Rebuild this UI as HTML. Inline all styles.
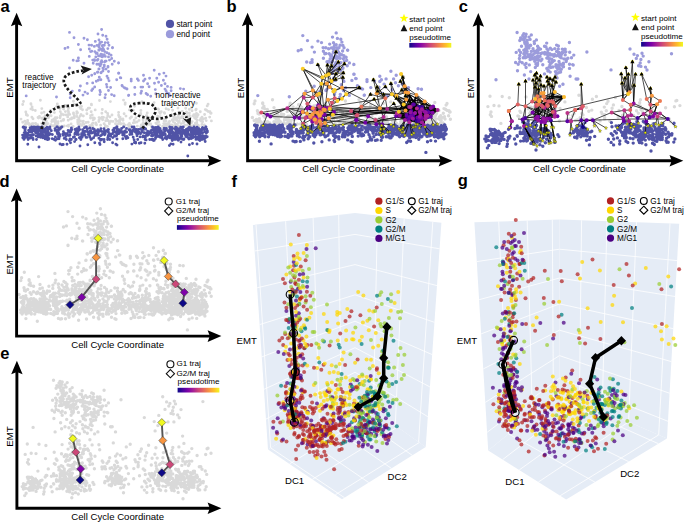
<!DOCTYPE html><html><head><meta charset="utf-8"><style>html,body{margin:0;padding:0;background:#fff;width:685px;height:522px;overflow:hidden}svg{display:block}text{font-family:"Liberation Sans",sans-serif}</style></head><body><svg width="685" height="522" viewBox="0 0 685 522"><defs><linearGradient id="plasma" x1="0" x2="1" y1="0" y2="0"><stop offset="0" stop-color="#0d0887"/><stop offset="0.13" stop-color="#4c02a1"/><stop offset="0.25" stop-color="#7e03a8"/><stop offset="0.38" stop-color="#a92395"/><stop offset="0.5" stop-color="#cc4778"/><stop offset="0.63" stop-color="#e56b5d"/><stop offset="0.75" stop-color="#f89441"/><stop offset="0.88" stop-color="#fdc328"/><stop offset="1" stop-color="#f0f921"/></linearGradient></defs><text x=".4" y="11.8" font-size="16.5" font-weight="bold">a</text><path d="M77.7 119.9h0M187.8 125.3h0M147.1 125.1h0M45.3 118h0M182.3 111.4h0M201.4 119.9h0M193.6 125.4h0M129.4 123.5h0M47.9 123.6h0M57 117.7h0M198.2 125.1h0M126 116.1h0M54.7 118.6h0M189.7 119.8h0M143.2 122.8h0M129.4 109.9h0M92.2 114.9h0M98.9 121.6h0M66 114.9h0M27.3 123.5h0M188.2 124.3h0M109.8 116.9h0M125.1 104.2h0M81.9 125.4h0M164.3 112.7h0M24.8 121.2h0M91.5 125.5h0M25.8 112h0M43.6 123.6h0M205.7 118.1h0M146.3 115.7h0M102.2 117.3h0M120.6 124h0M187.6 117.6h0M86.1 122.5h0M133.3 122.9h0M151.3 126.6h0M88.2 122.2h0M119.7 119.6h0M166.9 124.3h0M194.6 117.8h0M49 115.4h0M199.2 126.6h0M21 119.1h0M164.6 113.2h0M175.6 127h0M46.3 121.2h0M100.4 118.2h0M176.5 119.3h0M22.7 122.3h0M140.7 113.5h0M172.3 120h0M118.5 123.5h0M159.4 125h0M63.5 120.2h0M58.1 121.7h0M89.7 125.6h0M54.4 121.6h0M86.4 126.6h0M202 117.2h0M130.1 126.1h0M85.3 126.5h0M72.1 118.4h0M202.8 118.8h0M105.3 126.6h0M208.2 111.5h0M119 121.1h0M120.1 117.3h0M192.1 110.7h0M162.6 126.5h0M131.5 117h0M101.9 113.3h0M188.6 117.2h0M99 120.3h0M197.2 116.8h0M33.2 123.6h0M102.6 119.7h0M119.7 120.5h0M202.6 121.8h0M68.2 120.2h0M174.8 123.1h0M149.9 118.3h0M157.7 116.1h0M140.9 110.5h0M206.5 110.2h0M83.9 124.1h0M96.5 124.8h0M59 126.7h0M29.7 125.6h0M60.9 126.6h0M195.8 109.8h0M181.3 117.6h0M41.6 113h0M135.9 117.9h0M112 115h0M134.2 120.3h0M146.6 119.6h0M78.9 118.3h0M204.6 114.5h0M109.4 123.8h0M140.6 114.5h0M142 101.6h0M55.3 122.3h0M31.9 117.3h0M99 117.6h0M166.7 117.3h0M176.5 124.4h0M160.2 113.4h0M41.7 118.2h0M195.4 114.5h0M174 119.6h0M188.5 123.4h0M120.5 119.2h0M195.8 110h0M29 123.5h0M25.8 126.7h0M23.9 126.2h0M68.5 126.2h0M67.7 116.9h0M56 126.4h0M128.9 126.7h0M27.5 115.4h0M133.4 110.2h0M51.9 125.8h0M150.2 120.1h0M24 126.4h0M79.6 121.5h0M200.2 120.3h0M123.4 126.5h0M175.8 117.6h0M146.3 121.5h0M137.3 126.1h0M56.7 124.7h0M130.3 125.4h0M27.6 120.5h0M173.9 118.5h0M204.3 124.9h0M184 122.1h0M29.7 124.9h0M85 127h0M81.1 114.7h0M41.6 126.4h0M140.3 114.9h0M173.1 121.5h0M80.2 124.4h0M185.7 108.3h0M173 126.2h0M44.8 125.6h0M167.2 125.6h0M189.5 123.2h0M57.9 123.6h0M130.1 118.2h0M142.6 124.6h0M137 122h0M38.5 126.2h0M146.9 116.2h0M141.3 124.9h0M178.2 125.7h0M174.3 125.7h0M82.8 123h0M158.6 122h0M186.5 112h0M191.4 122.9h0M51 124.8h0M25.1 124.4h0M145 123.6h0M61.2 121.1h0M128.2 124.7h0M201.4 121.3h0M92.8 123.1h0M68.5 125.1h0M107.6 113.4h0M146.2 122.2h0M39.4 116.5h0M93.1 117.9h0M45.7 124.9h0M147.2 113h0M179.5 118.5h0M92.4 125.7h0M91.4 104.2h0M123.6 123.6h0M61.3 113.6h0M67.5 115.3h0M83.3 121.3h0M107.8 115.5h0M35.7 123.7h0M164.5 124.6h0M131.2 111.3h0M77.5 112.7h0M34.9 126.1h0M166.5 124.8h0M45.2 115.7h0M45.6 120.7h0M45.1 123.2h0M35.6 123.4h0M194 126h0M71.7 118h0M78.8 120h0M179.9 126.5h0M139 120.4h0M55.9 121.7h0M103.5 117.4h0M189.7 123.4h0M92.1 124.2h0M156.5 123.7h0M38.6 118h0M159.6 112.2h0M169.1 121.8h0M178.5 126.5h0M149.4 124.2h0M91.2 111.7h0M32.3 123.7h0M119.6 121.6h0M165.4 119.2h0M56.6 106.7h0M71.1 124h0M122.9 118.9h0M163.7 123.6h0M192.1 121.6h0M44.1 126.9h0M55.4 120.2h0M173.5 102.2h0M143.7 125.9h0M158.4 122.1h0M211.4 120.9h0M200.3 111.7h0M181.9 116.8h0M169.2 124.2h0M95.8 124.3h0M143.1 119.9h0M55.4 122.1h0M165.8 126.6h0M165.5 118.8h0M158.5 109.4h0M105.4 125.6h0M92.6 126.6h0M100.6 125.2h0M26.4 114.9h0M182.1 126.7h0M124.1 113.8h0M94.4 118.3h0M125.2 125.3h0M158.6 125.2h0M93.2 119.9h0M179.5 117.6h0M196.5 113.4h0M94.4 118.8h0M46.5 124h0M166 121.1h0M210.6 113.3h0M48.4 117.7h0M156.8 122.6h0M178.5 122.6h0M196.7 122.7h0M43.7 117.7h0M37.6 124.8h0M209.7 117.1h0M42.4 118.8h0M53.9 119.3h0M130.4 125.2h0M105.7 120.7h0M164.1 120.9h0M56.6 124.7h0M195.6 118.7h0M61.7 126.3h0M167.7 123.8h0M33 118.8h0M110.9 121.3h0M26.3 123h0M80.3 116.1h0M79.9 106.9h0M158.2 109h0M107.4 126.4h0M30.9 125h0M211.1 113.2h0M190.6 125.9h0M195.9 118.2h0M67.3 125.9h0M95.7 122.9h0M63.6 119.5h0M44 112.2h0M26.3 114.1h0M116.6 121h0M43.6 120.2h0M53.9 125.7h0M185.2 125.1h0M113 121.4h0M55.3 124h0M148.6 122.5h0M71 119h0M121.2 123.7h0M74.3 117.8h0M119.1 116.8h0M140.7 126.8h0M123 120.3h0M96 123.8h0M171.8 125h0M187.7 120.7h0M54.4 112.6h0M46.2 117.7h0M41.7 123.6h0M208.1 104.2h0M200.8 118.4h0M64.3 126h0M206.2 120.6h0M59.9 108.5h0M117.2 124.9h0M115.5 123.7h0M195.7 116.1h0M27.8 122.6h0M80.5 121h0M135.2 122.4h0M32.7 109.7h0M65.4 111.6h0M109.3 121.9h0M189.1 120.8h0M166.1 108.8h0M179.2 121.3h0M166.1 125.3h0M155.9 123.1h0M183.1 120.9h0M150.8 123.9h0M161.3 111.8h0M77.9 123.7h0M52.2 120.3h0M165.3 124h0M51.8 121.6h0M196.5 123.9h0M134.6 106.2h0M83.3 116h0M80.6 108.6h0M99.5 100.5h0M118.6 112.4h0M75.5 104.5h0M35.3 110.5h0M55.3 117.6h0M48.4 117.2h0M64 126.1h0M76.8 113.6h0M31 104.3h0M82.5 109.7h0M41.8 108.6h0M81.5 106.5h0M72.6 118h0M68.1 110.5h0M73.4 101.2h0M63.1 119.9h0M61.5 114.2h0M38 117.5h0M74.3 115.7h0M115.6 119.4h0M118.6 115.3h0M104.1 123.7h0M90.5 118h0M60.1 117.7h0M106.7 117.9h0M73.8 104.8h0M73.5 113.8h0M68.6 113.2h0M77 116.5h0M65.4 105.5h0M73.2 126.4h0M51.1 115.7h0M66.8 106.5h0M125.2 103h0M73.5 113h0M69.7 114.4h0M86.7 110h0M90.6 115.6h0M50.5 110.5h0M70.4 118.9h0M95.2 109.9h0M80.9 114.7h0M77.7 121.9h0M60.1 107.9h0M76.8 111.7h0M63.6 109.1h0M107.8 120.5h0M32.1 107h0M60.3 111.6h0M63.4 114.8h0M89.6 108.1h0M88.3 108.3h0M105.7 111.7h0M40.4 100.3h0M91.5 104.9h0M68.5 112.1h0M60.4 116h0M86.9 113.7h0M160.2 116.7h0M178.5 115.2h0M196.2 109.2h0M192.8 115.9h0M183.9 121.3h0M172.6 110.2h0M193.8 114.6h0M176.9 120h0M168.6 109.6h0M173.8 117.1h0M205.3 109.6h0M188.1 122.8h0M198.1 114.7h0M176.6 120.4h0M182.8 116.7h0M195.7 125.3h0M178 108.1h0M183.8 122.3h0M189.6 115.7h0M201.9 124.5h0M178.2 117.1h0M160.6 112h0M181.1 117.7h0M185.2 120.4h0M186.5 116.2h0M203.4 118.9h0M189.4 112.9h0M196.4 103.2h0M169.6 121.4h0M197.2 120.2h0M195.8 116.4h0M188.5 122.2h0M187.2 113.3h0M210 111.8h0M172 114.9h0M183.4 123.1h0M191.4 107.7h0M195.4 123.2h0M178.9 112.2h0M189.3 109.4h0M181.1 123.6h0M22.7 104.5h0M154.1 102.6h0M57.3 104h0M110.4 101.6h0M207.2 105.9h0M123.5 100.1h0M30.9 108.9h0M102.3 109.5h0M146.8 103.9h0M30.9 103.6h0M68.5 108.3h0M23.5 101.5h0" fill="none" stroke="#d9d9d9" stroke-width="2.9" stroke-linecap="round"/><path d="M69.5 32.4h0M101.6 29.5h0M74 37.7h0M84 38.2h0M87.4 39.8h0M98 34h0M102.7 35.3h0M106 36.3h0M107.1 39.3h0M108 42.7h0M95.3 41.4h0M99 40h0M100 42.7h0M101.6 42.1h0M78.4 44.5h0M89 45.1h0M91.6 45.3h0M94.3 46.4h0M99 46.9h0M102.2 45.8h0M104.3 45.3h0M112.4 47.7h0M65 48.5h0M67.9 47.4h0M89.3 49h0M80.6 49.8h0M90.6 51.6h0M94.8 51.6h0M96.9 52.9h0M100.6 49h0M102.2 50.6h0M104.8 51.6h0M106.9 52.7h0M109 53.7h0M111.1 55.3h0M89.3 56.4h0M95.8 56.9h0M100 55.8h0M102.2 56.9h0M105.3 56.4h0M108.5 56.9h0M111.7 58.5h0M78.4 58h0M78.4 60.6h0M73.2 60.3h0M76.9 60.9h0M92.7 60.1h0M98 59.5h0M101.6 60.6h0M105.3 61.1h0M109.5 60.1h0M114.3 61.3h0M118.5 63h0M93.2 63.2h0M96.9 64.3h0M101.1 64.3h0M104.3 65.3h0M108 66.4h0M112.2 64.3h0M84 63.2h0M69.5 68h0M99 69h0M103.2 69.5h0M108.5 71.4h0M118.5 73.2h0M97.4 72.2h0M94.8 73.8h0M101.1 72.7h0M98.8 69.1h0M102.9 68.1h0M106 69.1h0M108 67h0M108.5 71.6h0M100.9 72.7h0M97.8 72.2h0M94.7 73.7h0M91.7 75.2h0M88.6 76.8h0M118.8 73.2h0M120.3 77.8h0M116.7 79.8h0M99.3 77.3h0M100.9 79.8h0M98.3 80.3h0M96.3 81.3h0M92.7 82.9h0M107 76.2h0M108 78.3h0M109 80.8h0M87.1 83.4h0M106.5 84.4h0M107 87h0M110.6 87.5h0M80.4 86h0M94.7 87h0M92.7 89h0M91.7 90.5h0M99.9 90.5h0M100.4 92.1h0M108.5 90.5h0M122.3 86h0M124.9 88h0M127 89h0M79.4 90.5h0M85 92.1h0M87.6 93.6h0M83 95.1h0M72.3 91.1h0M70.2 94.1h0M70.2 97.7h0M99.9 94.6h0M105.5 94.6h0M105 97.7h0M111.6 94.6h0M114.2 95.7h0M128.5 95.5h0M154.2 70.2h0M159.3 74.3h0M163.9 73.1h0M166 76.1h0M143.5 75.3h0M149.6 78.2h0M156.8 78.2h0M145 79.2h0M143.5 81h0M137.4 78.9h0M138.4 80.4h0M131.2 79.2h0M131.2 81h0M120.8 77.9h0M163.4 80.2h0M158.6 82.3h0M154.5 83.3h0M147.6 83.7h0M165 83.7h0M149.1 86.8h0M161.4 85.5h0M167.5 86.4h0M171.1 87.4h0M122 85.5h0M124.1 87.6h0M126.6 88.8h0M134.8 87.4h0M141 87.1h0M142.7 87.1h0M155.3 89.6h0M165 89.1h0M166 90.7h0M171.1 90.7h0M180.3 88.6h0M183.6 89.1h0M141.5 91.2h0M140.9 93.2h0M146.1 93.5h0M147.6 94.7h0M150.7 96.3h0M134.8 94.5h0M128.7 95.3h0M155.8 93.7h0M167 92.7h0M169 93.7h0M170.1 95.8h0M112.6 47.8h0M118.6 62.9h0M26.2 95.9h0M56.5 97h0M103 48.5h0M104.3 54.7h0M101.8 62.1h0M99 50.3h0M101 54.1h0M98.5 55.9h0M103.3 55.5h0M109 45.2h0M100.8 55.6h0M100.2 65.9h0M105.2 42.6h0M104.6 61.9h0M103.5 56h0M98.8 49.9h0M102.9 71h0M106.1 61.1h0M97 45.4h0M100.9 55.6h0M94.4 59.6h0M97.2 53.5h0M94.7 60.5h0M101.9 54.5h0M97.3 60.3h0M104.2 66.5h0M103.7 49.6h0M102.2 56.6h0M91.7 51.3h0M100.6 56h0M102.8 45.5h0M103.5 50.4h0M96.1 53.4h0M100.9 62.2h0M98.6 64.2h0M99.4 44.4h0M107.8 48.6h0" fill="none" stroke="#9b9bdb" stroke-width="2.9" stroke-linecap="round"/><path d="M171.1 133.3h0M75.7 139.5h0M155.7 130.3h0M84.3 134h0M134 127h0M193.8 128.2h0M32.6 138h0M171.8 129.4h0M122.7 135h0M92.6 132.8h0M87.3 129h0M35.3 131.7h0M70.3 131h0M137.8 131.1h0M40.6 135.9h0M146.3 135.5h0M200.5 130.8h0M203.9 129.6h0M187 134.1h0M171.7 132.6h0M55.4 136.9h0M202 139.5h0M60 136.2h0M183.3 132.9h0M184.9 132.3h0M137.6 129.7h0M118.9 129.6h0M59.6 129.2h0M118.6 131.5h0M76.3 131.4h0M45.8 135.8h0M46.2 131.5h0M170.7 132.2h0M193.1 128.4h0M48.7 139.2h0M25 134.9h0M71.3 139.5h0M47.4 136h0M57.4 138.7h0M130.4 132.1h0M100.6 135.7h0M101.9 139.5h0M60.5 128.4h0M145.4 137.5h0M76.1 139.5h0M96.3 134.6h0M108.2 135.9h0M189.8 137.9h0M68.1 130.5h0M155.5 134.6h0M79.7 129.6h0M188 130.4h0M95.4 130.6h0M116 132.4h0M184.8 133.6h0M147 134.8h0M40 127.5h0M47.8 139.5h0M205.8 137.5h0M27.9 135.8h0M78.2 131.6h0M199.9 132.7h0M25.3 135.1h0M52.4 134.6h0M62 127h0M38.5 135.9h0M109.8 139.5h0M132.1 127h0M81.4 136.9h0M42.6 134.4h0M172.5 132.6h0M171.3 138.3h0M126.5 128.4h0M48 133.6h0M122.8 138.7h0M139 132.2h0M101.7 131.4h0M182.3 133.4h0M94.7 131.3h0M117 139h0M43.6 129.5h0M126.8 136.4h0M164.3 128.1h0M157.8 135.6h0M70 132.6h0M206 127h0M155.7 133h0M100.9 128.8h0M99.3 131.3h0M166.7 139h0M55 128.6h0M140.8 128.9h0M155.5 138.6h0M118 133.5h0M184 139h0M109.2 134.3h0M108.5 129.6h0M75.2 132.7h0M192.6 137.8h0M81 136.7h0M151.1 133h0M98.2 133.2h0M195.6 132.6h0M197.9 130.7h0M28.1 139.5h0M206.5 133h0M134.4 128.6h0M36.2 131.1h0M114.5 135.8h0M31.7 135.5h0M124 132.5h0M56.8 130.4h0M90.6 133.1h0M78.9 127h0M133.9 127.9h0M174.6 136.1h0M195.8 131.1h0M83.3 134.5h0M127.9 137.8h0M23.6 135.5h0M91.4 133.1h0M200.2 139.5h0M44.5 135.6h0M183.4 131.6h0M143.2 135.9h0M76.9 134.6h0M166.5 129.7h0M76 133.3h0M188 132.4h0M37.8 127h0M44.5 132.3h0M161.3 131.9h0M105.6 131.3h0M49.8 127h0M117.5 131.6h0M77.4 132.8h0M124.1 133.4h0M160.1 128.6h0M181 135.5h0M33.4 128.3h0M132.1 132.1h0M204.5 138.1h0M107.6 130.3h0M164.9 131h0M40.5 137.2h0M184.1 131.5h0M130.2 131.8h0M186.8 133.9h0M168.1 137.1h0M183.3 127h0M33.1 129.8h0M154.9 129.1h0M58.9 128.8h0M71.7 129.7h0M82.6 129.7h0M131.9 134.2h0M138.7 129.5h0M194.8 133.5h0M24.9 134.6h0M58.3 130.2h0M89.5 133.5h0M173.8 139.4h0M124.2 134.3h0M117.2 130.5h0M163.1 132.7h0M143.7 129.4h0M76.1 134.1h0M38.6 136.4h0M108 129.8h0M185.3 132.2h0M133.2 137.3h0M32.4 131.1h0M103.9 133.7h0M93.7 129h0M130.2 129.8h0M131.1 131h0M198.5 139.5h0M85 131.4h0M98 131h0M136 130.9h0M186.5 132.4h0M153.1 135.5h0M109.6 133.7h0M173.2 139.5h0M112.3 133.8h0M200.8 138.5h0M74.8 134.1h0M46.1 135.3h0M176.1 127.5h0M77.5 132.5h0M179.3 132.7h0M135.2 132.1h0M116.7 127h0M38.6 136.3h0M168 131.5h0M34.7 131.3h0M201.1 132h0M184.7 132.1h0M78.5 134.5h0M46.2 128.2h0M186.3 129.5h0M111.3 134.1h0M45.6 133.6h0M114.7 131.6h0M68.2 130.8h0M97.9 129.8h0M140.9 132.8h0M191.8 137.5h0M170.7 129h0M52.3 138.8h0M110.8 136.2h0M113.5 131.3h0M205.6 136h0M38.6 127.4h0M117 127h0M191.7 128.1h0M96.3 131.4h0M70.9 131.8h0M125.3 131h0M81.7 133.4h0M194 127h0M38.2 134.9h0M60.7 127.6h0M38 130.5h0M154.2 131.4h0M76.7 128.6h0M189 127.8h0M187.8 129.2h0M195.7 133h0M69.9 135.2h0M22.6 135.1h0M94.2 129.2h0M200.6 130h0M163.8 129.5h0M33.5 134.7h0M152.5 127h0M192.2 137.7h0M201.5 131.2h0M155 130h0M182.2 134.3h0M178.2 136.9h0M88.8 134.3h0M40.8 137h0M157.1 133.5h0M47.8 137.7h0M93.6 137.7h0M206.7 132.6h0M126.1 138.5h0M119 133.6h0M197.9 133.3h0M75 129.5h0M207.4 131.9h0M191.2 136h0M89.8 128h0M83 135.5h0M45.9 134.3h0M191.9 134.1h0M56.9 127h0M24.2 132.6h0M187.2 135.5h0M133.2 130.1h0M146.8 133.3h0M158.1 127h0M30.4 135.6h0M39.5 130.5h0M115 136.3h0M31.8 127h0M115.8 135.6h0M158.7 132.1h0M144.1 136.1h0M136.6 129.5h0M31.1 130.6h0M66.3 139.5h0M188.5 129.8h0M45.3 130.3h0M121.1 131.9h0M31.8 129.1h0M196.3 137.5h0M54.2 139.5h0M98.4 130.3h0M123.7 127h0M155.5 137.5h0M195.9 137.2h0M158.7 136.1h0M86.8 137.4h0M36.4 129.7h0M153.4 132.4h0M202.4 127.7h0M25.6 127.6h0M165.8 136.7h0M55.1 130.4h0M107.6 139.5h0M119.2 133.3h0M136.2 130.6h0M205.6 136h0M149.7 139.5h0M95.1 134.8h0M154.8 128.4h0M108.8 134.4h0M98.9 138.2h0M90.1 131.1h0M113.8 130.1h0M74.5 136.9h0M67.3 133.5h0M50 128.8h0M103.9 131.6h0M76.8 130.1h0M177.3 134.1h0M179.4 133.4h0M86.1 137.4h0M137 135.7h0M189.4 127.1h0M88.9 134.5h0M125.1 136.4h0M104.6 134.7h0M142.8 136.9h0M200.1 130.9h0M48.1 129.4h0M201.1 136.5h0M145.7 129h0M169.7 127h0M140 136.9h0M183.5 130.2h0M82.9 131.8h0M153.5 127.7h0M71.4 128h0M116.6 128.6h0M148.6 131.6h0M59.7 134.4h0M33.8 127h0M168.8 135.9h0M172.2 128.5h0M145.6 128.9h0M82 135.6h0M144.3 132.7h0M38 127.2h0M145.1 139.5h0M129.1 129.7h0M136.7 133.9h0M105.2 133.8h0M64.2 138.4h0M156.8 131.3h0M108.4 136.8h0M160.4 130.2h0M89.9 137.3h0M38.7 130.1h0M122.9 131.6h0M137.7 139.5h0M193 134.2h0M186.7 133.4h0M33.1 139.5h0M165.3 134.4h0M70.9 129.9h0M151.5 135.8h0M92.7 128.5h0M82.1 137.3h0M112.8 137.6h0M120.6 130.8h0M151 130.6h0M140.5 133.7h0M148 133.1h0M93.6 129.3h0M147.8 135.2h0M86.4 127h0M134.9 131.4h0M107.5 131.5h0M126.6 132h0M25.7 134.2h0M114.8 128.3h0M63.2 135.2h0M93.9 132.3h0M36.1 130.5h0M144 127.8h0M187.8 128.5h0M88.1 134.4h0M41.9 129.3h0M137.2 133.2h0M46 137h0M187.4 136.9h0M45.2 138.9h0M89.4 131.9h0M114 128.9h0M44.3 136.9h0M81.5 134.2h0M73.4 137.3h0M154.5 133h0M205 137.5h0M89.6 136.2h0M168.8 135.7h0M48.5 134.9h0M129.8 134.5h0M102.6 133.9h0M75.8 133.9h0M174.5 136.8h0M160.6 131.1h0M47.3 139.5h0M76.6 132.6h0M174.1 136.7h0M206.1 132.7h0M135.6 132.1h0M183.8 139.5h0M204.6 131.8h0M159.5 128.1h0M141.8 130.3h0M63.4 131.8h0M91 139.5h0M137.9 133.8h0M193.9 136.6h0M78.3 129.2h0M95.6 134.3h0M26.6 135.6h0M151.4 139.5h0M104.6 130.4h0M170.1 135.3h0M65.7 134.1h0M144.5 129.1h0M147 132.9h0M108.4 132h0M57.4 127h0M97 135.3h0M160.3 135.1h0M57.5 131.3h0M39.2 127.9h0M108.1 138.6h0M65.9 134h0M170.6 136.9h0M173.7 138.4h0M197.4 131h0M177.9 136.1h0M142.3 132.1h0M57.1 132.8h0M174.8 132.7h0M157.2 133h0M160.7 137.2h0M151.5 133.5h0M176.1 132.4h0M77.6 131.9h0M146.9 134.3h0M118.2 129.6h0M85 131.1h0M83 132.8h0M51.3 130.8h0M113.4 132.5h0M90.7 130.7h0M100.5 139.5h0M180.1 138.1h0M148.6 134.7h0M148.3 132.8h0M204.5 139.5h0M62.8 134.2h0M116.5 132.7h0M39.6 134.2h0M95.2 134.2h0M198.3 138.4h0M38.4 132.9h0M162.7 139.5h0M182.6 129.6h0M116.7 135.6h0M170.1 129.2h0M104.1 139.5h0M87.9 131.7h0M116.1 132.8h0M58.5 136.5h0M79.4 137.8h0M79 128.8h0M205.4 131.7h0M84.5 127.7h0M64.8 133.5h0M196.4 132.6h0M48.1 131.7h0M201.2 130.4h0M180.4 131.5h0M142.2 130.2h0M101.6 135h0M59 138.8h0M42.1 127h0M41.7 132.6h0M87.1 131.4h0M97.8 134.9h0M193.4 129.4h0M121.7 132.4h0M205.8 129h0M155.9 135.6h0M49.6 133.4h0M124.9 132.4h0M52 134.4h0M29.8 132.1h0M197.1 127.1h0M85 135.3h0M57.6 134.1h0M41.3 132.4h0M143.1 136.7h0M107.8 137.6h0M24.7 128.8h0M154.8 130h0M70 138.9h0M166.9 138.4h0M112.9 130.2h0M121.6 128.5h0M107.1 130.6h0M147.6 131.1h0M205.7 127h0M170.1 133.1h0M35.3 128.1h0M114 128.4h0M65.8 136.5h0M41.4 130.4h0M58.6 132.7h0M68.4 135.4h0M200 136.1h0M160.3 131.7h0M180.3 133.2h0M151.8 129.9h0M80.9 139.5h0M94.9 135.5h0M104 128.8h0M76.8 133h0M100.5 135.7h0M165.2 134.8h0M36.5 139.5h0M186.6 134.9h0M177.5 131.7h0M179.3 128.9h0M190.6 134.8h0M183.5 133.1h0M199.9 131.3h0M179 130.2h0M175.4 135.7h0M207.4 131h0M185.2 134.2h0M191.6 130.2h0M181.8 136.4h0M181.8 131.7h0M188.1 133h0M200.7 138.6h0M176.3 136h0M202.2 136.2h0M207.2 131.2h0M193.2 137.5h0M186.7 131.8h0M182.6 139.4h0M180.9 138.2h0M185.5 135.2h0M202.7 137.4h0M175.1 133.8h0M200.5 136.2h0M196.7 128.6h0M175.6 139.4h0M177.3 137h0M198.9 128.8h0M196.9 130h0M185.2 134.2h0M203 136.5h0M181.8 128.9h0M188.9 139h0M178.7 131.3h0M196 139.4h0M177.8 136.4h0M180.8 133.1h0M199.9 131.5h0M191.3 128.2h0M196.5 128.1h0M198.9 134.9h0M194.7 136.7h0M181.4 138.3h0M197.7 131.6h0M178.8 138.7h0M183.8 130.7h0M189.6 138.7h0M178.7 138.5h0M178.4 128.9h0M196.2 137.8h0M199.1 135.8h0M187 135.8h0M187.7 137.5h0M181.7 133.7h0M192 133.3h0M193.9 131.6h0M205.3 137.8h0M176.3 138.3h0M204.5 129h0M207.2 136.7h0M186.3 130.4h0M198.6 129.3h0M201.8 129.5h0M196.2 134.2h0M184.4 130.5h0M195.2 130h0M203.5 128.2h0M178.5 131.1h0M190.6 136.7h0M175.7 127.3h0M202.5 133h0M200.3 134.5h0M176.5 127.6h0M199.2 130.7h0M197.5 138.3h0M179.1 139.4h0M192.1 137.6h0M197.4 129.1h0M185.9 136.6h0M191.4 132.6h0M206.7 129.1h0M195.7 133h0M191.3 138.5h0M177.1 138h0M178.9 131.9h0M202.7 127.8h0M199.1 138.3h0M202.1 139.3h0M193.8 133.4h0M193.7 129.8h0M192.2 133.8h0M198.9 135.7h0M185.7 133h0M191.1 131.4h0M190.3 130.1h0M196.5 130.7h0M182 127.6h0M175.8 130.2h0M177.9 138.9h0M180.8 127.1h0M202.9 136.1h0M198.3 136.9h0M199.4 132.1h0M189.4 134.4h0M178.3 129.8h0M190.1 135.4h0M203 135.8h0M191.5 136.2h0M36 133.1h0M49.2 134.8h0M46.3 135.5h0M38.2 136.9h0M41.3 130.2h0M30.1 127.9h0M48.4 132.6h0M40.2 129h0M47.1 127.2h0M30.4 138h0M49.5 134.5h0M25.4 132h0M37.1 128.6h0M25.5 136.1h0M27.7 133.4h0M43.5 129.1h0M24.3 138.8h0M33 138.4h0M27.8 138.1h0M45.9 136.9h0M24.8 133.4h0M31.8 130.6h0M46 134.8h0M41.4 128.8h0M41.8 134.4h0M49.8 127.8h0M23.1 127.2h0M40.8 135.6h0M43 131.1h0M43.1 135.4h0M42.1 136.4h0M24.5 137h0M24.8 134.4h0M43.8 137.2h0M39.3 134.9h0M29.7 138.1h0M22.8 137.8h0M37.2 127.5h0M25 130.2h0M43.1 131.7h0M31.9 130h0M44.7 129.1h0M25.1 137.5h0M36.1 127.3h0M25.2 129.2h0M44 136.1h0M37.9 129.7h0M29 130.1h0M49 138.6h0M41.3 136.2h0M31.7 132.4h0M46 128.6h0M32.9 130.2h0M48.4 138.8h0M30.7 136.5h0M49.6 127.8h0M24.2 135.5h0M42.7 131.5h0M30.5 135.6h0M34.2 130.5h0M40 128.6h0M23.8 127.2h0M28.6 130.5h0M25.4 137.3h0M42.8 137.7h0M28.6 135.2h0M36.2 136h0M31.5 129.3h0M29 131.3h0M48.2 137.8h0M174.7 128.7h0M161.1 131.9h0M169.4 133.8h0M173.3 133.6h0M174.9 137.7h0M157.4 136.4h0M166.4 128.5h0M159.7 137h0M161.6 133.6h0M161.5 135.1h0M157 128.9h0M150.5 132.7h0M169.2 135.4h0M167.4 136.6h0M171 136.7h0M153.8 129.6h0M155.9 137h0M164.9 133.8h0M173.4 135h0M161.8 137.2h0M155 131.9h0M164.9 138h0M173.9 137.6h0M171.7 136.7h0M172.5 131.6h0M160.3 133.3h0M156.6 129.1h0M171.8 136.1h0M169.7 137.7h0M171.3 128.9h0M159.8 135.9h0M157.2 135.3h0M156 127.4h0M171.8 138h0M173 132.7h0M159.2 130.2h0M171.9 127.4h0M159.5 136.4h0M161.2 131.1h0M164.2 133.2h0M155.5 129.3h0M156.7 134.3h0M156.7 131.8h0M156.5 136.7h0M162.9 135h0M152.5 135.7h0M169.5 130h0M154.4 127.8h0M161.1 137.6h0M166 138.2h0M141 142.8h0M192.5 143.5h0M152.7 139.1h0M134.1 139.7h0M99.5 143.3h0M87.8 144.7h0M112.6 142.8h0M63.2 144.5h0M101.1 139.4h0M115.9 144.3h0M27.8 144.3h0M94.8 142.8h0M74.6 141.6h0M139.3 143.2h0M172.2 140.5h0M135.7 143h0M144.8 143.2h0M135.6 142.2h0M69.4 140.6h0M91.6 139h0M178.2 140.2h0M197 144h0M55.5 140.3h0M24 139.4h0M199.9 140.5h0M181 142.1h0M134.4 142.5h0M173.1 144.3h0M131.9 144.1h0M189.4 144.8h0M67 144.3h0M104.2 141.7h0M146.1 139.9h0M61.9 144.7h0M154.2 140.4h0M70.5 142.7h0M153.4 140.6h0M170.8 143.9h0M100.5 140.2h0M205.2 141.5h0M39 147h0M187.8 156h0M169.4 145.5h0M117 145h0M80 146h0M60 144h0M100 144.5h0" fill="none" stroke="#5053a6" stroke-width="2.9" stroke-linecap="round"/><path d="M16.6 23.7V160.7H210.4" fill="none" stroke="#000" stroke-width="2.9"/><path d="M16.6 12.7L22.3 26.3L16.6 24.1L10.9 26.3Z" fill="#000"/><path d="M221.4 160.7L207.6 154.9L209.8 160.7L207.6 166.5Z" fill="#000"/><text transform="translate(12.6 87.6) rotate(-90)" font-size="9.7" text-anchor="middle">EMT</text><text x="117.6" y="171.8" font-size="9.6" text-anchor="middle">Cell Cycle Coordinate</text><circle cx="170" cy="23.9" r="4.1" fill="#5053a6"/><circle cx="170" cy="34.2" r="4.1" fill="#9b9bdb"/><text x="176.4" y="26.8" font-size="8.2">start point</text><text x="176.4" y="37.1" font-size="8.2">end point</text><text x="39.2" y="79.6" font-size="8.2" text-anchor="middle">reactive</text><text x="39.2" y="87.9" font-size="8.2" text-anchor="middle">trajectory</text><text x="178.1" y="97.8" font-size="8.2" text-anchor="middle">non-reactive</text><text x="178.2" y="105.9" font-size="8.2" text-anchor="middle">trajectory</text><path d="M41.6 129C44 118 50 108 62 106.5S79 106 80.4 103C78 98 66 90 64 82.5S72 72 83 70.5" fill="none" stroke="#1a1a1a" stroke-width="2.7" stroke-dasharray="2.6 2"/><path d="M91.9 68.9L80.6 65.6L83.4 70.2L81.6 74.6Z" fill="#1a1a1a"/><path d="M142.3 128.4C148 121 156 116 155.5 110S148 102.5 139 103.2S128 107 133 112S146 118 155 118.8S172 114 179 113.2S186 116 186.5 118" fill="none" stroke="#1a1a1a" stroke-width="2.7" stroke-dasharray="2.6 2"/><path d="M190.3 125.7L182.4 117.9L186.6 119.6L191.2 117.2Z" fill="#1a1a1a"/><text x="-.5" y="186.6" font-size="16.5" font-weight="bold">d</text><path d="M76.3 295.3h0M187.4 300.5h0M146.4 300.2h0M43.6 293.5h0M181.8 287.2h0M201.1 295.4h0M193.2 300.6h0M128.5 298.7h0M46.3 298.9h0M55.4 293.2h0M197.8 300.3h0M125.1 291.7h0M53.1 294.1h0M189.3 295.2h0M142.4 298.1h0M128.4 285.8h0M91 290.5h0M97.7 297h0M64.5 290.5h0M25.5 298.8h0M187.8 299.6h0M108.7 292.4h0M124.2 280.3h0M80.5 300.6h0M163.6 288.4h0M23 296.5h0M90.2 300.7h0M24 287.7h0M41.9 298.8h0M205.4 293.6h0M145.5 291.3h0M101 292.9h0M119.5 299.2h0M187.2 293.1h0M84.8 297.8h0M132.4 298.2h0M150.5 301.7h0M86.9 297.5h0M118.6 295h0M166.3 299.5h0M194.2 293.3h0M47.3 291h0M198.9 301.7h0M19.1 294.5h0M164 288.9h0M175.1 302.1h0M44.6 296.5h0M99.2 293.7h0M176 294.8h0M20.8 297.6h0M139.8 289.2h0M171.7 295.4h0M117.5 298.8h0M158.7 300.2h0M61.9 295.6h0M56.5 297h0M88.4 300.8h0M52.8 296.9h0M85.1 301.7h0M201.8 292.8h0M129.2 301.2h0M84 301.7h0M70.7 293.9h0M202.5 294.3h0M104.2 301.8h0M208 287.3h0M118 296.5h0M119 292.8h0M191.8 286.6h0M162 301.6h0M130.6 292.6h0M100.7 289h0M188.2 292.7h0M97.8 295.7h0M196.8 292.4h0M31.4 298.8h0M101.4 295.2h0M118.7 295.9h0M202.3 297.1h0M66.7 295.6h0M174.2 298.4h0M149.1 293.7h0M157 291.7h0M140.1 286.3h0M206.3 286.1h0M82.5 299.4h0M95.2 300h0M57.4 301.8h0M27.9 300.7h0M59.3 301.7h0M195.4 285.7h0M180.8 293.2h0M39.9 288.7h0M135 293.4h0M110.9 290.6h0M133.3 295.7h0M145.8 295h0M77.5 293.8h0M204.3 290.1h0M108.3 299.1h0M139.8 290.1h0M141.1 277.8h0M53.7 297.6h0M30.1 292.8h0M97.8 293.1h0M166.1 292.8h0M176 299.7h0M159.5 289.1h0M40 293.7h0M195 290.2h0M173.5 295h0M188.1 298.6h0M119.5 294.6h0M195.5 285.8h0M27.1 298.7h0M23.9 301.8h0M22 301.4h0M67 301.3h0M66.2 292.4h0M54.4 301.5h0M127.9 301.8h0M25.6 291h0M132.5 286h0M50.2 300.9h0M149.4 295.5h0M22.2 301.5h0M78.2 296.9h0M199.9 295.7h0M122.4 301.6h0M175.3 293.1h0M145.6 296.9h0M136.4 301.2h0M55.1 300h0M129.4 300.5h0M25.8 295.8h0M173.4 293.9h0M204.1 300.1h0M183.5 297.4h0M27.9 300.1h0M83.7 302.1h0M79.7 290.4h0M39.9 301.5h0M139.5 290.5h0M172.6 296.8h0M78.9 299.6h0M185.2 284.2h0M172.5 301.3h0M43.1 300.8h0M166.6 300.7h0M189.1 298.5h0M56.3 298.9h0M129.2 293.7h0M141.8 299.8h0M136.1 297.3h0M36.7 301.3h0M146.2 291.7h0M140.5 300.1h0M177.7 300.9h0M173.7 300.9h0M81.5 298.3h0M158 297.4h0M186.1 287.8h0M191.1 298.1h0M49.4 300h0M23.3 299.7h0M144.2 298.8h0M59.7 296.5h0M127.3 299.9h0M201.1 296.6h0M91.6 298.4h0M67 300.3h0M106.5 289.1h0M145.4 297.5h0M37.7 292h0M91.8 293.4h0M44 300.1h0M146.4 288.7h0M179 294h0M91.1 300.8h0M90.1 280.3h0M122.6 298.9h0M59.7 289.3h0M66 290.9h0M82 296.6h0M106.7 291.1h0M33.9 298.9h0M163.9 299.8h0M130.3 287.1h0M76.1 288.4h0M33.1 301.2h0M165.9 300h0M43.5 291.2h0M43.9 296.1h0M43.4 298.4h0M33.8 298.7h0M193.7 301.2h0M70.2 293.5h0M77.4 295.5h0M179.4 301.6h0M138.2 295.8h0M54.3 297.1h0M102.3 292.9h0M189.3 298.7h0M90.8 299.4h0M155.8 299h0M36.8 293.5h0M159 288h0M168.5 297.1h0M178.1 301.6h0M148.7 299.5h0M89.9 287.5h0M30.5 299h0M118.6 296.9h0M164.8 294.7h0M55.1 282.7h0M69.7 299.2h0M121.9 294.4h0M163.1 298.8h0M191.8 296.9h0M42.4 302h0M53.8 295.6h0M173 278.3h0M142.9 301h0M157.8 297.4h0M211.2 296.2h0M200 287.5h0M181.4 292.3h0M168.6 299.4h0M94.6 299.5h0M142.3 295.3h0M53.8 297.5h0M165.2 301.8h0M164.9 294.3h0M157.8 285.2h0M104.3 300.7h0M91.3 301.7h0M99.4 300.4h0M24.5 290.5h0M181.6 301.8h0M123.2 289.5h0M93.2 293.8h0M124.2 300.5h0M157.9 300.4h0M92 295.3h0M179 293.1h0M196.2 289.1h0M93.1 294.2h0M44.8 299.2h0M165.4 296.4h0M210.4 289h0M46.7 293.2h0M156.1 297.9h0M178 297.9h0M196.4 298h0M42 293.2h0M35.9 300h0M209.5 292.7h0M40.7 294.3h0M52.3 294.8h0M129.5 300.3h0M104.5 296.1h0M163.5 296.3h0M55 299.9h0M195.2 294.2h0M60.2 301.5h0M167.1 299.1h0M31.2 294.2h0M109.8 296.7h0M24.4 298.3h0M78.9 291.7h0M78.6 282.8h0M157.5 284.9h0M106.2 301.6h0M29.1 300.2h0M210.9 288.9h0M190.2 301h0M195.6 293.7h0M65.8 301.1h0M94.4 298.2h0M62.1 295h0M42.3 287.9h0M24.5 289.7h0M115.6 296.4h0M41.9 295.6h0M52.2 300.9h0M184.8 300.3h0M111.9 296.8h0M53.7 299.2h0M147.9 297.8h0M69.6 294.4h0M120.2 299h0M72.9 293.3h0M118.1 292.4h0M139.8 301.9h0M122 295.7h0M94.7 299.1h0M171.3 300.2h0M187.3 296.1h0M52.8 288.4h0M44.5 293.2h0M40 298.9h0M207.9 280.3h0M200.5 293.9h0M62.8 301.1h0M206 296h0M58.3 284.4h0M116.2 300.1h0M114.4 299h0M195.3 291.7h0M25.9 297.9h0M79.2 296.3h0M134.3 297.7h0M30.9 285.5h0M63.9 287.4h0M108.2 297.2h0M188.7 296.2h0M165.5 284.6h0M178.7 296.6h0M165.5 300.4h0M155.2 298.4h0M182.7 296.2h0M150.1 299.2h0M160.6 287.5h0M76.5 298.9h0M50.6 295.7h0M164.6 299.3h0M50.2 296.9h0M196.2 299.2h0M133.7 282.2h0M81.9 291.6h0M79.2 284.5h0M98.2 276.7h0M117.5 288.1h0M74.1 280.6h0M33.6 286.3h0M53.7 293.1h0M46.8 292.7h0M62.4 301.3h0M75.3 289.3h0M29.1 280.4h0M81.2 285.6h0M40 284.5h0M80.2 282.5h0M71.1 293.5h0M66.6 286.3h0M72 277.4h0M61.6 295.3h0M60 289.9h0M36.2 293h0M72.9 291.3h0M114.5 294.9h0M117.5 290.9h0M102.9 298.9h0M89.2 293.5h0M58.6 293.3h0M105.6 293.4h0M72.3 280.9h0M72 289.5h0M67.1 288.9h0M75.6 292h0M63.9 281.5h0M71.7 301.6h0M49.5 291.3h0M65.3 282.5h0M124.2 279.2h0M72 288.7h0M68.3 290h0M85.4 285.8h0M89.3 291.2h0M48.9 286.3h0M69 294.3h0M94 285.8h0M79.6 290.4h0M76.3 297.2h0M58.5 283.9h0M75.4 287.5h0M62 285h0M106.7 295.9h0M30.2 282.9h0M58.7 287.4h0M61.8 290.4h0M88.3 284.1h0M87 284.2h0M104.5 287.4h0M38.6 276.6h0M90.2 280.9h0M67.1 287.9h0M58.8 291.6h0M85.6 289.4h0M159.5 292.3h0M178 290.8h0M195.8 285h0M192.4 291.5h0M183.5 296.6h0M172 286h0M193.5 290.2h0M176.4 295.4h0M168 285.4h0M173.2 292.6h0M205 285.5h0M187.7 298.1h0M197.8 290.3h0M176.1 295.8h0M182.3 292.3h0M195.4 300.5h0M177.5 284h0M183.4 297.6h0M189.2 291.3h0M201.7 299.7h0M177.7 292.7h0M160 287.7h0M180.6 293.2h0M184.8 295.8h0M186.1 291.8h0M203.2 294.4h0M189 288.6h0M196 279.3h0M169 296.7h0M196.8 295.6h0M195.5 292h0M188.1 297.5h0M186.7 289h0M209.8 287.5h0M171.5 290.5h0M183 298.4h0M191.1 283.6h0M195.1 298.4h0M178.4 287.9h0M188.9 285.3h0M180.6 298.8h0M20.8 280.6h0M153.4 278.7h0M55.7 280.1h0M109.3 277.8h0M207 281.9h0M122.5 276.3h0M29.1 284.8h0M101.1 285.4h0M146 280h0M29.1 279.7h0M67 284.2h0M21.6 277.7h0M68 211.6h0M100.4 208.8h0M72.6 216.6h0M82.7 217.1h0M86.1 218.7h0M96.8 213.1h0M101.5 214.4h0M104.9 215.3h0M106 218.2h0M106.9 221.4h0M94.1 220.2h0M97.8 218.8h0M98.8 221.4h0M100.4 220.9h0M77 223.2h0M87.7 223.7h0M90.3 223.9h0M93 225h0M97.8 225.5h0M101 224.4h0M103.1 223.9h0M111.3 226.2h0M63.5 227h0M66.4 225.9h0M88 227.5h0M79.2 228.2h0M89.3 230h0M93.6 230h0M95.7 231.2h0M99.4 227.5h0M101 229h0M103.6 230h0M105.8 231h0M107.9 232h0M110 233.5h0M88 234.5h0M94.6 235h0M98.8 234h0M101 235h0M104.1 234.5h0M107.4 235h0M110.6 236.6h0M77 236.1h0M77 238.6h0M71.8 238.3h0M75.5 238.9h0M91.4 238.1h0M96.8 237.5h0M100.4 238.6h0M104.1 239h0M108.4 238.1h0M113.2 239.2h0M117.5 240.9h0M91.9 241.1h0M95.7 242.1h0M99.9 242.1h0M103.1 243.1h0M106.9 244.1h0M111.1 242.1h0M82.7 241.1h0M68 245.6h0M97.8 246.6h0M102 247.1h0M107.4 248.9h0M117.5 250.6h0M96.2 249.7h0M93.6 251.2h0M99.9 250.1h0M97.6 246.7h0M101.7 245.7h0M104.9 246.7h0M106.9 244.7h0M107.4 249.1h0M99.7 250.1h0M96.6 249.7h0M93.5 251.1h0M90.4 252.5h0M87.3 254.1h0M117.8 250.6h0M119.3 255h0M115.7 256.9h0M98.1 254.5h0M99.7 256.9h0M97.1 257.4h0M95.1 258.4h0M91.4 259.9h0M105.9 253.5h0M106.9 255.5h0M107.9 257.9h0M85.8 260.4h0M105.4 261.3h0M105.9 263.8h0M109.5 264.3h0M79 262.9h0M93.5 263.8h0M91.4 265.7h0M90.4 267.2h0M98.7 267.2h0M99.2 268.7h0M107.4 267.2h0M121.3 262.9h0M123.9 264.8h0M126 265.7h0M78 267.2h0M83.7 268.7h0M86.3 270.1h0M81.6 271.6h0M70.9 267.8h0M68.7 270.6h0M68.7 274.1h0M98.7 271.1h0M104.3 271.1h0M103.8 274.1h0M110.5 271.1h0M113.1 272.2h0M127.6 272h0M153.5 247.8h0M158.6 251.7h0M163.3 250.5h0M165.4 253.4h0M142.7 252.6h0M148.8 255.4h0M156.1 255.4h0M144.2 256.4h0M142.7 258.1h0M136.5 256.1h0M137.5 257.5h0M130.3 256.4h0M130.3 258.1h0M119.8 255.1h0M162.8 257.3h0M157.9 259.3h0M153.8 260.3h0M146.8 260.7h0M164.4 260.7h0M148.3 263.6h0M160.8 262.4h0M166.9 263.3h0M170.5 264.2h0M121 262.4h0M123.1 264.4h0M125.6 265.6h0M133.9 264.2h0M140.2 263.9h0M141.9 263.9h0M154.6 266.3h0M164.4 265.8h0M165.4 267.4h0M170.5 267.4h0M179.8 265.4h0M183.2 265.8h0M140.7 267.8h0M140.1 269.8h0M145.3 270h0M146.8 271.2h0M150 272.7h0M133.9 271h0M127.8 271.8h0M155.1 270.2h0M166.4 269.3h0M168.4 270.2h0M169.5 272.3h0M111.5 226.3h0M117.6 240.8h0M24.3 272.3h0M54.9 273.4h0M101.8 227h0M103.2 233h0M100.6 240h0M97.8 228.7h0M99.8 232.3h0M97.3 234.1h0M102.1 233.7h0M107.9 223.8h0M99.6 233.8h0M99 243.6h0M104.1 221.4h0M103.4 239.8h0M102.3 234.1h0M97.6 228.3h0M101.7 248.5h0M105 239h0M95.7 224h0M99.7 233.8h0M93.2 237.6h0M96 231.8h0M93.5 238.4h0M100.8 232.7h0M96.1 238.3h0M103.1 244.2h0M102.5 228h0M101 234.8h0M90.4 229.7h0M99.4 234.2h0M101.6 224.1h0M102.3 228.8h0M94.9 231.7h0M99.7 240.1h0M97.4 242h0M98.2 223.1h0M106.6 227.1h0M170.5 308.1h0M74.2 314.1h0M155 305.2h0M83 308.8h0M133.1 302.1h0M193.4 303.3h0M30.7 312.7h0M171.3 304.4h0M121.7 309.8h0M91.4 307.6h0M86 304.1h0M33.6 306.6h0M68.8 306h0M136.9 306.1h0M38.8 310.6h0M145.6 310.2h0M200.2 305.8h0M203.7 304.6h0M186.6 308.9h0M171.2 307.5h0M53.8 311.6h0M201.7 314.1h0M58.4 310.9h0M182.8 307.7h0M184.5 307.2h0M136.7 304.7h0M117.9 304.6h0M58 304.2h0M117.6 306.4h0M74.9 306.3h0M44.1 310.6h0M44.5 306.4h0M170.2 307.1h0M192.8 303.4h0M47.1 313.8h0M23.1 309.7h0M69.8 314.1h0M45.7 310.7h0M55.8 313.3h0M129.5 306.9h0M99.4 310.5h0M100.7 314.1h0M59 303.4h0M144.7 312.1h0M74.6 314h0M95.1 309.4h0M107.1 310.6h0M189.4 312.5h0M66.6 305.4h0M154.8 309.4h0M78.4 304.6h0M187.6 305.3h0M94.2 305.6h0M114.9 307.3h0M184.3 308.4h0M146.2 309.5h0M38.2 302.6h0M46.1 314.1h0M205.5 312.2h0M26 310.6h0M76.8 306.5h0M199.6 307.5h0M23.4 309.9h0M50.7 309.4h0M60.4 302.1h0M36.7 310.6h0M108.7 314.1h0M131.2 302.1h0M80 311.6h0M40.9 309.2h0M172 307.4h0M170.8 313h0M125.5 303.4h0M46.3 308.5h0M121.8 313.3h0M138.1 307.1h0M100.5 306.3h0M181.9 308.3h0M93.4 306.2h0M116 313.6h0M41.9 304.5h0M125.8 311.1h0M163.7 303.2h0M157.1 310.4h0M68.6 307.5h0M205.7 302.1h0M155 307.8h0M99.7 303.9h0M98.1 306.2h0M166.1 313.6h0M53.4 303.7h0M140 303.9h0M154.8 313.2h0M117 308.3h0M183.6 313.6h0M108.1 309.1h0M107.4 304.6h0M73.7 307.6h0M192.2 312.4h0M79.6 311.4h0M150.4 307.9h0M97 308h0M195.2 307.4h0M197.6 305.7h0M26.2 314.1h0M206.2 307.9h0M133.5 303.6h0M34.4 306.1h0M113.4 310.6h0M29.8 310.2h0M123.1 307.3h0M55.2 305.4h0M89.3 307.9h0M77.5 302.1h0M133 303h0M174.1 310.8h0M195.4 306.1h0M82 309.3h0M126.9 312.4h0M21.7 310.3h0M90.1 307.9h0M199.9 314.1h0M42.8 310.3h0M183 306.5h0M142.4 310.6h0M75.5 309.4h0M165.9 304.7h0M74.6 308.1h0M187.6 307.2h0M36.1 302.1h0M42.8 307.2h0M160.6 306.8h0M104.4 306.2h0M48.1 302.1h0M116.4 306.5h0M76 307.7h0M123.1 308.2h0M159.4 303.6h0M180.5 310.2h0M31.6 303.3h0M131.2 307h0M204.2 312.7h0M106.4 305.3h0M164.3 305.9h0M38.8 311.9h0M183.7 306.4h0M129.3 306.7h0M186.4 308.7h0M167.5 311.8h0M182.9 302.1h0M31.3 304.8h0M154.2 304.1h0M57.4 303.8h0M70.2 304.7h0M81.2 304.7h0M131 309h0M137.8 304.5h0M194.5 308.3h0M23 309.3h0M56.7 305.1h0M88.2 308.3h0M173.3 314h0M123.3 309.1h0M116.2 305.5h0M162.5 307.6h0M142.9 304.4h0M74.7 308.9h0M36.9 311.1h0M106.9 304.8h0M184.9 307.1h0M132.3 312h0M30.5 306h0M102.7 308.5h0M92.4 304h0M129.3 304.8h0M130.2 305.9h0M198.2 314.1h0M83.7 306.4h0M96.8 305.9h0M135.1 305.8h0M186.1 307.2h0M152.4 310.2h0M108.5 308.5h0M172.7 314.1h0M111.2 308.6h0M200.5 313.1h0M73.3 308.9h0M44.4 310.1h0M175.6 302.6h0M76.1 307.4h0M178.8 307.6h0M134.4 307h0M115.6 302.1h0M36.8 311.1h0M167.4 306.4h0M32.9 306.3h0M200.8 306.9h0M184.3 307h0M77.2 309.3h0M44.5 303.2h0M185.9 304.5h0M110.2 308.9h0M43.9 308.4h0M113.7 306.5h0M66.7 305.8h0M96.7 304.8h0M140.1 307.6h0M191.5 312.1h0M170.1 304h0M50.7 313.4h0M109.7 310.9h0M112.4 306.2h0M205.3 310.7h0M36.8 302.5h0M115.9 302.1h0M191.3 303.2h0M95.1 306.4h0M69.5 306.7h0M124.4 306h0M80.4 308.2h0M193.7 302.1h0M36.4 309.7h0M59.2 302.7h0M36.3 305.4h0M153.5 306.3h0M75.3 303.6h0M188.6 302.9h0M187.4 304.2h0M195.4 307.8h0M68.4 310h0M20.7 309.9h0M93 304.2h0M200.3 305h0M163.2 304.5h0M31.7 309.5h0M151.7 302.1h0M191.8 312.4h0M201.2 306.1h0M154.3 305h0M181.7 309.1h0M177.7 311.6h0M87.5 309.1h0M39.1 311.7h0M156.4 308.3h0M46.2 312.3h0M92.3 312.4h0M206.5 307.5h0M125.1 313.1h0M118 308.5h0M197.5 308.2h0M73.6 304.5h0M207.2 306.8h0M190.8 310.7h0M88.5 303.1h0M81.7 310.2h0M44.2 309.1h0M191.5 308.9h0M55.3 302.1h0M22.3 307.5h0M186.7 310.2h0M132.2 305.1h0M146 308.2h0M157.5 302.1h0M28.6 310.3h0M37.7 305.4h0M113.9 311h0M30 302.1h0M114.7 310.4h0M158.1 307h0M143.3 310.8h0M135.7 304.5h0M29.3 305.6h0M64.8 314.1h0M188.1 304.8h0M43.6 305.3h0M120.1 306.8h0M29.9 304.1h0M195.9 312.2h0M52.6 314.1h0M97.1 305.3h0M122.7 302.1h0M154.7 312.1h0M195.6 311.9h0M158.1 310.8h0M85.4 312.1h0M34.7 304.7h0M152.7 307.2h0M202.1 302.8h0M23.8 302.7h0M165.2 311.4h0M53.5 305.4h0M106.5 314.1h0M118.2 308.1h0M135.3 305.5h0M205.3 310.8h0M148.9 314.1h0M93.8 309.6h0M154.1 303.4h0M107.7 309.2h0M97.7 312.9h0M88.9 306.1h0M112.7 305h0M73.1 311.5h0M65.8 308.4h0M48.3 303.8h0M102.8 306.5h0M75.3 305.1h0M176.8 308.9h0M178.9 308.2h0M84.8 312h0M136.2 310.4h0M189 302.2h0M87.6 309.3h0M124.1 311.1h0M103.4 309.5h0M142 311.6h0M199.8 305.9h0M46.5 304.4h0M200.8 311.2h0M144.9 304h0M169.2 302.1h0M139.2 311.6h0M183.1 305.2h0M81.5 306.7h0M152.8 302.8h0M69.9 303h0M115.6 303.6h0M147.8 306.5h0M58.1 309.2h0M32 302.1h0M168.2 310.6h0M171.6 303.6h0M144.9 304h0M80.6 310.3h0M143.5 307.6h0M36.3 302.3h0M144.3 314.1h0M128.2 304.7h0M135.8 308.8h0M104 308.6h0M62.6 313h0M156.1 306.2h0M107.2 311.5h0M159.7 305.2h0M88.6 311.9h0M37 305.1h0M121.9 306.5h0M136.9 314.1h0M192.7 309h0M186.3 308.3h0M31.3 314.1h0M164.7 309.2h0M69.4 304.9h0M150.7 310.5h0M91.4 303.6h0M80.7 312h0M111.7 312.2h0M119.6 305.8h0M150.2 305.6h0M139.7 308.5h0M147.2 307.9h0M92.3 304.3h0M147 309.9h0M85.1 302.1h0M134 306.3h0M106.4 306.4h0M125.7 306.9h0M23.9 309h0M113.7 303.4h0M61.7 310h0M92.6 307.2h0M34.4 305.5h0M143.2 302.9h0M187.4 303.5h0M86.8 309.2h0M40.2 304.3h0M136.4 308.1h0M44.3 311.7h0M187 311.6h0M43.5 313.5h0M88.2 306.8h0M112.9 303.9h0M42.6 311.6h0M80.1 309h0M72 311.9h0M153.8 307.9h0M204.7 312.2h0M88.3 310.9h0M168.2 310.5h0M46.8 309.7h0M128.9 309.3h0M101.4 308.7h0M74.4 308.7h0M174 311.5h0M159.9 306h0M45.6 314.1h0M75.2 307.5h0M173.6 311.4h0M205.9 307.5h0M134.8 307h0M183.3 314.1h0M204.3 306.7h0M158.8 303.2h0M141 305.3h0M61.9 306.7h0M89.7 314.1h0M137 308.6h0M193.5 311.3h0M76.9 304.2h0M94.4 309.1h0M24.8 310.3h0M150.7 314.1h0M103.4 305.3h0M169.5 310h0M64.2 309h0M143.7 304.1h0M146.2 307.8h0M107.3 306.9h0M55.8 302.1h0M95.8 310h0M159.7 309.8h0M55.9 306.3h0M37.4 303h0M107 313.2h0M64.4 308.8h0M170 311.5h0M173.2 313h0M197.1 306h0M177.4 310.8h0M141.5 307h0M55.5 307.6h0M174.2 307.5h0M156.5 307.8h0M160 311.9h0M150.8 308.3h0M175.5 307.3h0M76.2 306.8h0M146.1 309.1h0M117.2 304.6h0M83.7 306h0M81.6 307.7h0M49.6 305.8h0M112.4 307.4h0M89.4 305.6h0M99.3 314.1h0M179.6 312.7h0M147.8 309.5h0M147.6 307.7h0M204.3 314.1h0M61.3 309h0M115.4 307.5h0M37.9 309h0M93.9 309h0M198 313h0M36.6 307.8h0M162 314.1h0M182.1 304.6h0M115.6 310.4h0M169.5 304.2h0M102.9 314.1h0M86.6 306.6h0M115 307.6h0M57 311.2h0M78 312.4h0M77.6 303.8h0M205.1 306.6h0M83.2 302.8h0M63.3 308.4h0M196 307.5h0M46.5 306.6h0M200.9 305.4h0M179.9 306.4h0M141.4 305.1h0M100.5 309.8h0M57.4 313.4h0M40.4 302.1h0M40 307.4h0M85.8 306.3h0M96.6 309.6h0M193 304.4h0M120.7 307.3h0M205.5 304.1h0M155.2 310.4h0M47.9 308.2h0M123.9 307.3h0M50.4 309.2h0M27.9 307h0M196.8 302.2h0M83.7 310h0M56 308.9h0M39.6 307.3h0M142.3 311.4h0M106.7 312.3h0M22.8 303.9h0M154.1 305h0M68.5 313.5h0M166.3 313h0M111.8 305.2h0M120.6 303.6h0M105.9 305.5h0M146.8 306h0M205.4 302.1h0M169.5 308h0M33.5 303.2h0M113 303.4h0M64.3 311.2h0M39.7 305.4h0M57 307.6h0M66.9 310.1h0M199.8 310.8h0M159.6 306.6h0M179.8 308h0M151 304.8h0M79.5 314.1h0M93.6 310.2h0M102.9 303.8h0M75.4 307.9h0M99.3 310.4h0M164.6 309.6h0M34.7 314.1h0M186.2 309.7h0M177 306.6h0M178.8 303.9h0M190.2 309.6h0M183.1 307.9h0M199.6 306.2h0M178.5 305.2h0M174.9 310.4h0M207.2 305.9h0M184.7 309h0M191.2 305.2h0M181.4 311.1h0M181.3 306.6h0M187.7 307.8h0M200.4 313.2h0M175.8 310.7h0M201.9 310.9h0M206.9 306.2h0M192.8 312.2h0M186.3 306.7h0M182.1 313.9h0M180.5 312.8h0M185.1 310h0M202.4 312.1h0M174.6 308.6h0M200.2 310.9h0M196.4 303.6h0M175.1 313.9h0M176.8 311.7h0M198.6 303.8h0M196.5 305h0M184.8 309h0M202.7 311.2h0M181.4 303.9h0M188.5 313.6h0M178.2 306.2h0M195.6 314h0M177.3 311.1h0M180.4 307.9h0M199.6 306.4h0M190.9 303.3h0M196.2 303.2h0M198.5 309.6h0M194.4 311.4h0M181 313h0M197.4 306.5h0M178.3 313.3h0M183.3 305.7h0M189.2 313.4h0M178.2 313.1h0M178 304h0M195.9 312.4h0M198.8 310.5h0M186.6 310.5h0M187.3 312.2h0M181.3 308.5h0M191.6 308.2h0M193.5 306.5h0M205.1 312.5h0M175.8 312.9h0M204.3 304h0M207 311.3h0M185.8 305.4h0M198.3 304.3h0M201.5 304.5h0M195.8 309h0M183.9 305.5h0M194.9 305h0M203.2 303.3h0M178 306h0M190.2 311.4h0M175.2 302.4h0M202.2 307.9h0M200 309.3h0M176 302.7h0M198.9 305.6h0M197.2 313h0M178.6 314h0M191.7 312.3h0M197.1 304.1h0M185.5 311.3h0M191 307.5h0M206.5 304.2h0M195.3 307.9h0M190.9 313.1h0M176.6 312.6h0M178.4 306.8h0M202.4 302.9h0M198.8 312.9h0M201.9 313.9h0M193.4 308.2h0M193.4 304.8h0M191.9 308.6h0M198.6 310.4h0M185.3 307.9h0M190.8 306.3h0M189.9 305.1h0M196.2 305.7h0M181.6 302.7h0M175.3 305.2h0M177.4 313.5h0M180.4 302.2h0M202.6 310.8h0M198 311.5h0M199.1 307h0M189 309.2h0M177.8 304.8h0M189.7 310.1h0M202.8 310.6h0M191.2 310.9h0M34.2 307.9h0M47.5 309.6h0M44.6 310.2h0M36.5 311.5h0M39.5 305.1h0M28.2 303h0M46.8 307.5h0M38.5 304.1h0M45.4 302.3h0M28.6 312.7h0M47.9 309.3h0M23.5 306.9h0M35.3 303.7h0M23.7 310.9h0M25.9 308.2h0M41.8 304.1h0M22.4 313.4h0M31.2 313h0M25.9 312.8h0M44.2 311.6h0M22.9 308.2h0M29.9 305.6h0M44.4 309.6h0M39.7 303.8h0M40.1 309.2h0M48.1 302.9h0M21.3 302.3h0M39 310.3h0M41.3 306h0M41.4 310.1h0M40.4 311.1h0M22.6 311.7h0M22.9 309.2h0M42 311.8h0M37.6 309.7h0M27.9 312.8h0M20.9 312.4h0M35.4 302.6h0M23.1 305.2h0M41.4 306.6h0M30.1 305h0M43 304.1h0M23.3 312.1h0M34.3 302.4h0M23.4 304.2h0M42.3 310.8h0M36.1 304.7h0M27.1 305.1h0M47.3 313.2h0M39.5 310.9h0M29.9 307.3h0M44.3 303.7h0M31.1 305.2h0M46.8 313.4h0M28.8 311.2h0M47.9 302.9h0M22.3 310.2h0M41 306.4h0M28.7 310.4h0M32.4 305.5h0M38.3 303.6h0M21.9 302.3h0M26.8 305.5h0M23.5 312h0M41.1 312.3h0M26.7 310h0M34.4 310.7h0M29.7 304.3h0M27.2 306.2h0M46.6 312.4h0M174.1 303.7h0M160.4 306.8h0M168.8 308.6h0M172.8 308.4h0M174.4 312.4h0M156.7 311.1h0M165.7 303.5h0M159.1 311.7h0M161 308.4h0M160.9 309.9h0M156.3 303.9h0M149.7 307.5h0M168.6 310.1h0M166.8 311.3h0M170.5 311.4h0M153.1 304.6h0M155.2 311.7h0M164.3 308.6h0M172.9 309.8h0M161.2 311.9h0M154.3 306.8h0M164.3 312.7h0M173.4 312.2h0M171.1 311.4h0M171.9 306.5h0M159.6 308.2h0M155.9 304.1h0M171.2 310.8h0M169.1 312.3h0M170.7 304h0M159.1 310.7h0M156.5 310.1h0M155.3 302.5h0M171.2 312.6h0M172.4 307.6h0M158.5 305.2h0M171.3 302.5h0M158.9 311.1h0M160.5 306h0M163.5 308h0M154.8 304.3h0M156 309.1h0M156 306.7h0M155.8 311.4h0M162.3 309.8h0M151.8 310.4h0M168.9 305h0M153.7 302.8h0M160.4 312.2h0M165.4 312.9h0M140.2 317.2h0M192.2 317.9h0M151.9 313.7h0M133.2 314.2h0M98.3 317.7h0M86.5 319h0M111.5 317.2h0M61.6 318.8h0M99.9 313.9h0M114.9 318.7h0M25.9 318.6h0M93.6 317.2h0M73.2 316.1h0M138.5 317.6h0M171.6 315h0M134.8 317.4h0M144 317.6h0M134.7 316.7h0M67.9 315.1h0M90.3 313.6h0M177.7 314.7h0M196.7 318.4h0M53.9 314.8h0M22.1 314h0M199.6 315h0M180.6 316.6h0M133.5 317h0M172.6 318.6h0M131 318.5h0M189 319.2h0M65.5 318.7h0M103 316.2h0M145.3 314.4h0M60.3 319.1h0M153.5 314.9h0M69.1 317.2h0M152.6 315.1h0M170.2 318.3h0M99.3 314.7h0M204.9 316h0M37.3 321.2h0M187.4 329.9h0M168.8 319.8h0M116 319.3h0M78.6 320.3h0M58.4 318.4h0M98.8 318.9h0M68 245.2h0M87.1 253.8h0M90.6 252h0M93.1 250.6h0M95.9 257.5h0M86 260.3h0M98.9 266.8h0M97.7 268.1h0M83.9 270.4h0M110.1 271h0M106 275.5h0M101.6 277.8h0M94.2 285.8h0M97.2 291.7h0M91.4 260h0M94.2 263.6h0M77.7 267.3h0M69.7 270.4h0M81.8 271.7h0M106 264.3h0M92.4 276.5h0M89.2 287h0M77.7 285.2h0M82.2 289.8h0M75.1 293.5h0M68 288.9h0M89.5 300h0M93.1 295.3h0M77.7 274.1h0M72.4 280.6h0M83.9 283.4h0M98.9 275.1h0M96.3 279.6h0M27.7 289.4h0M52.9 285.2h0M68.9 274.1h0M114.8 287.9h0M121.1 292h0M33.5 291.7h0M36.6 293.5h0M60 294.4h0M64.5 295h0M67.1 288.9h0M89.2 291.7h0M85.6 301.3h0M119.6 297.1h0M81 299.9h0M77.3 291.5h0M84.7 292.7h0M68.2 300.9h0M85.4 292.3h0M83.9 297.2h0M79.8 296.5h0M70.5 295h0M67.8 288.9h0M72.7 285.4h0M86.9 291.8h0M83.4 296.6h0M84.5 298.3h0M75.3 294.7h0M88.3 286.5h0M75.1 284.2h0M84.4 289.2h0M86.4 296.2h0M87.3 286.2h0M84.9 284h0M79.1 296.9h0M80.7 294.7h0M84.9 292.4h0M77.2 298.5h0M79.6 296.2h0M93 285h0M84 292.5h0M89.3 286.6h0M89.6 284.9h0M71.9 294.2h0M94.5 284h0M85.6 301h0M75.7 294.5h0M79.4 289.3h0M82.9 292.5h0M72.1 290.5h0M79.5 285.7h0M84.4 303.7h0M77.7 285.6h0M98.2 288.8h0M84.8 288.8h0M78.4 294h0M80.9 297.6h0M83 282.2h0M86.2 290h0M163.4 250.3h0M166.8 262.9h0M167.6 269.1h0M170.1 269.5h0M154.5 271h0M158.8 272.5h0M168.3 276.2h0M165.9 281.3h0M178.2 271.7h0M186.3 278.4h0M139.7 270h0M148 275h0M142.8 285.1h0M124.8 283.6h0M167.6 287.3h0M161.2 288.7h0M198.8 287h0M149.9 285.8h0M146.4 293.9h0M138.5 296.9h0M131.4 293.2h0M120.2 292.5h0M120.2 296.9h0M114.9 288h0M128.6 299.9h0M139.3 301.3h0M144.9 301.3h0M159.4 290.2h0M183.5 299.3h0M187.7 291.3h0M172.4 289.2h0M174 291.5h0M175.8 281.3h0M180.8 298h0M173.2 287.9h0M185.4 302.2h0M171.6 294.1h0M183.7 295h0M180.3 283.6h0M188.7 287.8h0M174.7 295.4h0M181.5 293.7h0M174.9 291.1h0M182.2 292h0M167.2 296.9h0M172.4 290.9h0M181.3 288.8h0M171.4 299.3h0M168.6 292h0M194.4 283.5h0M183.5 283.9h0M187.5 294.6h0M187.1 292.9h0M175.3 291.3h0M170.6 296.4h0M169.3 294h0M187.2 289.1h0M174.8 291.3h0M158.5 293h0M172.7 283.8h0M170.5 296.6h0M178.6 298h0M162.1 292.8h0M175 293.7h0M171.2 283.7h0M176.9 290h0M193.9 289.6h0M187 295.9h0M175.4 296.1h0M185.8 288.5h0M189.8 294h0M192.3 285h0M178.6 285.3h0M181.8 285.5h0M175 281.4h0M181.1 295.5h0M179.2 294.6h0M189.1 292.8h0M183.5 286.1h0M192.1 293.8h0M181.8 289.3h0M173 293.5h0M190.4 289.1h0M100.2 228h0M82.5 240.9h0M91.9 241.3h0M95.9 242.2h0M102.4 238.2h0M108.3 240h0M103.4 245.2h0M100.2 250.1h0M107.3 249.2h0M106.9 253.8h0M99.8 255.7h0M122.4 264.3h0M136.5 256.2h0M165 253.7h0M162.7 257.7h0M153.5 260h0M148 263.2h0M140 263.6h0M123 264.3h0M140.7 267.7h0M133.6 271h0M146.4 271h0M137.2 275.9h0M158.8 275h0M164 266.5h0M167.6 272.5h0M156.3 280.3h0M29.4 302.7h0M59.2 303.6h0M68 302.3h0M72.9 306.4h0M76.9 309.2h0M83.6 303.6h0M84.8 306.4h0M87.8 310.1h0M106.9 301.8h0M119.2 302.7h0M181.2 305.4h0M152.4 309.1h0M143.5 306.5h0M177.4 303.7h0M173.8 311.9h0M193.3 310.1h0M167.1 312.5h0M188.6 311.1h0M143.9 312.2h0M144.5 302.6h0M177.7 301.3h0M156.1 303.5h0M146.8 306.1h0M150.3 309.4h0M164.7 306.4h0M162.5 307.3h0M175.7 310.3h0M194.6 301.9h0M164.2 309.3h0M153.6 301.7h0M176.5 304.1h0M143 309.9h0M165.3 309.4h0M161.4 306h0M165.4 304.7h0M145.8 311.1h0M175.1 304.4h0M179.2 301.5h0M186.5 304.1h0M198.6 301.3h0M92.1 303h0M66 305.6h0M98.2 302.3h0M69.4 304.1h0M73 310.4h0M83.5 304.7h0M73.1 304.6h0M75.7 308.3h0" fill="none" stroke="#d9d9d9" stroke-width="3.4" stroke-linecap="round"/><path d="M16.6 199.4V336.1H210.4" fill="none" stroke="#000" stroke-width="2.9"/><path d="M16.6 188.4L22.3 202L16.6 199.8L10.9 202Z" fill="#000"/><path d="M221.4 336.1L207.6 330.3L209.8 336.1L207.6 341.9Z" fill="#000"/><text transform="translate(12.6 264.4) rotate(-90)" font-size="9.7" text-anchor="middle">EMT</text><text x="117.6" y="347.7" font-size="9.6" text-anchor="middle">Cell Cycle Coordinate</text><text x=".2" y="358.7" font-size="16.5" font-weight="bold">e</text><path d="M155.6 462.9h0M141.4 449h0M202 469.3h0M83.3 451.2h0M188.4 465.6h0M92.1 444.9h0M145.4 456h0M173.4 457.4h0M94.4 468.8h0M103.9 467h0M139.7 458.6h0M39 444.2h0M120.5 455.2h0M36 453.6h0M61.1 471.6h0M138.2 462.5h0M205.7 454.5h0M211 453.3h0M68 465h0M45.9 445.5h0M117.9 466.4h0M103 462.2h0M91 455.4h0M166.3 463.3h0M154.9 454.3h0M126.3 446.9h0M137.9 454.8h0M130.2 444.2h0M148.6 445.3h0M197.1 455.5h0M200.8 466.7h0M207.1 448.7h0M184 457.3h0M37.9 471.1h0M105 466.7h0M168.8 468.9h0M74.6 462.3h0M135 459.8h0M28.3 459.6h0M57 460.2h0M95 456.2h0M31.2 453.2h0M99.7 449.7h0M62.1 444.6h0M184.4 453.5h0M79.3 465.1h0M91.3 458.8h0M172.8 447.5h0M125.9 466.4h0M27.3 444h0M59.7 469.8h0M135.8 461.7h0M56.2 458.9h0M65.6 454.7h0M138.1 466.7h0M113.3 442.9h0M69.7 443.2h0M125.8 457.8h0M140.2 451.4h0M25.2 454.4h0M70.6 458.3h0M77.1 444h0M187.6 471.3h0M27.5 462.4h0M84.8 445.6h0M55.2 464.2h0M152.1 458.2h0M174.6 462.7h0M28.7 464.1h0M184.6 471.5h0M54.3 463.6h0M81.5 457.5h0M82.3 462.9h0M78 454.5h0M70.3 454.7h0M74.2 450.8h0M65.7 461.2h0M77.3 463.4h0M64.2 470.5h0M69.9 465.5h0M78.5 459.2h0M64.2 456.5h0M69.3 460.1h0M72.9 457.6h0M62.7 466.5h0M79.7 463.4h0M74.1 452.7h0M61.5 453.6h0M71.5 466h0M66.5 459.6h0M67.3 456.4h0M72.3 464.9h0M67 455.4h0M78.3 456.1h0M67 455h0M138.2 465.3h0M187.5 453.2h0M151.3 465h0M162.5 462.3h0M159.4 464.6h0M185.1 462.1h0M171.2 453.5h0M172.7 453.9h0M143.2 468.9h0M170.9 461h0M146.7 452.7h0M177.7 461.5h0M178.8 457.9h0M172.1 450.5h0M208 448.3h0M181.6 451.7h0M182.8 461.1h0M174.9 459.5h0M169 458.5h0M189.2 461.2h0M122.9 459h0M101.9 466.9h0M115.9 468.1h0M111.8 467.6h0M108.7 461.3h0M114 469.7h0M117.3 462.6h0M116.2 461.2h0M107 463.3h0M114.5 465.3h0M133.8 468.6h0M110.1 468.2h0M53.5 380.2h0M60 381.4h0M62.2 381.9h0M61.6 384.2h0M65 384.9h0M66.1 387.1h0M57.2 386.6h0M56.1 388.2h0M60 387.6h0M63.3 388.2h0M72.2 387.6h0M61 391.1h0M57.8 394.1h0M62.2 393.4h0M65 395.8h0M68.9 396.4h0M73.3 394.1h0M80 394.1h0M76.1 396.9h0M55.5 398.1h0M61 397.4h0M63.3 399.1h0M67.2 399.1h0M73.3 400.4h0M76.6 401.2h0M60 401.4h0M56.1 403.2h0M61 403.8h0M64.4 403.2h0M68.9 402.4h0M73.3 403.8h0M59.4 405.6h0M66.1 407.2h0M70.5 408.9h0M74.4 407.9h0M56.1 409.4h0M61 412.4h0M62.2 415.2h0M71.7 411.9h0M73.3 410.6h0M71.1 415.2h0M78.4 412.4h0M66.7 419.4h0M60.6 422.8h0M65 426.8h0M80 421.6h0M82 401.8h0M86.1 402.9h0M91.7 392.9h0M90 396.4h0M93.4 396.9h0M91.7 399.1h0M97.2 396.9h0M100 396.9h0M97.8 400.4h0M100 402.6h0M91.7 403.6h0M94.4 403.8h0M96.1 405.6h0M98.9 406.6h0M101.1 408.1h0M104.1 390.2h0M108.4 402.9h0M106.1 405.6h0M84.5 409.4h0M87.7 409.6h0M89.5 408.4h0M86.7 410.6h0M91.1 412.4h0M95.6 412.8h0M98.3 411.9h0M94.4 415.9h0M92.8 417.1h0M82.2 416.1h0M84.5 414.8h0M86.1 415.2h0M83.3 418.8h0M85.5 419.9h0M90.5 419.4h0M93.4 420.4h0M95.6 419.9h0M91.1 422.1h0M92.2 425.6h0M104.2 412.1h0M107.8 412.8h0M104.2 416.1h0M110.6 426.8h0M112.2 426.8h0M97.8 431.9h0M73.3 404.9h0M72.2 407.2h0M69.5 406.1h0M166.6 401.9h0M169.9 403.4h0M174.3 401.1h0M175.5 403.9h0M168.8 406.1h0M173.3 407.2h0M172.6 410.8h0M181 409.6h0M171 413.4h0M173.3 414.1h0M177.7 414.9h0M144.3 417.6h0M121 399.8h0M202.9 401.6h0M33.1 427.4h0M97.9 431.9h0M111.6 426.9h0M162.7 396.8h0M179.2 417.8h0M74.2 395.3h0M58.4 410.5h0M52.1 410.2h0M64.4 394.4h0M62.2 411.2h0M61.8 396.4h0M52.6 400.2h0M66.3 404.7h0M72.9 399.4h0M53.9 418.5h0M70.3 398.9h0M61 386h0M76.5 408.5h0M66.4 393h0M63 394h0M66.8 405.8h0M60.9 404.1h0M67.8 403.9h0M61.3 405.6h0M54.5 412h0M74.9 396.3h0M62.2 405.2h0M60.8 390.1h0M65.8 393.6h0M55.7 406.3h0M56.8 400.3h0M61.4 384.7h0M61.3 400h0M64.4 395.1h0M70 389.4h0M61.5 400.7h0M66.7 393.1h0M67.2 382.6h0M58.3 386.7h0M65.3 412.7h0M59 383.1h0M69.7 398.8h0M66.5 402.2h0M64.1 402.5h0M56.9 385.7h0M64.7 393.9h0M60 398h0M67.8 404h0M63.4 390.9h0M59.7 386.3h0M69 405.8h0M67.9 406.7h0M60.9 400.1h0M70.2 391.3h0M62.5 400.4h0M62.4 397.7h0M64.7 404.3h0M60 385.5h0M61.7 397.8h0M91.2 413.7h0M85.7 395.8h0M93.3 412.8h0M92.3 399.3h0M89.7 402.2h0M94.4 413.1h0M83.9 406.4h0M91.8 415.2h0M94.6 433.9h0M93.7 415h0M98.3 414.5h0M85.1 401.6h0M83.3 403.6h0M93.5 400.2h0M94.7 404.5h0M104.4 400h0M95.7 403.5h0M87 407.1h0M96.8 400.7h0M87.2 397.4h0M83.5 397.9h0M107.2 412.4h0M94 409.2h0M96.2 417h0M95.4 417.1h0M102.6 406h0M93.7 414.1h0M99.2 397.2h0M86.1 427h0M84 418.3h0M100.4 407h0M100.7 399.4h0M95.1 411.8h0M93.4 393.8h0M93.1 402.5h0M88.1 414.7h0M101 409.4h0M95.9 404.8h0M95 416.4h0M94.3 400.4h0M98.2 411h0M95 404.8h0M96.4 402h0M85.3 412.5h0M95.1 400.8h0M104.8 424h0M89.1 404.1h0M91.3 424.7h0M97.3 400h0M97.7 413.6h0M73.7 400.6h0M73 413.1h0M80.3 401.8h0M82.8 400.2h0M73.4 411.9h0M85.2 406.5h0M75.7 404h0M80.2 400.1h0M81.4 394.4h0M82.4 396.7h0M70.8 400.9h0M87.3 402.4h0M82.2 405.9h0M77.5 407.1h0M74.6 405.1h0M71.3 405.1h0M72.9 397.7h0M82.2 390.8h0M77.9 400.6h0M74 398h0M32 487h0M38 484.2h0M32.6 478.3h0M37.7 488.3h0M23.3 487.1h0M22.2 486.6h0M37 488.6h0M23.4 489h0M30.2 483.6h0M31.5 477.2h0M29 477.1h0M29.3 490.2h0M40.9 487.2h0M37.7 481.7h0M46.5 483.9h0M32.3 483.9h0M32 482.1h0M36.7 480.4h0M43.6 494.1h0M24.6 484.8h0M32.7 480.8h0M30.9 477.5h0M35.6 480.3h0M33.1 487.2h0M36.3 487.4h0M29.5 482.7h0M32.4 484h0M27.9 482.3h0M27.9 478.4h0M31.2 490h0M31.2 485.5h0M24.7 495.6h0M42 480.1h0M31.3 483.1h0M23.4 488h0M39 482.6h0M27.4 477.1h0M35.3 479.2h0M32 484.2h0M33.7 485.4h0M33.2 483.3h0M28.5 488.6h0M32.4 488.5h0M44.9 485.3h0M32.5 482.5h0M34.8 486.4h0M25.5 488.2h0M23.5 484h0M45.7 485.9h0M29.8 482.2h0M45.2 477h0M35.5 478.9h0M32.6 487.4h0M35.1 485.9h0M36.1 491.4h0M39.5 484h0M34.9 487.9h0M33 490.1h0M33.2 488.5h0M40.6 480.8h0M37.3 482.9h0M25.8 484.4h0M28.1 479h0M34.2 486h0M28.2 488.7h0M29.7 481.4h0M26.1 493.2h0M30.5 482.4h0M34.8 482.8h0M38.4 482.6h0M32.2 480.4h0M45.2 485.8h0M31.6 483.8h0M52.2 491.7h0M38.4 486.7h0M35.2 486.3h0M29 482.7h0M31.1 483.3h0M33.2 479.7h0M44.2 488.3h0M23.4 483.6h0M44.1 491.7h0M30.5 487.3h0M36.7 487.8h0M33 484.8h0M30 486.9h0M78.3 494h0M63.3 475.8h0M74.4 480.5h0M93.9 484.4h0M69 481.2h0M67.5 474.1h0M63.5 483h0M56.5 481.3h0M80.8 483.2h0M70.4 487h0M72.6 486.3h0M86.8 483h0M92.9 482.5h0M61.7 474.7h0M79.5 480h0M75.6 482h0M73.5 478.5h0M74.3 481.3h0M69.6 476.2h0M84.5 489.2h0M75.5 492.6h0M73 478.6h0M81.3 483h0M78.1 479.5h0M74.1 487.7h0M72.9 483.1h0M86 481.2h0M74.6 479.5h0M69 481.4h0M62 475.2h0M66.7 484.5h0M60.2 476.8h0M70.9 483.7h0M72.2 481.5h0M51 486.8h0M70 480.7h0M75.8 486.4h0M71.4 475.7h0M61.1 484.1h0M81.5 479.5h0M63.5 481.8h0M58.6 481.1h0M59.9 485.9h0M69.7 469.6h0M78.9 482.5h0M80.6 472.5h0M71.8 487.4h0M58.9 469.9h0M63.8 475.2h0M61.6 471.5h0M68.2 489.8h0M53.6 473.7h0M70.9 481.4h0M75.8 477.8h0M68.5 470.9h0M74.1 478.9h0M61.2 484.4h0M56.5 479.7h0M64 485.9h0M80.5 478.8h0M79.3 480.8h0M65.7 478.6h0M80.9 482.6h0M66.9 491.2h0M83.7 482.7h0M74.3 481.8h0M65.7 477.3h0M77.2 476.6h0M62.7 488.8h0M61.2 474.6h0M56.5 475.7h0M72.2 480.2h0M69.4 478.4h0M69.1 491.5h0M83.1 482.7h0M66 484.7h0M63.2 474.6h0M81.3 477.2h0M82.9 483.1h0M73 489.7h0M53.9 475.7h0M64.3 472.1h0M75.5 486.1h0M70 489.1h0M84.1 478.9h0M76.1 488.7h0M64.1 479.7h0M82 486.9h0M69.2 480.5h0M79.3 478.7h0M63.9 478.3h0M56.9 488.9h0M59.6 488.6h0M64.3 469h0M60.4 475.6h0M80.9 490.5h0M82.2 478.7h0M72.4 473.3h0M60.3 480.8h0M68.8 480.2h0M63.5 480.2h0M83.2 478.1h0M72.7 479h0M74.3 478.2h0M66.2 482.6h0M51.4 476.3h0M62.8 479.2h0M59.6 480h0M73.2 487.9h0M70.7 482.8h0M62.5 480.1h0M66.3 483.7h0M84.2 483h0M61 486.7h0M61.4 483.5h0M67.7 490.6h0M63.4 488.1h0M65.9 480.5h0M74.7 478.5h0M85.8 485.6h0M53.5 483.6h0M69.7 480.2h0M70.2 472.6h0M69.1 470.7h0M68.1 482.7h0M66.7 485h0M79.1 485.2h0M65.6 473.7h0M68.7 486.5h0M69.8 477.8h0M70.8 482.9h0M68.3 483h0M79 476.3h0M69.8 477.5h0M71.4 469.3h0M69.4 475.7h0M60.6 470.8h0M62.2 483.2h0M60.2 481.1h0M71.6 485.8h0M63.3 482.7h0M60.1 477.3h0M72 482.7h0M74.7 478.6h0M53.7 484.1h0M85.4 482.5h0M70.1 475.3h0M68.9 480.8h0M79.6 481.1h0M70.5 479.1h0M64.3 485.7h0M90 490.2h0M60 478.7h0M68.9 478.8h0M60 480h0M68.9 478.4h0M73.4 468.9h0M118.9 477.9h0M120.7 487.9h0M113 482.4h0M115.1 484.4h0M111.6 484.3h0M121.7 480.7h0M108.4 479.7h0M115.4 481.3h0M128.6 484.1h0M117.6 483h0M120 483.2h0M116.4 481.5h0M110.4 476.9h0M117.1 479.4h0M119.6 476h0M111.3 485.8h0M119.2 470.2h0M124.5 479.7h0M123.5 492.7h0M108.1 479h0M111.6 475.1h0M107.9 480.7h0M123.5 487.2h0M120.8 479.9h0M121.3 483.8h0M112.2 481.2h0M110.5 478.9h0M117.8 481.1h0M112.3 478.1h0M118.1 478.3h0M121 482.7h0M118.6 482.8h0M111.2 484.6h0M105 481.5h0M115.7 473.6h0M118.2 483.4h0M115.7 479.2h0M114.8 479.3h0M113.2 473.3h0M121.4 477.9h0M116.9 477.1h0M118 480.6h0M111.6 473.5h0M113.7 481h0M118.2 481.4h0M111.4 475.2h0M109.9 477.6h0M115.3 476.5h0M124.2 485.3h0M125.7 479h0M116.5 472.4h0M115.5 478.6h0M109.2 485h0M185.3 481.9h0M176.2 475.6h0M201.8 482.5h0M192.4 482h0M194.4 473.1h0M171.8 490.2h0M173.9 486.7h0M193.9 485.4h0M182.2 474.2h0M181.6 478.5h0M187.1 477.7h0M172.5 478.5h0M191.1 474.6h0M184.2 483.1h0M188.4 482h0M177.8 482.8h0M188.7 478h0M177.5 487.9h0M192.8 481.8h0M192.4 477.2h0M188.8 480.4h0M189.8 486.1h0M159.1 479.1h0M191.7 479.4h0M181.5 477.1h0M184.9 484.4h0M181.4 478.3h0M171.2 477.4h0M179.1 476.7h0M190.1 483.8h0M197 477.8h0M178.3 471.5h0M175.7 484.2h0M197.4 476.9h0M175.9 482.7h0M203.1 482.8h0M184.5 487.4h0M175.9 486.5h0M193.1 477.6h0M199.6 479.8h0M170.8 473.7h0M198.3 490h0M181.4 483.2h0M197.7 488.4h0M180.5 479h0M169.5 469.5h0M188.6 489.2h0M192.5 481.3h0M203.3 481.5h0M199.9 481.1h0M190.4 484.3h0M181.8 483.7h0M179.2 472h0M181.3 486.7h0M176.4 477.8h0M181.5 478.2h0M160.6 490.3h0M185.7 485.8h0M183.7 478.9h0M191 481.6h0M179.6 483.7h0M189.2 480.3h0M172.7 473.9h0M178.5 476.4h0M166.8 473.8h0M197.2 481.9h0M189.5 485.3h0M173.2 486.4h0M183.5 476.7h0M192.7 482h0M188.6 483.8h0M187.5 477.9h0M176.1 479.9h0M178.2 492.4h0M184.9 481.9h0M192.5 485.6h0M176.4 478.4h0M173.7 481h0M194.5 471.3h0M175.5 480.6h0M193.9 487.3h0M186.2 492.3h0M192.1 487.3h0M200 484.5h0M190.3 481h0M191.1 477.5h0M175.6 479.9h0M177.6 484.1h0M189.9 476.4h0M198.1 485.9h0M196.8 475.3h0M205.3 471h0M186.9 475.2h0M185.9 471.6h0M193.3 473.2h0M184.2 487h0M183.4 479.6h0M174.4 482h0M193.1 487.1h0M174.2 487.7h0M188.7 478h0M171 488.1h0M194.1 482.9h0M174.6 480.8h0M191.8 483.2h0M169.4 472.9h0M180 476.4h0M194.8 480.2h0M176.6 484.1h0M184.6 478.7h0M179.6 480h0M162.8 486.1h0M186.8 488.5h0M188 485h0M173.8 487.7h0M189.3 478.5h0M176.7 479.1h0M174.8 482.5h0M184.1 479.1h0M177.7 478h0M205.1 489.8h0M169.7 479.6h0M190.8 475.4h0M193.1 483.4h0M165.8 490.8h0M168.1 481.2h0M189.2 487.5h0M179.6 478.3h0M187.5 478h0M194.5 477h0M180.6 480h0M174.2 490.8h0M151.8 473.5h0M173.5 484.8h0M153 473.9h0M159 477.2h0M167.3 481h0M165.7 486.5h0M163 479.7h0M148 479.2h0M163.6 476.7h0M152.9 488.7h0M180.7 485.6h0M159.1 479.2h0M162.3 472.1h0M151.9 475.4h0M157.1 482.9h0M150.8 475.8h0M168.4 484.7h0M158.8 481.7h0M165.1 481.4h0M155.5 483.3h0M156.9 482.5h0M170.8 475h0M153.3 478h0M146.8 492.6h0M163.9 473.1h0M152 477.1h0M157.4 485.6h0M167.8 478.9h0M154.5 475.3h0M167.6 472.5h0M155.5 482.7h0M172.3 485.4h0M171 487.4h0M157.1 480h0M159.1 485.5h0M154.4 474.1h0M162.3 480.7h0M169.7 476h0M149.6 480.7h0M167.9 483.9h0M150.5 485.6h0M154.1 474.3h0M147 486.7h0M177.1 477.1h0M161.2 474.1h0M162.7 478.8h0M155.6 471.7h0M169 479.8h0M144.5 481.3h0M161 478.6h0M177.9 482.7h0M157.8 478h0M160.9 479.8h0M166 471.8h0M154.5 480h0M161 475.1h0M168.2 477.3h0M162.3 479.2h0M163.7 480.8h0M158.1 470.7h0M163.2 471.2h0M161.2 478.1h0M172.1 482.4h0M166.4 481.7h0M158.9 484.7h0M141.9 486.9h0M166.3 482.5h0M166.6 479.6h0M153.7 474.1h0M145.3 474.5h0M152.8 491.7h0M175.6 469.1h0M176.3 476.8h0M173.9 483.1h0M191.6 473.3h0M144.4 490.1h0M176.8 480.8h0M192.6 478h0M144.7 470.3h0M176.9 475.8h0M170 483.5h0M167.7 475.8h0M176.3 469.9h0M181.9 483.2h0M187 476.3h0M199.7 489.9h0M184 486h0M206.2 486.8h0M184.5 491h0M158.9 489h0M151 477h0M146 483h0M158.8 475.2h0M149.2 473.8h0M185.7 473.9h0M186.1 471.5h0M181.1 474.7h0M166.3 474.4h0M171.5 485.6h0M158.3 475h0M71.8 497.8h0M183 498.8h0M73.1 444h0M74 468h0M76.8 469.6h0M75.5 447.2h0M72 453.7h0M72.5 466.6h0M73.2 447.8h0M72.3 452.3h0M68.5 460.2h0M73 464.5h0M74.1 464.8h0M71 446.8h0M71.4 465.9h0M77.1 441h0M74.9 449.1h0M68.1 449.1h0M73.8 452.6h0M89.9 439.7h0M82.7 453.9h0M79.1 440.8h0M82.4 452.6h0M86.1 468.1h0M83.9 449.1h0M83.3 453.5h0M85.3 449.4h0M81.4 467.4h0M88.5 450.5h0M89.6 459.3h0M88.1 459.7h0M90.3 453.7h0M89.9 464.6h0M87.5 449h0M83.5 449.4h0M89.8 461.4h0M85.1 466.3h0M79.9 455.5h0M92.5 464h0M54.2 452.2h0M45.5 458.6h0M48.3 468.9h0M46.8 475.4h0M61.6 453.9h0M58.8 467.2h0M60.2 473.8h0M117.2 453.9h0M115.5 468.1h0M117.3 474.8h0M115.5 456.1h0M109.7 457.8h0M105.5 468.9h0M160.9 441.8h0M162.2 439.9h0M155.9 447.8h0M178.9 446.9h0M183.9 443.4h0M182.6 452.6h0M188.9 452.1h0M163.4 452.6h0M166.2 451.1h0M191.8 448.6h0M186.7 461.6h0M191.8 461.1h0M157.2 458.1h0M162.9 457.8h0M175.9 461.9h0M182.6 458.9h0M170.1 465.9h0M145 460.1h0M160.6 463.6h0M163.9 462.9h0M156.2 465.9h0M156.7 468.8h0M161.8 468.8h0M181.8 465.4h0M185.1 464.1h0M189.2 464.1h0M178.4 469.4h0M199.3 466.8h0M126.7 468.1h0M120.8 468.1h0M98.9 444.8h0M102.2 460.9h0M102.2 468.9h0M105.5 468.9h0M109.7 457.8h0M45.5 458.6h0M48.3 468.9h0M79.2 444.3h0M78.4 454.5h0M77.2 453.1h0M82.6 466.2h0M79.4 444.5h0M80.1 448.2h0M78.8 466.1h0M79.2 467.3h0M79 466.2h0M80.3 470h0M79.2 466.4h0M61.2 465.7h0M80.4 469.5h0M78.2 469.3h0M70.5 422.8h0M72.7 425.8h0M75.2 427.8h0M71.8 430.8h0M76.6 432.8h0M70.8 434.8h0M74.2 436.8h0M68.9 427.8h0M76.1 423.8h0M72.3 420.8h0M82.4 424.8h0M85.3 426.2h0M88.2 427.8h0M91.1 429.8h0M84.4 431.8h0M87.3 433.2h0M90.2 424.8h0M82.9 428.8h0M79.5 433.8h0M55.1 431.9h0M61.6 428.8h0M115.5 431.9h0M165 409.4h0M158.8 415.4h0M154.2 421.6h0M161.2 421.9h0M168 421.9h0M173.9 421.9h0M157.9 425.6h0M155.1 430.9h0M166.7 433.1h0M182.6 436.1h0M86.8 474.8h0M81.8 473.4h0M74.2 478.9h0M75.9 486.9h0M78.2 488.7h0M79.4 481.9h0M89.5 485.8h0M69.8 491.9h0M84.4 491.1h0M62.6 474.3h0M67.6 487.4h0M89.5 488.8h0M69.4 491.7h0M76.9 480.9h0M88.7 475.2h0M81.1 482.2h0M76.3 479.9h0M82.5 480.4h0M90.5 489.4h0M89.4 486.1h0M67.4 486.7h0M66.2 486.1h0M70.5 474.9h0M66.3 473h0M84.3 480.4h0M86.3 490.4h0M150.5 475.4h0M160 471.9h0M164.3 471.9h0M163.4 475.4h0M166.7 474.4h0M170.9 471.1h0M177.5 480.6h0M180 473.6h0M183.4 473.6h0M187.6 471.9h0M190.6 472.8h0M193.4 471.1h0M206.7 474.4h0M128.4 473.6h0M121.7 477.1h0M46.1 475.4h0M72.7 493.8h0M106.6 476.8h0M104.7 482.8h0M111.4 473.8h0M133.7 478.8h0M139.5 475.8h0" fill="none" stroke="#d9d9d9" stroke-width="3.4" stroke-linecap="round"/><path d="M16.9 371.7V508.3H210.4" fill="none" stroke="#000" stroke-width="2.9"/><path d="M16.9 360.7L22.6 374.3L16.9 372.1L11.2 374.3Z" fill="#000"/><path d="M221.4 508.3L207.6 502.5L209.8 508.3L207.6 514.1Z" fill="#000"/><text transform="translate(12.9 436.5) rotate(-90)" font-size="9.7" text-anchor="middle">EMT</text><text x="117.7" y="520" font-size="9.6" text-anchor="middle">Cell Cycle Coordinate</text><text x="226.5" y="11.8" font-size="16.5" font-weight="bold">b</text><path d="M311.3 118.3h0M425.9 123.4h0M383.6 123.2h0M277.6 116.5h0M420.1 110.3h0M440 118.3h0M431.9 123.5h0M365.1 121.7h0M280.4 121.8h0M289.8 116.3h0M436.6 123.2h0M361.6 114.7h0M287.4 117.1h0M427.9 118.2h0M379.5 121.1h0M365.1 108.9h0M326.5 113.6h0M333.4 119.9h0M299.2 113.6h0M259 121.8h0M426.3 122.5h0M344.8 115.4h0M360.7 103.4h0M315.7 123.5h0M401.4 111.5h0M256.4 119.5h0M325.7 123.6h0M257.4 110.8h0M275.9 121.8h0M444.5 116.6h0M382.7 114.4h0M336.9 115.9h0M355.9 122.1h0M425.6 116.1h0M320.1 120.7h0M369.2 121.1h0M387.9 124.6h0M322.3 120.5h0M355 118h0M404.2 122.4h0M432.9 116.3h0M281.5 114h0M437.7 124.6h0M252.4 117.5h0M401.7 112h0M413.2 125h0M278.7 119.5h0M335 116.7h0M414.2 117.8h0M254.2 120.6h0M376.9 112.3h0M409.7 118.4h0M353.8 121.7h0M396.3 123.1h0M296.6 118.6h0M291 120h0M323.9 123.7h0M287.2 119.9h0M320.5 124.6h0M440.7 115.8h0M365.8 124.1h0M319.3 124.6h0M305.6 116.9h0M441.5 117.3h0M340.1 124.7h0M447.1 110.4h0M354.3 119.5h0M355.4 115.8h0M430.4 109.7h0M399.7 124.5h0M367.3 115.6h0M336.6 112h0M426.7 115.8h0M333.6 118.7h0M435.6 115.4h0M265.1 121.8h0M337.2 118.1h0M355.1 118.9h0M441.2 120.1h0M301.5 118.6h0M412.3 121.3h0M386.4 116.8h0M394.5 114.7h0M377.1 109.4h0M445.4 109.2h0M317.8 122.3h0M330.9 122.9h0M291.9 124.8h0M261.5 123.7h0M293.9 124.6h0M434.2 108.8h0M419.1 116.2h0M273.8 111.8h0M371.9 116.4h0M347 113.7h0M370.1 118.7h0M383 118h0M312.6 116.8h0M443.3 113.2h0M344.4 122h0M376.8 113.2h0M378.2 101h0M288.1 120.5h0M263.7 115.9h0M333.5 116.2h0M403.9 115.8h0M414.1 122.6h0M397.1 112.2h0M274 116.7h0M433.7 113.2h0M411.5 118h0M426.6 121.6h0M355.9 117.6h0M434.2 108.9h0M260.7 121.7h0M257.4 124.8h0M255.4 124.3h0M301.8 124.2h0M301 115.5h0M288.8 124.5h0M364.6 124.7h0M259.1 114h0M369.2 109.1h0M284.5 123.8h0M386.7 118.5h0M255.6 124.5h0M313.4 119.8h0M438.7 118.7h0M358.9 124.5h0M413.4 116.1h0M382.8 119.9h0M373.3 124.1h0M289.5 122.9h0M366.1 123.5h0M259.3 118.8h0M411.4 117h0M443.1 123h0M421.9 120.3h0M261.5 123h0M319 125h0M314.9 113.4h0M273.9 124.4h0M376.5 113.6h0M410.6 119.8h0M314 122.5h0M423.6 107.4h0M410.5 124.2h0M277.1 123.7h0M404.5 123.7h0M427.6 121.4h0M290.8 121.8h0M365.9 116.7h0M378.9 122.7h0M373 120.3h0M270.6 124.2h0M383.4 114.8h0M377.5 123h0M415.9 123.8h0M411.8 123.8h0M316.7 121.3h0M395.5 120.3h0M424.5 110.9h0M429.7 121.1h0M283.6 122.9h0M256.7 122.6h0M381.3 121.8h0M294.2 119.5h0M363.9 122.8h0M440 119.6h0M327.1 121.4h0M301.8 123.3h0M342.5 112.1h0M382.6 120.4h0M271.5 115.1h0M327.4 116.4h0M278.1 123h0M383.6 111.8h0M417.2 117h0M326.6 123.8h0M325.6 103.5h0M359.1 121.8h0M294.3 112.3h0M300.8 114h0M317.2 119.6h0M342.7 114.2h0M267.6 121.9h0M401.7 122.7h0M367 110.1h0M311.2 111.5h0M266.8 124.1h0M403.8 123h0M277.5 114.3h0M278 119.1h0M277.5 121.4h0M267.6 121.6h0M432.3 124.1h0M305.1 116.6h0M312.5 118.4h0M417.7 124.5h0M375.1 118.8h0M288.7 120h0M338.2 115.9h0M427.9 121.6h0M326.3 122.4h0M393.3 121.9h0M270.7 116.5h0M396.6 111.1h0M406.4 120.1h0M416.2 124.5h0M386 122.4h0M325.4 110.6h0M264.2 121.9h0M354.9 119.9h0M402.6 117.7h0M289.5 105.8h0M304.5 122.2h0M358.4 117.4h0M400.8 121.8h0M430.4 119.9h0M276.5 124.9h0M288.2 118.6h0M411 101.5h0M380.1 124h0M395.3 120.4h0M450.4 119.2h0M438.9 110.6h0M419.7 115.4h0M406.5 122.4h0M330.2 122.4h0M379.4 118.3h0M288.2 120.4h0M403 124.7h0M402.7 117.3h0M395.4 108.4h0M340.2 123.7h0M326.9 124.6h0M335.2 123.3h0M258 113.6h0M420 124.8h0M359.7 112.5h0M328.7 116.8h0M360.8 123.4h0M395.5 123.3h0M327.5 118.3h0M417.2 116.1h0M435 112.2h0M328.7 117.2h0M278.9 122.2h0M403.2 119.4h0M449.6 112.1h0M280.9 116.2h0M393.7 120.8h0M416.2 120.8h0M435.2 121h0M276 116.3h0M269.7 123h0M448.6 115.7h0M274.7 117.3h0M286.7 117.8h0M366.2 123.3h0M340.5 119h0M401.2 119.3h0M289.4 122.8h0M434 117.2h0M294.7 124.4h0M404.9 122h0M264.9 117.2h0M345.9 119.6h0M257.9 121.3h0M314 114.7h0M313.7 106h0M395.1 108h0M342.2 124.5h0M262.7 123.2h0M450.1 112h0M428.8 124h0M434.3 116.7h0M300.6 124h0M330.1 121.2h0M296.7 118h0M276.3 111h0M258 112.8h0M351.9 119.4h0M275.9 118.6h0M286.6 123.8h0M423.2 123.2h0M348.1 119.7h0M288 122.2h0M385.1 120.8h0M304.4 117.4h0M356.6 121.9h0M307.9 116.3h0M354.4 115.4h0M376.9 124.8h0M358.4 118.7h0M330.4 122h0M409.3 123.1h0M425.8 119.1h0M287.2 111.4h0M278.6 116.2h0M274 121.8h0M447 103.5h0M439.4 116.9h0M297.4 124.1h0M445 119h0M292.9 107.5h0M352.5 123h0M350.7 121.9h0M434.1 114.7h0M259.5 120.8h0M314.3 119.3h0M371.2 120.7h0M264.6 108.6h0M298.6 110.5h0M344.2 120.2h0M427.2 119.2h0M403.3 107.8h0M416.9 119.6h0M403.3 123.4h0M392.7 121.3h0M421 119.2h0M387.4 122.1h0M398.3 110.6h0M311.6 121.9h0M284.8 118.7h0M402.4 122.2h0M284.5 119.9h0M435 122.1h0M370.5 105.4h0M317.1 114.7h0M314.4 107.6h0M334 99.9h0M353.9 111.2h0M309.1 103.8h0M267.3 109.4h0M288.1 116.1h0M280.9 115.7h0M297.1 124.2h0M310.4 112.4h0M262.7 103.5h0M316.4 108.7h0M274 107.6h0M315.4 105.6h0M306.1 116.6h0M301.4 109.4h0M306.9 100.6h0M296.2 118.3h0M294.5 112.9h0M270.1 116h0M307.9 114.4h0M350.8 117.9h0M353.9 113.9h0M338.8 121.9h0M324.7 116.5h0M293.1 116.3h0M341.6 116.4h0M307.3 104h0M307 112.6h0M301.9 112h0M310.7 115h0M298.6 104.7h0M306.6 124.5h0M283.7 114.4h0M300 105.7h0M360.7 102.4h0M307 111.8h0M303.1 113.1h0M320.7 108.9h0M324.8 114.3h0M283.1 109.4h0M303.8 117.3h0M329.6 108.9h0M314.7 113.4h0M311.4 120.2h0M293.1 107h0M310.5 110.6h0M296.7 108.1h0M342.7 118.9h0M263.9 106.1h0M293.2 110.5h0M296.5 113.5h0M323.7 107.2h0M322.4 107.3h0M340.5 110.5h0M272.5 99.8h0M325.7 104.1h0M301.8 110.9h0M293.3 114.7h0M320.9 112.4h0M397.1 115.3h0M416.2 113.9h0M434.6 108.1h0M431.1 114.5h0M421.8 119.6h0M410 109.1h0M432.2 113.3h0M414.5 118.4h0M405.9 108.6h0M411.3 115.7h0M444 108.6h0M426.2 121.1h0M436.6 113.4h0M414.2 118.8h0M420.7 115.3h0M434.1 123.4h0M415.7 107.1h0M421.7 120.6h0M427.7 114.3h0M440.6 122.6h0M415.8 115.7h0M397.6 110.8h0M418.9 116.2h0M423.2 118.8h0M424.6 114.8h0M442.1 117.4h0M427.6 111.7h0M434.8 102.5h0M406.9 119.7h0M435.6 118.6h0M434.2 115h0M426.7 120.5h0M425.2 112h0M449 110.6h0M409.5 113.6h0M421.3 121.4h0M429.7 106.8h0M433.8 121.4h0M416.6 111h0M427.4 108.4h0M418.9 121.8h0M254.2 103.7h0M390.8 101.9h0M290.2 103.3h0M345.4 101h0M446.1 105.1h0M359 99.6h0M262.7 107.9h0M337 108.5h0M383.2 103.2h0M262.7 102.9h0M301.8 107.4h0M255 100.9h0" fill="none" stroke="#d9d9d9" stroke-width="3.4" stroke-linecap="round"/><path d="M302.8 35.6h0M336.2 32.9h0M307.5 40.6h0M317.9 41.1h0M321.5 42.6h0M332.5 37.1h0M337.4 38.4h0M340.8 39.3h0M341.9 42.1h0M342.9 45.4h0M329.7 44.1h0M333.5 42.8h0M334.6 45.4h0M336.2 44.8h0M312.1 47.1h0M323.1 47.6h0M325.8 47.8h0M328.6 48.8h0M333.5 49.3h0M336.8 48.3h0M339 47.8h0M347.5 50.1h0M298.2 50.8h0M301.2 49.8h0M323.4 51.3h0M314.4 52.1h0M324.8 53.8h0M329.2 53.8h0M331.3 55h0M335.2 51.3h0M336.8 52.8h0M339.6 53.8h0M341.7 54.8h0M343.9 55.7h0M346.1 57.3h0M323.4 58.3h0M330.2 58.8h0M334.6 57.7h0M336.8 58.8h0M340.1 58.3h0M343.4 58.8h0M346.7 60.3h0M312.1 59.8h0M312.1 62.3h0M306.7 62h0M310.5 62.6h0M327 61.8h0M332.5 61.2h0M336.2 62.3h0M340.1 62.7h0M344.4 61.8h0M349.4 62.9h0M353.8 64.5h0M327.5 64.7h0M331.3 65.8h0M335.7 65.8h0M339 66.7h0M342.9 67.7h0M347.2 65.8h0M317.9 64.7h0M302.8 69.3h0M333.5 70.2h0M337.9 70.7h0M343.4 72.5h0M353.8 74.2h0M331.9 73.2h0M329.2 74.7h0M335.7 73.7h0M333.3 70.3h0M337.6 69.4h0M340.8 70.3h0M342.9 68.3h0M343.4 72.7h0M335.5 73.7h0M332.3 73.2h0M329 74.6h0M325.9 76.1h0M322.7 77.6h0M354.1 74.2h0M355.7 78.5h0M351.9 80.4h0M333.8 78h0M335.5 80.4h0M332.8 80.9h0M330.7 81.8h0M327 83.3h0M341.8 77h0M342.9 79h0M343.9 81.4h0M321.1 83.8h0M341.3 84.8h0M341.8 87.2h0M345.6 87.7h0M314.2 86.3h0M329 87.2h0M327 89.1h0M325.9 90.5h0M334.5 90.5h0M335 92h0M343.4 90.5h0M357.8 86.3h0M360.5 88.2h0M362.6 89.1h0M313.1 90.5h0M319 92h0M321.7 93.5h0M316.9 94.9h0M305.8 91.1h0M303.6 93.9h0M303.6 97.3h0M334.5 94.4h0M340.3 94.4h0M339.8 97.3h0M346.6 94.4h0M349.3 95.4h0M364.2 95.2h0M390.9 71.3h0M396.2 75.2h0M401 74.1h0M403.2 76.9h0M379.8 76.2h0M386.1 78.9h0M393.6 78.9h0M381.4 79.8h0M379.8 81.5h0M373.5 79.6h0M374.5 81h0M367 79.8h0M367 81.5h0M356.2 78.6h0M400.5 80.8h0M395.5 82.8h0M391.2 83.7h0M384.1 84.1h0M402.2 84.1h0M385.6 87h0M398.4 85.8h0M404.8 86.6h0M408.5 87.6h0M357.4 85.8h0M359.6 87.8h0M362.2 88.9h0M370.8 87.6h0M377.2 87.3h0M379 87.3h0M392.1 89.7h0M402.2 89.2h0M403.2 90.7h0M408.5 90.7h0M418.1 88.7h0M421.5 89.2h0M377.7 91.2h0M377.1 93.1h0M382.5 93.4h0M384.1 94.5h0M387.3 96h0M370.8 94.3h0M364.4 95.1h0M392.6 93.5h0M404.2 92.6h0M406.3 93.5h0M407.5 95.5h0M347.7 50.2h0M353.9 64.4h0M257.8 95.6h0M289.3 96.7h0M337.7 50.9h0M339.1 56.7h0M336.4 63.7h0M333.5 52.6h0M335.6 56.1h0M333 57.8h0M338 57.5h0M344 47.7h0M335.4 57.6h0M334.8 67.2h0M340 45.3h0M339.4 63.5h0M338.2 57.9h0M333.3 52.1h0M337.5 72.1h0M340.9 62.7h0M331.4 47.9h0M335.5 57.5h0M328.8 61.3h0M331.6 55.5h0M329.1 62.1h0M336.6 56.5h0M331.7 62h0M338.9 67.9h0M338.4 51.9h0M336.8 58.5h0M325.9 53.5h0M335.2 57.9h0M337.5 48h0M338.2 52.6h0M330.5 55.5h0M335.4 63.8h0M333.1 65.6h0M333.9 47h0M342.6 51h0" fill="none" stroke="#9b9bdb" stroke-width="3.4" stroke-linecap="round"/><path d="M408.5 131h0M309.2 136.8h0M392.5 128.1h0M318.2 131.6h0M369.9 125h0M432.1 126.2h0M264.4 135.5h0M409.3 127.3h0M358.2 132.6h0M326.9 130.5h0M321.4 126.9h0M267.3 129.4h0M303.7 128.8h0M373.9 128.9h0M272.7 133.4h0M382.8 133h0M439.1 128.6h0M442.7 127.4h0M425.1 131.7h0M409.2 130.3h0M288.2 134.4h0M440.6 136.8h0M293 133.7h0M421.2 130.6h0M422.9 130.1h0M373.6 127.6h0M354.3 127.4h0M292.5 127.1h0M353.9 129.3h0M309.9 129.2h0M278.2 133.4h0M278.6 129.3h0M408.1 130h0M431.4 126.3h0M281.3 136.6h0M256.5 132.5h0M304.7 136.8h0M279.8 133.5h0M290.3 136h0M366.2 129.8h0M335.2 133.3h0M336.5 136.8h0M293.5 126.3h0M381.8 134.9h0M309.7 136.8h0M330.8 132.2h0M343.1 133.4h0M428 135.3h0M301.4 128.3h0M392.2 132.2h0M313.5 127.5h0M426 128.2h0M329.8 128.4h0M351.2 130.2h0M422.7 131.2h0M383.4 132.3h0M272.1 125.5h0M280.3 136.8h0M444.6 134.9h0M259.6 133.4h0M311.8 129.4h0M438.5 130.4h0M256.9 132.7h0M285 132.2h0M295 125h0M270.6 133.4h0M344.8 136.8h0M367.9 125h0M315.2 134.3h0M274.9 132h0M410 130.3h0M408.7 135.7h0M362.1 126.3h0M280.5 131.3h0M358.2 136.1h0M375.1 130h0M336.4 129.1h0M420.2 131.1h0M329 129h0M352.3 136.4h0M275.9 127.3h0M362.4 133.9h0M401.4 126.1h0M394.7 133.2h0M303.4 130.3h0M444.8 125h0M392.5 130.7h0M335.5 126.7h0M333.8 129h0M403.9 136.4h0M287.8 126.6h0M377 126.8h0M392.3 136h0M353.3 131.1h0M422 136.4h0M344.1 131.9h0M343.4 127.4h0M308.7 130.4h0M430.8 135.2h0M314.8 134.2h0M387.7 130.7h0M332.7 130.9h0M433.9 130.3h0M436.3 128.5h0M259.7 136.8h0M445.3 130.7h0M370.3 126.5h0M268.2 128.9h0M349.6 133.4h0M263.5 133.1h0M359.6 130.2h0M289.6 128.2h0M324.8 130.8h0M312.6 125h0M369.8 125.9h0M412.2 133.6h0M434.1 128.9h0M317.2 132.1h0M363.6 135.2h0M255.1 133.1h0M325.6 130.8h0M438.8 136.8h0M276.8 133.2h0M421.3 129.4h0M379.5 133.4h0M310.5 132.2h0M403.7 127.5h0M309.6 131h0M426.1 130.1h0M269.9 125h0M276.9 130h0M398.3 129.6h0M340.4 129.1h0M282.3 125h0M352.7 129.4h0M311.1 130.5h0M359.6 131.1h0M397.1 126.5h0M418.8 133h0M265.3 126.2h0M367.9 129.9h0M443.2 135.5h0M342.4 128.1h0M402 128.8h0M272.7 134.6h0M422 129.3h0M365.9 129.6h0M424.9 131.5h0M405.4 134.6h0M421.2 125h0M265 127.6h0M391.6 127h0M291.9 126.7h0M305.1 127.5h0M316.4 127.6h0M367.7 131.8h0M374.8 127.4h0M433.2 131.1h0M256.4 132.2h0M291.2 128h0M323.6 131.2h0M411.3 136.7h0M359.8 131.9h0M352.5 128.3h0M400.2 130.4h0M380 127.3h0M309.7 131.7h0M270.7 133.9h0M342.9 127.7h0M423.3 129.9h0M369 134.8h0M264.2 128.9h0M338.6 131.4h0M328 126.9h0M366 127.7h0M366.9 128.8h0M437 136.8h0M319 129.2h0M332.5 128.8h0M372 128.7h0M424.5 130.1h0M389.8 133h0M344.6 131.4h0M410.7 136.8h0M347.3 131.5h0M439.3 135.9h0M308.3 131.7h0M278.5 132.9h0M413.7 125.5h0M311.2 130.2h0M417 130.4h0M371.2 129.8h0M351.9 125h0M270.7 133.8h0M405.2 129.3h0M266.6 129.1h0M439.7 129.8h0M422.7 129.9h0M312.3 132.1h0M278.6 126.1h0M424.4 127.3h0M346.3 131.7h0M278 131.2h0M349.9 129.3h0M301.4 128.6h0M332.4 127.7h0M377.1 130.5h0M430.1 134.9h0M408.1 126.9h0M284.9 136.2h0M345.8 133.7h0M348.6 129.1h0M444.3 133.5h0M270.7 125.4h0M352.2 125h0M429.9 126.1h0M330.7 129.2h0M304.3 129.5h0M360.9 128.8h0M315.5 131h0M432.3 125h0M270.3 132.5h0M293.7 125.6h0M270.1 128.3h0M390.9 129.2h0M310.4 126.5h0M427.2 125.8h0M425.9 127.1h0M434.1 130.6h0M303.2 132.8h0M254.1 132.7h0M328.5 127.1h0M439.2 127.8h0M400.9 127.4h0M265.4 132.3h0M389.1 125h0M430.4 135.1h0M440.1 128.9h0M391.7 127.9h0M420 131.9h0M415.9 134.4h0M322.9 131.9h0M273 134.5h0M393.9 131.2h0M280.3 135.1h0M327.9 135.2h0M445.5 130.3h0M361.7 135.9h0M354.3 131.3h0M436.3 131h0M308.6 127.4h0M446.3 129.6h0M429.4 133.5h0M324 126h0M316.9 133h0M278.3 131.9h0M430.1 131.7h0M289.7 125h0M255.7 130.3h0M425.2 133h0M369 127.9h0M383.2 131h0M395 125h0M262.2 133.1h0M271.6 128.3h0M350.1 133.8h0M263.6 125h0M351 133.2h0M395.6 129.8h0M380.4 133.6h0M372.6 127.4h0M262.9 128.5h0M299.5 136.8h0M426.6 127.7h0M277.7 128.1h0M356.6 129.7h0M263.6 127h0M434.7 135h0M287 136.8h0M332.8 128.2h0M359.2 125h0M392.2 134.9h0M434.3 134.7h0M395.6 133.6h0M320.8 134.8h0M268.5 127.6h0M390.1 130.1h0M441.1 125.7h0M257.2 125.6h0M403 134.2h0M287.8 128.3h0M342.5 136.8h0M354.5 131h0M372.2 128.4h0M444.3 133.6h0M386.2 136.8h0M329.5 132.4h0M391.5 126.3h0M343.8 132h0M333.4 135.6h0M324.3 128.9h0M348.9 127.9h0M308.1 134.3h0M300.5 131.2h0M282.5 126.7h0M338.7 129.3h0M310.4 128h0M415 131.7h0M417.1 131.1h0M320.1 134.8h0M373.1 133.2h0M427.6 125.1h0M323.1 132.1h0M360.7 133.9h0M339.3 132.3h0M379.1 134.4h0M438.6 128.7h0M280.6 127.3h0M439.7 134h0M382 126.9h0M407.1 125h0M376.2 134.4h0M421.4 128.1h0M316.7 129.6h0M390.2 125.7h0M304.8 125.9h0M351.8 126.5h0M385.1 129.4h0M292.7 132h0M265.7 125h0M406.1 133.4h0M409.6 126.4h0M382 126.9h0M315.8 133.1h0M380.6 130.4h0M270.1 125.2h0M381.4 136.8h0M364.8 127.6h0M372.7 131.6h0M340 131.4h0M297.3 135.8h0M393.6 129h0M343.3 134.3h0M397.4 128h0M324 134.7h0M270.9 127.9h0M358.3 129.4h0M373.8 136.8h0M431.3 131.8h0M424.8 131.1h0M265 136.8h0M402.5 132h0M304.2 127.8h0M388.1 133.3h0M327 126.4h0M315.9 134.7h0M347.9 135h0M356 128.6h0M387.6 128.4h0M376.7 131.3h0M384.5 130.7h0M327.9 127.2h0M384.3 132.7h0M320.4 125h0M370.8 129.1h0M342.4 129.2h0M362.2 129.7h0M257.3 131.8h0M349.9 126.3h0M296.3 132.8h0M328.2 130h0M268.2 128.4h0M380.3 125.8h0M425.9 126.4h0M322.2 132h0M274.2 127.2h0M373.3 130.9h0M278.4 134.5h0M425.5 134.4h0M277.5 136.3h0M323.6 129.6h0M349.1 126.8h0M276.6 134.3h0M315.3 131.8h0M306.9 134.7h0M391.2 130.7h0M443.7 135h0M323.8 133.7h0M406.1 133.3h0M281 132.5h0M365.5 132.1h0M337.2 131.5h0M309.4 131.5h0M412.1 134.2h0M397.6 128.8h0M279.7 136.8h0M310.2 130.3h0M411.6 134.2h0M444.9 130.4h0M371.6 129.8h0M421.7 136.8h0M443.3 129.6h0M396.4 126.1h0M378 128.1h0M296.5 129.5h0M325.2 136.8h0M373.9 131.4h0M432.2 134h0M312 127.1h0M330 132h0M258.2 133.1h0M388 136.8h0M339.3 128.2h0M407.4 132.9h0M298.9 131.8h0M380.9 127h0M383.5 130.6h0M343.3 129.7h0M290.2 125h0M331.5 132.8h0M397.3 132.6h0M290.4 129.1h0M271.3 125.9h0M343 136h0M299.1 131.6h0M408 134.3h0M411.2 135.7h0M435.8 128.8h0M415.5 133.6h0M378.5 129.8h0M289.9 130.5h0M412.3 130.4h0M394 130.7h0M397.7 134.7h0M388.1 131.1h0M413.7 130.1h0M311.3 129.7h0M383.3 131.9h0M353.5 127.5h0M319 128.9h0M316.8 130.5h0M283.9 128.7h0M348.5 130.3h0M324.9 128.5h0M335.1 136.8h0M417.8 135.5h0M385.1 132.3h0M384.8 130.5h0M443.3 136.8h0M295.9 131.8h0M351.7 130.4h0M271.8 131.8h0M329.5 131.8h0M436.8 135.7h0M270.5 130.6h0M399.7 136.8h0M420.5 127.5h0M351.9 133.2h0M407.4 127.1h0M338.8 136.8h0M321.9 129.5h0M351.3 130.5h0M291.4 134h0M313.1 135.2h0M312.7 126.7h0M444.1 129.4h0M318.4 125.7h0M298 131.2h0M434.8 130.3h0M280.6 129.4h0M439.8 128.2h0M418.1 129.3h0M378.5 128h0M336.3 132.6h0M291.9 136.1h0M274.4 125h0M273.9 130.3h0M321.1 129.2h0M332.3 132.5h0M431.7 127.3h0M357.1 130.2h0M444.6 127h0M392.7 133.2h0M282.1 131h0M360.5 130.1h0M284.6 132h0M261.5 129.8h0M435.5 125.1h0M319 132.8h0M290.4 131.7h0M273.5 130.1h0M379.4 134.2h0M342.7 135.1h0M256.2 126.8h0M391.6 127.9h0M303.3 136.2h0M404.1 135.8h0M348 128h0M357 126.4h0M341.9 128.4h0M384 128.9h0M444.4 125h0M407.5 130.8h0M267.3 126.1h0M349.2 126.3h0M299 134h0M273.7 128.2h0M291.5 130.4h0M301.7 132.9h0M438.6 133.6h0M397.3 129.5h0M418.1 130.8h0M388.4 127.7h0M314.7 136.8h0M329.2 133h0M338.7 126.7h0M310.4 130.7h0M335 133.2h0M402.3 132.4h0M268.5 136.8h0M424.6 132.5h0M415.1 129.4h0M417.1 126.8h0M428.8 132.4h0M421.4 130.7h0M438.4 129.1h0M416.7 128.1h0M413 133.2h0M446.3 128.8h0M423.1 131.8h0M429.8 128.1h0M419.7 133.9h0M419.6 129.4h0M426.2 130.7h0M439.3 136h0M413.9 133.5h0M440.9 133.7h0M446 129h0M431.5 134.9h0M424.7 129.6h0M420.5 136.7h0M418.7 135.6h0M423.5 132.8h0M441.3 134.8h0M412.7 131.4h0M439.1 133.7h0M435.1 126.5h0M413.2 136.7h0M414.9 134.5h0M437.4 126.7h0M435.3 127.9h0M423.2 131.8h0M441.7 134h0M419.7 126.8h0M427 136.4h0M416.4 129.1h0M434.4 136.8h0M415.5 133.9h0M418.6 130.8h0M438.5 129.3h0M429.5 126.2h0M434.9 126.1h0M437.4 132.5h0M433.1 134.2h0M419.2 135.7h0M436.2 129.3h0M416.5 136.1h0M421.7 128.5h0M427.7 136.1h0M416.4 135.9h0M416.1 126.8h0M434.6 135.2h0M437.6 133.3h0M425.1 133.3h0M425.7 134.9h0M419.6 131.4h0M430.2 131h0M432.2 129.4h0M444.1 135.2h0M413.9 135.7h0M443.3 126.9h0M446 134.1h0M424.3 128.3h0M437.1 127.2h0M440.4 127.3h0M434.6 131.8h0M422.3 128.3h0M433.6 127.9h0M442.2 126.2h0M416.2 128.9h0M428.8 134.2h0M413.3 125.3h0M441.1 130.7h0M438.9 132.1h0M414.1 125.6h0M437.8 128.5h0M435.9 135.7h0M416.8 136.8h0M430.3 135.1h0M435.9 127h0M423.9 134h0M429.6 130.3h0M445.5 127h0M434 130.7h0M429.5 135.9h0M414.8 135.4h0M416.7 129.6h0M441.3 125.8h0M437.7 135.7h0M440.8 136.7h0M432.1 131.1h0M432 127.7h0M430.5 131.4h0M437.4 133.2h0M423.7 130.7h0M429.3 129.2h0M428.4 127.9h0M434.9 128.5h0M419.9 125.6h0M413.4 128h0M415.6 136.3h0M418.6 125.1h0M441.5 133.6h0M436.8 134.3h0M437.9 129.8h0M427.6 132h0M416 127.6h0M428.3 132.9h0M441.7 133.4h0M429.8 133.7h0M268 130.8h0M281.7 132.4h0M278.7 133h0M270.3 134.3h0M273.5 128h0M261.8 125.9h0M280.9 130.3h0M272.4 126.9h0M279.6 125.2h0M262.2 135.4h0M282.1 132.1h0M257 129.7h0M269.1 126.6h0M257.1 133.6h0M259.4 131.1h0M275.8 127h0M255.9 136.2h0M264.9 135.8h0M259.4 135.5h0M278.3 134.4h0M256.3 131h0M263.6 128.4h0M278.4 132.4h0M273.6 126.7h0M274.1 132h0M282.3 125.8h0M254.6 125.2h0M273 133.1h0M275.3 128.9h0M275.4 132.9h0M274.4 133.9h0M256 134.5h0M256.4 132h0M276.1 134.6h0M271.5 132.5h0M261.5 135.5h0M254.2 135.2h0M269.2 125.5h0M256.5 128.1h0M275.4 129.4h0M263.7 127.9h0M277.1 127h0M256.7 134.9h0M268.1 125.3h0M256.8 127.1h0M276.3 133.6h0M270 127.5h0M260.7 127.9h0M281.5 136h0M273.5 133.7h0M263.6 130.1h0M278.4 126.6h0M264.8 128.1h0M280.9 136.1h0M262.5 134h0M282.1 125.8h0M255.7 133h0M275 129.3h0M262.3 133.2h0M266.1 128.4h0M272.2 126.5h0M255.3 125.2h0M260.4 128.4h0M256.9 134.8h0M275.1 135.1h0M260.3 132.8h0M268.2 133.5h0M263.4 127.2h0M260.7 129h0M280.7 135.2h0M412.2 126.6h0M398.1 129.7h0M406.7 131.4h0M410.8 131.3h0M412.5 135.1h0M394.2 133.9h0M403.6 126.4h0M396.7 134.5h0M398.7 131.2h0M398.6 132.7h0M393.8 126.8h0M387.1 130.4h0M406.5 133h0M404.7 134.1h0M408.4 134.2h0M390.5 127.5h0M392.7 134.5h0M402.1 131.5h0M410.9 132.6h0M398.8 134.7h0M391.8 129.6h0M402 135.4h0M411.5 135h0M409.1 134.2h0M409.9 129.3h0M397.2 131h0M393.4 127h0M409.2 133.6h0M407.1 135.1h0M408.7 126.8h0M396.7 133.5h0M394 132.9h0M392.8 125.4h0M409.2 135.4h0M410.5 130.4h0M396.1 128.1h0M409.3 125.4h0M396.5 133.9h0M398.2 128.8h0M401.3 130.8h0M392.3 127.2h0M393.5 131.9h0M393.5 129.5h0M393.3 134.2h0M400 132.6h0M389.2 133.2h0M406.8 127.9h0M391.1 125.7h0M398.1 135h0M403.2 135.6h0M377.2 139.9h0M430.8 140.6h0M389.3 136.5h0M370 137h0M334.1 140.4h0M321.9 141.7h0M347.7 139.9h0M296.2 141.5h0M335.7 136.7h0M351.1 141.4h0M259.4 141.3h0M329.2 139.9h0M308.2 138.8h0M375.5 140.4h0M409.6 137.7h0M371.7 140.1h0M381.2 140.3h0M371.6 139.4h0M302.7 137.8h0M325.8 136.4h0M415.9 137.5h0M435.5 141.1h0M288.3 137.6h0M255.5 136.8h0M438.4 137.8h0M418.8 139.3h0M370.3 139.7h0M410.6 141.3h0M367.8 141.2h0M427.5 141.8h0M300.3 141.4h0M338.9 138.9h0M382.5 137.2h0M294.9 141.8h0M391 137.7h0M303.9 139.9h0M390 137.9h0M408.2 141h0M335.1 137.5h0M443.9 138.7h0M271.1 143.9h0M425.9 152.4h0M406.7 142.5h0M352.2 142h0M313.8 143h0M293 141.1h0M334.6 141.6h0" fill="none" stroke="#5053a6" stroke-width="3.4" stroke-linecap="round"/><path d="M247.6 23.7V160.7H441.4" fill="none" stroke="#000" stroke-width="2.9"/><path d="M247.6 12.7L253.3 26.3L247.6 24.1L241.9 26.3Z" fill="#000"/><path d="M452.4 160.7L438.6 154.9L440.8 160.7L438.6 166.5Z" fill="#000"/><text transform="translate(243.6 88) rotate(-90)" font-size="9.7" text-anchor="middle">EMT</text><text x="348.6" y="171.8" font-size="9.6" text-anchor="middle">Cell Cycle Coordinate</text><text x="458.7" y="12.4" font-size="16.5" font-weight="bold">c</text><path d="M622.6 115.2h0M608 101.3h0M670.6 121.6h0M547.9 103.5h0M656.5 117.9h0M557 97.2h0M612.1 108.2h0M641 109.7h0M559.4 121h0M569.2 119.3h0M606.3 110.8h0M502.2 96.5h0M586.4 107.5h0M499 105.9h0M525 123.9h0M604.6 114.7h0M674.4 106.7h0M679.9 105.6h0M532.1 117.3h0M509.3 97.8h0M583.7 118.7h0M568.3 114.5h0M555.9 107.6h0M633.7 115.6h0M621.9 106.5h0M592.4 99.2h0M604.3 107.1h0M596.4 96.5h0M615.4 97.5h0M665.6 107.7h0M669.3 118.9h0M675.9 100.9h0M651.9 109.5h0M500.9 123.4h0M570.3 119h0M636.3 121.2h0M538.9 114.6h0M601.3 112.1h0M491 111.9h0M520.7 112.4h0M560 108.5h0M494 105.5h0M564.9 101.9h0M526 96.9h0M652.4 105.7h0M543.8 117.3h0M556.1 111h0M640.4 99.8h0M591.9 118.6h0M490 96.2h0M523.5 122h0M602.2 113.9h0M519.9 111.1h0M529.7 107h0M604.6 118.9h0M578.9 95.2h0M533.8 95.5h0M591.8 110.1h0M606.7 103.6h0M487.9 106.6h0M534.8 110.6h0M541.5 96.3h0M655.7 123.5h0M490.3 114.7h0M549.4 97.9h0M518.9 116.4h0M619 110.5h0M642.2 114.9h0M491.5 116.4h0M652.7 123.7h0M517.9 115.9h0M546.1 109.7h0M546.9 115.1h0M542.4 106.8h0M534.4 107h0M538.5 103.1h0M529.7 113.5h0M541.7 115.6h0M528.2 122.7h0M534.1 117.7h0M543 111.5h0M528.2 108.7h0M533.5 112.3h0M537.1 109.8h0M526.6 118.8h0M544.2 115.7h0M538.4 105h0M525.4 105.9h0M535.7 118.2h0M530.6 111.8h0M531.4 108.6h0M536.5 117.1h0M531 107.7h0M542.8 108.3h0M531.1 107.2h0M604.7 117.5h0M655.6 105.5h0M618.2 117.3h0M629.8 114.6h0M626.6 116.8h0M653.1 114.3h0M638.8 105.8h0M640.3 106.1h0M609.8 121.1h0M638.4 113.3h0M613.4 104.9h0M645.5 113.7h0M646.6 110.2h0M639.7 102.8h0M676.8 100.5h0M649.5 104h0M650.7 113.4h0M642.6 111.8h0M636.5 110.8h0M657.4 113.4h0M588.8 111.3h0M567.2 119.1h0M581.6 120.4h0M577.4 119.9h0M574.1 113.5h0M579.6 122h0M583 114.9h0M581.9 113.5h0M572.4 115.6h0M580.1 117.6h0M600.1 120.9h0M575.6 120.5h0" fill="none" stroke="#d9d9d9" stroke-width="3.4" stroke-linecap="round"/><path d="M517.1 32.5h0M523.8 33.6h0M526.1 34.2h0M525.5 36.5h0M529 37.1h0M530.1 39.4h0M520.9 38.8h0M519.8 40.5h0M523.8 39.9h0M527.2 40.5h0M536.4 39.9h0M524.9 43.4h0M521.5 46.3h0M526.1 45.7h0M529 48h0M533 48.6h0M537.6 46.3h0M544.5 46.3h0M540.5 49.1h0M519.2 50.3h0M524.9 49.7h0M527.2 51.4h0M531.3 51.4h0M537.6 52.6h0M541 53.5h0M523.8 53.7h0M519.8 55.5h0M524.9 56h0M528.4 55.5h0M533 54.7h0M537.6 56h0M523.2 57.8h0M530.1 59.5h0M534.7 61.2h0M538.7 60.1h0M519.8 61.6h0M524.9 64.7h0M526.1 67.5h0M535.9 64.1h0M537.6 62.9h0M535.3 67.5h0M542.8 64.7h0M530.7 71.6h0M524.4 75h0M529 79h0M544.5 73.9h0M546.6 54h0M550.8 55.1h0M556.6 45.1h0M554.8 48.6h0M558.3 49.1h0M556.6 51.4h0M562.3 49.1h0M565.2 49.1h0M562.9 52.6h0M565.2 54.9h0M556.6 55.8h0M559.4 56h0M561.1 57.8h0M564 58.9h0M566.3 60.4h0M569.4 42.5h0M573.8 55.1h0M571.5 57.8h0M549.1 61.6h0M552.5 61.8h0M554.3 60.6h0M551.4 62.9h0M556 64.7h0M560.6 65h0M563.4 64.1h0M559.4 68.1h0M557.7 69.3h0M546.8 68.4h0M549.1 67h0M550.8 67.5h0M547.9 71h0M550.2 72.1h0M555.4 71.6h0M558.3 72.7h0M560.6 72.1h0M556 74.4h0M557.1 77.9h0M569.5 64.3h0M573.2 65h0M569.5 68.4h0M576.1 79h0M577.8 79h0M562.9 84.2h0M537.6 57.2h0M536.4 59.5h0M533.6 58.3h0M634 54.2h0M637.4 55.6h0M642 53.3h0M643.2 56.1h0M636.3 58.4h0M640.9 59.5h0M640.2 63h0M648.9 61.8h0M638.6 65.7h0M640.9 66.4h0M645.5 67.1h0M611 69.9h0M586.9 52h0M671.5 53.8h0M496 79.7h0M563 84.2h0M577.2 79.1h0M630 49h0M647 70h0M538.5 47.6h0M522.2 62.8h0M515.6 62.5h0M528.4 46.7h0M526.1 63.5h0M525.7 48.6h0M516.2 52.4h0M530.3 57h0M537.2 51.6h0M517.5 70.7h0M534.4 51.2h0M524.9 38.2h0M540.9 60.7h0M530.4 45.3h0M527 46.3h0M530.9 58h0M524.7 56.4h0M531.9 56.2h0M525.2 57.8h0M518.2 64.2h0M539.2 48.6h0M526.1 57.4h0M524.7 42.3h0M529.9 45.8h0M519.4 58.5h0M520.6 52.5h0M525.3 37h0M525.1 52.3h0M528.4 47.4h0M534.2 41.6h0M525.4 52.9h0M530.7 45.4h0M531.3 34.9h0M522 39h0M529.3 64.9h0M522.8 35.4h0M533.9 51h0M530.5 54.5h0M528.1 54.8h0M520.6 38h0M528.6 46.1h0M523.8 50.3h0M531.9 56.2h0M527.3 43.2h0M523.5 38.5h0M533.1 58h0M532 58.9h0M524.7 52.3h0M534.4 43.5h0M526.4 52.7h0M526.3 50h0M528.7 56.5h0M523.9 37.8h0M525.6 50h0M556 66h0M550.3 48.1h0M558.3 65h0M557.2 51.5h0M554.5 54.4h0M559.4 65.4h0M548.5 58.6h0M556.7 67.5h0M559.6 86.2h0M558.7 67.2h0M563.5 66.8h0M549.8 53.8h0M548 55.9h0M558.4 52.5h0M559.7 56.7h0M569.7 52.3h0M560.7 55.7h0M551.8 59.3h0M561.8 53h0M551.9 49.6h0M548.1 50.1h0M572.7 64.6h0M559 61.5h0M561.3 69.2h0M560.4 69.4h0M567.9 58.3h0M558.7 66.4h0M564.3 49.5h0M550.8 79.3h0M548.6 70.6h0M565.6 59.3h0M565.8 51.7h0M560.1 64h0M558.4 46h0M558 54.8h0M552.9 67h0M566.2 61.6h0M561 57.1h0M560 68.6h0M559.3 52.7h0M563.3 63.3h0M560 57h0M561.5 54.2h0M550 64.7h0M560.1 53.1h0M570.1 76.2h0M553.9 56.3h0M556.2 76.9h0M562.4 52.2h0M562.7 65.8h0M538 52.8h0M537.3 65.4h0M544.8 54h0M547.4 52.5h0M537.6 64.1h0M549.9 58.8h0M540 56.3h0M544.7 52.4h0M545.9 46.7h0M547 49h0M535 53.1h0M552.1 54.7h0M546.8 58.1h0M541.9 59.3h0M538.9 57.3h0M535.5 57.3h0M537.2 50h0M546.7 43.1h0M542.3 52.9h0M538.3 50.3h0" fill="none" stroke="#9b9bdb" stroke-width="3.4" stroke-linecap="round"/><path d="M494.9 139.3h0M501.1 136.4h0M495.5 130.5h0M500.8 140.5h0M485.9 139.3h0M484.8 138.9h0M500 140.8h0M486 141.3h0M493 135.9h0M494.4 129.5h0M491.8 129.4h0M492.1 142.5h0M504.1 139.4h0M500.7 133.9h0M509.9 136.2h0M495.2 136.1h0M494.9 134.4h0M499.7 132.6h0M506.9 146.4h0M487.3 137.1h0M495.6 133.1h0M493.8 129.8h0M498.6 132.5h0M496 139.5h0M499.3 139.6h0M492.3 135h0M495.3 136.2h0M490.6 134.5h0M490.7 130.7h0M494.1 142.2h0M494.1 137.8h0M487.4 147.9h0M505.2 132.4h0M494.1 135.3h0M486 140.2h0M502.2 134.8h0M490.1 129.3h0M498.3 131.4h0M494.9 136.5h0M496.6 137.6h0M496.1 135.5h0M491.3 140.8h0M495.3 140.8h0M508.2 137.5h0M495.4 134.8h0M497.8 138.6h0M488.2 140.4h0M486.1 136.3h0M509 138.2h0M492.6 134.4h0M508.5 129.2h0M498.5 131.2h0M495.5 139.7h0M498.1 138.1h0M499.1 143.6h0M502.7 136.3h0M497.8 140.2h0M495.9 142.4h0M496.1 140.8h0M503.8 133.1h0M500.3 135.1h0M488.5 136.6h0M490.9 131.3h0M497.1 138.3h0M491 140.9h0M492.6 133.7h0M488.8 145.5h0M493.3 134.6h0M497.8 135h0M501.5 134.9h0M495.1 132.6h0M508.5 138h0M494.5 136.1h0M515.8 144h0M501.5 138.9h0M498.2 138.6h0M491.8 134.9h0M494 135.6h0M496.2 131.9h0M507.5 140.6h0M486 135.9h0M507.4 144h0M493.4 139.5h0M499.7 140h0M495.9 137h0M492.8 139.1h0M542.8 146.2h0M527.2 128.1h0M538.7 132.7h0M558.9 136.6h0M533.1 133.4h0M531.6 126.4h0M527.4 135.2h0M520.2 133.6h0M545.3 135.5h0M534.6 139.2h0M536.8 138.6h0M551.5 135.2h0M557.8 134.7h0M525.6 127h0M544 132.3h0M539.9 134.2h0M537.8 130.8h0M538.6 133.5h0M533.8 128.5h0M549.1 141.4h0M539.9 144.8h0M537.3 130.9h0M545.9 135.2h0M542.5 131.7h0M538.4 139.9h0M537.1 135.4h0M550.7 133.4h0M538.9 131.8h0M533.2 133.7h0M525.9 127.5h0M530.8 136.7h0M524.1 129.1h0M535 135.9h0M536.5 133.7h0M514.5 139h0M534.2 132.9h0M540.2 138.6h0M535.6 127.9h0M525 136.4h0M546.1 131.8h0M527.4 134.1h0M522.4 133.4h0M523.8 138.1h0M533.9 121.9h0M543.4 134.8h0M545.1 124.8h0M536 139.6h0M522.7 122.1h0M527.8 127.5h0M525.5 123.8h0M532.3 142h0M517.2 125.9h0M535.1 133.6h0M540.1 130.1h0M532.6 123.1h0M538.4 131.1h0M525.1 136.6h0M520.2 132h0M528 138.2h0M545 131h0M543.8 133h0M529.7 130.9h0M545.4 134.9h0M530.9 143.4h0M548.4 135h0M538.6 134.1h0M529.7 129.6h0M541.6 128.8h0M526.6 141.1h0M525.1 126.9h0M520.2 128h0M536.5 132.5h0M533.5 130.7h0M533.3 143.8h0M547.7 135h0M530 136.9h0M527.1 126.8h0M545.8 129.5h0M547.5 135.4h0M537.2 142h0M517.5 127.9h0M528.3 124.3h0M539.8 138.3h0M534.2 141.4h0M548.8 131.2h0M540.4 141h0M528 131.9h0M546.6 139.2h0M533.3 132.8h0M543.8 130.9h0M527.8 130.5h0M520.6 141.1h0M523.5 140.9h0M528.2 121.2h0M524.3 127.9h0M545.4 142.8h0M546.7 131h0M536.6 125.5h0M524.2 133h0M532.9 132.4h0M527.5 132.5h0M547.8 130.4h0M537 131.3h0M538.6 130.5h0M530.2 134.8h0M514.9 128.5h0M526.7 131.4h0M523.4 132.2h0M537.5 140.2h0M534.9 135.1h0M526.4 132.4h0M530.3 135.9h0M548.9 135.2h0M524.9 139h0M525.3 135.8h0M531.8 142.9h0M527.4 140.4h0M529.9 132.8h0M539 130.7h0M550.5 137.9h0M517.1 135.8h0M533.8 132.5h0M534.4 124.9h0M533.2 122.9h0M532.2 134.9h0M530.8 137.2h0M543.5 137.4h0M529.6 125.9h0M532.8 138.7h0M534 130.1h0M535 135.1h0M532.4 135.3h0M543.5 128.6h0M533.9 129.7h0M535.7 121.6h0M533.5 128h0M524.5 123.1h0M526.1 135.4h0M524 133.3h0M535.8 138h0M527.2 135h0M523.9 129.5h0M536.3 134.9h0M539 130.9h0M517.3 136.3h0M550.1 134.7h0M534.3 127.6h0M533 133h0M544.1 133.3h0M534.7 131.3h0M528.3 137.9h0M554.8 142.4h0M523.8 131h0M533.1 131.1h0M523.8 132.3h0M533 130.6h0M537.7 121.1h0M584.7 130.1h0M586.5 140.2h0M578.6 134.6h0M580.8 136.7h0M577.2 136.5h0M587.6 133h0M573.9 132h0M581.1 133.6h0M594.7 136.4h0M583.3 135.3h0M585.8 135.5h0M582.1 133.8h0M576 129.2h0M582.8 131.7h0M585.4 128.3h0M576.9 138h0M585 122.5h0M590.5 131.9h0M589.4 144.9h0M573.5 131.3h0M577.1 127.3h0M573.3 132.9h0M589.4 139.4h0M586.7 132.2h0M587.2 136.1h0M577.7 133.5h0M576 131.1h0M583.6 133.4h0M577.9 130.3h0M583.9 130.6h0M586.9 134.9h0M584.4 135h0M576.8 136.9h0M570.3 133.7h0M581.4 125.8h0M584 135.7h0M581.4 131.5h0M580.4 131.6h0M578.9 125.6h0M587.3 130.1h0M582.7 129.4h0M583.7 132.8h0M577.2 125.7h0M579.3 133.3h0M584 133.6h0M577 127.4h0M575.4 129.9h0M581 128.7h0M590.2 137.5h0M591.8 131.3h0M582.2 124.7h0M581.1 130.8h0M574.6 137.2h0M653.3 134.1h0M644 127.9h0M670.4 134.7h0M660.7 134.3h0M662.7 125.4h0M639.4 142.5h0M641.5 139h0M662.3 137.7h0M650.2 126.5h0M649.5 130.8h0M655.2 130h0M640.1 130.7h0M659.3 126.8h0M652.2 135.4h0M656.6 134.3h0M645.6 135h0M656.9 130.2h0M645.3 140.1h0M661.1 134h0M660.7 129.5h0M656.9 132.7h0M658 138.3h0M626.3 131.3h0M659.9 131.6h0M649.4 129.4h0M652.9 136.7h0M649.3 130.5h0M638.8 129.7h0M646.9 128.9h0M658.3 136.1h0M665.5 130.1h0M646.1 123.8h0M643.4 136.4h0M665.8 129.1h0M643.6 135h0M671.7 135.1h0M652.5 139.6h0M643.6 138.7h0M661.4 129.8h0M668.1 132.1h0M638.4 125.9h0M666.8 142.2h0M649.3 135.4h0M666.1 140.7h0M648.4 131.2h0M637 121.7h0M656.8 141.4h0M660.8 133.5h0M671.9 133.7h0M668.4 133.3h0M658.6 136.5h0M649.7 135.9h0M647.1 124.3h0M649.2 139h0M644.1 130.1h0M649.4 130.4h0M627.8 142.5h0M653.7 138.1h0M651.7 131.1h0M659.2 133.9h0M647.4 136h0M657.4 132.6h0M640.4 126.1h0M646.3 128.7h0M634.3 126.1h0M665.6 134.2h0M657.6 137.5h0M640.8 138.6h0M651.4 129h0M661 134.3h0M656.7 136h0M655.6 130.2h0M643.9 132.2h0M645.9 144.7h0M652.9 134.1h0M660.7 137.9h0M644.1 130.6h0M641.3 133.2h0M662.9 123.6h0M643.2 132.9h0M662.2 139.6h0M654.3 144.5h0M660.4 139.6h0M668.6 136.8h0M658.5 133.3h0M659.4 129.7h0M643.3 132.1h0M645.4 136.4h0M658.1 128.7h0M666.6 138.1h0M665.2 127.6h0M674 123.2h0M655 127.4h0M653.9 123.8h0M661.6 125.5h0M652.2 139.2h0M651.4 131.9h0M642.1 134.2h0M661.4 139.4h0M641.8 139.9h0M656.9 130.2h0M638.5 140.3h0M662.4 135.1h0M642.2 133h0M660 135.4h0M636.9 125.2h0M647.8 128.7h0M663.2 132.4h0M644.3 136.4h0M652.6 131h0M647.5 132.3h0M630.1 138.3h0M654.9 140.8h0M656.1 137.2h0M641.5 140h0M657.5 130.8h0M644.4 131.3h0M642.5 134.8h0M652.1 131.3h0M645.5 130.2h0M673.8 142.1h0M637.2 131.9h0M659 127.7h0M661.4 135.7h0M633.2 143.1h0M635.5 133.4h0M657.3 139.8h0M647.4 130.6h0M655.6 130.3h0M662.8 129.2h0M648.5 132.2h0M641.9 143.1h0M618.8 125.7h0M641.1 137.1h0M619.9 126.1h0M626.1 129.5h0M634.7 133.2h0M633 138.7h0M630.3 131.9h0M614.8 131.4h0M630.9 129h0M619.8 141h0M648.6 137.9h0M626.3 131.5h0M629.5 124.3h0M618.8 127.7h0M624.2 135.2h0M617.7 128h0M635.9 136.9h0M625.9 134h0M632.5 133.6h0M622.5 135.6h0M624 134.7h0M638.3 127.3h0M620.2 130.2h0M613.6 144.9h0M631.2 125.4h0M618.9 129.4h0M624.5 137.9h0M635.3 131.1h0M621.5 127.5h0M635 124.7h0M622.6 134.9h0M639.9 137.6h0M638.6 139.7h0M624.2 132.3h0M626.3 137.7h0M621.3 126.3h0M629.6 132.9h0M637.2 128.3h0M616.4 133h0M635.3 136.1h0M617.4 137.9h0M621.1 126.6h0M613.7 139h0M644.8 129.4h0M628.5 126.4h0M630 131.1h0M622.6 124h0M636.5 132h0M611.2 133.6h0M628.2 130.9h0M645.7 134.9h0M624.9 130.3h0M628.1 132h0M633.4 124.1h0M621.5 132.2h0M628.2 127.3h0M635.7 129.5h0M629.6 131.5h0M631 133.1h0M625.2 122.9h0M630.5 123.4h0M628.4 130.3h0M639.6 134.6h0M633.8 134h0M626.1 136.9h0M608.4 139.2h0M633.7 134.7h0M634 131.9h0M620.7 126.3h0M612 126.8h0M619.7 144h0M643.3 121.4h0M644 129h0M641.5 135.3h0M659.9 125.5h0M611.1 142.4h0M644.6 133h0M660.9 130.3h0M611.4 122.6h0M644.6 128h0M637.5 135.7h0M635.1 128h0M644 122.1h0M649.9 135.5h0M655.1 128.6h0M668.2 142.2h0M652 138.3h0M674.9 139h0M652.5 143.3h0M626 141.3h0M617.9 129.2h0M612.8 135.2h0M626 127.5h0M616 126h0M653.8 126.1h0M654.2 123.8h0M649 127h0M633.6 126.6h0M639.1 137.8h0M625.4 127.3h0M536 150h0M651 151h0" fill="none" stroke="#5053a6" stroke-width="3.4" stroke-linecap="round"/><path d="M478.3 24.1V160.7H672.3" fill="none" stroke="#000" stroke-width="2.9"/><path d="M478.3 13.1L484 26.7L478.3 24.5L472.6 26.7Z" fill="#000"/><path d="M683.3 160.7L669.5 154.9L671.7 160.7L669.5 166.5Z" fill="#000"/><text transform="translate(474.3 88) rotate(-90)" font-size="9.7" text-anchor="middle">EMT</text><text x="579.4" y="171.8" font-size="9.6" text-anchor="middle">Cell Cycle Coordinate</text><path d="M302.8 68.8L321.4 83.7M294.6 117.4L299.2 118M319.2 93.7L317 95M426.2 114.4L427.6 115.8M320 115.7L319.3 115.5M324.7 110.1L322.7 109.3M299.2 118L301.9 112M418.6 106.7L420.1 108.6M324.7 110.1L324.8 109.7M261.3 112.5L267.3 114.7M324.8 109.7L325.1 108M326.9 83.4L329.8 87M412.1 114.5L413 114.1M419.4 118.5L417.4 117.6M307.6 108.5L310.1 107.3M294.6 117.4L302.6 111.9M418.6 106.7L421.9 107M412.9 114.3L413.1 116.7M342 98.7L334.7 98.3M302.8 68.8L379.9 108.2M317.4 112.9L320.2 111.8M392 94.3L385.3 98.2M310.1 116.5L310.8 117.5M410.4 113.9L406.5 115M410.4 113.9L412.9 114.3M320.8 115.3L319.3 115.5M404.7 86.3L396.4 95.8M428.4 117L427.6 115.8M328 99.7L330.2 107.1M302.8 112L301.9 112M324.7 114.7L320.8 115.3M412.8 118.4L411 116.5M319.2 120.1L321.8 119.1M314.2 119.9L314.8 119.2M405 119.9L408.5 119.5M316.2 122.8L316.2 120.6M334.7 90.1L329.8 87M318.7 119.6L316.2 120.6M307.4 103.8L303.7 97.4M410.4 112.3L410.4 113.9M301.9 112L307 113.6M426 117.6L427.6 115.8M375.5 119.9L382.1 124.2M430.9 108.1L429 112.2M329.8 108.9L330.2 107.1M319.2 120.1L319.8 121.2M413.9 104.4L416.9 108.4M329.8 108.9L334 111.9M392 94.3L376.7 93.3M310.1 116.5L310.3 117.7M405 119.9L407.2 117M425.5 115.9L427.6 115.8M409.6 117.1L408.5 119.5M316.2 122.8L319.7 126.5M357.5 115L351.2 111.1M422 118L420.5 115.1M432.5 112.7L430.8 116.8M427.6 115.8L430.8 116.8M334.7 90.1L342 87.7M410.4 112.3L412.1 114.5M319.2 106.5L320.2 107.2M421.9 109.2L420.1 112.4M326.1 75.5L328.7 74.2M385.3 98.2L387.2 108.9M317.4 112.9L319.7 112.3M332.9 114.7L328.7 118.3M328.7 74.2L331.6 81M329.8 108.9L328.5 108.1M317.4 112.9L318.2 115.5M305.4 118L307 113.6M392 94.3L396.4 95.8M346.2 94.3L337.4 101M409.6 117.1L407.2 117M351.1 111L357.5 115M405.5 110.4L409.2 106.9M356 120.1L356.6 119.9M383.6 116.9L376.3 124.2M426.2 114.4L425.5 115.9M312.3 121.4L314.8 119.2M376.7 93.3L385.3 98.2M310.1 107.3L312.8 108.8M342 98.7L337.4 101M426 117.6L425.5 118.9M401.1 73.9L408.1 92.8M385.3 98.2L379.9 108.2M408.1 92.8L416.4 95M328 99.7L314.8 119.2M312.8 90.6L317 95M413.1 116.7L413.5 119.1M319.3 115.5L318.2 115.5M405 119.9L408.5 119.4M322.3 114.8L321.6 113M304.6 93.7L312.8 97.4M357.5 115L361.4 106.7M357.5 115L356.6 119.9M319.2 106.5L322.7 109.3M314.7 108.8L385.3 98.2M323.7 109.6L325.1 108M306.8 117.2L307 113.6M314.9 119.4L316.2 120.6M346.2 94.3L342 98.7M409.6 117.1L408.5 119.4M346.2 94.3L342 87.7M409.4 122.2L408.5 119.5M427.2 110.9L425.7 112.2M423.8 125.1L425.5 118.9M432.5 112.7L429 112.2M424.2 111.6L421.9 109.2M351.1 111L356.6 115.5M320.8 115.3L322.3 114.8M421.9 122.3L422 118M403.7 104.5L405.5 110.4M401.1 73.9L405.5 92.4M361.4 106.7L356.6 115.5M424.7 101.6L421.9 109.2M312.8 90.6L304.6 93.7M305.4 118L306.8 117.2M419 121L423.8 125.1M387.2 108.9L383.6 116.9M387.2 108.9L397 113.3M419.6 111.8L416.9 108.4M320.2 111.8L321.6 113M318.7 119.6L321.8 119.1M320.2 115.5L319.3 115.5M383.6 116.9L375.5 119.9M437.6 110.1L433.1 106.6M397 113.3L396.1 116.1M328.5 108.1L325.1 108M427.2 110.9L424.2 111.6M337.4 101L332 102.8M426 117.6L425.5 115.9M323.7 109.6L322.7 109.3M323.7 109.6L324.8 109.7M314.9 119.4L312.3 121.4M322.5 77.3L321.4 83.7M287.3 108.3L270.4 116.5M321 124.2L319.7 126.5M405.5 92.4L406.2 99.4M376.3 124.2L382.1 124.2M312.8 108.3L314.7 108.8M318.7 119.6L319.8 121.2M397 113.3L399.8 115.8M314.6 112.3L314.7 108.8M437.6 110.1L430.9 108.1M424.7 101.6L421.9 107M328 99.7L332 102.8M331.6 81L329.8 87M334.7 98.3L332 102.8M413.4 114.3L415.1 113.1M413 114.1L415.1 113.1M421.9 107L421.9 109.2M322.7 109.3L320.2 107.2M406.2 99.4L403.7 104.5M312.4 114.5L314.6 112.3M409.4 122.2L408.5 119.4M437.6 110.1L432.5 112.7M337.4 101L334.7 98.3M320 115.7L318.2 115.5M418.6 106.7L416.9 108.4M421.9 107L420.1 108.6M287.3 108.3L267.3 114.7M405.5 92.4L396.4 95.8M314.2 119.9L316.2 120.6M413.5 119.1L411 116.5M422 118L419.4 118.5M421.9 122.3L423.8 125.1M331.6 81L326.9 83.4M319.7 112.3L320.2 111.8M320.8 115.3L427.2 110.9M411.2 111L413 114.1M287.3 108.3L301.9 112M412.1 114.5L410.4 113.9M324.7 114.7L321.6 113M333.4 91.4L329.8 87M312.4 114.5L313.6 117M319.2 93.7L312.8 90.6M433.1 106.6L430.9 108.1M416.9 108.4L420.1 108.6M299.2 118L303.1 123.8M419.8 116.7L417.4 117.6M319.7 112.3L321.6 113M379.9 108.2L383.6 116.9M314.2 119.9L312.3 121.4M411.2 111L409.2 106.9M332 102.8L330.2 107.1M409.2 106.9L413.1 104.5M425.5 118.9L428.4 117M310.1 116.5L307 113.6M396.4 95.8L406.2 99.4M333.4 91.4L342 87.7M315.9 117.7L314.8 119.2M317 95L312.8 97.4M310.3 117.7L306.8 117.2M425.7 112.2L424.2 111.6M320.9 123.9L319.7 126.5M302.8 68.8L312.8 90.6M307.4 103.8L310.1 107.3M433.1 106.6L432.5 112.7M375.5 119.9L376.3 124.2M302.6 111.9L307 113.6M319.2 120.1L318.7 119.6M302.8 112L302.6 111.9M425.5 115.9L425.5 118.9M398.9 111.8L397 113.3M332.9 114.7L334 111.9M426.2 114.4L425.7 112.2M425.7 112.2L429 112.2M404.7 86.3L408.1 92.8M375.5 119.9L368.2 116.2M403.7 104.5L409.2 106.9M411.2 111L410.4 113.9M317.4 112.9L314.6 112.3M413.1 116.7L411 116.5M379.9 108.2L387.2 108.9M356 120.1L356.6 115.5M409.6 117.1L411 116.5M406.5 115L407.2 117M294.6 117.4L301.9 112M410.4 112.3L411.2 111M419.8 116.7L420.5 115.1M428.4 117L430.8 116.8M420.5 115.1L420.1 112.4M329.8 108.9L325.1 108M312.8 108.8L382.1 124.2M310.1 116.5L306.8 117.2M330.2 107.1L334 111.9M357.5 115L356.6 115.5M422 118L419.8 116.7M410.7 106.9L413.1 104.5M426 117.6L428.4 117M413.9 104.4L413.1 104.5M324.7 114.7L322.3 114.8M320.2 107.2L318.3 105.3M427.2 110.9L429 112.2M319.8 121.2L320.9 123.9M401.1 73.9L404.7 86.3M408.1 92.8L406.2 99.4M310.1 116.5L312.4 114.5M405.5 110.4L410.4 112.3M321.4 83.7L329.8 87M405.5 110.4L406.5 115M409.6 117.1L406.5 115M419 121L416.8 121M419.6 111.8L420.1 112.4M304.6 93.7L303.7 97.4M312.8 97.4L303.7 97.4M356 120.1L365.3 122.8M320.2 115.5L318.2 115.5M334.7 90.1L333.4 91.4M357.5 115L368.2 116.2M325.1 108L421.9 109.2M319.8 121.2L321.8 119.1M320.8 115.3L320.2 115.5M410.7 106.9L409.2 106.9M356.6 119.9L365.3 122.8M319.2 106.5L318.3 105.3M412.8 118.4L413.5 119.1M405 119.9L409.4 122.2M303.1 123.8L305.4 118M316.2 122.8L314.2 119.9M432.5 112.7L430.9 108.1M328.7 118.3L324.7 114.7M328 99.7L334.7 98.3M326.1 75.5L331.6 81M356.6 115.5L351.2 111.1M321 124.2L320.9 123.9M412.8 118.4L413.1 116.7M413.9 104.4L410.7 106.9M322.7 109.3L324.8 109.7M420.1 108.6L421.9 109.2M267.3 114.7L270.4 116.5M321.4 83.7L326.9 83.4M316.2 122.8L314.9 119.4M412.1 114.5L411 116.5M383.6 116.9L382.1 124.2M396.1 116.1L399.8 115.8M303.1 123.8L306.8 117.2M351.1 111L351.2 111.1M301.9 112L302.6 111.9M376.7 93.3L379.9 108.2M329.8 108.9L332.9 114.7M420.5 115.1L419.6 111.8M314.9 119.4L315.9 117.7M361.4 106.7L351.2 111.1M322.5 77.3L328.7 74.2M305.4 118L310.3 117.7M405.5 92.4L392 94.3M312.8 90.6L312.8 97.4M408.5 119.4L408.5 119.5M319.2 120.1L376.3 124.2M325 122.9L320.9 123.9M328.5 108.1L330.2 107.1M427.2 110.9L430.9 108.1M416.4 95L413.1 104.5M299.2 118L305.4 118M356.6 115.5L356.6 119.9M321 124.2L319.8 121.2M416.8 121L417.4 117.6M287.3 108.3L299.2 118M302.8 112L307 113.6M412.1 114.5L413.4 114.3M408.5 119.4L407.2 117M322.3 114.8L320.2 115.5M325 122.9L328.7 118.3M312.8 108.3L312.8 108.8M307.6 108.5L307 113.6M314.8 119.2L316.2 120.6M325 122.9L321.8 119.1M412.9 114.3L415.1 113.1M314.7 108.8L318.3 105.3M419.8 116.7L419.4 118.5M314.9 119.4L314.2 119.9M322.5 77.3L326.1 75.5M405.5 92.4L408.1 92.8M312.8 108.3L310.1 107.3M412.1 114.5L412.9 114.3M398.9 111.8L396.1 116.1M419.6 111.8L420.1 108.6M315.9 117.7L313.6 117M310.8 117.5L313.6 117M319.2 93.7L312.8 97.4M421.9 122.3L419 121M314.7 108.8L312.8 108.8M424.7 101.6L418.6 106.7M324.7 110.1L325.1 108M261.3 112.5L270.4 116.5M314.9 119.4L314.8 119.2M413 114.1L413.4 114.3M312.8 108.3L307.4 103.8M416.8 121L419.4 118.5M287.3 108.3L294.6 117.4M357.5 115L356 120.1M333.4 91.4L334.7 98.3M398.9 111.8L399.8 115.8M325 122.9L321 124.2M310.3 117.7L310.8 117.5M302.8 68.8L322.5 77.3M310.3 117.7L313.6 117M320 115.7L320.8 115.3M314.8 119.2L313.6 117M416.4 95L413.9 104.4M307.4 103.8L307.6 108.5M404.7 86.3L405.5 92.4M320 115.7L320.2 115.5M426.2 114.4L429 112.2M368.2 116.2L365.3 122.8M324.7 110.1L323.7 109.6M261.3 112.5L287.3 108.3M413 114.1L412.9 114.3M413.4 114.3L412.9 114.3M419 121L419.4 118.5M336 51.8L328.7 74.2M336 51.8L326.1 75.5M317.8 64.6L322.5 77.3M317.8 64.6L326.1 75.5M327.4 65L328.7 74.2M327.4 65L326.1 75.5M331.6 65.9L328.7 74.2M331.6 65.9L326.1 75.5M338.3 61.9L328.7 74.2M338.3 61.9L326.1 75.5M344.4 63.7L328.7 74.2M344.4 63.7L331.6 81M339.3 68.8L328.7 74.2M339.3 68.8L331.6 81M336 73.7L328.7 74.2M336 73.7L331.6 81M343.3 72.8L331.6 81M343.3 72.8L328.7 74.2M342.9 77.3L342 87.7M342.9 77.3L331.6 81M335.6 79.2L331.6 81M335.6 79.2L326.9 83.4M358.9 87.7L346.2 94.3M358.9 87.7L342 87.7M373.4 79.7L376.7 93.3M373.4 79.7L385.3 98.2M402.8 77.2L404.7 86.3M402.8 77.2L405.5 92.4M400.4 81.2L404.7 86.3M400.4 81.2L405.5 92.4M390.9 83.4L392 94.3M390.9 83.4L396.4 95.8M385.3 86.6L392 94.3M385.3 86.6L376.7 93.3M377 87L376.7 93.3M377 87L385.3 98.2M359.5 87.7L346.2 94.3M359.5 87.7L342 87.7M377.7 91L376.7 93.3M377.7 91L385.3 98.2M370.4 94.3L361.4 106.7M370.4 94.3L385.3 98.2M383.6 94.3L385.3 98.2M383.6 94.3L392 94.3M374.1 99.1L379.9 108.2M374.1 99.1L361.4 106.7M396.4 98.2L403.7 104.5M396.4 98.2L406.2 99.4M401.8 89.9L405.5 92.4M401.8 89.9L408.1 92.8M405.5 95.8L406.2 99.4M405.5 95.8L403.7 104.5M393.8 103.5L387.2 108.9M393.8 103.5L398.9 111.8M263 125.6L267.3 114.7M293.7 126.5L294.6 117.4M302.8 125.2L303.1 123.8M307.9 129.3L303.1 123.8M312 132L319.7 126.5M318.9 126.5L321 124.2M320.1 129.3L319.7 126.5M323.2 132.9L319.7 126.5M342.9 124.7L356 120.1M355.6 125.6L356 120.1M419.5 128.3L423.8 125.1M389.8 131.9L382.1 124.2M380.7 129.3L382.1 124.2M415.5 126.6L416.8 121M411.8 134.7L409.4 122.2M431.9 133L423.8 125.1M405 135.3L409.4 122.2M427.2 133.9L423.8 125.1M381.1 135L382.1 124.2M381.6 125.5L382.1 124.2M415.9 124.2L416.8 121M393.6 126.4L396.1 116.1M384 128.9L382.1 124.2M387.7 132.3L382.1 124.2M402.5 129.3L405 119.9M400.2 130.2L405 119.9M413.8 133.1L409.4 122.2M433.3 124.8L430.8 116.8M401.9 132.1L409.4 122.2M391 124.6L382.1 124.2M414.7 127L416.8 121M380.1 132.7L382.1 124.2M403.1 132.2L409.4 122.2M399 128.9L405 119.9M403.2 127.5L405 119.9M383 133.9L382.1 124.2M413.3 127.3L409.4 122.2M417.5 124.4L416.8 121M425 127L423.8 125.1M437.4 124.3L430.8 116.8M327.6 125.9L325 122.9M300.8 128.5L303.1 123.8M334 125.2L328.7 118.3M304.3 127L303.1 123.8M307.9 133.2L303.1 123.8M318.8 127.5L319.7 126.5M308 127.4L303.1 123.8M310.8 131.1L312.3 121.4M307 113.6L430.9 108.1M313.6 117L410.7 106.9M312.3 121.4L424.7 101.6M319.7 126.5L417.4 117.6M318.3 105.3L425.5 115.9M319.2 120.1L405.5 110.4M329.8 108.9L425.5 115.9M320.9 123.9L410.7 106.9M287.3 108.3L413.4 114.3M437.6 110.1L421.9 122.3M437.6 110.1L405.5 92.4M437.6 110.1L420.5 115.1M437.6 110.1L421.9 109.2M437.6 110.1L405.5 92.4M437.6 110.1L365.3 122.8M437.6 110.1L404.7 86.3M437.6 110.1L411.2 111M437.6 110.1L365.3 122.8M437.6 110.1L361.4 106.7M407.2 117L416.9 108.4M415.1 113.1L413.1 104.5M420.1 112.4L428.4 117M421.9 109.2L406.2 99.4M409.2 106.9L409.2 106.9M408.5 119.4L411.2 111M406.2 99.4L396.1 116.1M396.4 95.8L421.9 107M432.5 112.7L437.6 110.1M421.9 122.3L417.4 117.6M413.5 119.1L413.1 116.7M419.6 111.8L430.8 116.8M404.7 86.3L413.9 104.4M413.4 114.3L408.1 92.8M410.4 113.9L421.9 107M413.9 104.4L420.1 112.4M423.8 125.1L410.7 106.9M418.6 106.7L411.2 111M413.1 116.7L428.4 117M437.6 110.1L437.6 110.1M410.4 113.9L409.4 122.2M425.7 112.2L408.5 119.5M430.8 116.8L417.4 117.6M416.4 95L426.2 114.4M406.2 99.4L430.8 116.8M421.9 122.3L396.1 116.1M426.2 114.4L421.9 122.3M437.6 110.1L430.8 116.8M406.2 99.4L413.1 104.5M426.2 114.4L405.5 92.4M410.4 112.3L427.2 110.9M409.4 122.2L407.2 117M410.7 106.9L413.4 114.3M427.2 110.9L409.6 117.1M437.6 110.1L413 114.1M403.7 104.5L410.4 113.9M413.9 104.4L412.9 114.3M409.4 122.2L410.4 113.9M413.1 104.5L420.5 115.1M413.1 116.7L416.4 95M421.9 122.3L407.2 117M408.1 92.8L420.1 112.4M396.4 95.8L408.5 119.5M405 119.9L413.5 119.1M427.2 110.9L411 116.5M406.2 99.4L411.2 111M413.9 104.4L413.1 104.5M416.8 121L424.2 111.6M413.4 114.3L405.5 110.4M421.9 107L416.8 121M417.4 117.6L419.8 116.7M421.9 122.3L409.6 117.1M413.4 114.3L396.1 116.1M413.4 114.3L405.5 92.4M411 116.5L411.2 111M411 116.5L405.5 92.4M408.5 119.4L399.8 115.8M432.5 112.7L430.9 108.1M399.8 115.8L426.2 114.4M405.5 110.4L410.7 106.9M407.2 117L409.4 122.2M427.2 110.9L422 118M398.9 111.8L408.1 92.8M420.1 108.6L410.7 106.9M413.1 116.7L423.8 125.1M432.5 112.7L432.5 112.7M411.2 111L404.7 86.3M420.5 115.1L419.4 118.5M437.6 110.1L413.9 104.4M407.2 117L413.9 104.4M416.9 108.4L405 119.9M425.5 118.9L421.9 122.3M421.9 109.2L418.6 106.7M413.9 104.4L405 119.9M399.8 115.8L423.8 125.1M424.7 101.6L424.2 111.6M426 117.6L421.9 109.2M416.4 95L432.5 112.7M426 117.6L432.5 112.7M426 117.6L406.2 99.4M418.6 106.7L419.6 111.8M418.6 106.7L422 118M413.1 116.7L403.7 104.5M409.4 122.2L420.1 112.4M413 114.1L408.1 92.8M416.4 95L430.8 116.8M411.2 111L419 121M416.9 108.4L412.1 114.5M411 116.5L424.7 101.6M412.8 118.4L409.4 122.2M413.1 104.5L408.5 119.4M413.1 104.5L430.8 116.8M426.2 114.4L415.1 113.1M419 121L430.8 116.8M423.8 125.1L396.1 116.1M430.8 116.8L424.7 101.6M427.2 110.9L430.9 108.1M409.2 106.9L413.4 114.3M413.1 116.7L412.8 118.4M426.2 114.4L422 118M420.1 108.6L421.9 122.3M422 118L396.4 95.8M416.4 95L408.5 119.4M392 94.3L413.5 119.1M410.4 113.9L412.9 114.3M419 121L419 121M416.9 108.4L413.4 114.3M416.9 108.4L397 113.3M408.1 92.8L420.1 112.4M413.9 104.4L408.1 92.8M398.9 111.8L412.8 118.4M410.4 113.9L406.5 115M418.6 106.7L396.1 116.1M419.8 116.7L419.8 116.7M416.9 108.4L433.1 106.6M408.5 119.4L411.2 111M425.7 112.2L408.5 119.5M419.8 116.7L419.6 111.8M424.2 111.6L423.8 125.1M433.1 106.6L406.2 99.4M415.1 113.1L437.6 110.1M427.6 115.8L427.2 110.9M425.7 112.2L413.1 116.7M405 119.9L421.9 122.3M413.9 104.4L410.7 106.9M427.6 115.8L413.1 104.5M425.5 118.9L430.9 108.1M424.2 111.6L418.6 106.7M410.4 112.3L419.4 118.5M405 119.9L396.1 116.1M419.4 118.5L428.4 117M412.1 114.5L421.9 109.2M412.8 118.4L425.7 112.2M406.2 99.4L424.7 101.6M408.5 119.5L421.9 122.3M409.2 106.9L410.4 112.3M405.5 92.4L408.1 92.8M421.9 122.3L396.1 116.1M426 117.6L407.2 117M424.2 111.6L410.7 106.9M413.4 114.3L419 121M424.7 101.6L411 116.5M417.4 117.6L410.7 106.9M415.1 113.1L406.5 115M413.4 114.3L399.8 115.8M422 118L410.4 113.9M408.5 119.4L416.9 108.4M419.8 116.7L392 94.3M424.7 101.6L406.2 99.4M424.7 101.6L430.9 108.1M392 94.3L413.1 116.7M437.6 110.1L410.4 112.3M412.1 114.5L433.1 106.6M396.1 116.1L407.2 117M408.5 119.4L424.7 101.6M407.2 117L403.7 104.5M403.7 104.5L421.9 122.3M419.8 116.7L416.9 108.4M406.2 99.4L397 113.3M420.5 115.1L410.4 112.3M406.2 99.4L413.4 114.3M396.4 95.8L413.1 116.7M416.4 95L405 119.9M419.8 116.7L432.5 112.7M432.5 112.7L409.4 122.2M411.2 111L420.1 108.6M415.1 113.1L413.9 104.4M410.4 112.3L413.1 104.5M411.2 111L405.5 110.4M409.4 122.2L413.4 114.3M406.2 99.4L421.9 109.2M410.4 113.9L396.1 116.1M408.5 119.4L427.6 115.8M430.9 108.1L419.8 116.7M392 94.3L412.9 114.3M424.2 111.6L416.9 108.4M413.4 114.3L426 117.6M408.5 119.4L398.9 111.8M392 94.3L419.6 111.8M413.1 104.5L423.8 125.1M419 121L429 112.2M425.5 115.9L403.7 104.5M426 117.6L408.1 92.8M417.4 117.6L413.5 119.1M407.2 117L411 116.5M429 112.2L412.8 118.4M410.4 112.3L419 121M408.5 119.5L412.1 114.5M408.5 119.4L406.5 115M433.1 106.6L413.5 119.1M412.9 114.3L425.5 115.9M425.5 115.9L419.8 116.7M422 118L430.9 108.1M406.2 99.4L424.2 111.6M409.4 122.2L413.5 119.1M410.4 113.9L410.7 106.9M413.4 114.3L415.1 113.1M408.5 119.5L399.8 115.8M424.7 101.6L432.5 112.7M423.8 125.1L425.5 115.9M396.4 95.8L405.5 110.4M407.2 117L420.1 112.4M406.2 99.4L397 113.3M410.4 112.3L413.1 116.7M410.4 113.9L424.2 111.6M410.4 113.9L417.4 117.6M408.1 92.8L413.4 114.3M430.8 116.8L415.1 113.1M410.4 112.3L437.6 110.1M425.7 112.2L403.7 104.5M410.4 112.3L421.9 107M407.2 117L419.4 118.5M418.6 106.7L412.1 114.5M409.6 117.1L408.5 119.4M408.5 119.4L432.5 112.7M407.2 117L421.9 107M416.8 121L433.1 106.6M419 121L398.9 111.8M403.7 104.5L413 114.1M413.9 104.4L408.5 119.5M422 118L425.5 115.9M425.7 112.2L415.1 113.1M420.5 115.1L427.2 110.9M409.6 117.1L408.5 119.5M403.7 104.5L396.1 116.1M407.2 117L410.4 112.3M416.4 95L418.6 106.7M421.9 107L413.9 104.4M416.8 121L425.7 112.2M412.9 114.3L419.8 116.7M398.9 111.8L406.5 115M427.2 110.9L428.4 117M421.9 109.2L405.5 92.4M403.7 104.5L419.6 111.8M405 119.9L419.6 111.8M425.7 112.2L413.5 119.1M419.8 116.7L403.7 104.5M424.7 101.6L408.5 119.5M413.4 114.3L421.9 109.2M314.6 112.3L314.8 119.2M324.8 109.7L332.9 114.7M332 102.8L329.8 108.9M303.1 123.8L319.3 115.5M318.3 105.3L310.8 117.5M328.7 74.2L324.7 114.7M325 122.9L318.7 119.6M303.7 97.4L294.6 117.4M319.3 115.5L328.5 108.1M315.9 117.7L310.1 116.5M270.4 116.5L294.6 117.4M322.5 77.3L314.9 119.4M323.7 109.6L302.8 68.8M342 98.7L320.2 111.8M319.8 121.2L320.2 111.8M299.2 118L321.4 83.7M325 122.9L321.4 83.7M317.4 112.9L323.7 109.6M320 115.7L307.6 108.5M324.7 110.1L312.8 97.4M287.3 108.3L304.6 93.7M334 111.9L312.3 121.4M321 124.2L318.7 119.6M312.8 108.3L320.2 107.2M320 115.7L321.4 83.7M319.7 126.5L315.9 117.7M314.6 112.3L313.6 117M319.7 112.3L310.8 117.5M314.7 108.8L328.7 118.3M319.7 112.3L319.7 126.5M332.9 114.7L307 113.6M315.9 117.7L326.1 75.5M319.8 121.2L310.8 117.5M312.8 97.4L302.6 111.9" stroke="#000" stroke-width=".7" fill="none"/><circle cx="427.2" cy="110.9" r="2" fill="#2a0593"/><circle cx="408.5" cy="119.4" r="2" fill="#2d0594"/><circle cx="413.1" cy="116.7" r="2" fill="#2d0594"/><circle cx="416.8" cy="121" r="2" fill="#2f0595"/><circle cx="410.4" cy="113.9" r="2" fill="#300596"/><circle cx="413.4" cy="114.3" r="2" fill="#310596"/><circle cx="418.6" cy="106.7" r="2" fill="#360498"/><circle cx="413.5" cy="119.1" r="2" fill="#3a049a"/><circle cx="407.2" cy="117" r="2" fill="#3b049a"/><circle cx="421.9" cy="107" r="2" fill="#3e039b"/><circle cx="413.9" cy="104.4" r="2" fill="#3e039b"/><circle cx="420.1" cy="108.6" r="2" fill="#42039d"/><circle cx="411.2" cy="111" r="2" fill="#5002a2"/><circle cx="412.9" cy="114.3" r="2" fill="#5202a2"/><circle cx="412.1" cy="114.5" r="2" fill="#5402a2"/><circle cx="419" cy="121" r="2" fill="#5702a3"/><circle cx="428.4" cy="117" r="2" fill="#5802a3"/><circle cx="413.1" cy="104.5" r="2" fill="#5e02a3"/><circle cx="413" cy="114.1" r="2" fill="#5f02a4"/><circle cx="408.5" cy="119.5" r="2" fill="#6302a4"/><circle cx="429" cy="112.2" r="2" fill="#6302a4"/><circle cx="406.5" cy="115" r="2" fill="#6402a4"/><circle cx="417.4" cy="117.6" r="2" fill="#6703a5"/><circle cx="430.8" cy="116.8" r="2" fill="#6803a5"/><circle cx="419.4" cy="118.5" r="2" fill="#6803a5"/><circle cx="376.3" cy="124.2" r="2" fill="#6903a5"/><circle cx="382.1" cy="124.2" r="2" fill="#6903a5"/><circle cx="409.6" cy="117.1" r="2" fill="#6b03a5"/><circle cx="310.1" cy="107.3" r="2" fill="#6e03a6"/><circle cx="396.1" cy="116.1" r="2" fill="#6e03a6"/><circle cx="320.2" cy="115.5" r="2" fill="#7003a6"/><circle cx="433.1" cy="106.6" r="2" fill="#7103a6"/><circle cx="267.3" cy="114.7" r="2" fill="#7203a6"/><circle cx="270.4" cy="116.5" r="2" fill="#7203a6"/><circle cx="294.6" cy="117.4" r="2" fill="#7203a6"/><circle cx="299.2" cy="118" r="2" fill="#7203a6"/><circle cx="301.9" cy="112" r="2" fill="#7203a6"/><circle cx="324.7" cy="114.7" r="2" fill="#7203a6"/><circle cx="321" cy="124.2" r="2" fill="#7203a6"/><circle cx="356" cy="120.1" r="2" fill="#7203a6"/><circle cx="356.6" cy="119.9" r="2" fill="#7203a6"/><circle cx="351.2" cy="111.1" r="2" fill="#7203a6"/><circle cx="365.3" cy="122.8" r="2" fill="#7203a6"/><circle cx="321.8" cy="119.1" r="2" fill="#7203a6"/><circle cx="318.2" cy="115.5" r="2" fill="#7203a6"/><circle cx="426.2" cy="114.4" r="2" fill="#7203a6"/><circle cx="411" cy="116.5" r="2" fill="#7303a6"/><circle cx="334" cy="111.9" r="2" fill="#7303a6"/><circle cx="325.1" cy="108" r="2" fill="#7403a7"/><circle cx="315.9" cy="117.7" r="2" fill="#7903a7"/><circle cx="422" cy="118" r="2" fill="#7b03a8"/><circle cx="426" cy="117.6" r="2" fill="#7c03a8"/><circle cx="312.8" cy="108.8" r="2" fill="#7d03a8"/><circle cx="368.2" cy="116.2" r="2" fill="#7e03a8"/><circle cx="322.3" cy="114.8" r="2" fill="#7f03a8"/><circle cx="318.3" cy="105.3" r="2" fill="#7f04a7"/><circle cx="312.3" cy="121.4" r="2" fill="#8105a7"/><circle cx="432.5" cy="112.7" r="2" fill="#8206a6"/><circle cx="307.6" cy="108.5" r="2" fill="#880aa4"/><circle cx="320.8" cy="115.3" r="2" fill="#8a0ca3"/><circle cx="318.7" cy="119.6" r="2" fill="#8c0da2"/><circle cx="424.2" cy="111.6" r="2" fill="#8e0fa1"/><circle cx="420.5" cy="115.1" r="2" fill="#9011a0"/><circle cx="430.9" cy="108.1" r="2" fill="#9011a0"/><circle cx="320.2" cy="107.2" r="2" fill="#9111a0"/><circle cx="419.6" cy="111.8" r="2" fill="#92129f"/><circle cx="425.7" cy="112.2" r="2" fill="#93139f"/><circle cx="410.4" cy="112.3" r="2" fill="#94139e"/><circle cx="423.8" cy="125.1" r="2" fill="#96159e"/><circle cx="399.8" cy="115.8" r="2" fill="#96159d"/><circle cx="310.3" cy="117.7" r="2" fill="#97159d"/><circle cx="415.1" cy="113.1" r="2" fill="#97169d"/><circle cx="419.8" cy="116.7" r="2" fill="#98179c"/><circle cx="328.5" cy="108.1" r="2" fill="#9a189c"/><circle cx="405" cy="119.9" r="2" fill="#9c199b"/><circle cx="412.8" cy="118.4" r="2" fill="#9c199b"/><circle cx="420.1" cy="112.4" r="2" fill="#9e1b9a"/><circle cx="421.9" cy="109.2" r="2" fill="#9e1b9a"/><circle cx="302.6" cy="111.9" r="2" fill="#9e1b9a"/><circle cx="421.9" cy="122.3" r="2" fill="#9f1b9a"/><circle cx="425.5" cy="118.9" r="2" fill="#9f1b99"/><circle cx="306.8" cy="117.2" r="2" fill="#a01c99"/><circle cx="425.5" cy="115.9" r="2" fill="#a52097"/><circle cx="409.4" cy="122.2" r="2" fill="#a82296"/><circle cx="409.2" cy="106.9" r="2" fill="#a82395"/><circle cx="437.6" cy="110.1" r="2" fill="#a92395"/><circle cx="427.6" cy="115.8" r="2" fill="#aa2494"/><circle cx="322.7" cy="109.3" r="2" fill="#ac2692"/><circle cx="387.2" cy="108.9" r="2" fill="#af2990"/><circle cx="383.6" cy="116.9" r="2" fill="#af2990"/><circle cx="397" cy="113.3" r="2" fill="#af2990"/><circle cx="416.9" cy="108.4" r="2" fill="#b12b8e"/><circle cx="410.7" cy="106.9" r="2" fill="#b22c8e"/><circle cx="313.6" cy="117" r="2" fill="#b42e8c"/><circle cx="287.3" cy="108.3" r="2" fill="#b52f8b"/><circle cx="303.7" cy="97.4" r="2" fill="#b52f8b"/><circle cx="314.7" cy="108.8" r="2" fill="#b52f8b"/><circle cx="316.2" cy="120.6" r="2" fill="#bc3785"/><circle cx="324.8" cy="109.7" r="2" fill="#c33e7f"/><circle cx="319.7" cy="112.3" r="2" fill="#c8437c"/><circle cx="314.2" cy="119.9" r="2" fill="#c9447b"/><circle cx="305.4" cy="118" r="2" fill="#cc4778"/><circle cx="375.5" cy="119.9" r="2" fill="#cc4778"/><circle cx="356.6" cy="115.5" r="2" fill="#cc4778"/><circle cx="303.1" cy="123.8" r="2" fill="#cf4c74"/><circle cx="319.2" cy="120.1" r="2" fill="#cf4c74"/><circle cx="330.2" cy="107.1" r="2" fill="#d35270"/><circle cx="312.8" cy="97.4" r="2" fill="#d6556e"/><circle cx="307.4" cy="103.8" r="2" fill="#d6556e"/><circle cx="319.2" cy="106.5" r="2" fill="#d6556e"/><circle cx="334.7" cy="98.3" r="2" fill="#d6556e"/><circle cx="332" cy="102.8" r="2" fill="#d6556e"/><circle cx="261.3" cy="112.5" r="2" fill="#d6556e"/><circle cx="351.1" cy="111" r="2" fill="#d6556e"/><circle cx="357.5" cy="115" r="2" fill="#d6556e"/><circle cx="316.2" cy="122.8" r="2" fill="#da5b69"/><circle cx="310.8" cy="117.5" r="2" fill="#dd5f66"/><circle cx="319.7" cy="126.5" r="2" fill="#de6164"/><circle cx="320.2" cy="111.8" r="2" fill="#de6164"/><circle cx="385.3" cy="98.2" r="2" fill="#e87258"/><circle cx="361.4" cy="106.7" r="2" fill="#e87258"/><circle cx="314.8" cy="119.2" r="2" fill="#e87258"/><circle cx="320.9" cy="123.9" r="2" fill="#ee7e50"/><circle cx="314.6" cy="112.3" r="2" fill="#ee7f50"/><circle cx="319.8" cy="121.2" r="2" fill="#f8973f"/><circle cx="323.7" cy="109.6" r="2" fill="#f8983f"/><circle cx="321.6" cy="113" r="2" fill="#f8993f"/><circle cx="312.4" cy="114.5" r="2" fill="#f99d3c"/><circle cx="326.9" cy="83.4" r="2" fill="#f99f3b"/><circle cx="329.8" cy="87" r="2" fill="#f99f3b"/><circle cx="312.8" cy="90.6" r="2" fill="#f99f3b"/><circle cx="304.6" cy="93.7" r="2" fill="#f99f3b"/><circle cx="317" cy="95" r="2" fill="#f99f3b"/><circle cx="342" cy="87.7" r="2" fill="#f99f3b"/><circle cx="328" cy="99.7" r="2" fill="#f99f3b"/><circle cx="324.7" cy="110.1" r="2" fill="#f99f3b"/><circle cx="312.8" cy="108.3" r="2" fill="#f99f3b"/><circle cx="317.4" cy="112.9" r="2" fill="#f99f3b"/><circle cx="310.1" cy="116.5" r="2" fill="#f99f3b"/><circle cx="302.8" cy="112" r="2" fill="#f99f3b"/><circle cx="325" cy="122.9" r="2" fill="#f99f3b"/><circle cx="328.7" cy="118.3" r="2" fill="#f99f3b"/><circle cx="404.7" cy="86.3" r="2" fill="#f99f3b"/><circle cx="405.5" cy="92.4" r="2" fill="#f99f3b"/><circle cx="408.1" cy="92.8" r="2" fill="#f99f3b"/><circle cx="406.2" cy="99.4" r="2" fill="#f99f3b"/><circle cx="416.4" cy="95" r="2" fill="#f99f3b"/><circle cx="424.7" cy="101.6" r="2" fill="#f99f3b"/><circle cx="376.7" cy="93.3" r="2" fill="#f99f3b"/><circle cx="379.9" cy="108.2" r="2" fill="#f99f3b"/><circle cx="405.5" cy="110.4" r="2" fill="#f99f3b"/><circle cx="320" cy="115.7" r="2" fill="#f9a23a"/><circle cx="319.3" cy="115.5" r="2" fill="#faa836"/><circle cx="314.9" cy="119.4" r="2" fill="#faa936"/><circle cx="307" cy="113.6" r="2" fill="#fbad34"/><circle cx="396.4" cy="95.8" r="2" fill="#fcb82e"/><circle cx="302.8" cy="68.8" r="2" fill="#fbcc27"/><circle cx="322.5" cy="77.3" r="2" fill="#fbcc27"/><circle cx="326.1" cy="75.5" r="2" fill="#fbcc27"/><circle cx="328.7" cy="74.2" r="2" fill="#fbcc27"/><circle cx="331.6" cy="81" r="2" fill="#fbcc27"/><circle cx="321.4" cy="83.7" r="2" fill="#fbcc27"/><circle cx="334.7" cy="90.1" r="2" fill="#fbcc27"/><circle cx="333.4" cy="91.4" r="2" fill="#fbcc27"/><circle cx="319.2" cy="93.7" r="2" fill="#fbcc27"/><circle cx="346.2" cy="94.3" r="2" fill="#fbcc27"/><circle cx="342" cy="98.7" r="2" fill="#fbcc27"/><circle cx="337.4" cy="101" r="2" fill="#fbcc27"/><circle cx="329.8" cy="108.9" r="2" fill="#fbcc27"/><circle cx="332.9" cy="114.7" r="2" fill="#fbcc27"/><circle cx="401.1" cy="73.9" r="2" fill="#fbcc27"/><circle cx="392" cy="94.3" r="2" fill="#fbcc27"/><circle cx="403.7" cy="104.5" r="2" fill="#fbcc27"/><circle cx="398.9" cy="111.8" r="2" fill="#fbcc27"/><path d="M336 51.8m-1.6 0a1.6 1.6 0 1 0 3.2 0a1.6 1.6 0 1 0-3.2 0M317.8 64.6m-1.6 0a1.6 1.6 0 1 0 3.2 0a1.6 1.6 0 1 0-3.2 0M327.4 65m-1.6 0a1.6 1.6 0 1 0 3.2 0a1.6 1.6 0 1 0-3.2 0M331.6 65.9m-1.6 0a1.6 1.6 0 1 0 3.2 0a1.6 1.6 0 1 0-3.2 0M338.3 61.9m-1.6 0a1.6 1.6 0 1 0 3.2 0a1.6 1.6 0 1 0-3.2 0M344.4 63.7m-1.6 0a1.6 1.6 0 1 0 3.2 0a1.6 1.6 0 1 0-3.2 0M339.3 68.8m-1.6 0a1.6 1.6 0 1 0 3.2 0a1.6 1.6 0 1 0-3.2 0M336 73.7m-1.6 0a1.6 1.6 0 1 0 3.2 0a1.6 1.6 0 1 0-3.2 0M343.3 72.8m-1.6 0a1.6 1.6 0 1 0 3.2 0a1.6 1.6 0 1 0-3.2 0M342.9 77.3m-1.6 0a1.6 1.6 0 1 0 3.2 0a1.6 1.6 0 1 0-3.2 0M335.6 79.2m-1.6 0a1.6 1.6 0 1 0 3.2 0a1.6 1.6 0 1 0-3.2 0M358.9 87.7m-1.6 0a1.6 1.6 0 1 0 3.2 0a1.6 1.6 0 1 0-3.2 0M373.4 79.7m-1.6 0a1.6 1.6 0 1 0 3.2 0a1.6 1.6 0 1 0-3.2 0M402.8 77.2m-1.6 0a1.6 1.6 0 1 0 3.2 0a1.6 1.6 0 1 0-3.2 0M400.4 81.2m-1.6 0a1.6 1.6 0 1 0 3.2 0a1.6 1.6 0 1 0-3.2 0M390.9 83.4m-1.6 0a1.6 1.6 0 1 0 3.2 0a1.6 1.6 0 1 0-3.2 0M385.3 86.6m-1.6 0a1.6 1.6 0 1 0 3.2 0a1.6 1.6 0 1 0-3.2 0M377 87m-1.6 0a1.6 1.6 0 1 0 3.2 0a1.6 1.6 0 1 0-3.2 0M359.5 87.7m-1.6 0a1.6 1.6 0 1 0 3.2 0a1.6 1.6 0 1 0-3.2 0M377.7 91m-1.6 0a1.6 1.6 0 1 0 3.2 0a1.6 1.6 0 1 0-3.2 0M370.4 94.3m-1.6 0a1.6 1.6 0 1 0 3.2 0a1.6 1.6 0 1 0-3.2 0M383.6 94.3m-1.6 0a1.6 1.6 0 1 0 3.2 0a1.6 1.6 0 1 0-3.2 0M374.1 99.1m-1.6 0a1.6 1.6 0 1 0 3.2 0a1.6 1.6 0 1 0-3.2 0M396.4 98.2m-1.6 0a1.6 1.6 0 1 0 3.2 0a1.6 1.6 0 1 0-3.2 0M401.8 89.9m-1.6 0a1.6 1.6 0 1 0 3.2 0a1.6 1.6 0 1 0-3.2 0M405.5 95.8m-1.6 0a1.6 1.6 0 1 0 3.2 0a1.6 1.6 0 1 0-3.2 0M393.8 103.5m-1.6 0a1.6 1.6 0 1 0 3.2 0a1.6 1.6 0 1 0-3.2 0" fill="#f0e020"/><path d="M336 49.6L338.1 53.3L333.9 53.3ZM317.8 62.4L319.9 66.1L315.7 66.1ZM327.4 62.8L329.5 66.5L325.3 66.5ZM331.6 63.7L333.7 67.4L329.5 67.4ZM338.3 59.7L340.4 63.4L336.2 63.4ZM344.4 61.5L346.5 65.2L342.3 65.2ZM339.3 66.6L341.4 70.3L337.2 70.3ZM336 71.5L338.1 75.2L333.9 75.2ZM343.3 70.6L345.4 74.3L341.2 74.3ZM342.9 75.1L345 78.8L340.8 78.8ZM335.6 77L337.7 80.7L333.5 80.7ZM358.9 85.5L361 89.2L356.8 89.2ZM373.4 77.5L375.5 81.2L371.3 81.2ZM402.8 75L404.9 78.7L400.7 78.7ZM400.4 79L402.5 82.7L398.3 82.7ZM390.9 81.2L393 84.9L388.8 84.9ZM385.3 84.4L387.4 88.1L383.2 88.1ZM377 84.8L379.1 88.5L374.9 88.5ZM359.5 85.5L361.6 89.2L357.4 89.2ZM377.7 88.8L379.8 92.5L375.6 92.5ZM370.4 92.1L372.5 95.8L368.3 95.8ZM383.6 92.1L385.7 95.8L381.5 95.8ZM374.1 96.9L376.2 100.6L372 100.6ZM396.4 96L398.5 99.7L394.3 99.7ZM401.8 87.7L403.9 91.4L399.7 91.4ZM405.5 93.6L407.6 97.3L403.4 97.3ZM393.8 101.3L395.9 105L391.7 105Z" fill="#000"/><path d="M263 123.9L263.5 124.9L264.6 125.1L263.8 125.9L264 127L263 126.4L262 127L262.2 125.9L261.4 125.1L262.5 124.9ZM293.7 124.8L294.2 125.8L295.3 126L294.5 126.8L294.7 127.9L293.7 127.3L292.7 127.9L292.9 126.8L292.1 126L293.2 125.8ZM302.8 123.5L303.3 124.5L304.4 124.7L303.6 125.5L303.8 126.6L302.8 126L301.8 126.6L302 125.5L301.2 124.7L302.3 124.5ZM307.9 127.6L308.4 128.6L309.5 128.8L308.7 129.6L308.9 130.7L307.9 130.2L306.9 130.7L307.1 129.6L306.3 128.8L307.4 128.6ZM312 130.3L312.5 131.3L313.6 131.5L312.8 132.3L313 133.4L312 132.8L311 133.4L311.2 132.3L310.4 131.5L311.5 131.3ZM318.9 124.8L319.4 125.8L320.5 126L319.7 126.8L319.9 127.9L318.9 127.3L317.9 127.9L318.1 126.8L317.3 126L318.4 125.8ZM320.1 127.6L320.6 128.6L321.7 128.8L320.9 129.6L321.1 130.7L320.1 130.2L319.1 130.7L319.3 129.6L318.5 128.8L319.6 128.6ZM323.2 131.2L323.7 132.2L324.8 132.4L324 133.2L324.2 134.3L323.2 133.8L322.2 134.3L322.4 133.2L321.6 132.4L322.7 132.2ZM342.9 123L343.4 124L344.5 124.2L343.7 125L343.9 126.1L342.9 125.5L341.9 126.1L342.1 125L341.3 124.2L342.4 124ZM355.6 123.9L356.1 124.9L357.2 125.1L356.4 125.9L356.6 127L355.6 126.4L354.6 127L354.8 125.9L354 125.1L355.1 124.9ZM419.5 126.6L420 127.6L421.1 127.7L420.3 128.5L420.5 129.6L419.5 129.1L418.5 129.6L418.7 128.5L417.9 127.7L419 127.6ZM389.8 130.2L390.3 131.2L391.4 131.4L390.6 132.1L390.8 133.3L389.8 132.7L388.8 133.3L389 132.1L388.2 131.4L389.3 131.2ZM380.7 127.6L381.2 128.6L382.3 128.8L381.5 129.6L381.7 130.7L380.7 130.2L379.7 130.7L379.9 129.6L379.1 128.8L380.2 128.6ZM415.5 124.9L416 125.9L417.2 126.1L416.4 126.8L416.5 128L415.5 127.4L414.5 128L414.7 126.8L413.9 126.1L415 125.9ZM411.8 133L412.3 134L413.4 134.1L412.6 134.9L412.8 136L411.8 135.5L410.8 136L411 134.9L410.2 134.1L411.3 134ZM431.9 131.3L432.4 132.3L433.6 132.4L432.8 133.2L432.9 134.3L431.9 133.8L430.9 134.3L431.1 133.2L430.3 132.4L431.4 132.3ZM405 133.6L405.5 134.6L406.6 134.8L405.8 135.6L406 136.7L405 136.2L404 136.7L404.1 135.6L403.3 134.8L404.5 134.6ZM427.2 132.2L427.7 133.2L428.8 133.3L428 134.1L428.2 135.2L427.2 134.7L426.2 135.2L426.4 134.1L425.6 133.3L426.7 133.2ZM381.1 133.3L381.6 134.3L382.7 134.5L381.9 135.3L382.1 136.4L381.1 135.9L380.1 136.4L380.3 135.3L379.5 134.5L380.6 134.3ZM381.6 123.8L382.1 124.8L383.3 125L382.4 125.8L382.6 126.9L381.6 126.4L380.6 126.9L380.8 125.8L380 125L381.1 124.8ZM415.9 122.5L416.4 123.5L417.5 123.7L416.7 124.5L416.9 125.6L415.9 125L414.9 125.6L415.1 124.5L414.3 123.7L415.4 123.5ZM393.6 124.7L394.1 125.7L395.2 125.9L394.4 126.6L394.6 127.8L393.6 127.2L392.6 127.8L392.8 126.6L392 125.9L393.1 125.7ZM384 127.2L384.5 128.3L385.7 128.4L384.8 129.2L385 130.3L384 129.8L383 130.3L383.2 129.2L382.4 128.4L383.5 128.3ZM387.7 130.6L388.2 131.6L389.3 131.7L388.5 132.5L388.7 133.6L387.7 133.1L386.7 133.6L386.9 132.5L386 131.7L387.2 131.6ZM402.5 127.6L403 128.6L404.1 128.7L403.3 129.5L403.5 130.6L402.5 130.1L401.5 130.6L401.7 129.5L400.9 128.7L402 128.6ZM400.2 128.5L400.7 129.5L401.8 129.6L401 130.4L401.2 131.5L400.2 131L399.2 131.5L399.4 130.4L398.6 129.6L399.7 129.5ZM413.8 131.4L414.3 132.4L415.4 132.6L414.6 133.4L414.8 134.5L413.8 134L412.8 134.5L413 133.4L412.2 132.6L413.3 132.4ZM433.3 123.1L433.8 124.2L434.9 124.3L434.1 125.1L434.3 126.2L433.3 125.7L432.3 126.2L432.4 125.1L431.6 124.3L432.8 124.2ZM401.9 130.4L402.4 131.5L403.6 131.6L402.7 132.4L402.9 133.5L401.9 133L400.9 133.5L401.1 132.4L400.3 131.6L401.4 131.5ZM391 122.9L391.5 123.9L392.7 124.1L391.9 124.8L392 126L391 125.4L390.1 126L390.2 124.8L389.4 124.1L390.5 123.9ZM414.7 125.3L415.2 126.3L416.3 126.5L415.5 127.2L415.7 128.4L414.7 127.8L413.7 128.4L413.9 127.2L413.1 126.5L414.2 126.3ZM380.1 131L380.6 132L381.7 132.1L380.9 132.9L381.1 134L380.1 133.5L379.1 134L379.3 132.9L378.5 132.1L379.6 132ZM403.1 130.5L403.6 131.5L404.7 131.7L403.9 132.5L404.1 133.6L403.1 133L402.1 133.6L402.3 132.5L401.5 131.7L402.6 131.5ZM399 127.2L399.5 128.2L400.7 128.3L399.8 129.1L400 130.2L399 129.7L398 130.2L398.2 129.1L397.4 128.3L398.5 128.2ZM403.2 125.8L403.7 126.8L404.9 127L404.1 127.8L404.2 128.9L403.2 128.4L402.2 128.9L402.4 127.8L401.6 127L402.7 126.8ZM383 132.2L383.5 133.2L384.7 133.4L383.9 134.2L384 135.3L383 134.8L382 135.3L382.2 134.2L381.4 133.4L382.5 133.2ZM413.3 125.6L413.8 126.6L414.9 126.8L414.1 127.6L414.3 128.7L413.3 128.1L412.3 128.7L412.4 127.6L411.6 126.8L412.8 126.6ZM417.5 122.7L417.9 123.7L419.1 123.8L418.3 124.6L418.4 125.7L417.5 125.2L416.5 125.7L416.6 124.6L415.8 123.8L417 123.7ZM425 125.3L425.5 126.3L426.6 126.4L425.8 127.2L426 128.3L425 127.8L424 128.3L424.2 127.2L423.4 126.4L424.5 126.3ZM437.4 122.6L437.9 123.6L439.1 123.7L438.3 124.5L438.4 125.6L437.4 125.1L436.4 125.6L436.6 124.5L435.8 123.7L436.9 123.6ZM327.6 124.2L328.1 125.3L329.2 125.4L328.4 126.2L328.6 127.3L327.6 126.8L326.6 127.3L326.8 126.2L326 125.4L327.1 125.3ZM300.8 126.8L301.3 127.8L302.4 128L301.6 128.8L301.8 129.9L300.8 129.4L299.8 129.9L300 128.8L299.2 128L300.3 127.8ZM334 123.5L334.5 124.5L335.6 124.7L334.8 125.5L335 126.6L334 126.1L333 126.6L333.2 125.5L332.4 124.7L333.5 124.5ZM304.3 125.3L304.8 126.3L305.9 126.5L305.1 127.3L305.3 128.4L304.3 127.9L303.3 128.4L303.5 127.3L302.7 126.5L303.8 126.3ZM307.9 131.5L308.4 132.5L309.6 132.7L308.7 133.4L308.9 134.6L307.9 134L306.9 134.6L307.1 133.4L306.3 132.7L307.4 132.5ZM318.8 125.8L319.3 126.8L320.4 127L319.6 127.8L319.8 128.9L318.8 128.4L317.8 128.9L318 127.8L317.2 127L318.3 126.8ZM308 125.7L308.5 126.8L309.6 126.9L308.8 127.7L309 128.8L308 128.3L307 128.8L307.2 127.7L306.4 126.9L307.5 126.8ZM310.8 129.4L311.3 130.4L312.4 130.6L311.6 131.4L311.8 132.5L310.8 132L309.8 132.5L310 131.4L309.2 130.6L310.3 130.4Z" fill="#f5f500" stroke="#333" stroke-width=".35"/><path d="M534.7 75L537.4 96.2M537.4 96.2L538.3 120.2M538.3 120.2L541.2 121.9M537 78L539.8 99.5M539.5 80L536.2 106M536 83L536.8 118.9M541 85L537.4 100M535 87L536.6 104.6M536.6 104.6L532.6 112.5M532.6 112.5L537.3 116.7M538.5 89L538.4 117.1M533 80L535.2 99M535.2 99L535.7 118.2M540.5 76L541.5 93.2M541.5 93.2L539.2 101.3M536.5 73L532.2 101.4M532.2 101.4L538.1 104.8M547 77L554.8 92M554.8 92L547.3 106.1M550 78.5L543.6 93.1M543.6 93.1L547 104.8M547 104.8L550.8 120.3M553 80L548.5 101.4M548.5 101.4L548 105.8M556 82L549.9 101.6M549.9 101.6L546 119.6M549 84L553.3 102.7M553.3 102.7L554.4 111.5M554.4 111.5L552.8 112M552 85.5L555.2 105.9M555.2 105.9L554.7 116.8M555 77L552.2 101.2M547.5 81L548.1 101.6M548.1 101.6L554.6 113.6M554.6 113.6L549.7 118.6M544 86L544.4 107.8M544.4 107.8L557.4 116.3M518.8 84.1L517.8 104.5M517.8 104.5L508.8 110.9M508.8 110.9L511.7 121.2M511.7 121.2L510.2 127.6M525.5 81L525.5 106.2M525.5 106.2L522.6 119.5M522.6 119.5L524 126M581.2 84.1L582.9 106.2M582.9 106.2L581.2 120.3M581.2 120.3L583 127M581.2 84.1L581.2 108.3M581.2 108.3L575.2 110M575.2 110L570.9 121.2M632.4 61.7L629.5 92.2M632.4 61.7L633.6 103.4M625.9 67.6L628.1 94M625.9 67.6L629.5 92.2M621.2 73.8L622.9 100M621.2 73.8L628.1 94M628.4 74.1L628.1 94M628.4 74.1L629.5 92.2M635.5 74.1L633.6 103.4M635.5 74.1L629.5 92.2M641.6 74.1L646.7 99.1M641.6 74.1L651.9 95.7M625 77.9L628.1 94M625 77.9L622.9 100M622.1 83.1L622.9 100M622.1 83.1L628.1 94M634.1 85.3L633.6 103.4M634.1 85.3L629.5 92.2M650.5 88.3L651.9 95.7M650.5 88.3L650.5 104.8M564 97L546.9 99.2M564 97L552.4 110.7M564 97L548.2 108.3M564 97L544.2 99M564 97L549.2 96.7M564 97L544.4 95.8M564 97L544.2 108.8M564 97L552.7 94.3M564 97L545.6 106.4M564 97L553.8 103.2M564 97L551.6 96.7M564 97L552.5 108.4M564 97L546.5 96.7M564 97L540.5 104.6M544.4 107.8L542.8 106.8M554.6 113.6L557.4 116.3M628.1 94L622.9 100M575.2 110L575.2 110M545 121.8L542.7 121.6M547.3 106.1L544.4 107.8M536.8 118.9L538.4 117.1M532.6 112.5L537.3 116.7M654.8 113.8L653.1 116.4M637.6 118.1L631.2 115.2M537.4 100L535.2 99M549.9 101.6L553.3 102.7M649.7 117.6L653.1 116.4M611.7 112.4L623.3 118.1M582.9 106.2L581.2 108.3M539.8 99.5L537.4 100M543.6 96.6L543.9 96.8M536.8 118.9L535.7 118.2M537.3 116.7L538.4 117.1M541.5 93.2L543.6 93.1M646.7 99.1L650.5 104.8M581.2 108.3L575.2 110M570.9 121.2L567.4 121.2M522.6 119.5L525.1 118M624.3 110.3L611.7 112.4M522.6 119.5L524 126M649.7 117.6L646.2 121.6M643.6 114.1L649.7 117.6M553.3 102.7L564 97M544.8 122.2L545 121.8M581.2 120.3L592.8 120.3M581.2 108.3L575.2 110M537.3 116.7L535.7 118.2M554.8 92L564 97M627.8 115.9L623.3 118.1M508.8 110.9L511.7 121.2M538.3 120.2L538.4 117.1M623.8 121L629 121M524 126L525.1 118M643.6 114.1L637.6 118.1M567.4 113.1L567.4 121.2M547.3 106.1L548 105.8M541.2 121.9L542.7 121.6M548.5 101.4L548.1 101.6M550.8 120.3L549.7 118.6M630.7 104.8L630.2 110M627.8 115.9L629 121M581.2 120.3L583 127M543.3 118.3L543.5 118.4M650.5 104.8L657.1 104.3M541.5 93.2L543.6 96.6M536.6 104.6L538.1 104.8M554.7 116.8L557.4 116.3M628.1 94L629.5 92.2M650.5 104.8L650.5 111.2M575.2 110L567.4 113.1M567.4 121.2L570.9 121.2M629.5 92.2L622.9 100M510.2 127.6L511.7 121.2M555.2 105.9L552.2 101.2M532.2 101.4L525.5 106.2M592.8 120.3L586.7 120.3M538.3 120.2L536.8 118.9M554.4 111.5L554.6 113.6M543.3 118.3L543.7 118.7M552.8 112L628.1 94M539.8 99.5L539.2 101.3M543.5 118.4L543.7 118.7M630.7 104.8L633.6 103.4M654.8 113.8L657.4 116.4M650.5 111.2L653.1 116.4M646.7 99.1L651.9 95.7M583 127L586.7 120.3M657.1 104.3L660 100.9M546 119.6L547.2 118.5M537.4 100L532.2 101.4M547 104.8L548 105.8M554.4 111.5L552.8 112M537.4 96.2L535.2 99M651.9 95.7L650.5 104.8M554.7 116.8L554.6 113.6M624.3 110.3L627.8 115.9M508.8 110.9L511.7 121.2M549.9 101.6L548.1 101.6M553.3 102.7L555.2 105.9M654.8 113.8L660 113.4M622.9 100L630.7 104.8M657.4 116.4L667.8 119M538.3 120.2L541.2 121.9M517.8 104.5L525.5 106.2M542.8 106.8L541.6 105.4M630.2 110L631.2 115.2M511.7 121.2L511.7 121.2M553.3 102.7L552.2 101.2M550.8 120.3L547.2 118.5M537.4 96.2L537.4 100M535.2 99L532.2 101.4M554.8 92L552.2 101.2M624.3 110.3L630.2 110M651.9 95.7L660 100.9M543.7 119.5L543.5 118.4M547.3 106.1L547 104.8M654.8 113.8L650.5 111.2M582.9 106.2L575.2 110M532.6 112.5L535.7 118.2M543.9 96.8L544.6 100.4M552.8 112L554.6 113.6M627.8 115.9L631.2 115.2M508.8 110.9L508.8 110.9M543.7 119.5L543.7 118.7M537.4 100L539.2 101.3M575.2 110L575.2 110M570.9 121.2L570.9 121.2M544.8 122.2L542.7 121.6M538.1 104.8L541.6 105.4M511.7 121.2L511.7 121.2M581.2 120.3L586.7 120.3M660 113.4L657.4 116.4M543.6 93.1L543.6 96.6M517.8 104.5L508.8 110.9M508.8 110.9L508.8 110.9M549.9 101.6L552.2 101.2M633.6 103.4L630.2 110M536.2 106L536.6 104.6M546 119.6L543.7 119.5M643.6 114.1L646.2 121.6M536.2 106L538.1 104.8M623.3 118.1L623.8 121M548.5 101.4L549.9 101.6M511.7 121.2L510.2 127.6M660 113.4L667.8 119M549.7 118.6L547.2 118.5M570.9 121.2L570.9 121.2M548.1 101.6L544.6 100.4M551.6 127.1L550.8 120.3M546.3 125.6L544.8 122.2M538.5 131.1L541.2 121.9M540.3 139.1L541.2 121.9M542.7 140.9L544.8 122.2M543.9 134.1L544.8 122.2M554.4 138.1L550.8 120.3M534 144.2L524 126M549.1 143.4L544.8 122.2M526.5 126.6L524 126M531.7 139.7L524 126M554.3 141.1L550.8 120.3M533.5 144L524 126M541.3 133.2L541.2 121.9M553.5 127.4L550.8 120.3M545.6 134.4L544.8 122.2M540.7 132.1L541.2 121.9M547.1 132.7L544.8 122.2M555.4 141.7L550.8 120.3M554.2 138.3L550.8 120.3M531.4 139L524 126M530.2 138.4L524 126M534.6 127.1L538.3 120.2M530.4 125.3L535.7 118.2M548.9 132.7L544.8 122.2M551 142.7L544.8 122.2M617.4 127.6L623.8 121M627.2 124.1L629 121M631.6 124.1L629 121M630.7 127.6L629 121M634.1 126.7L629 121M638.4 123.3L637.6 118.1M645.3 132.8L646.2 121.6M647.9 125.9L646.2 121.6M651.4 125.9L646.2 121.6M655.7 124.1L657.4 116.4M658.8 125L657.4 116.4M661.7 123.3L667.8 119M675.5 126.7L667.8 119M594.5 125.9L592.8 120.3M587.6 129.3L583 127M509.5 127.6L510.2 127.6M537 146L524 126M572 129L570.9 121.2M570 135L570.9 121.2M577 126L581.2 120.3M600 131L592.8 120.3M606 128L592.8 120.3M552.8 112L544.6 100.4M535.7 118.2L541.6 105.4M544.6 100.4L554.6 113.6M548.1 101.6L543.9 96.8M549.7 118.6L542.7 121.6M553.3 102.7L541.5 93.2M554.7 116.8L536.8 118.9M532.2 101.4L554.7 116.8M537.4 100L536.2 106M554.8 92L541.6 105.4M537.3 116.7L525.1 118M543.7 118.7L536.2 106M535.2 99L553.3 102.7M547 104.8L547.3 106.1M552.8 112L548.1 101.6M546 119.6L535.7 118.2M552.8 112L549.7 118.6M541.2 121.9L547.2 118.5M525.1 118L525.5 106.2M554.4 111.5L547.2 118.5M536.6 104.6L547 104.8M532.6 112.5L535.7 118.2M525.5 106.2L554.7 116.8M546 119.6L536.6 104.6M541.5 93.2L555.2 105.9M543.6 93.1L543.9 96.8M546 119.6L543.7 119.5M550.8 120.3L542.8 106.8M548.5 101.4L539.2 101.3M544.4 107.8L535.7 118.2M538.4 117.1L544.4 107.8M548.1 101.6L555.2 105.9M552.8 112L541.2 121.9M537.3 116.7L525.1 118M543.5 118.4L554.7 116.8M532.6 112.5L543.5 118.4M554.6 113.6L538.1 104.8M532.6 112.5L548.5 101.4M554.7 116.8L549.9 101.6M544.4 107.8L554.4 111.5M547.2 118.5L525.5 106.2M545 121.8L542.7 121.6M537.4 96.2L535.2 99M536.2 106L552.2 101.2M548.1 101.6L542.8 106.8M547 104.8L541.6 105.4M544.8 122.2L544.4 107.8M541.2 121.9L542.7 121.6M536.6 104.6L547 104.8M552.8 112L546 119.6M541.6 105.4L554.8 92M542.8 106.8L553.3 102.7M549.9 101.6L547 104.8M535.7 118.2L548 105.8M537.4 100L537.4 96.2M538.4 117.1L536.2 106M550.8 120.3L543.7 119.5M537.4 100L548.5 101.4M548 105.8L537.4 100M545 121.8L538.4 117.1M541.5 93.2L547.3 106.1M544.6 100.4L536.6 104.6M548 105.8L548.5 101.4M544.4 107.8L525.1 118M554.6 113.6L543.5 118.4M543.6 96.6L554.8 92M548.5 101.4L537.3 116.7M536.6 104.6L547 104.8M547.2 118.5L554.4 111.5M548.5 101.4L542.8 106.8M548.5 101.4L554.8 92M542.8 106.8L548.5 101.4M544.4 107.8L539.8 99.5M547 104.8L543.5 118.4M554.6 113.6L548.5 101.4M536.2 106L552.2 101.2M536.8 118.9L554.7 116.8M541.5 93.2L543.6 96.6M548 105.8L547.3 106.1M548.5 101.4L549.9 101.6M543.6 93.1L536.2 106M543.5 118.4L544.8 122.2M547.2 118.5L547.2 118.5M541.6 105.4L539.8 99.5M544.8 122.2L543.5 118.4M543.6 96.6L548 105.8M525.1 118L532.6 112.5M538.3 120.2L536.8 118.9M543.5 118.4L554.4 111.5M550.8 120.3L538.1 104.8M653.1 116.4L643.6 114.1M629 121L623.8 121M657.1 104.3L653.1 116.4M660 113.4L660 113.4M654.8 113.8L649.7 117.6M653.1 116.4L654.8 113.8M630.7 104.8L650.5 111.2M653.1 116.4L657.1 104.3M657.1 104.3L650.5 104.8M637.6 118.1L643.6 114.1M650.5 104.8L649.7 117.6M650.5 111.2L660 113.4M633.6 103.4L650.5 111.2M657.1 104.3L637.6 118.1M657.1 104.3L653.1 116.4M623.3 118.1L624.3 110.3M627.8 115.9L623.3 118.1M630.7 104.8L630.7 104.8M660 113.4L667.8 119M586.7 120.3L540 122M586.7 120.3L630 119M630 119L667.8 119M518 119L548 121M592.8 120.3L611.7 112.4M611.7 112.4L623.3 118.1" stroke="#000" stroke-width=".7" fill="none"/><circle cx="583" cy="127" r="2" fill="#13078a"/><circle cx="536.8" cy="118.9" r="2" fill="#2d0594"/><circle cx="550.8" cy="120.3" r="2" fill="#3d039b"/><circle cx="637.6" cy="118.1" r="2" fill="#40039c"/><circle cx="543.7" cy="118.7" r="2" fill="#41039d"/><circle cx="667.8" cy="119" r="2" fill="#4a02a0"/><circle cx="525.1" cy="118" r="2" fill="#4a02a0"/><circle cx="581.2" cy="120.3" r="2" fill="#4c02a1"/><circle cx="545" cy="121.8" r="2" fill="#4d02a1"/><circle cx="543.3" cy="118.3" r="2" fill="#5002a2"/><circle cx="649.7" cy="117.6" r="2" fill="#5a02a3"/><circle cx="567.4" cy="121.2" r="2" fill="#5a02a3"/><circle cx="592.8" cy="120.3" r="2" fill="#5c02a3"/><circle cx="522.6" cy="119.5" r="2" fill="#5f02a4"/><circle cx="646.2" cy="121.6" r="2" fill="#6202a4"/><circle cx="538.4" cy="117.1" r="2" fill="#6202a4"/><circle cx="623.8" cy="121" r="2" fill="#6703a5"/><circle cx="586.7" cy="120.3" r="2" fill="#6903a5"/><circle cx="511.7" cy="121.2" r="2" fill="#6e03a6"/><circle cx="510.2" cy="127.6" r="2" fill="#7003a6"/><circle cx="557.4" cy="116.3" r="2" fill="#7103a6"/><circle cx="532.6" cy="112.5" r="2" fill="#7503a7"/><circle cx="541.2" cy="121.9" r="2" fill="#7e03a8"/><circle cx="542.7" cy="121.6" r="2" fill="#7f04a7"/><circle cx="549.7" cy="118.6" r="2" fill="#8004a7"/><circle cx="653.1" cy="116.4" r="2" fill="#8105a7"/><circle cx="623.3" cy="118.1" r="2" fill="#8508a5"/><circle cx="547.2" cy="118.5" r="2" fill="#870aa4"/><circle cx="535.7" cy="118.2" r="2" fill="#890ba3"/><circle cx="543.7" cy="119.5" r="2" fill="#8b0ca2"/><circle cx="537.3" cy="116.7" r="2" fill="#8c0ea2"/><circle cx="570.9" cy="121.2" r="2" fill="#8c0ea2"/><circle cx="654.8" cy="113.8" r="2" fill="#8d0ea2"/><circle cx="544.8" cy="122.2" r="2" fill="#8d0ea1"/><circle cx="546" cy="119.6" r="2" fill="#9111a0"/><circle cx="633.6" cy="103.4" r="2" fill="#91119f"/><circle cx="538.3" cy="120.2" r="2" fill="#98169d"/><circle cx="543.5" cy="118.4" r="2" fill="#9d1a9a"/><circle cx="524" cy="126" r="2" fill="#9f1c99"/><circle cx="554.4" cy="111.5" r="2" fill="#a52097"/><circle cx="629" cy="121" r="2" fill="#a72296"/><circle cx="544.4" cy="107.8" r="2" fill="#a82296"/><circle cx="511.7" cy="121.2" r="2" fill="#a82395"/><circle cx="554.6" cy="113.6" r="2" fill="#a92395"/><circle cx="508.8" cy="110.9" r="2" fill="#a92395"/><circle cx="631.2" cy="115.2" r="2" fill="#aa2494"/><circle cx="554.7" cy="116.8" r="2" fill="#ac2693"/><circle cx="643.6" cy="114.1" r="2" fill="#af2990"/><circle cx="627.8" cy="115.9" r="2" fill="#b32d8d"/><circle cx="570.9" cy="121.2" r="2" fill="#b6318a"/><circle cx="660" cy="113.4" r="2" fill="#b6318a"/><circle cx="567.4" cy="113.1" r="2" fill="#ba3487"/><circle cx="624.3" cy="110.3" r="2" fill="#ba3587"/><circle cx="547.3" cy="106.1" r="2" fill="#bb3686"/><circle cx="611.7" cy="112.4" r="2" fill="#c03b82"/><circle cx="657.4" cy="116.4" r="2" fill="#c7417c"/><circle cx="650.5" cy="111.2" r="2" fill="#cc4778"/><circle cx="548.1" cy="101.6" r="2" fill="#cd4977"/><circle cx="581.2" cy="108.3" r="2" fill="#ce4976"/><circle cx="536.2" cy="106" r="2" fill="#d04d73"/><circle cx="537.4" cy="100" r="2" fill="#d35171"/><circle cx="541.6" cy="105.4" r="2" fill="#d35270"/><circle cx="536.6" cy="104.6" r="2" fill="#d6556d"/><circle cx="548.5" cy="101.4" r="2" fill="#d6556d"/><circle cx="650.5" cy="104.8" r="2" fill="#d6566d"/><circle cx="552.2" cy="101.2" r="2" fill="#d7566c"/><circle cx="547" cy="104.8" r="2" fill="#d7566c"/><circle cx="575.2" cy="110" r="2" fill="#d7576c"/><circle cx="542.8" cy="106.8" r="2" fill="#d9596a"/><circle cx="532.2" cy="101.4" r="2" fill="#da5b69"/><circle cx="552.8" cy="112" r="2" fill="#da5b69"/><circle cx="582.9" cy="106.2" r="2" fill="#dc5d67"/><circle cx="630.2" cy="110" r="2" fill="#de6065"/><circle cx="555.2" cy="105.9" r="2" fill="#df6264"/><circle cx="549.9" cy="101.6" r="2" fill="#df6264"/><circle cx="517.8" cy="104.5" r="2" fill="#e06363"/><circle cx="525.5" cy="106.2" r="2" fill="#e06462"/><circle cx="548" cy="105.8" r="2" fill="#e26760"/><circle cx="575.2" cy="110" r="2" fill="#e36860"/><circle cx="553.3" cy="102.7" r="2" fill="#e4695f"/><circle cx="622.9" cy="100" r="2" fill="#e56a5d"/><circle cx="543.9" cy="96.8" r="2" fill="#e66d5c"/><circle cx="630.7" cy="104.8" r="2" fill="#e66e5b"/><circle cx="544.6" cy="100.4" r="2" fill="#e76f5b"/><circle cx="646.7" cy="99.1" r="2" fill="#e87258"/><circle cx="538.1" cy="104.8" r="2" fill="#ea7656"/><circle cx="537.4" cy="96.2" r="2" fill="#eb7854"/><circle cx="660" cy="100.9" r="2" fill="#ec7a52"/><circle cx="508.8" cy="110.9" r="2" fill="#f0844c"/><circle cx="543.6" cy="96.6" r="2" fill="#f2864a"/><circle cx="539.8" cy="99.5" r="2" fill="#f48b47"/><circle cx="629.5" cy="92.2" r="2" fill="#f79143"/><circle cx="657.1" cy="104.3" r="2" fill="#f89640"/><circle cx="651.9" cy="95.7" r="2" fill="#f8993f"/><circle cx="541.5" cy="93.2" r="2" fill="#f9993e"/><circle cx="543.6" cy="93.1" r="2" fill="#faa438"/><circle cx="539.2" cy="101.3" r="2" fill="#faa737"/><circle cx="554.8" cy="92" r="2" fill="#fcb92d"/><circle cx="564" cy="97" r="2" fill="#fcbb2c"/><circle cx="535.2" cy="99" r="2" fill="#fcbd2b"/><circle cx="628.1" cy="94" r="2" fill="#fcc827"/><path d="M534.7 75m-1.6 0a1.6 1.6 0 1 0 3.2 0a1.6 1.6 0 1 0-3.2 0M537 78m-1.6 0a1.6 1.6 0 1 0 3.2 0a1.6 1.6 0 1 0-3.2 0M539.5 80m-1.6 0a1.6 1.6 0 1 0 3.2 0a1.6 1.6 0 1 0-3.2 0M536 83m-1.6 0a1.6 1.6 0 1 0 3.2 0a1.6 1.6 0 1 0-3.2 0M541 85m-1.6 0a1.6 1.6 0 1 0 3.2 0a1.6 1.6 0 1 0-3.2 0M535 87m-1.6 0a1.6 1.6 0 1 0 3.2 0a1.6 1.6 0 1 0-3.2 0M538.5 89m-1.6 0a1.6 1.6 0 1 0 3.2 0a1.6 1.6 0 1 0-3.2 0M533 80m-1.6 0a1.6 1.6 0 1 0 3.2 0a1.6 1.6 0 1 0-3.2 0M540.5 76m-1.6 0a1.6 1.6 0 1 0 3.2 0a1.6 1.6 0 1 0-3.2 0M536.5 73m-1.6 0a1.6 1.6 0 1 0 3.2 0a1.6 1.6 0 1 0-3.2 0M547 77m-1.6 0a1.6 1.6 0 1 0 3.2 0a1.6 1.6 0 1 0-3.2 0M550 78.5m-1.6 0a1.6 1.6 0 1 0 3.2 0a1.6 1.6 0 1 0-3.2 0M553 80m-1.6 0a1.6 1.6 0 1 0 3.2 0a1.6 1.6 0 1 0-3.2 0M556 82m-1.6 0a1.6 1.6 0 1 0 3.2 0a1.6 1.6 0 1 0-3.2 0M549 84m-1.6 0a1.6 1.6 0 1 0 3.2 0a1.6 1.6 0 1 0-3.2 0M552 85.5m-1.6 0a1.6 1.6 0 1 0 3.2 0a1.6 1.6 0 1 0-3.2 0M555 77m-1.6 0a1.6 1.6 0 1 0 3.2 0a1.6 1.6 0 1 0-3.2 0M547.5 81m-1.6 0a1.6 1.6 0 1 0 3.2 0a1.6 1.6 0 1 0-3.2 0M544 86m-1.6 0a1.6 1.6 0 1 0 3.2 0a1.6 1.6 0 1 0-3.2 0M518.8 84.1m-1.6 0a1.6 1.6 0 1 0 3.2 0a1.6 1.6 0 1 0-3.2 0M525.5 81m-1.6 0a1.6 1.6 0 1 0 3.2 0a1.6 1.6 0 1 0-3.2 0M581.2 84.1m-1.6 0a1.6 1.6 0 1 0 3.2 0a1.6 1.6 0 1 0-3.2 0M632.4 61.7m-1.6 0a1.6 1.6 0 1 0 3.2 0a1.6 1.6 0 1 0-3.2 0M625.9 67.6m-1.6 0a1.6 1.6 0 1 0 3.2 0a1.6 1.6 0 1 0-3.2 0M621.2 73.8m-1.6 0a1.6 1.6 0 1 0 3.2 0a1.6 1.6 0 1 0-3.2 0M628.4 74.1m-1.6 0a1.6 1.6 0 1 0 3.2 0a1.6 1.6 0 1 0-3.2 0M635.5 74.1m-1.6 0a1.6 1.6 0 1 0 3.2 0a1.6 1.6 0 1 0-3.2 0M641.6 74.1m-1.6 0a1.6 1.6 0 1 0 3.2 0a1.6 1.6 0 1 0-3.2 0M625 77.9m-1.6 0a1.6 1.6 0 1 0 3.2 0a1.6 1.6 0 1 0-3.2 0M622.1 83.1m-1.6 0a1.6 1.6 0 1 0 3.2 0a1.6 1.6 0 1 0-3.2 0M634.1 85.3m-1.6 0a1.6 1.6 0 1 0 3.2 0a1.6 1.6 0 1 0-3.2 0M650.5 88.3m-1.6 0a1.6 1.6 0 1 0 3.2 0a1.6 1.6 0 1 0-3.2 0" fill="#f0e020"/><path d="M534.7 72.8L536.8 76.5L532.6 76.5ZM537 75.8L539.1 79.5L534.9 79.5ZM539.5 77.8L541.6 81.5L537.4 81.5ZM536 80.8L538.1 84.5L533.9 84.5ZM541 82.8L543.1 86.5L538.9 86.5ZM535 84.8L537.1 88.5L532.9 88.5ZM538.5 86.8L540.6 90.5L536.4 90.5ZM533 77.8L535.1 81.5L530.9 81.5ZM540.5 73.8L542.6 77.5L538.4 77.5ZM536.5 70.8L538.6 74.5L534.4 74.5ZM547 74.8L549.1 78.5L544.9 78.5ZM550 76.3L552.1 80L547.9 80ZM553 77.8L555.1 81.5L550.9 81.5ZM556 79.8L558.1 83.5L553.9 83.5ZM549 81.8L551.1 85.5L546.9 85.5ZM552 83.3L554.1 87L549.9 87ZM555 74.8L557.1 78.5L552.9 78.5ZM547.5 78.8L549.6 82.5L545.4 82.5ZM544 83.8L546.1 87.5L541.9 87.5ZM518.8 81.9L520.9 85.6L516.7 85.6ZM525.5 78.8L527.6 82.5L523.4 82.5ZM581.2 81.9L583.3 85.6L579.1 85.6ZM632.4 59.5L634.5 63.2L630.3 63.2ZM625.9 65.4L628 69.1L623.8 69.1ZM621.2 71.6L623.3 75.3L619.1 75.3ZM628.4 71.9L630.5 75.6L626.3 75.6ZM635.5 71.9L637.6 75.6L633.4 75.6ZM641.6 71.9L643.7 75.6L639.5 75.6ZM625 75.7L627.1 79.4L622.9 79.4ZM622.1 80.9L624.2 84.6L620 84.6ZM634.1 83.1L636.2 86.8L632 86.8ZM650.5 86.1L652.6 89.8L648.4 89.8Z" fill="#000"/><path d="M551.6 125.4L552.1 126.4L553.2 126.6L552.4 127.4L552.6 128.5L551.6 127.9L550.6 128.5L550.8 127.4L549.9 126.6L551.1 126.4ZM546.3 123.9L546.8 124.9L547.9 125.1L547.1 125.9L547.3 127L546.3 126.5L545.3 127L545.5 125.9L544.7 125.1L545.8 124.9ZM538.5 129.4L539 130.4L540.1 130.6L539.3 131.4L539.5 132.5L538.5 132L537.5 132.5L537.7 131.4L536.9 130.6L538 130.4ZM540.3 137.4L540.8 138.4L541.9 138.6L541.1 139.4L541.3 140.5L540.3 140L539.3 140.5L539.5 139.4L538.6 138.6L539.8 138.4ZM542.7 139.2L543.2 140.3L544.3 140.4L543.5 141.2L543.7 142.3L542.7 141.8L541.7 142.3L541.8 141.2L541 140.4L542.2 140.3ZM543.9 132.4L544.4 133.4L545.5 133.6L544.7 134.4L544.9 135.5L543.9 135L542.9 135.5L543.1 134.4L542.3 133.6L543.4 133.4ZM554.4 136.4L554.9 137.4L556 137.5L555.2 138.3L555.4 139.4L554.4 138.9L553.4 139.4L553.5 138.3L552.7 137.5L553.9 137.4ZM534 142.5L534.5 143.5L535.6 143.7L534.8 144.4L535 145.6L534 145L533 145.6L533.2 144.4L532.3 143.7L533.5 143.5ZM549.1 141.7L549.6 142.7L550.7 142.8L549.9 143.6L550.1 144.7L549.1 144.2L548.1 144.7L548.2 143.6L547.4 142.8L548.6 142.7ZM526.5 124.9L527 125.9L528.1 126.1L527.3 126.9L527.5 128L526.5 127.4L525.5 128L525.7 126.9L524.9 126.1L526 125.9ZM531.7 138L532.2 139L533.3 139.2L532.5 140L532.7 141.1L531.7 140.5L530.7 141.1L530.9 140L530.1 139.2L531.2 139ZM554.3 139.4L554.8 140.4L555.9 140.6L555.1 141.3L555.3 142.5L554.3 141.9L553.3 142.5L553.5 141.3L552.7 140.6L553.8 140.4ZM533.5 142.3L534 143.3L535.1 143.4L534.3 144.2L534.5 145.3L533.5 144.8L532.5 145.3L532.7 144.2L531.9 143.4L533 143.3ZM541.3 131.5L541.8 132.5L542.9 132.7L542.1 133.5L542.3 134.6L541.3 134L540.3 134.6L540.5 133.5L539.7 132.7L540.8 132.5ZM553.5 125.7L554 126.7L555.1 126.9L554.3 127.7L554.5 128.8L553.5 128.3L552.5 128.8L552.7 127.7L551.9 126.9L553 126.7ZM545.6 132.7L546.1 133.7L547.3 133.9L546.4 134.7L546.6 135.8L545.6 135.3L544.6 135.8L544.8 134.7L544 133.9L545.1 133.7ZM540.7 130.4L541.2 131.5L542.3 131.6L541.5 132.4L541.7 133.5L540.7 133L539.7 133.5L539.8 132.4L539 131.6L540.2 131.5ZM547.1 131L547.6 132L548.7 132.1L547.9 132.9L548.1 134L547.1 133.5L546.1 134L546.2 132.9L545.4 132.1L546.6 132ZM555.4 140L555.9 141L557 141.1L556.2 141.9L556.4 143L555.4 142.5L554.4 143L554.5 141.9L553.7 141.1L554.9 141ZM554.2 136.6L554.7 137.7L555.9 137.8L555 138.6L555.2 139.7L554.2 139.2L553.2 139.7L553.4 138.6L552.6 137.8L553.7 137.7ZM531.4 137.3L531.9 138.3L533.1 138.4L532.2 139.2L532.4 140.3L531.4 139.8L530.4 140.3L530.6 139.2L529.8 138.4L530.9 138.3ZM530.2 136.7L530.7 137.7L531.8 137.8L531 138.6L531.2 139.7L530.2 139.2L529.2 139.7L529.4 138.6L528.6 137.8L529.7 137.7ZM534.6 125.4L535.1 126.4L536.3 126.6L535.4 127.4L535.6 128.5L534.6 128L533.6 128.5L533.8 127.4L533 126.6L534.1 126.4ZM530.4 123.6L530.9 124.6L532 124.8L531.2 125.5L531.4 126.7L530.4 126.1L529.4 126.7L529.5 125.5L528.7 124.8L529.9 124.6ZM548.9 131L549.4 132L550.5 132.2L549.7 133L549.9 134.1L548.9 133.5L547.9 134.1L548.1 133L547.3 132.2L548.4 132ZM551 141L551.5 142L552.6 142.2L551.8 143L552 144.1L551 143.5L550 144.1L550.2 143L549.4 142.2L550.5 142ZM617.4 125.9L617.9 126.9L619 127.1L618.2 127.9L618.4 129L617.4 128.4L616.4 129L616.6 127.9L615.8 127.1L616.9 126.9ZM627.2 122.4L627.7 123.4L628.8 123.6L628 124.4L628.2 125.5L627.2 124.9L626.2 125.5L626.4 124.4L625.6 123.6L626.7 123.4ZM631.6 122.4L632.1 123.4L633.2 123.6L632.4 124.4L632.6 125.5L631.6 124.9L630.6 125.5L630.8 124.4L630 123.6L631.1 123.4ZM630.7 125.9L631.2 126.9L632.3 127.1L631.5 127.9L631.7 129L630.7 128.4L629.7 129L629.9 127.9L629.1 127.1L630.2 126.9ZM634.1 125L634.6 126L635.7 126.2L634.9 127L635.1 128.1L634.1 127.5L633.1 128.1L633.3 127L632.5 126.2L633.6 126ZM638.4 121.6L638.9 122.6L640 122.8L639.2 123.6L639.4 124.7L638.4 124.1L637.4 124.7L637.6 123.6L636.8 122.8L637.9 122.6ZM645.3 131.1L645.8 132.1L646.9 132.3L646.1 133.1L646.3 134.2L645.3 133.7L644.3 134.2L644.5 133.1L643.7 132.3L644.8 132.1ZM647.9 124.2L648.4 125.2L649.5 125.4L648.7 126.2L648.9 127.3L647.9 126.8L646.9 127.3L647.1 126.2L646.3 125.4L647.4 125.2ZM651.4 124.2L651.9 125.2L653 125.4L652.2 126.2L652.4 127.3L651.4 126.8L650.4 127.3L650.6 126.2L649.8 125.4L650.9 125.2ZM655.7 122.4L656.2 123.4L657.3 123.6L656.5 124.4L656.7 125.5L655.7 124.9L654.7 125.5L654.9 124.4L654.1 123.6L655.2 123.4ZM658.8 123.3L659.3 124.3L660.4 124.5L659.6 125.3L659.8 126.4L658.8 125.8L657.8 126.4L658 125.3L657.2 124.5L658.3 124.3ZM661.7 121.6L662.2 122.6L663.3 122.8L662.5 123.6L662.7 124.7L661.7 124.1L660.7 124.7L660.9 123.6L660.1 122.8L661.2 122.6ZM675.5 125L676 126L677.1 126.2L676.3 127L676.5 128.1L675.5 127.5L674.5 128.1L674.7 127L673.9 126.2L675 126ZM594.5 124.2L595 125.2L596.1 125.4L595.3 126.2L595.5 127.3L594.5 126.8L593.5 127.3L593.7 126.2L592.9 125.4L594 125.2ZM587.6 127.6L588.1 128.6L589.2 128.8L588.4 129.6L588.6 130.7L587.6 130.2L586.6 130.7L586.8 129.6L586 128.8L587.1 128.6ZM509.5 125.9L510 126.9L511.1 127.1L510.3 127.9L510.5 129L509.5 128.4L508.5 129L508.7 127.9L507.9 127.1L509 126.9ZM537 144.3L537.5 145.3L538.6 145.5L537.8 146.3L538 147.4L537 146.8L536 147.4L536.2 146.3L535.4 145.5L536.5 145.3ZM572 127.3L572.5 128.3L573.6 128.5L572.8 129.3L573 130.4L572 129.8L571 130.4L571.2 129.3L570.4 128.5L571.5 128.3ZM570 133.3L570.5 134.3L571.6 134.5L570.8 135.3L571 136.4L570 135.8L569 136.4L569.2 135.3L568.4 134.5L569.5 134.3ZM577 124.3L577.5 125.3L578.6 125.5L577.8 126.3L578 127.4L577 126.8L576 127.4L576.2 126.3L575.4 125.5L576.5 125.3ZM600 129.3L600.5 130.3L601.6 130.5L600.8 131.3L601 132.4L600 131.8L599 132.4L599.2 131.3L598.4 130.5L599.5 130.3ZM606 126.3L606.5 127.3L607.6 127.5L606.8 128.3L607 129.4L606 128.8L605 129.4L605.2 128.3L604.4 127.5L605.5 127.3Z" fill="#f5f500" stroke="#333" stroke-width=".35"/><path d="M252.9 225L355 213.1L355 397L268 449.4Z" fill="#e5ecf6"/><path d="M256 224.6L270.6 447.8M285.6 221.2L295.8 432.6M313.1 218L319.3 418.5M338.7 215L341.1 405.4M254.7 251L355 234.4M257.1 287.8L355 264.6M259.6 324.6L355 294.8M261.8 356.9L355 321.2M264 389.3L355 347.7M266 419.1L355 372.2" stroke="#fff" stroke-width=".8" fill="none"/><path d="M355 213.1L441.4 222.8L425.7 447L355 397Z" fill="#e5ecf6"/><path d="M377.5 215.6L373.4 410M404.2 218.6L395.3 425.5M432.8 221.8L418.6 442M355 234.4L439.6 248.8M355 264.6L437 285.6M355 294.8L434.4 322.3M355 321.2L432.2 354.6M355 347.7L429.9 386.9M355 372.2L427.8 416.7" stroke="#fff" stroke-width=".8" fill="none"/><path d="M268 449.4L355 397L425.7 447L342 499.3Z" fill="#e5ecf6"/><path d="M270.6 447.8L344.5 497.7M295.8 432.6L368.8 482.6M319.3 418.5L391.4 468.4M341.1 405.4L412.3 455.4M289.5 463.9L375.5 411.5M312.4 479.3L397.4 427M335.3 494.8L419.3 442.5" stroke="#fff" stroke-width=".8" fill="none"/><path d="M474.4 222.3L559.5 219.5L559.5 392L488.2 450.6Z" fill="#e5ecf6"/><path d="M498.7 221.5L508.5 433.9M527.2 220.6L532.4 414.3M552.3 219.7L553.4 397M476.8 261.6L559.5 249.2M479.1 299.7L559.5 278M481.1 333.9L559.5 303.9M483.3 368.9L559.5 330.2M485.3 402.4L559.5 355.6M487.1 432.3L559.5 378.2" stroke="#fff" stroke-width=".8" fill="none"/><path d="M559.5 219.5L679.2 223.7L667 438.5L559.5 392Z" fill="#e5ecf6"/><path d="M581.6 220.3L579.4 400.6M607 221.2L602.2 410.5M636.5 222.2L628.6 421.9M670 223.4L658.7 434.9M559.5 249.2L677.1 260.6M559.5 278L675.1 296.5M559.5 303.9L673.2 328.7M559.5 330.2L671.4 361.6M559.5 355.6L669.6 393.2M559.5 378.2L668 421.3" stroke="#fff" stroke-width=".8" fill="none"/><path d="M488.2 450.6L559.5 392L667 438.5L566.2 499.5Z" fill="#e5ecf6"/><path d="M508.5 433.9L594.9 482.1M532.4 414.3L628.7 461.7M553.4 397L658.4 443.7M502.6 459.6L579.4 400.6M519.2 470L602.2 410.5M538.4 482L628.6 421.9M560.2 495.7L658.7 434.9" stroke="#fff" stroke-width=".8" fill="none"/><g fill-opacity="0.72"><circle cx="372.8" cy="396.7" r="2.0" fill="#008080"/><circle cx="365" cy="442" r="2.0" fill="#9acd32"/><circle cx="353.1" cy="332.7" r="2.0" fill="#ffd700"/><circle cx="388.9" cy="317.9" r="2.0" fill="#9acd32"/><circle cx="370.6" cy="428.7" r="2.0" fill="#008080"/><circle cx="385.5" cy="439.1" r="2.0" fill="#b22222"/><circle cx="287.9" cy="422.1" r="2.0" fill="#b22222"/><circle cx="298.8" cy="365.6" r="2.0" fill="#b22222"/><circle cx="296" cy="377.9" r="2.0" fill="#b22222"/><circle cx="333.8" cy="426.9" r="2.0" fill="#b22222"/><circle cx="357.6" cy="431.5" r="2.0" fill="#008080"/><circle cx="317.5" cy="444.7" r="2.0" fill="#b22222"/><circle cx="291.2" cy="287" r="2.0" fill="#9acd32"/><circle cx="300.7" cy="418.9" r="2.0" fill="#b22222"/><circle cx="366.9" cy="433.3" r="2.0" fill="#b22222"/><circle cx="291.7" cy="414.9" r="2.0" fill="#b22222"/><circle cx="315.6" cy="435.8" r="2.0" fill="#b22222"/><circle cx="374.7" cy="431.5" r="2.0" fill="#008080"/><circle cx="294" cy="265.8" r="2.0" fill="#b22222"/><circle cx="319.4" cy="440" r="2.0" fill="#b22222"/><circle cx="352.8" cy="379" r="2.0" fill="#9acd32"/><circle cx="324" cy="341.5" r="2.0" fill="#008080"/><circle cx="370.7" cy="387.6" r="2.0" fill="#008080"/><circle cx="318.7" cy="406.3" r="2.0" fill="#ffd700"/><circle cx="329.7" cy="427.3" r="2.0" fill="#4b0082"/><circle cx="363.4" cy="402.8" r="2.0" fill="#ffd700"/><circle cx="297.5" cy="421.9" r="2.0" fill="#9acd32"/><circle cx="339.3" cy="450" r="2.0" fill="#b22222"/><circle cx="334.9" cy="398.4" r="2.0" fill="#9acd32"/><circle cx="301.5" cy="331.2" r="2.0" fill="#008080"/><circle cx="289.3" cy="366" r="2.0" fill="#4b0082"/><circle cx="296.4" cy="400.4" r="2.0" fill="#4b0082"/><circle cx="288.9" cy="319.6" r="2.0" fill="#ffd700"/><circle cx="292.9" cy="396.2" r="2.0" fill="#4b0082"/><circle cx="398.2" cy="292" r="2.0" fill="#ffd700"/><circle cx="300.3" cy="399.5" r="2.0" fill="#b22222"/><circle cx="286.1" cy="320" r="2.0" fill="#b22222"/><circle cx="326.6" cy="405.2" r="2.0" fill="#4b0082"/><circle cx="289" cy="321.9" r="2.0" fill="#4b0082"/><circle cx="380.4" cy="324.1" r="2.0" fill="#9acd32"/><circle cx="378.3" cy="320.3" r="2.0" fill="#ffd700"/><circle cx="344.2" cy="402.7" r="2.0" fill="#9acd32"/><circle cx="379.6" cy="428.9" r="2.0" fill="#4b0082"/><circle cx="317.3" cy="429.7" r="2.0" fill="#b22222"/><circle cx="278.5" cy="404.1" r="2.0" fill="#4b0082"/><circle cx="292.6" cy="414.1" r="2.0" fill="#b22222"/><circle cx="360.4" cy="315.3" r="2.0" fill="#b22222"/><circle cx="381.2" cy="292.2" r="2.0" fill="#9acd32"/><circle cx="363.9" cy="427" r="2.0" fill="#008080"/><circle cx="296.3" cy="418.7" r="2.0" fill="#b22222"/><circle cx="321.6" cy="433.9" r="2.0" fill="#b22222"/><circle cx="359.9" cy="426.5" r="2.0" fill="#9acd32"/><circle cx="295.4" cy="367.1" r="2.0" fill="#4b0082"/><circle cx="290.6" cy="281.7" r="2.0" fill="#4b0082"/><circle cx="313.3" cy="446.1" r="2.0" fill="#b22222"/><circle cx="325.6" cy="455.3" r="2.0" fill="#b22222"/><circle cx="388.4" cy="440.1" r="2.0" fill="#4b0082"/><circle cx="373.2" cy="311.6" r="2.0" fill="#ffd700"/><circle cx="381.5" cy="434.1" r="2.0" fill="#9acd32"/><circle cx="293.2" cy="333" r="2.0" fill="#9acd32"/><circle cx="302.7" cy="392.3" r="2.0" fill="#ffd700"/><circle cx="347.8" cy="435" r="2.0" fill="#9acd32"/><circle cx="324.3" cy="392.5" r="2.0" fill="#ffd700"/><circle cx="286.5" cy="405.2" r="2.0" fill="#b22222"/><circle cx="332.2" cy="436.9" r="2.0" fill="#b22222"/><circle cx="285.2" cy="334.1" r="2.0" fill="#b22222"/><circle cx="303.5" cy="439.7" r="2.0" fill="#b22222"/><circle cx="298.9" cy="287.4" r="2.0" fill="#9acd32"/><circle cx="294.5" cy="330" r="2.0" fill="#008080"/><circle cx="355" cy="420.6" r="2.0" fill="#9acd32"/><circle cx="327.6" cy="423" r="2.0" fill="#b22222"/><circle cx="305.6" cy="260.2" r="2.0" fill="#b22222"/><circle cx="295.7" cy="361.4" r="2.0" fill="#b22222"/><circle cx="296.5" cy="333.7" r="2.0" fill="#9acd32"/><circle cx="355" cy="420.4" r="2.0" fill="#b22222"/><circle cx="382.1" cy="381.2" r="2.0" fill="#008080"/><circle cx="330.6" cy="396.4" r="2.0" fill="#9acd32"/><circle cx="382.2" cy="404.5" r="2.0" fill="#9acd32"/><circle cx="353.6" cy="411.4" r="2.0" fill="#008080"/><circle cx="299.8" cy="258.9" r="2.0" fill="#ffd700"/><circle cx="307.6" cy="444.6" r="2.0" fill="#4b0082"/><circle cx="302.7" cy="281.3" r="2.0" fill="#008080"/><circle cx="327.2" cy="434.4" r="2.0" fill="#4b0082"/><circle cx="357.6" cy="359.6" r="2.0" fill="#b22222"/><circle cx="388" cy="366.9" r="2.0" fill="#9acd32"/><circle cx="375.4" cy="436.2" r="2.0" fill="#008080"/><circle cx="305.8" cy="319.3" r="2.0" fill="#ffd700"/><circle cx="370.8" cy="379.6" r="2.0" fill="#ffd700"/><circle cx="289.7" cy="355.2" r="2.0" fill="#b22222"/><circle cx="295.5" cy="407.7" r="2.0" fill="#ffd700"/><circle cx="345.5" cy="321" r="2.0" fill="#b22222"/><circle cx="317.4" cy="432.2" r="2.0" fill="#ffd700"/><circle cx="383.1" cy="408.4" r="2.0" fill="#9acd32"/><circle cx="309" cy="268.9" r="2.0" fill="#9acd32"/><circle cx="327.5" cy="429.2" r="2.0" fill="#b22222"/><circle cx="361.6" cy="397.6" r="2.0" fill="#ffd700"/><circle cx="304.7" cy="327.4" r="2.0" fill="#008080"/><circle cx="327.2" cy="321.9" r="2.0" fill="#ffd700"/><circle cx="374.3" cy="429.5" r="2.0" fill="#4b0082"/><circle cx="384.6" cy="323.2" r="2.0" fill="#9acd32"/><circle cx="352.2" cy="436.5" r="2.0" fill="#4b0082"/><circle cx="316.5" cy="435.2" r="2.0" fill="#b22222"/><circle cx="340.9" cy="422.2" r="2.0" fill="#b22222"/><circle cx="363.2" cy="444.6" r="2.0" fill="#4b0082"/><circle cx="301.7" cy="395.5" r="2.0" fill="#b22222"/><circle cx="332.3" cy="427.5" r="2.0" fill="#b22222"/><circle cx="377" cy="416.5" r="2.0" fill="#4b0082"/><circle cx="294.4" cy="393.3" r="2.0" fill="#b22222"/><circle cx="353.8" cy="436.4" r="2.0" fill="#4b0082"/><circle cx="323.6" cy="364.8" r="2.0" fill="#b22222"/><circle cx="285.2" cy="351.7" r="2.0" fill="#ffd700"/><circle cx="350.4" cy="354.2" r="2.0" fill="#9acd32"/><circle cx="390.8" cy="310.7" r="2.0" fill="#ffd700"/><circle cx="289.8" cy="399.8" r="2.0" fill="#b22222"/><circle cx="296.3" cy="418.9" r="2.0" fill="#4b0082"/><circle cx="332.4" cy="397.3" r="2.0" fill="#4b0082"/><circle cx="367.6" cy="413.1" r="2.0" fill="#ffd700"/><circle cx="327.4" cy="391.1" r="2.0" fill="#4b0082"/><circle cx="290.5" cy="373.9" r="2.0" fill="#b22222"/><circle cx="300.2" cy="298.5" r="2.0" fill="#b22222"/><circle cx="359.8" cy="340.7" r="2.0" fill="#ffd700"/><circle cx="349.6" cy="404.8" r="2.0" fill="#9acd32"/><circle cx="384.7" cy="361.2" r="2.0" fill="#008080"/><circle cx="299.4" cy="300.4" r="2.0" fill="#ffd700"/><circle cx="299.2" cy="413.4" r="2.0" fill="#4b0082"/><circle cx="362.3" cy="437.1" r="2.0" fill="#9acd32"/><circle cx="350.7" cy="384.5" r="2.0" fill="#4b0082"/><circle cx="297.2" cy="421.9" r="2.0" fill="#4b0082"/><circle cx="311.7" cy="439.2" r="2.0" fill="#ffd700"/><circle cx="349.7" cy="394.5" r="2.0" fill="#ffd700"/><circle cx="307.1" cy="319.8" r="2.0" fill="#008080"/><circle cx="346.5" cy="405" r="2.0" fill="#ffd700"/><circle cx="324.7" cy="363.4" r="2.0" fill="#ffd700"/><circle cx="375.4" cy="391.2" r="2.0" fill="#9acd32"/><circle cx="359.5" cy="435.9" r="2.0" fill="#4b0082"/><circle cx="348.3" cy="431.6" r="2.0" fill="#4b0082"/><circle cx="345.4" cy="441.8" r="2.0" fill="#008080"/><circle cx="329.5" cy="372.8" r="2.0" fill="#ffd700"/><circle cx="298.9" cy="234.9" r="2.0" fill="#b22222"/><circle cx="372.3" cy="422.8" r="2.0" fill="#008080"/><circle cx="370.2" cy="407" r="2.0" fill="#008080"/><circle cx="343.1" cy="430.5" r="2.0" fill="#b22222"/><circle cx="294.3" cy="434.6" r="2.0" fill="#b22222"/><circle cx="379.7" cy="294.9" r="2.0" fill="#9acd32"/><circle cx="318.5" cy="423.7" r="2.0" fill="#b22222"/><circle cx="299.1" cy="335.4" r="2.0" fill="#ffd700"/><circle cx="372" cy="391.6" r="2.0" fill="#9acd32"/><circle cx="368.5" cy="422.6" r="2.0" fill="#008080"/><circle cx="284.7" cy="410.2" r="2.0" fill="#ffd700"/><circle cx="321.1" cy="428.4" r="2.0" fill="#b22222"/><circle cx="364.2" cy="426.1" r="2.0" fill="#4b0082"/><circle cx="394.6" cy="303" r="2.0" fill="#ffd700"/><circle cx="320.9" cy="427.4" r="2.0" fill="#b22222"/><circle cx="303.6" cy="253" r="2.0" fill="#ffd700"/><circle cx="351.8" cy="422.3" r="2.0" fill="#008080"/><circle cx="288.5" cy="419.1" r="2.0" fill="#b22222"/><circle cx="330.6" cy="408.2" r="2.0" fill="#ffd700"/><circle cx="370.5" cy="439.4" r="2.0" fill="#008080"/><circle cx="361.9" cy="435.8" r="2.0" fill="#008080"/><circle cx="328.1" cy="431.2" r="2.0" fill="#b22222"/><circle cx="374.9" cy="394.1" r="2.0" fill="#008080"/><circle cx="290.2" cy="266.6" r="2.0" fill="#ffd700"/><circle cx="306.5" cy="249.1" r="2.0" fill="#4b0082"/><circle cx="346.1" cy="330.4" r="2.0" fill="#ffd700"/><circle cx="368.1" cy="394.8" r="2.0" fill="#008080"/><circle cx="293.1" cy="320" r="2.0" fill="#4b0082"/><circle cx="315.9" cy="441.3" r="2.0" fill="#4b0082"/><circle cx="301.8" cy="414.1" r="2.0" fill="#b22222"/><circle cx="321.1" cy="426.3" r="2.0" fill="#4b0082"/><circle cx="293.2" cy="335.9" r="2.0" fill="#008080"/><circle cx="365.2" cy="427.1" r="2.0" fill="#008080"/><circle cx="329.2" cy="332.1" r="2.0" fill="#ffd700"/><circle cx="363.2" cy="413" r="2.0" fill="#9acd32"/><circle cx="298.1" cy="370.4" r="2.0" fill="#008080"/><circle cx="312.8" cy="441.8" r="2.0" fill="#b22222"/><circle cx="365.7" cy="408.6" r="2.0" fill="#ffd700"/><circle cx="299.4" cy="304" r="2.0" fill="#008080"/><circle cx="294.2" cy="410.1" r="2.0" fill="#b22222"/><circle cx="293.7" cy="425.7" r="2.0" fill="#4b0082"/><circle cx="379.7" cy="428.7" r="2.0" fill="#b22222"/><circle cx="307.4" cy="344.9" r="2.0" fill="#b22222"/><circle cx="310.4" cy="436.2" r="2.0" fill="#b22222"/><circle cx="296.7" cy="326" r="2.0" fill="#ffd700"/><circle cx="290.4" cy="383.4" r="2.0" fill="#008080"/><circle cx="367.9" cy="414.7" r="2.0" fill="#b22222"/><circle cx="357.7" cy="432.3" r="2.0" fill="#b22222"/><circle cx="308.5" cy="442" r="2.0" fill="#b22222"/><circle cx="327" cy="304.5" r="2.0" fill="#9acd32"/><circle cx="310.8" cy="425" r="2.0" fill="#b22222"/><circle cx="286.2" cy="393.7" r="2.0" fill="#b22222"/><circle cx="364.8" cy="381.1" r="2.0" fill="#9acd32"/><circle cx="294.8" cy="323.3" r="2.0" fill="#9acd32"/><circle cx="383.5" cy="411.3" r="2.0" fill="#4b0082"/><circle cx="304.1" cy="391.6" r="2.0" fill="#b22222"/><circle cx="356" cy="407.2" r="2.0" fill="#ffd700"/><circle cx="297.7" cy="364.3" r="2.0" fill="#9acd32"/><circle cx="305.6" cy="302.4" r="2.0" fill="#9acd32"/><circle cx="336.3" cy="403.7" r="2.0" fill="#ffd700"/><circle cx="363.7" cy="430.2" r="2.0" fill="#4b0082"/><circle cx="284.5" cy="302.4" r="2.0" fill="#b22222"/><circle cx="326.7" cy="441.9" r="2.0" fill="#008080"/><circle cx="369.5" cy="421.7" r="2.0" fill="#4b0082"/><circle cx="372.4" cy="409.7" r="2.0" fill="#4b0082"/><circle cx="293.7" cy="256" r="2.0" fill="#b22222"/><circle cx="304.1" cy="372.1" r="2.0" fill="#b22222"/><circle cx="369.5" cy="389.5" r="2.0" fill="#9acd32"/><circle cx="306.3" cy="424.4" r="2.0" fill="#4b0082"/><circle cx="303.6" cy="287.4" r="2.0" fill="#ffd700"/><circle cx="369.2" cy="310.4" r="2.0" fill="#ffd700"/><circle cx="400.5" cy="348" r="2.0" fill="#9acd32"/><circle cx="333" cy="426.4" r="2.0" fill="#b22222"/><circle cx="333.4" cy="435.4" r="2.0" fill="#ffd700"/><circle cx="359.4" cy="376.8" r="2.0" fill="#ffd700"/><circle cx="301.9" cy="389.4" r="2.0" fill="#b22222"/><circle cx="296" cy="422.5" r="2.0" fill="#4b0082"/><circle cx="297.3" cy="366.5" r="2.0" fill="#ffd700"/><circle cx="331.6" cy="415" r="2.0" fill="#ffd700"/><circle cx="366.9" cy="397.6" r="2.0" fill="#008080"/><circle cx="299.9" cy="340.3" r="2.0" fill="#4b0082"/><circle cx="355.2" cy="405.4" r="2.0" fill="#008080"/><circle cx="353.7" cy="420.3" r="2.0" fill="#9acd32"/><circle cx="336.3" cy="439.2" r="2.0" fill="#b22222"/><circle cx="299.8" cy="274.6" r="2.0" fill="#4b0082"/><circle cx="301.6" cy="297" r="2.0" fill="#ffd700"/><circle cx="318.3" cy="357.9" r="2.0" fill="#ffd700"/><circle cx="294.9" cy="408.6" r="2.0" fill="#b22222"/><circle cx="296.7" cy="416.4" r="2.0" fill="#b22222"/><circle cx="296.7" cy="413.5" r="2.0" fill="#ffd700"/><circle cx="373.6" cy="392" r="2.0" fill="#008080"/><circle cx="378.8" cy="417.2" r="2.0" fill="#4b0082"/><circle cx="364.2" cy="396.5" r="2.0" fill="#9acd32"/><circle cx="320.1" cy="393.2" r="2.0" fill="#ffd700"/><circle cx="297.8" cy="288.9" r="2.0" fill="#4b0082"/><circle cx="338.2" cy="373.1" r="2.0" fill="#ffd700"/><circle cx="349.6" cy="440.5" r="2.0" fill="#4b0082"/><circle cx="352.2" cy="432.4" r="2.0" fill="#4b0082"/><circle cx="285.1" cy="408.8" r="2.0" fill="#4b0082"/><circle cx="341.5" cy="416.9" r="2.0" fill="#4b0082"/><circle cx="334" cy="443" r="2.0" fill="#b22222"/><circle cx="305.3" cy="439.1" r="2.0" fill="#ffd700"/><circle cx="291.2" cy="377" r="2.0" fill="#008080"/><circle cx="358.7" cy="445.7" r="2.0" fill="#b22222"/><circle cx="283.2" cy="345" r="2.0" fill="#b22222"/><circle cx="276.1" cy="438.7" r="2.0" fill="#ffd700"/><circle cx="305.8" cy="426.4" r="2.0" fill="#b22222"/><circle cx="277.4" cy="395.4" r="2.0" fill="#9acd32"/><circle cx="303.6" cy="306.6" r="2.0" fill="#b22222"/><circle cx="375.8" cy="405.3" r="2.0" fill="#9acd32"/><circle cx="286.4" cy="274.6" r="2.0" fill="#ffd700"/><circle cx="316.4" cy="435.2" r="2.0" fill="#b22222"/><circle cx="388.7" cy="383.6" r="2.0" fill="#9acd32"/><circle cx="292.3" cy="412.4" r="2.0" fill="#b22222"/><circle cx="306.9" cy="256" r="2.0" fill="#9acd32"/><circle cx="327.9" cy="330.5" r="2.0" fill="#ffd700"/><circle cx="378.7" cy="373.2" r="2.0" fill="#ffd700"/><circle cx="355.1" cy="362.7" r="2.0" fill="#ffd700"/><circle cx="357" cy="403.5" r="2.0" fill="#ffd700"/><circle cx="299" cy="435.7" r="2.0" fill="#b22222"/><circle cx="302.7" cy="270.8" r="2.0" fill="#9acd32"/><circle cx="323.4" cy="418.3" r="2.0" fill="#4b0082"/><circle cx="287.8" cy="414.3" r="2.0" fill="#b22222"/><circle cx="355.5" cy="427.4" r="2.0" fill="#4b0082"/><circle cx="293.5" cy="419.8" r="2.0" fill="#b22222"/><circle cx="301.1" cy="426" r="2.0" fill="#4b0082"/><circle cx="306.4" cy="336.6" r="2.0" fill="#ffd700"/><circle cx="304.7" cy="418.5" r="2.0" fill="#b22222"/><circle cx="372.9" cy="398.1" r="2.0" fill="#ffd700"/><circle cx="347.6" cy="437" r="2.0" fill="#4b0082"/><circle cx="313.7" cy="445.6" r="2.0" fill="#b22222"/><circle cx="340.7" cy="407.8" r="2.0" fill="#ffd700"/><circle cx="371.6" cy="446.9" r="2.0" fill="#4b0082"/><circle cx="372.8" cy="396.6" r="2.0" fill="#ffd700"/><circle cx="294.8" cy="292.8" r="2.0" fill="#9acd32"/><circle cx="305" cy="391.5" r="2.0" fill="#b22222"/><circle cx="301.4" cy="327.8" r="2.0" fill="#ffd700"/><circle cx="296.9" cy="387.3" r="2.0" fill="#ffd700"/><circle cx="388" cy="413.8" r="2.0" fill="#008080"/><circle cx="297.2" cy="372.3" r="2.0" fill="#b22222"/><circle cx="392.4" cy="375.3" r="2.0" fill="#9acd32"/><circle cx="391" cy="301.2" r="2.0" fill="#9acd32"/><circle cx="294" cy="420.2" r="2.0" fill="#ffd700"/><circle cx="367.5" cy="407.5" r="2.0" fill="#b22222"/><circle cx="389.9" cy="406.8" r="2.0" fill="#4b0082"/><circle cx="288.4" cy="425.1" r="2.0" fill="#ffd700"/><circle cx="350.4" cy="380.5" r="2.0" fill="#ffd700"/><circle cx="351.9" cy="410.4" r="2.0" fill="#9acd32"/><circle cx="357.8" cy="388.3" r="2.0" fill="#9acd32"/><circle cx="372.9" cy="365.9" r="2.0" fill="#ffd700"/><circle cx="371.7" cy="412.1" r="2.0" fill="#9acd32"/><circle cx="300.4" cy="292.1" r="2.0" fill="#4b0082"/><circle cx="360.2" cy="405.9" r="2.0" fill="#008080"/><circle cx="312.6" cy="331.9" r="2.0" fill="#9acd32"/><circle cx="355.4" cy="327.4" r="2.0" fill="#9acd32"/><circle cx="400" cy="318.3" r="2.0" fill="#9acd32"/><circle cx="321.5" cy="456.4" r="2.0" fill="#b22222"/><circle cx="314" cy="431.4" r="2.0" fill="#b22222"/><circle cx="387.9" cy="299.1" r="2.0" fill="#008080"/><circle cx="293.1" cy="275.2" r="2.0" fill="#9acd32"/><circle cx="295" cy="414.8" r="2.0" fill="#b22222"/><circle cx="368.4" cy="416.7" r="2.0" fill="#9acd32"/><circle cx="320" cy="410.8" r="2.0" fill="#ffd700"/><circle cx="379.7" cy="423.7" r="2.0" fill="#008080"/><circle cx="303.1" cy="442.7" r="2.0" fill="#b22222"/><circle cx="296.2" cy="458.9" r="2.0" fill="#b22222"/><circle cx="296" cy="402.8" r="2.0" fill="#4b0082"/><circle cx="366.6" cy="431.7" r="2.0" fill="#4b0082"/><circle cx="306.8" cy="423.4" r="2.0" fill="#ffd700"/><circle cx="369.7" cy="410" r="2.0" fill="#9acd32"/><circle cx="363.7" cy="418.8" r="2.0" fill="#008080"/><circle cx="316.2" cy="425.6" r="2.0" fill="#b22222"/><circle cx="362.6" cy="446.6" r="2.0" fill="#4b0082"/><circle cx="343.8" cy="420.2" r="2.0" fill="#4b0082"/><circle cx="295.1" cy="291.1" r="2.0" fill="#008080"/><circle cx="301.1" cy="390.6" r="2.0" fill="#4b0082"/><circle cx="291.2" cy="376" r="2.0" fill="#b22222"/><circle cx="357" cy="435.8" r="2.0" fill="#008080"/><circle cx="338.1" cy="323.4" r="2.0" fill="#ffd700"/><circle cx="335.8" cy="423.9" r="2.0" fill="#b22222"/><circle cx="388.3" cy="401.8" r="2.0" fill="#008080"/><circle cx="372.6" cy="429" r="2.0" fill="#4b0082"/><circle cx="340.9" cy="389" r="2.0" fill="#b22222"/><circle cx="293.3" cy="424.7" r="2.0" fill="#4b0082"/><circle cx="303.5" cy="426.2" r="2.0" fill="#b22222"/><circle cx="330.2" cy="420.3" r="2.0" fill="#b22222"/><circle cx="363.9" cy="432.5" r="2.0" fill="#4b0082"/><circle cx="333.6" cy="413.4" r="2.0" fill="#4b0082"/><circle cx="350" cy="387" r="2.0" fill="#ffd700"/><circle cx="304.7" cy="348" r="2.0" fill="#008080"/><circle cx="320.5" cy="426.1" r="2.0" fill="#b22222"/><circle cx="365.7" cy="432.8" r="2.0" fill="#4b0082"/><circle cx="292.8" cy="325.1" r="2.0" fill="#b22222"/><circle cx="327.3" cy="330.1" r="2.0" fill="#008080"/><circle cx="307.1" cy="418.2" r="2.0" fill="#4b0082"/><circle cx="360.6" cy="415.2" r="2.0" fill="#9acd32"/><circle cx="297.1" cy="412.3" r="2.0" fill="#b22222"/><circle cx="307.3" cy="431.3" r="2.0" fill="#b22222"/><circle cx="286.4" cy="392.1" r="2.0" fill="#b22222"/><circle cx="288.8" cy="411.1" r="2.0" fill="#4b0082"/><circle cx="314.2" cy="438.2" r="2.0" fill="#b22222"/><circle cx="380.6" cy="420.4" r="2.0" fill="#008080"/><circle cx="355" cy="430.4" r="2.0" fill="#008080"/><circle cx="360.3" cy="420" r="2.0" fill="#008080"/><circle cx="326" cy="443.8" r="2.0" fill="#b22222"/><circle cx="339.6" cy="412.1" r="2.0" fill="#4b0082"/><circle cx="281.7" cy="440.8" r="2.0" fill="#b22222"/><circle cx="311.2" cy="420.5" r="2.0" fill="#4b0082"/><circle cx="303.2" cy="358.4" r="2.0" fill="#4b0082"/><circle cx="385.6" cy="410" r="2.0" fill="#008080"/><circle cx="283.3" cy="402.2" r="2.0" fill="#ffd700"/><circle cx="348.4" cy="415.5" r="2.0" fill="#9acd32"/><circle cx="373.6" cy="410.9" r="2.0" fill="#008080"/><circle cx="329.5" cy="428.7" r="2.0" fill="#b22222"/><circle cx="293.1" cy="270.2" r="2.0" fill="#b22222"/><circle cx="366.6" cy="427.9" r="2.0" fill="#4b0082"/><circle cx="352.1" cy="339.3" r="2.0" fill="#ffd700"/><circle cx="376.9" cy="418.5" r="2.0" fill="#9acd32"/><circle cx="293.7" cy="262.1" r="2.0" fill="#4b0082"/><circle cx="295" cy="326.7" r="2.0" fill="#ffd700"/><circle cx="286.4" cy="398.3" r="2.0" fill="#b22222"/><circle cx="294" cy="403.6" r="2.0" fill="#b22222"/><circle cx="305.6" cy="296.2" r="2.0" fill="#9acd32"/><circle cx="317.2" cy="451.2" r="2.0" fill="#b22222"/><circle cx="293.4" cy="382.6" r="2.0" fill="#4b0082"/><circle cx="396.8" cy="426.2" r="2.0" fill="#008080"/><circle cx="374.8" cy="394.7" r="2.0" fill="#008080"/><circle cx="331.1" cy="429.5" r="2.0" fill="#b22222"/><circle cx="288.3" cy="267.5" r="2.0" fill="#9acd32"/><circle cx="315" cy="429.9" r="2.0" fill="#b22222"/><circle cx="358.7" cy="416.4" r="2.0" fill="#9acd32"/><circle cx="282.9" cy="421.5" r="2.0" fill="#9acd32"/><circle cx="292.9" cy="377" r="2.0" fill="#4b0082"/><circle cx="285.6" cy="386.2" r="2.0" fill="#b22222"/><circle cx="298.8" cy="313.2" r="2.0" fill="#4b0082"/><circle cx="312.5" cy="425.6" r="2.0" fill="#b22222"/><circle cx="377.5" cy="418.2" r="2.0" fill="#008080"/><circle cx="320.4" cy="436.5" r="2.0" fill="#b22222"/><circle cx="278.3" cy="352.1" r="2.0" fill="#4b0082"/><circle cx="298.8" cy="320.2" r="2.0" fill="#b22222"/><circle cx="283.7" cy="406" r="2.0" fill="#4b0082"/><circle cx="310.5" cy="442" r="2.0" fill="#b22222"/><circle cx="365.4" cy="397.9" r="2.0" fill="#ffd700"/><circle cx="298.9" cy="304.3" r="2.0" fill="#9acd32"/><circle cx="363.1" cy="440.2" r="2.0" fill="#4b0082"/><circle cx="322.7" cy="427.1" r="2.0" fill="#b22222"/><circle cx="303.4" cy="416" r="2.0" fill="#4b0082"/><circle cx="300.2" cy="288.2" r="2.0" fill="#ffd700"/><circle cx="296.1" cy="412.2" r="2.0" fill="#4b0082"/><circle cx="355.6" cy="387.2" r="2.0" fill="#b22222"/><circle cx="296" cy="265" r="2.0" fill="#008080"/><circle cx="313.6" cy="452.1" r="2.0" fill="#b22222"/><circle cx="330.9" cy="398.7" r="2.0" fill="#9acd32"/><circle cx="295.4" cy="423.4" r="2.0" fill="#b22222"/><circle cx="384.7" cy="426" r="2.0" fill="#4b0082"/><circle cx="292" cy="413.3" r="2.0" fill="#4b0082"/><circle cx="313.1" cy="427.5" r="2.0" fill="#b22222"/><circle cx="285.9" cy="346.8" r="2.0" fill="#ffd700"/><circle cx="342.2" cy="404.2" r="2.0" fill="#4b0082"/><circle cx="320.1" cy="440.1" r="2.0" fill="#b22222"/><circle cx="385.9" cy="418.3" r="2.0" fill="#4b0082"/><circle cx="388.7" cy="435.3" r="2.0" fill="#4b0082"/><circle cx="376.5" cy="396.9" r="2.0" fill="#9acd32"/><circle cx="277.2" cy="433.4" r="2.0" fill="#b22222"/><circle cx="362.7" cy="376" r="2.0" fill="#ffd700"/><circle cx="299" cy="341" r="2.0" fill="#b22222"/><circle cx="304" cy="425.9" r="2.0" fill="#b22222"/><circle cx="367.1" cy="433.6" r="2.0" fill="#4b0082"/><circle cx="294.9" cy="368.8" r="2.0" fill="#ffd700"/><circle cx="307.5" cy="277.5" r="2.0" fill="#9acd32"/><circle cx="302.8" cy="286" r="2.0" fill="#9acd32"/><circle cx="346.8" cy="434.6" r="2.0" fill="#b22222"/><circle cx="294.2" cy="394.6" r="2.0" fill="#ffd700"/><circle cx="330.3" cy="432.3" r="2.0" fill="#b22222"/><circle cx="357" cy="411.3" r="2.0" fill="#b22222"/><circle cx="360.7" cy="423.7" r="2.0" fill="#4b0082"/><circle cx="377.5" cy="403.8" r="2.0" fill="#9acd32"/><circle cx="305.5" cy="409.5" r="2.0" fill="#ffd700"/><circle cx="306.9" cy="291.8" r="2.0" fill="#b22222"/><circle cx="300.7" cy="378.7" r="2.0" fill="#b22222"/><circle cx="311.1" cy="446.6" r="2.0" fill="#b22222"/><circle cx="295.5" cy="281.5" r="2.0" fill="#9acd32"/><circle cx="340.9" cy="396.9" r="2.0" fill="#4b0082"/><circle cx="376.1" cy="395.8" r="2.0" fill="#9acd32"/><circle cx="313.8" cy="299.8" r="2.0" fill="#9acd32"/><circle cx="331.7" cy="399.7" r="2.0" fill="#ffd700"/><circle cx="306.8" cy="447.8" r="2.0" fill="#b22222"/><circle cx="362.1" cy="374.6" r="2.0" fill="#9acd32"/><circle cx="382.5" cy="443" r="2.0" fill="#9acd32"/><circle cx="296" cy="315.8" r="2.0" fill="#4b0082"/><circle cx="332.8" cy="402.9" r="2.0" fill="#9acd32"/><circle cx="362" cy="434.5" r="2.0" fill="#008080"/><circle cx="368.9" cy="432.5" r="2.0" fill="#008080"/><circle cx="380.9" cy="399" r="2.0" fill="#9acd32"/><circle cx="343.9" cy="441" r="2.0" fill="#b22222"/><circle cx="294.4" cy="277.4" r="2.0" fill="#b22222"/><circle cx="299.6" cy="416.3" r="2.0" fill="#9acd32"/><circle cx="290.2" cy="291.8" r="2.0" fill="#ffd700"/><circle cx="277.7" cy="418.3" r="2.0" fill="#4b0082"/><circle cx="310.2" cy="444.5" r="2.0" fill="#b22222"/><circle cx="334.1" cy="443" r="2.0" fill="#b22222"/><circle cx="376.3" cy="434.8" r="2.0" fill="#4b0082"/><circle cx="369.7" cy="368.5" r="2.0" fill="#9acd32"/><circle cx="341.1" cy="406.6" r="2.0" fill="#ffd700"/><circle cx="388.8" cy="428.8" r="2.0" fill="#008080"/><circle cx="307.1" cy="309.7" r="2.0" fill="#b22222"/><circle cx="380.4" cy="384.6" r="2.0" fill="#008080"/><circle cx="317.7" cy="454.4" r="2.0" fill="#b22222"/><circle cx="354.2" cy="418.3" r="2.0" fill="#4b0082"/><circle cx="295.2" cy="373.6" r="2.0" fill="#b22222"/><circle cx="298.3" cy="373.9" r="2.0" fill="#4b0082"/><circle cx="305.1" cy="343.7" r="2.0" fill="#ffd700"/><circle cx="285.1" cy="407.4" r="2.0" fill="#4b0082"/><circle cx="324.8" cy="433" r="2.0" fill="#b22222"/><circle cx="291.3" cy="360.1" r="2.0" fill="#b22222"/><circle cx="293.4" cy="293.9" r="2.0" fill="#4b0082"/><circle cx="318.7" cy="429.6" r="2.0" fill="#b22222"/><circle cx="376.6" cy="425" r="2.0" fill="#9acd32"/><circle cx="297.8" cy="347.9" r="2.0" fill="#ffd700"/><circle cx="337.5" cy="379.8" r="2.0" fill="#9acd32"/><circle cx="369.7" cy="404.6" r="2.0" fill="#008080"/><circle cx="341.3" cy="430.9" r="2.0" fill="#b22222"/><circle cx="349.6" cy="316.4" r="2.0" fill="#b22222"/><circle cx="362.9" cy="322.4" r="2.0" fill="#ffd700"/><circle cx="288.8" cy="421.8" r="2.0" fill="#b22222"/><circle cx="359.3" cy="427.2" r="2.0" fill="#ffd700"/><circle cx="336" cy="366.4" r="2.0" fill="#9acd32"/><circle cx="273.1" cy="427.7" r="2.0" fill="#4b0082"/><circle cx="379.3" cy="421.3" r="2.0" fill="#4b0082"/><circle cx="322.5" cy="408.8" r="2.0" fill="#b22222"/><circle cx="286.6" cy="400.2" r="2.0" fill="#4b0082"/><circle cx="330.9" cy="442.9" r="2.0" fill="#ffd700"/><circle cx="296" cy="271.7" r="2.0" fill="#9acd32"/><circle cx="345.8" cy="392.8" r="2.0" fill="#ffd700"/><circle cx="324.3" cy="406.4" r="2.0" fill="#b22222"/><circle cx="369.1" cy="380.7" r="2.0" fill="#008080"/><circle cx="391.1" cy="328.5" r="2.0" fill="#9acd32"/><circle cx="373.9" cy="421.2" r="2.0" fill="#008080"/><circle cx="380.7" cy="388.6" r="2.0" fill="#9acd32"/><circle cx="359.7" cy="384" r="2.0" fill="#008080"/><circle cx="315.6" cy="437" r="2.0" fill="#b22222"/><circle cx="366.8" cy="433.2" r="2.0" fill="#b22222"/><circle cx="362.4" cy="417.9" r="2.0" fill="#9acd32"/><circle cx="298.6" cy="353.7" r="2.0" fill="#ffd700"/><circle cx="290.8" cy="296.9" r="2.0" fill="#9acd32"/><circle cx="286.4" cy="311" r="2.0" fill="#4b0082"/><circle cx="314.4" cy="434" r="2.0" fill="#ffd700"/><circle cx="369.8" cy="411.6" r="2.0" fill="#008080"/><circle cx="340.9" cy="421.1" r="2.0" fill="#008080"/><circle cx="367.3" cy="394.3" r="2.0" fill="#4b0082"/><circle cx="344.9" cy="403" r="2.0" fill="#ffd700"/><circle cx="333.1" cy="408.8" r="2.0" fill="#ffd700"/><circle cx="293.6" cy="427.6" r="2.0" fill="#b22222"/><circle cx="381.7" cy="339.6" r="2.0" fill="#ffd700"/><circle cx="367.8" cy="436.8" r="2.0" fill="#008080"/><circle cx="330.3" cy="429.4" r="2.0" fill="#b22222"/><circle cx="349.3" cy="398.3" r="2.0" fill="#ffd700"/><circle cx="317.1" cy="368" r="2.0" fill="#ffd700"/><circle cx="298.1" cy="445.5" r="2.0" fill="#b22222"/><circle cx="333.2" cy="404.3" r="2.0" fill="#ffd700"/><circle cx="335.7" cy="392.9" r="2.0" fill="#ffd700"/><circle cx="304" cy="435.1" r="2.0" fill="#b22222"/><circle cx="375.8" cy="332.9" r="2.0" fill="#ffd700"/><circle cx="283" cy="279" r="2.0" fill="#b22222"/><circle cx="359.3" cy="417" r="2.0" fill="#4b0082"/><circle cx="321.2" cy="446.1" r="2.0" fill="#b22222"/><circle cx="301" cy="413.6" r="2.0" fill="#4b0082"/><circle cx="308.6" cy="436.7" r="2.0" fill="#b22222"/><circle cx="367.6" cy="389.3" r="2.0" fill="#ffd700"/><circle cx="305" cy="423.9" r="2.0" fill="#b22222"/><circle cx="385.6" cy="436.1" r="2.0" fill="#b22222"/><circle cx="300.6" cy="378.2" r="2.0" fill="#008080"/><circle cx="285" cy="332.5" r="2.0" fill="#9acd32"/><circle cx="294.9" cy="354.5" r="2.0" fill="#ffd700"/><circle cx="375.3" cy="423.3" r="2.0" fill="#9acd32"/><circle cx="367.9" cy="444.8" r="2.0" fill="#4b0082"/><circle cx="309.9" cy="434.2" r="2.0" fill="#b22222"/><circle cx="343.1" cy="423.8" r="2.0" fill="#b22222"/><circle cx="324.5" cy="426.8" r="2.0" fill="#b22222"/><circle cx="380.1" cy="429.4" r="2.0" fill="#9acd32"/><circle cx="318.4" cy="344.8" r="2.0" fill="#ffd700"/><circle cx="291.4" cy="415" r="2.0" fill="#b22222"/><circle cx="290.1" cy="272.8" r="2.0" fill="#9acd32"/><circle cx="302.9" cy="439.9" r="2.0" fill="#b22222"/><circle cx="303.2" cy="274" r="2.0" fill="#4b0082"/><circle cx="298.4" cy="415.4" r="2.0" fill="#b22222"/><circle cx="398.1" cy="311.9" r="2.0" fill="#9acd32"/><circle cx="326.8" cy="445.9" r="2.0" fill="#b22222"/><circle cx="310.5" cy="395.8" r="2.0" fill="#b22222"/><circle cx="303.6" cy="277.5" r="2.0" fill="#ffd700"/><circle cx="381.8" cy="303.9" r="2.0" fill="#9acd32"/><circle cx="312.6" cy="408.3" r="2.0" fill="#b22222"/><circle cx="398.2" cy="355" r="2.0" fill="#9acd32"/><circle cx="297.2" cy="322.5" r="2.0" fill="#b22222"/><circle cx="313.1" cy="426.1" r="2.0" fill="#4b0082"/><circle cx="329.6" cy="330.6" r="2.0" fill="#ffd700"/><circle cx="293.1" cy="384.8" r="2.0" fill="#4b0082"/><circle cx="365.9" cy="401.1" r="2.0" fill="#4b0082"/><circle cx="384.3" cy="396.1" r="2.0" fill="#9acd32"/><circle cx="300.8" cy="266.6" r="2.0" fill="#b22222"/><circle cx="361.7" cy="427" r="2.0" fill="#008080"/><circle cx="354.5" cy="380.3" r="2.0" fill="#9acd32"/><circle cx="305.2" cy="328.7" r="2.0" fill="#008080"/><circle cx="333.1" cy="415.6" r="2.0" fill="#b22222"/><circle cx="367.6" cy="420.2" r="2.0" fill="#008080"/><circle cx="290.2" cy="336" r="2.0" fill="#b22222"/><circle cx="302.7" cy="365.6" r="2.0" fill="#b22222"/><circle cx="362.3" cy="412" r="2.0" fill="#008080"/><circle cx="292" cy="423.5" r="2.0" fill="#b22222"/><circle cx="335.4" cy="428.5" r="2.0" fill="#b22222"/><circle cx="361.9" cy="336.8" r="2.0" fill="#ffd700"/><circle cx="337.2" cy="314.8" r="2.0" fill="#ffd700"/><circle cx="297.9" cy="417" r="2.0" fill="#b22222"/><circle cx="401.6" cy="379.1" r="2.0" fill="#9acd32"/><circle cx="335.8" cy="385" r="2.0" fill="#b22222"/><circle cx="333.6" cy="420.7" r="2.0" fill="#b22222"/><circle cx="289.4" cy="334.4" r="2.0" fill="#ffd700"/><circle cx="362.2" cy="399" r="2.0" fill="#9acd32"/><circle cx="323.3" cy="426.7" r="2.0" fill="#ffd700"/><circle cx="298.2" cy="378.2" r="2.0" fill="#b22222"/><circle cx="374.3" cy="435.9" r="2.0" fill="#9acd32"/><circle cx="332" cy="423" r="2.0" fill="#4b0082"/><circle cx="368.2" cy="425.6" r="2.0" fill="#9acd32"/><circle cx="341.5" cy="403.4" r="2.0" fill="#ffd700"/><circle cx="311.9" cy="443.2" r="2.0" fill="#b22222"/><circle cx="344.4" cy="429.8" r="2.0" fill="#b22222"/><circle cx="347.3" cy="309.1" r="2.0" fill="#ffd700"/><circle cx="388" cy="367.8" r="2.0" fill="#008080"/><circle cx="296.9" cy="296.6" r="2.0" fill="#008080"/><circle cx="294.4" cy="408.2" r="2.0" fill="#ffd700"/><circle cx="291.2" cy="280.4" r="2.0" fill="#9acd32"/><circle cx="304.8" cy="363.7" r="2.0" fill="#008080"/><circle cx="281.1" cy="385.7" r="2.0" fill="#008080"/><circle cx="379.8" cy="420.5" r="2.0" fill="#ffd700"/><circle cx="400.2" cy="404" r="2.0" fill="#9acd32"/><circle cx="338.6" cy="425.3" r="2.0" fill="#b22222"/><circle cx="315.2" cy="455.7" r="2.0" fill="#b22222"/><circle cx="321.6" cy="436.1" r="2.0" fill="#4b0082"/><circle cx="300.4" cy="356.5" r="2.0" fill="#b22222"/><circle cx="394.1" cy="367.6" r="2.0" fill="#9acd32"/><circle cx="290.8" cy="244.5" r="2.0" fill="#ffd700"/><circle cx="328.5" cy="433.4" r="2.0" fill="#b22222"/><circle cx="354" cy="403.5" r="2.0" fill="#b22222"/><circle cx="352.1" cy="428.2" r="2.0" fill="#9acd32"/><circle cx="310.6" cy="434" r="2.0" fill="#b22222"/><circle cx="325.5" cy="395.8" r="2.0" fill="#ffd700"/><circle cx="369.1" cy="402.7" r="2.0" fill="#9acd32"/><circle cx="287.5" cy="320.2" r="2.0" fill="#b22222"/><circle cx="391.1" cy="294.2" r="2.0" fill="#9acd32"/><circle cx="296.5" cy="399.9" r="2.0" fill="#b22222"/><circle cx="298.9" cy="279.8" r="2.0" fill="#b22222"/><circle cx="357.7" cy="386.2" r="2.0" fill="#ffd700"/><circle cx="377" cy="295.7" r="2.0" fill="#008080"/><circle cx="300.6" cy="397.8" r="2.0" fill="#b22222"/><circle cx="386.5" cy="381.5" r="2.0" fill="#008080"/><circle cx="286.5" cy="441.6" r="2.0" fill="#b22222"/><circle cx="371.7" cy="400.3" r="2.0" fill="#008080"/><circle cx="341.6" cy="374.1" r="2.0" fill="#008080"/><circle cx="335.7" cy="427.8" r="2.0" fill="#b22222"/><circle cx="359.6" cy="422.4" r="2.0" fill="#008080"/><circle cx="327.4" cy="399.7" r="2.0" fill="#ffd700"/><circle cx="377" cy="368.2" r="2.0" fill="#b22222"/><circle cx="365.7" cy="396.6" r="2.0" fill="#008080"/><circle cx="307.7" cy="411.7" r="2.0" fill="#4b0082"/><circle cx="292.9" cy="292.6" r="2.0" fill="#4b0082"/><circle cx="404" cy="375" r="2.0" fill="#9acd32"/><circle cx="299.2" cy="345.3" r="2.0" fill="#b22222"/><circle cx="296" cy="339.4" r="2.0" fill="#b22222"/><circle cx="288" cy="393.3" r="2.0" fill="#ffd700"/><circle cx="386.7" cy="436.1" r="2.0" fill="#4b0082"/><circle cx="324.8" cy="434.3" r="2.0" fill="#b22222"/><circle cx="310.2" cy="428.6" r="2.0" fill="#b22222"/><circle cx="324.4" cy="418.8" r="2.0" fill="#b22222"/><circle cx="319.7" cy="439.2" r="2.0" fill="#b22222"/><circle cx="317" cy="403.6" r="2.0" fill="#4b0082"/><circle cx="373.1" cy="427.3" r="2.0" fill="#008080"/><circle cx="302.2" cy="354.3" r="2.0" fill="#b22222"/><circle cx="293.6" cy="400.8" r="2.0" fill="#ffd700"/><circle cx="296.8" cy="357.7" r="2.0" fill="#b22222"/><circle cx="391.4" cy="335.5" r="2.0" fill="#9acd32"/><circle cx="324.8" cy="426.6" r="2.0" fill="#b22222"/><circle cx="294" cy="398.7" r="2.0" fill="#4b0082"/><circle cx="316.6" cy="458.1" r="2.0" fill="#ffd700"/><circle cx="354.2" cy="438.3" r="2.0" fill="#4b0082"/><circle cx="312.4" cy="409.4" r="2.0" fill="#b22222"/><circle cx="343" cy="406" r="2.0" fill="#4b0082"/><circle cx="314" cy="367.7" r="2.0" fill="#b22222"/><circle cx="321.9" cy="438.4" r="2.0" fill="#b22222"/><circle cx="351.7" cy="431.3" r="2.0" fill="#b22222"/><circle cx="338.7" cy="344.7" r="2.0" fill="#008080"/><circle cx="367.4" cy="423.5" r="2.0" fill="#008080"/><circle cx="296" cy="312" r="2.0" fill="#ffd700"/><circle cx="295.2" cy="283.3" r="2.0" fill="#b22222"/><circle cx="376.2" cy="441.4" r="2.0" fill="#9acd32"/><circle cx="294.1" cy="258.9" r="2.0" fill="#ffd700"/><circle cx="363.5" cy="426.5" r="2.0" fill="#b22222"/><circle cx="343.9" cy="403" r="2.0" fill="#ffd700"/><circle cx="300.3" cy="427.4" r="2.0" fill="#b22222"/><circle cx="366.7" cy="406.3" r="2.0" fill="#008080"/><circle cx="307.1" cy="281.7" r="2.0" fill="#008080"/><circle cx="373.8" cy="397.9" r="2.0" fill="#ffd700"/><circle cx="321.1" cy="435.1" r="2.0" fill="#ffd700"/><circle cx="354" cy="420.3" r="2.0" fill="#ffd700"/><circle cx="359" cy="427.4" r="2.0" fill="#4b0082"/><circle cx="375.4" cy="404.2" r="2.0" fill="#ffd700"/><circle cx="310.3" cy="295.7" r="2.0" fill="#b22222"/><circle cx="362.7" cy="418" r="2.0" fill="#008080"/><circle cx="360.9" cy="422.5" r="2.0" fill="#9acd32"/><circle cx="325.9" cy="431.1" r="2.0" fill="#ffd700"/><circle cx="333.8" cy="416.7" r="2.0" fill="#ffd700"/><circle cx="339.6" cy="364.1" r="2.0" fill="#ffd700"/><circle cx="392.3" cy="384" r="2.0" fill="#008080"/><circle cx="294.6" cy="433" r="2.0" fill="#b22222"/><circle cx="329.8" cy="406.5" r="2.0" fill="#ffd700"/><circle cx="292" cy="325.4" r="2.0" fill="#b22222"/><circle cx="306" cy="300.4" r="2.0" fill="#b22222"/><circle cx="358.4" cy="412.8" r="2.0" fill="#9acd32"/><circle cx="369.3" cy="439.4" r="2.0" fill="#008080"/><circle cx="331.9" cy="382.5" r="2.0" fill="#ffd700"/><circle cx="396.6" cy="399.5" r="2.0" fill="#9acd32"/><circle cx="351.6" cy="440.6" r="2.0" fill="#4b0082"/><circle cx="388.1" cy="362.3" r="2.0" fill="#9acd32"/><circle cx="376.1" cy="412.9" r="2.0" fill="#4b0082"/><circle cx="384" cy="435.2" r="2.0" fill="#4b0082"/><circle cx="288.3" cy="304.3" r="2.0" fill="#9acd32"/><circle cx="295.2" cy="367.6" r="2.0" fill="#4b0082"/><circle cx="375" cy="406.4" r="2.0" fill="#ffd700"/><circle cx="288.7" cy="328.1" r="2.0" fill="#008080"/><circle cx="383.3" cy="393.4" r="2.0" fill="#008080"/><circle cx="296" cy="300.5" r="2.0" fill="#4b0082"/><circle cx="322.1" cy="443.1" r="2.0" fill="#b22222"/><circle cx="314.1" cy="411.6" r="2.0" fill="#b22222"/><circle cx="375.1" cy="311.1" r="2.0" fill="#9acd32"/><circle cx="375.4" cy="393.4" r="2.0" fill="#008080"/><circle cx="301.9" cy="443.3" r="2.0" fill="#4b0082"/><circle cx="345.1" cy="365.1" r="2.0" fill="#b22222"/><circle cx="344.9" cy="412.5" r="2.0" fill="#b22222"/><circle cx="388.5" cy="415.3" r="2.0" fill="#008080"/><circle cx="295.2" cy="325" r="2.0" fill="#b22222"/><circle cx="369.9" cy="422.5" r="2.0" fill="#4b0082"/><circle cx="385.4" cy="427.2" r="2.0" fill="#4b0082"/><circle cx="326.4" cy="395.3" r="2.0" fill="#ffd700"/><circle cx="322.4" cy="441.9" r="2.0" fill="#ffd700"/><circle cx="343.4" cy="404" r="2.0" fill="#ffd700"/><circle cx="368.6" cy="399.2" r="2.0" fill="#4b0082"/><circle cx="323.8" cy="400.9" r="2.0" fill="#ffd700"/><circle cx="345.8" cy="435.1" r="2.0" fill="#b22222"/><circle cx="306.9" cy="412.4" r="2.0" fill="#ffd700"/><circle cx="327.7" cy="384.8" r="2.0" fill="#9acd32"/><circle cx="340.2" cy="381.2" r="2.0" fill="#ffd700"/><circle cx="299.8" cy="424.8" r="2.0" fill="#4b0082"/><circle cx="364.7" cy="395.8" r="2.0" fill="#008080"/><circle cx="362.4" cy="412" r="2.0" fill="#9acd32"/><circle cx="362.1" cy="433" r="2.0" fill="#9acd32"/><circle cx="343.3" cy="401.8" r="2.0" fill="#ffd700"/><circle cx="381.3" cy="326.4" r="2.0" fill="#9acd32"/><circle cx="380.2" cy="425.7" r="2.0" fill="#008080"/><circle cx="359.8" cy="434" r="2.0" fill="#4b0082"/><circle cx="290.6" cy="389.5" r="2.0" fill="#008080"/><circle cx="366.9" cy="424.9" r="2.0" fill="#008080"/><circle cx="343.1" cy="405" r="2.0" fill="#b22222"/><circle cx="302.6" cy="398.1" r="2.0" fill="#b22222"/><circle cx="297.6" cy="377.9" r="2.0" fill="#b22222"/><circle cx="382.2" cy="432.2" r="2.0" fill="#008080"/><circle cx="324.3" cy="451.8" r="2.0" fill="#b22222"/><circle cx="308.1" cy="413.2" r="2.0" fill="#ffd700"/><circle cx="348.5" cy="412.1" r="2.0" fill="#b22222"/><circle cx="292.9" cy="390.4" r="2.0" fill="#b22222"/><circle cx="293.2" cy="330.3" r="2.0" fill="#ffd700"/><circle cx="340.3" cy="419.2" r="2.0" fill="#4b0082"/><circle cx="315.6" cy="445.1" r="2.0" fill="#b22222"/><circle cx="296.7" cy="426.3" r="2.0" fill="#b22222"/><circle cx="301.3" cy="412.2" r="2.0" fill="#b22222"/><circle cx="363.4" cy="397.5" r="2.0" fill="#b22222"/><circle cx="376.7" cy="369.7" r="2.0" fill="#b22222"/><circle cx="327.1" cy="383.1" r="2.0" fill="#ffd700"/><circle cx="326.5" cy="459.8" r="2.0" fill="#b22222"/><circle cx="299.7" cy="347.4" r="2.0" fill="#4b0082"/><circle cx="342.6" cy="413.7" r="2.0" fill="#ffd700"/><circle cx="340.7" cy="397.1" r="2.0" fill="#ffd700"/><circle cx="323.4" cy="435" r="2.0" fill="#b22222"/><circle cx="383.9" cy="392.7" r="2.0" fill="#9acd32"/><circle cx="290" cy="373.7" r="2.0" fill="#b22222"/><circle cx="296" cy="329.1" r="2.0" fill="#ffd700"/><circle cx="371.3" cy="407.6" r="2.0" fill="#9acd32"/><circle cx="298.9" cy="318.5" r="2.0" fill="#9acd32"/><circle cx="342.9" cy="405.7" r="2.0" fill="#ffd700"/><circle cx="361.5" cy="384.2" r="2.0" fill="#ffd700"/><circle cx="366.7" cy="377.1" r="2.0" fill="#ffd700"/><circle cx="333.3" cy="426.9" r="2.0" fill="#b22222"/><circle cx="404.4" cy="354.7" r="2.0" fill="#9acd32"/><circle cx="333.8" cy="372.1" r="2.0" fill="#ffd700"/><circle cx="321.9" cy="429.8" r="2.0" fill="#b22222"/><circle cx="382" cy="351.4" r="2.0" fill="#9acd32"/><circle cx="334" cy="428.3" r="2.0" fill="#b22222"/><circle cx="307.2" cy="440.9" r="2.0" fill="#b22222"/><circle cx="300.2" cy="318.7" r="2.0" fill="#b22222"/><circle cx="379.2" cy="402.1" r="2.0" fill="#9acd32"/><circle cx="386.7" cy="427.6" r="2.0" fill="#4b0082"/><circle cx="342" cy="359.6" r="2.0" fill="#ffd700"/><circle cx="379.9" cy="409.2" r="2.0" fill="#ffd700"/><circle cx="318.6" cy="446.6" r="2.0" fill="#b22222"/><circle cx="313.9" cy="385" r="2.0" fill="#ffd700"/><circle cx="342.6" cy="391.9" r="2.0" fill="#b22222"/><circle cx="309.7" cy="452" r="2.0" fill="#b22222"/><circle cx="359.3" cy="397.8" r="2.0" fill="#008080"/><circle cx="306.9" cy="244.9" r="2.0" fill="#ffd700"/><circle cx="294.3" cy="324.9" r="2.0" fill="#4b0082"/><circle cx="285.9" cy="392.8" r="2.0" fill="#b22222"/><circle cx="357.7" cy="430.1" r="2.0" fill="#008080"/><circle cx="294.3" cy="422.6" r="2.0" fill="#b22222"/><circle cx="339.2" cy="417.4" r="2.0" fill="#b22222"/><circle cx="387.5" cy="395.9" r="2.0" fill="#9acd32"/><circle cx="320.7" cy="397.1" r="2.0" fill="#ffd700"/><circle cx="326.4" cy="430" r="2.0" fill="#b22222"/><circle cx="283" cy="439.5" r="2.0" fill="#4b0082"/><circle cx="338.3" cy="413.5" r="2.0" fill="#b22222"/><circle cx="401.1" cy="311.6" r="2.0" fill="#9acd32"/><circle cx="358.5" cy="409.1" r="2.0" fill="#008080"/><circle cx="312.7" cy="428" r="2.0" fill="#ffd700"/><circle cx="337.6" cy="410" r="2.0" fill="#b22222"/><circle cx="330.7" cy="390.6" r="2.0" fill="#ffd700"/><circle cx="321" cy="432.4" r="2.0" fill="#4b0082"/><circle cx="311.1" cy="313" r="2.0" fill="#ffd700"/><circle cx="373.5" cy="397.9" r="2.0" fill="#9acd32"/><circle cx="354.5" cy="400.4" r="2.0" fill="#ffd700"/><circle cx="361.1" cy="424.1" r="2.0" fill="#b22222"/><circle cx="325.4" cy="442.7" r="2.0" fill="#ffd700"/><circle cx="376.2" cy="379.9" r="2.0" fill="#9acd32"/><circle cx="292.2" cy="384.3" r="2.0" fill="#9acd32"/><circle cx="290.1" cy="403.8" r="2.0" fill="#b22222"/><circle cx="309.5" cy="429.9" r="2.0" fill="#b22222"/><circle cx="363.6" cy="401.1" r="2.0" fill="#9acd32"/><circle cx="342.4" cy="402.8" r="2.0" fill="#b22222"/><circle cx="335.4" cy="444.4" r="2.0" fill="#b22222"/><circle cx="299.2" cy="402.7" r="2.0" fill="#4b0082"/><circle cx="377.3" cy="451.1" r="2.0" fill="#4b0082"/><circle cx="304.2" cy="348.3" r="2.0" fill="#b22222"/><circle cx="337.6" cy="443.3" r="2.0" fill="#b22222"/><circle cx="291" cy="413.5" r="2.0" fill="#ffd700"/><circle cx="315.4" cy="382.9" r="2.0" fill="#9acd32"/><circle cx="364.5" cy="420.6" r="2.0" fill="#b22222"/><circle cx="386.2" cy="425" r="2.0" fill="#b22222"/><circle cx="402.9" cy="365" r="2.0" fill="#9acd32"/><circle cx="321.7" cy="419.7" r="2.0" fill="#b22222"/><circle cx="371.2" cy="401" r="2.0" fill="#4b0082"/><circle cx="302.3" cy="407.2" r="2.0" fill="#b22222"/><circle cx="320.4" cy="432.7" r="2.0" fill="#ffd700"/><circle cx="298.9" cy="269.4" r="2.0" fill="#ffd700"/><circle cx="341.4" cy="378.4" r="2.0" fill="#9acd32"/><circle cx="296" cy="284.2" r="2.0" fill="#b22222"/><circle cx="337.6" cy="389.2" r="2.0" fill="#ffd700"/><circle cx="330.9" cy="341.4" r="2.0" fill="#9acd32"/><circle cx="296.5" cy="411.4" r="2.0" fill="#b22222"/><circle cx="321.4" cy="431.1" r="2.0" fill="#4b0082"/><circle cx="341.1" cy="443.7" r="2.0" fill="#b22222"/><circle cx="293.8" cy="335.2" r="2.0" fill="#b22222"/><circle cx="348.3" cy="392.4" r="2.0" fill="#ffd700"/><circle cx="354.5" cy="405.6" r="2.0" fill="#ffd700"/><circle cx="365.2" cy="406.5" r="2.0" fill="#008080"/><circle cx="366.2" cy="415" r="2.0" fill="#4b0082"/><circle cx="349.5" cy="424.9" r="2.0" fill="#4b0082"/><circle cx="304.9" cy="407.8" r="2.0" fill="#b22222"/><circle cx="341.5" cy="399.6" r="2.0" fill="#ffd700"/><circle cx="287.3" cy="405.5" r="2.0" fill="#008080"/><circle cx="283.4" cy="403.9" r="2.0" fill="#b22222"/><circle cx="358.4" cy="424.5" r="2.0" fill="#9acd32"/><circle cx="344.7" cy="413.9" r="2.0" fill="#4b0082"/><circle cx="281.4" cy="407.4" r="2.0" fill="#4b0082"/><circle cx="290.6" cy="428" r="2.0" fill="#ffd700"/><circle cx="339.7" cy="347.5" r="2.0" fill="#008080"/><circle cx="327.1" cy="435" r="2.0" fill="#ffd700"/><circle cx="321.3" cy="369.7" r="2.0" fill="#b22222"/><circle cx="371" cy="359.8" r="2.0" fill="#ffd700"/><circle cx="383.7" cy="436.5" r="2.0" fill="#4b0082"/><circle cx="330.9" cy="437.7" r="2.0" fill="#b22222"/><circle cx="339.9" cy="410.2" r="2.0" fill="#b22222"/><circle cx="341.7" cy="449" r="2.0" fill="#b22222"/><circle cx="353.5" cy="339.4" r="2.0" fill="#ffd700"/><circle cx="291.8" cy="422.9" r="2.0" fill="#4b0082"/><circle cx="276.8" cy="431.9" r="2.0" fill="#4b0082"/><circle cx="317.7" cy="430.6" r="2.0" fill="#b22222"/><circle cx="353.7" cy="410.5" r="2.0" fill="#4b0082"/><circle cx="344.1" cy="399.8" r="2.0" fill="#4b0082"/><circle cx="385.3" cy="396.7" r="2.0" fill="#008080"/><circle cx="327.4" cy="430.4" r="2.0" fill="#b22222"/><circle cx="393.2" cy="400" r="2.0" fill="#9acd32"/><circle cx="346.2" cy="340" r="2.0" fill="#ffd700"/><circle cx="298.1" cy="284.8" r="2.0" fill="#9acd32"/><circle cx="287.5" cy="360" r="2.0" fill="#b22222"/><circle cx="376.9" cy="417.2" r="2.0" fill="#9acd32"/><circle cx="300.1" cy="298.8" r="2.0" fill="#b22222"/><circle cx="345.4" cy="416.2" r="2.0" fill="#ffd700"/><circle cx="303.4" cy="340.2" r="2.0" fill="#ffd700"/><circle cx="356.7" cy="389.4" r="2.0" fill="#9acd32"/><circle cx="296.1" cy="421.4" r="2.0" fill="#4b0082"/><circle cx="358.7" cy="442.6" r="2.0" fill="#4b0082"/><circle cx="296" cy="405.5" r="2.0" fill="#4b0082"/><circle cx="329.8" cy="432.9" r="2.0" fill="#b22222"/><circle cx="347.5" cy="426.4" r="2.0" fill="#4b0082"/><circle cx="388.9" cy="386.3" r="2.0" fill="#9acd32"/><circle cx="292.4" cy="289.6" r="2.0" fill="#b22222"/><circle cx="325.2" cy="436.1" r="2.0" fill="#4b0082"/><circle cx="368.8" cy="330.2" r="2.0" fill="#ffd700"/><circle cx="343.6" cy="352.4" r="2.0" fill="#ffd700"/><circle cx="294.4" cy="419.2" r="2.0" fill="#ffd700"/><circle cx="307.1" cy="286.7" r="2.0" fill="#4b0082"/><circle cx="361.2" cy="430.6" r="2.0" fill="#b22222"/><circle cx="314.2" cy="430.5" r="2.0" fill="#b22222"/><circle cx="322.9" cy="446.5" r="2.0" fill="#b22222"/><circle cx="297.6" cy="257.3" r="2.0" fill="#ffd700"/><circle cx="370.7" cy="392.4" r="2.0" fill="#008080"/><circle cx="288" cy="415.7" r="2.0" fill="#b22222"/><circle cx="332.6" cy="428.2" r="2.0" fill="#b22222"/><circle cx="372.9" cy="419.6" r="2.0" fill="#4b0082"/><circle cx="302.8" cy="434.1" r="2.0" fill="#b22222"/><circle cx="291.5" cy="363.9" r="2.0" fill="#b22222"/><circle cx="332.9" cy="405.3" r="2.0" fill="#ffd700"/><circle cx="367.4" cy="409.1" r="2.0" fill="#9acd32"/><circle cx="361.6" cy="438.6" r="2.0" fill="#4b0082"/><circle cx="296.2" cy="365.1" r="2.0" fill="#b22222"/><circle cx="367" cy="391.9" r="2.0" fill="#008080"/><circle cx="295" cy="308.1" r="2.0" fill="#b22222"/><circle cx="291.3" cy="372.1" r="2.0" fill="#b22222"/><circle cx="359.7" cy="403.9" r="2.0" fill="#9acd32"/><circle cx="383.3" cy="350.4" r="2.0" fill="#008080"/><circle cx="379.4" cy="424.2" r="2.0" fill="#4b0082"/><circle cx="290.5" cy="333.9" r="2.0" fill="#4b0082"/><circle cx="367.4" cy="320.7" r="2.0" fill="#ffd700"/><circle cx="335.3" cy="425.9" r="2.0" fill="#b22222"/><circle cx="280.2" cy="422.6" r="2.0" fill="#b22222"/><circle cx="290" cy="349.4" r="2.0" fill="#4b0082"/><circle cx="384.6" cy="331.2" r="2.0" fill="#9acd32"/><circle cx="314.4" cy="431.1" r="2.0" fill="#b22222"/><circle cx="292.1" cy="416.1" r="2.0" fill="#b22222"/><circle cx="290.1" cy="414.1" r="2.0" fill="#b22222"/><circle cx="303.4" cy="416.4" r="2.0" fill="#b22222"/><circle cx="358.2" cy="291.9" r="2.0" fill="#ffd700"/><circle cx="363.4" cy="295.4" r="2.0" fill="#ffd700"/><circle cx="291.2" cy="343.5" r="2.0" fill="#ffd700"/><circle cx="373.7" cy="405.5" r="2.0" fill="#008080"/><circle cx="323.6" cy="444.5" r="2.0" fill="#b22222"/><circle cx="388.8" cy="367.8" r="2.0" fill="#008080"/><circle cx="367" cy="400.1" r="2.0" fill="#9acd32"/><circle cx="312.3" cy="292.8" r="2.0" fill="#9acd32"/><circle cx="310" cy="407.1" r="2.0" fill="#b22222"/><circle cx="297.2" cy="305.5" r="2.0" fill="#b22222"/><circle cx="373.1" cy="347.6" r="2.0" fill="#ffd700"/><circle cx="359.5" cy="409.4" r="2.0" fill="#ffd700"/><circle cx="340" cy="384.7" r="2.0" fill="#9acd32"/><circle cx="319.3" cy="362.5" r="2.0" fill="#008080"/><circle cx="337.7" cy="340.6" r="2.0" fill="#ffd700"/><circle cx="379.1" cy="385.8" r="2.0" fill="#9acd32"/><circle cx="359" cy="405.9" r="2.0" fill="#9acd32"/><circle cx="289.4" cy="337.4" r="2.0" fill="#9acd32"/><circle cx="303.3" cy="430" r="2.0" fill="#b22222"/><circle cx="334.1" cy="469.3" r="2.0" fill="#b22222"/><circle cx="322.7" cy="340.4" r="2.0" fill="#9acd32"/><circle cx="330" cy="422.3" r="2.0" fill="#ffd700"/><circle cx="327.5" cy="413.8" r="2.0" fill="#b22222"/><circle cx="303.9" cy="325.2" r="2.0" fill="#ffd700"/><circle cx="297.4" cy="374.2" r="2.0" fill="#b22222"/><circle cx="292.7" cy="372.1" r="2.0" fill="#ffd700"/><circle cx="332.1" cy="406.4" r="2.0" fill="#9acd32"/><circle cx="356.4" cy="416.4" r="2.0" fill="#ffd700"/><circle cx="331.7" cy="436.9" r="2.0" fill="#b22222"/><circle cx="376.3" cy="428.2" r="2.0" fill="#4b0082"/><circle cx="325.6" cy="406.4" r="2.0" fill="#4b0082"/><circle cx="289.9" cy="417.1" r="2.0" fill="#ffd700"/><circle cx="300.3" cy="355.8" r="2.0" fill="#4b0082"/><circle cx="334.3" cy="400.3" r="2.0" fill="#ffd700"/><circle cx="284.9" cy="283.2" r="2.0" fill="#b22222"/><circle cx="339.9" cy="425.1" r="2.0" fill="#b22222"/><circle cx="290.3" cy="388.9" r="2.0" fill="#ffd700"/><circle cx="300.9" cy="344.7" r="2.0" fill="#4b0082"/><circle cx="294.6" cy="351.3" r="2.0" fill="#ffd700"/><circle cx="361.1" cy="410.7" r="2.0" fill="#4b0082"/><circle cx="315.1" cy="394.4" r="2.0" fill="#ffd700"/><circle cx="370.8" cy="379.3" r="2.0" fill="#ffd700"/><circle cx="371" cy="340" r="2.0" fill="#9acd32"/><circle cx="301.8" cy="338.6" r="2.0" fill="#b22222"/><circle cx="328.6" cy="425.4" r="2.0" fill="#b22222"/><circle cx="392.5" cy="403" r="2.0" fill="#008080"/><circle cx="331.7" cy="365.2" r="2.0" fill="#ffd700"/><circle cx="363.8" cy="385" r="2.0" fill="#9acd32"/><circle cx="381.9" cy="392.3" r="2.0" fill="#9acd32"/><circle cx="302" cy="380.6" r="2.0" fill="#b22222"/><circle cx="378.3" cy="345.7" r="2.0" fill="#ffd700"/><circle cx="289.3" cy="359.5" r="2.0" fill="#ffd700"/><circle cx="382" cy="356.1" r="2.0" fill="#9acd32"/><circle cx="373.1" cy="422.8" r="2.0" fill="#b22222"/><circle cx="344.1" cy="423.8" r="2.0" fill="#b22222"/><circle cx="352.6" cy="410.5" r="2.0" fill="#ffd700"/><circle cx="374.1" cy="326.6" r="2.0" fill="#b22222"/><circle cx="294.8" cy="327.3" r="2.0" fill="#008080"/><circle cx="338.9" cy="418.3" r="2.0" fill="#4b0082"/><circle cx="294.7" cy="332.7" r="2.0" fill="#4b0082"/><circle cx="298.1" cy="371.2" r="2.0" fill="#b22222"/><circle cx="383.3" cy="429.8" r="2.0" fill="#4b0082"/><circle cx="352.9" cy="389.2" r="2.0" fill="#4b0082"/><circle cx="311.3" cy="344.9" r="2.0" fill="#b22222"/><circle cx="330.9" cy="406.8" r="2.0" fill="#b22222"/><circle cx="389" cy="436.9" r="2.0" fill="#b22222"/><circle cx="326.3" cy="434" r="2.0" fill="#4b0082"/><circle cx="287.8" cy="338.2" r="2.0" fill="#b22222"/><circle cx="376.7" cy="307.4" r="2.0" fill="#b22222"/><circle cx="322.5" cy="420.4" r="2.0" fill="#b22222"/><circle cx="297.4" cy="437.5" r="2.0" fill="#b22222"/><circle cx="337.2" cy="312" r="2.0" fill="#ffd700"/><circle cx="343.1" cy="425.8" r="2.0" fill="#b22222"/><circle cx="286.4" cy="307.7" r="2.0" fill="#b22222"/><circle cx="315.7" cy="248.2" r="2.0" fill="#4b0082"/><circle cx="294.5" cy="386.7" r="2.0" fill="#4b0082"/><circle cx="377.8" cy="414.1" r="2.0" fill="#008080"/><circle cx="387" cy="443.4" r="2.0" fill="#4b0082"/><circle cx="283.8" cy="354.1" r="2.0" fill="#4b0082"/><circle cx="319.1" cy="347.7" r="2.0" fill="#9acd32"/><circle cx="316.4" cy="343.6" r="2.0" fill="#9acd32"/><circle cx="301" cy="346.3" r="2.0" fill="#b22222"/><circle cx="300.8" cy="377.9" r="2.0" fill="#4b0082"/><circle cx="364.4" cy="397.3" r="2.0" fill="#9acd32"/><circle cx="279.1" cy="402.9" r="2.0" fill="#b22222"/><circle cx="356.2" cy="432.1" r="2.0" fill="#008080"/><circle cx="352.7" cy="437.8" r="2.0" fill="#4b0082"/><circle cx="372.6" cy="411.4" r="2.0" fill="#4b0082"/><circle cx="321.3" cy="404.4" r="2.0" fill="#ffd700"/><circle cx="369.5" cy="417.6" r="2.0" fill="#9acd32"/><circle cx="343.5" cy="436" r="2.0" fill="#b22222"/><circle cx="297.9" cy="419.7" r="2.0" fill="#ffd700"/><circle cx="299.3" cy="415.1" r="2.0" fill="#4b0082"/><circle cx="301.3" cy="422.8" r="2.0" fill="#b22222"/><circle cx="312.6" cy="446.1" r="2.0" fill="#4b0082"/><circle cx="340.2" cy="333.6" r="2.0" fill="#b22222"/><circle cx="343" cy="443" r="2.0" fill="#008080"/><circle cx="370.3" cy="429.5" r="2.0" fill="#4b0082"/><circle cx="312.1" cy="402.4" r="2.0" fill="#b22222"/><circle cx="329.2" cy="392.1" r="2.0" fill="#b22222"/><circle cx="362.5" cy="382" r="2.0" fill="#ffd700"/><circle cx="370.7" cy="376" r="2.0" fill="#4b0082"/><circle cx="295.1" cy="276" r="2.0" fill="#9acd32"/><circle cx="310.9" cy="307.2" r="2.0" fill="#9acd32"/><circle cx="340.6" cy="399.6" r="2.0" fill="#4b0082"/><circle cx="287.1" cy="383" r="2.0" fill="#4b0082"/><circle cx="352.8" cy="436.2" r="2.0" fill="#4b0082"/><circle cx="348.6" cy="413.3" r="2.0" fill="#ffd700"/><circle cx="293.2" cy="321.2" r="2.0" fill="#b22222"/><circle cx="296" cy="291.8" r="2.0" fill="#b22222"/><circle cx="325.4" cy="394.3" r="2.0" fill="#ffd700"/><circle cx="357" cy="405.6" r="2.0" fill="#008080"/><circle cx="300.3" cy="329.7" r="2.0" fill="#9acd32"/><circle cx="364.7" cy="431.1" r="2.0" fill="#9acd32"/><circle cx="352" cy="411.3" r="2.0" fill="#4b0082"/><circle cx="396.1" cy="382.1" r="2.0" fill="#008080"/><circle cx="345.8" cy="377.6" r="2.0" fill="#ffd700"/><circle cx="326.8" cy="423.2" r="2.0" fill="#4b0082"/><circle cx="353.4" cy="405.3" r="2.0" fill="#ffd700"/><circle cx="366.3" cy="425" r="2.0" fill="#b22222"/><circle cx="332.1" cy="441.2" r="2.0" fill="#b22222"/><circle cx="378.5" cy="406" r="2.0" fill="#ffd700"/><circle cx="298.9" cy="436.7" r="2.0" fill="#b22222"/><circle cx="307.2" cy="365.5" r="2.0" fill="#ffd700"/><circle cx="309.4" cy="317.7" r="2.0" fill="#ffd700"/><circle cx="390.5" cy="433.9" r="2.0" fill="#4b0082"/><circle cx="366.6" cy="359.6" r="2.0" fill="#ffd700"/><circle cx="348.6" cy="431.5" r="2.0" fill="#b22222"/><circle cx="393.5" cy="340.8" r="2.0" fill="#008080"/><circle cx="375.3" cy="405" r="2.0" fill="#008080"/><circle cx="282.2" cy="338.1" r="2.0" fill="#b22222"/><circle cx="361.6" cy="344" r="2.0" fill="#008080"/><circle cx="351.4" cy="311.2" r="2.0" fill="#b22222"/><circle cx="295.3" cy="270.2" r="2.0" fill="#ffd700"/><circle cx="340" cy="407.7" r="2.0" fill="#4b0082"/><circle cx="297.5" cy="253.5" r="2.0" fill="#ffd700"/><circle cx="361.2" cy="401.5" r="2.0" fill="#008080"/><circle cx="328.9" cy="388.9" r="2.0" fill="#ffd700"/><circle cx="323.8" cy="313.9" r="2.0" fill="#ffd700"/><circle cx="292" cy="404.4" r="2.0" fill="#b22222"/><circle cx="296.8" cy="263.2" r="2.0" fill="#ffd700"/><circle cx="338" cy="407.8" r="2.0" fill="#b22222"/><circle cx="371.1" cy="433.8" r="2.0" fill="#4b0082"/><circle cx="323" cy="435.2" r="2.0" fill="#b22222"/><circle cx="330.3" cy="433.8" r="2.0" fill="#ffd700"/><circle cx="332.1" cy="428.1" r="2.0" fill="#b22222"/><circle cx="293.8" cy="321.1" r="2.0" fill="#008080"/><circle cx="315.7" cy="407.9" r="2.0" fill="#b22222"/><circle cx="314.5" cy="432.4" r="2.0" fill="#b22222"/><circle cx="352" cy="386.6" r="2.0" fill="#008080"/><circle cx="326" cy="420.9" r="2.0" fill="#b22222"/><circle cx="354.3" cy="407.1" r="2.0" fill="#ffd700"/><circle cx="298.9" cy="316.7" r="2.0" fill="#9acd32"/><circle cx="295" cy="414.2" r="2.0" fill="#008080"/><circle cx="350.9" cy="390.7" r="2.0" fill="#4b0082"/><circle cx="357.2" cy="380.2" r="2.0" fill="#4b0082"/><circle cx="339.8" cy="313.1" r="2.0" fill="#ffd700"/><circle cx="360.6" cy="413.3" r="2.0" fill="#9acd32"/><circle cx="293.1" cy="294.7" r="2.0" fill="#9acd32"/><circle cx="301.7" cy="297.6" r="2.0" fill="#b22222"/><circle cx="273.4" cy="421.7" r="2.0" fill="#b22222"/><circle cx="328.6" cy="441.3" r="2.0" fill="#b22222"/><circle cx="300.7" cy="375.6" r="2.0" fill="#4b0082"/><circle cx="292.7" cy="412.9" r="2.0" fill="#9acd32"/><circle cx="375" cy="423.5" r="2.0" fill="#008080"/><circle cx="329.6" cy="345.6" r="2.0" fill="#b22222"/><circle cx="336.4" cy="397.1" r="2.0" fill="#ffd700"/><circle cx="365.1" cy="424.7" r="2.0" fill="#4b0082"/><circle cx="289.5" cy="319.1" r="2.0" fill="#008080"/><circle cx="378.2" cy="398.4" r="2.0" fill="#9acd32"/><circle cx="376.6" cy="430.3" r="2.0" fill="#4b0082"/><circle cx="338.3" cy="389.5" r="2.0" fill="#ffd700"/><circle cx="356.9" cy="387.3" r="2.0" fill="#b22222"/><circle cx="297.6" cy="368.5" r="2.0" fill="#4b0082"/><circle cx="312.8" cy="413.5" r="2.0" fill="#b22222"/><circle cx="349" cy="428.9" r="2.0" fill="#ffd700"/><circle cx="331.7" cy="438.3" r="2.0" fill="#b22222"/><circle cx="375.5" cy="402.9" r="2.0" fill="#008080"/><circle cx="302.1" cy="421.6" r="2.0" fill="#b22222"/><circle cx="294.1" cy="304.3" r="2.0" fill="#ffd700"/><circle cx="279.4" cy="340.4" r="2.0" fill="#b22222"/><circle cx="377.7" cy="431" r="2.0" fill="#b22222"/><circle cx="333.2" cy="420.1" r="2.0" fill="#b22222"/><circle cx="293.5" cy="349.1" r="2.0" fill="#b22222"/><circle cx="314.4" cy="332.1" r="2.0" fill="#9acd32"/><circle cx="288.3" cy="353.8" r="2.0" fill="#b22222"/><circle cx="295.9" cy="449.8" r="2.0" fill="#b22222"/><circle cx="378.7" cy="429.1" r="2.0" fill="#4b0082"/><circle cx="344.8" cy="397.4" r="2.0" fill="#ffd700"/><circle cx="370.4" cy="435.6" r="2.0" fill="#9acd32"/><circle cx="392.2" cy="423.1" r="2.0" fill="#4b0082"/><circle cx="296" cy="319.4" r="2.0" fill="#ffd700"/><circle cx="306.3" cy="346.2" r="2.0" fill="#ffd700"/><circle cx="369.5" cy="318.7" r="2.0" fill="#9acd32"/><circle cx="379.1" cy="420.7" r="2.0" fill="#008080"/><circle cx="310.7" cy="436.7" r="2.0" fill="#b22222"/><circle cx="383.8" cy="408.9" r="2.0" fill="#4b0082"/></g><g fill-opacity="0.72"><circle cx="513.3" cy="279.7" r="2.0" fill="#008080"/><circle cx="519.4" cy="406.2" r="2.0" fill="#4b0082"/><circle cx="502.7" cy="261.4" r="2.0" fill="#008080"/><circle cx="533.1" cy="398.3" r="2.0" fill="#ffd700"/><circle cx="577.3" cy="404" r="2.0" fill="#b22222"/><circle cx="507.5" cy="363.6" r="2.0" fill="#b22222"/><circle cx="575.6" cy="395.1" r="2.0" fill="#ffd700"/><circle cx="567.6" cy="391.1" r="2.0" fill="#b22222"/><circle cx="632" cy="308" r="2.0" fill="#008080"/><circle cx="521.2" cy="246.8" r="2.0" fill="#b22222"/><circle cx="617.3" cy="425.7" r="2.0" fill="#9acd32"/><circle cx="513.4" cy="368.7" r="2.0" fill="#4b0082"/><circle cx="565.9" cy="408.5" r="2.0" fill="#ffd700"/><circle cx="603.7" cy="426.2" r="2.0" fill="#4b0082"/><circle cx="558.4" cy="410.3" r="2.0" fill="#ffd700"/><circle cx="606.5" cy="403" r="2.0" fill="#9acd32"/><circle cx="510.9" cy="378.2" r="2.0" fill="#4b0082"/><circle cx="564.4" cy="385.2" r="2.0" fill="#b22222"/><circle cx="520.6" cy="292.5" r="2.0" fill="#ffd700"/><circle cx="583.9" cy="407" r="2.0" fill="#ffd700"/><circle cx="622.8" cy="435.3" r="2.0" fill="#4b0082"/><circle cx="501.1" cy="300" r="2.0" fill="#b22222"/><circle cx="508.3" cy="402.5" r="2.0" fill="#4b0082"/><circle cx="579.9" cy="332.4" r="2.0" fill="#ffd700"/><circle cx="592.3" cy="401.7" r="2.0" fill="#ffd700"/><circle cx="601.6" cy="409.9" r="2.0" fill="#9acd32"/><circle cx="529.7" cy="412.4" r="2.0" fill="#4b0082"/><circle cx="534.6" cy="430.1" r="2.0" fill="#4b0082"/><circle cx="555.5" cy="382.6" r="2.0" fill="#4b0082"/><circle cx="548.2" cy="404.4" r="2.0" fill="#4b0082"/><circle cx="506.3" cy="373.1" r="2.0" fill="#b22222"/><circle cx="496.6" cy="411.2" r="2.0" fill="#ffd700"/><circle cx="591.3" cy="392.7" r="2.0" fill="#ffd700"/><circle cx="623.4" cy="405.9" r="2.0" fill="#9acd32"/><circle cx="507.4" cy="409.2" r="2.0" fill="#4b0082"/><circle cx="504.6" cy="392.6" r="2.0" fill="#9acd32"/><circle cx="592.5" cy="259.6" r="2.0" fill="#b22222"/><circle cx="512.7" cy="377.9" r="2.0" fill="#b22222"/><circle cx="535.9" cy="434.7" r="2.0" fill="#ffd700"/><circle cx="546" cy="420.5" r="2.0" fill="#b22222"/><circle cx="513.6" cy="313.8" r="2.0" fill="#b22222"/><circle cx="508.8" cy="233.7" r="2.0" fill="#b22222"/><circle cx="607.3" cy="400.5" r="2.0" fill="#9acd32"/><circle cx="511.4" cy="298.2" r="2.0" fill="#ffd700"/><circle cx="544.4" cy="455.6" r="2.0" fill="#b22222"/><circle cx="605" cy="391.8" r="2.0" fill="#9acd32"/><circle cx="510.3" cy="276.2" r="2.0" fill="#9acd32"/><circle cx="505" cy="403.1" r="2.0" fill="#b22222"/><circle cx="553" cy="426.3" r="2.0" fill="#4b0082"/><circle cx="608.1" cy="418" r="2.0" fill="#9acd32"/><circle cx="513.4" cy="399.8" r="2.0" fill="#4b0082"/><circle cx="504.6" cy="424.9" r="2.0" fill="#4b0082"/><circle cx="533" cy="428.5" r="2.0" fill="#4b0082"/><circle cx="505.2" cy="414.2" r="2.0" fill="#b22222"/><circle cx="548.7" cy="406.9" r="2.0" fill="#b22222"/><circle cx="576.4" cy="441.1" r="2.0" fill="#4b0082"/><circle cx="604.8" cy="448.9" r="2.0" fill="#008080"/><circle cx="508.5" cy="424.7" r="2.0" fill="#b22222"/><circle cx="635.1" cy="283.5" r="2.0" fill="#ffd700"/><circle cx="533.9" cy="417" r="2.0" fill="#b22222"/><circle cx="519.1" cy="286.7" r="2.0" fill="#b22222"/><circle cx="534.9" cy="406.6" r="2.0" fill="#b22222"/><circle cx="560.3" cy="435.4" r="2.0" fill="#4b0082"/><circle cx="602.2" cy="404.1" r="2.0" fill="#008080"/><circle cx="511.1" cy="431.9" r="2.0" fill="#4b0082"/><circle cx="529.3" cy="413.7" r="2.0" fill="#b22222"/><circle cx="515.2" cy="258.7" r="2.0" fill="#4b0082"/><circle cx="561.3" cy="398.3" r="2.0" fill="#ffd700"/><circle cx="553.4" cy="301.9" r="2.0" fill="#b22222"/><circle cx="610" cy="399.5" r="2.0" fill="#9acd32"/><circle cx="587.3" cy="395.8" r="2.0" fill="#b22222"/><circle cx="507.1" cy="376.7" r="2.0" fill="#4b0082"/><circle cx="505.3" cy="424.4" r="2.0" fill="#ffd700"/><circle cx="591.1" cy="381.9" r="2.0" fill="#008080"/><circle cx="531.7" cy="397.9" r="2.0" fill="#b22222"/><circle cx="584.4" cy="432.7" r="2.0" fill="#4b0082"/><circle cx="515.9" cy="423.4" r="2.0" fill="#4b0082"/><circle cx="519.8" cy="363.9" r="2.0" fill="#ffd700"/><circle cx="610.4" cy="390.9" r="2.0" fill="#008080"/><circle cx="611.8" cy="411.2" r="2.0" fill="#008080"/><circle cx="568.7" cy="425.2" r="2.0" fill="#b22222"/><circle cx="540.3" cy="322.9" r="2.0" fill="#4b0082"/><circle cx="508.8" cy="383.9" r="2.0" fill="#4b0082"/><circle cx="510.9" cy="330.5" r="2.0" fill="#4b0082"/><circle cx="568.1" cy="447.7" r="2.0" fill="#b22222"/><circle cx="607.4" cy="413.3" r="2.0" fill="#008080"/><circle cx="553.1" cy="431.4" r="2.0" fill="#b22222"/><circle cx="587.8" cy="398.9" r="2.0" fill="#4b0082"/><circle cx="620.5" cy="405.5" r="2.0" fill="#9acd32"/><circle cx="533" cy="325.3" r="2.0" fill="#ffd700"/><circle cx="675.3" cy="345" r="2.0" fill="#9acd32"/><circle cx="607.4" cy="400.4" r="2.0" fill="#9acd32"/><circle cx="598.9" cy="408.7" r="2.0" fill="#9acd32"/><circle cx="508.4" cy="405.5" r="2.0" fill="#4b0082"/><circle cx="568.4" cy="408.6" r="2.0" fill="#ffd700"/><circle cx="562.7" cy="406.9" r="2.0" fill="#4b0082"/><circle cx="561.6" cy="411.6" r="2.0" fill="#ffd700"/><circle cx="515.9" cy="245.9" r="2.0" fill="#4b0082"/><circle cx="578.6" cy="409.9" r="2.0" fill="#9acd32"/><circle cx="504.8" cy="403.8" r="2.0" fill="#b22222"/><circle cx="498.7" cy="394.5" r="2.0" fill="#ffd700"/><circle cx="557" cy="438" r="2.0" fill="#b22222"/><circle cx="513.2" cy="375" r="2.0" fill="#b22222"/><circle cx="544.8" cy="270.7" r="2.0" fill="#b22222"/><circle cx="570.8" cy="382.7" r="2.0" fill="#ffd700"/><circle cx="504.1" cy="410.8" r="2.0" fill="#b22222"/><circle cx="516.1" cy="408" r="2.0" fill="#ffd700"/><circle cx="520.8" cy="409.8" r="2.0" fill="#b22222"/><circle cx="580.1" cy="396.8" r="2.0" fill="#4b0082"/><circle cx="517" cy="372.1" r="2.0" fill="#4b0082"/><circle cx="632.7" cy="285.5" r="2.0" fill="#b22222"/><circle cx="594.7" cy="410.9" r="2.0" fill="#008080"/><circle cx="588.9" cy="429.1" r="2.0" fill="#4b0082"/><circle cx="511.2" cy="404.9" r="2.0" fill="#ffd700"/><circle cx="502.8" cy="313.6" r="2.0" fill="#4b0082"/><circle cx="514.8" cy="396" r="2.0" fill="#b22222"/><circle cx="530" cy="417.1" r="2.0" fill="#b22222"/><circle cx="572.8" cy="419.4" r="2.0" fill="#ffd700"/><circle cx="613.7" cy="388.8" r="2.0" fill="#008080"/><circle cx="514" cy="397.6" r="2.0" fill="#b22222"/><circle cx="572.2" cy="370.6" r="2.0" fill="#b22222"/><circle cx="517.1" cy="376.5" r="2.0" fill="#4b0082"/><circle cx="612.4" cy="305.1" r="2.0" fill="#ffd700"/><circle cx="543.4" cy="405.3" r="2.0" fill="#b22222"/><circle cx="599" cy="395.5" r="2.0" fill="#4b0082"/><circle cx="501" cy="288.8" r="2.0" fill="#4b0082"/><circle cx="528.7" cy="451.6" r="2.0" fill="#b22222"/><circle cx="596.2" cy="438.2" r="2.0" fill="#b22222"/><circle cx="600.4" cy="404.8" r="2.0" fill="#9acd32"/><circle cx="568" cy="395.3" r="2.0" fill="#ffd700"/><circle cx="612.9" cy="379.2" r="2.0" fill="#008080"/><circle cx="568.3" cy="435.1" r="2.0" fill="#b22222"/><circle cx="564" cy="410" r="2.0" fill="#ffd700"/><circle cx="605.7" cy="422.8" r="2.0" fill="#9acd32"/><circle cx="587.6" cy="408.6" r="2.0" fill="#008080"/><circle cx="512" cy="237.7" r="2.0" fill="#ffd700"/><circle cx="567.2" cy="398.4" r="2.0" fill="#ffd700"/><circle cx="577.6" cy="274.3" r="2.0" fill="#b22222"/><circle cx="553.1" cy="338.4" r="2.0" fill="#4b0082"/><circle cx="535.1" cy="330.8" r="2.0" fill="#b22222"/><circle cx="545.6" cy="439" r="2.0" fill="#9acd32"/><circle cx="544.2" cy="303.8" r="2.0" fill="#9acd32"/><circle cx="553.6" cy="384.9" r="2.0" fill="#ffd700"/><circle cx="507.9" cy="367.6" r="2.0" fill="#9acd32"/><circle cx="551" cy="408.7" r="2.0" fill="#4b0082"/><circle cx="505.9" cy="264.8" r="2.0" fill="#ffd700"/><circle cx="509.4" cy="324.1" r="2.0" fill="#008080"/><circle cx="545.3" cy="385.8" r="2.0" fill="#b22222"/><circle cx="515.2" cy="268.3" r="2.0" fill="#ffd700"/><circle cx="612" cy="395" r="2.0" fill="#4b0082"/><circle cx="679.1" cy="269.2" r="2.0" fill="#b22222"/><circle cx="584.1" cy="393" r="2.0" fill="#ffd700"/><circle cx="558" cy="422.6" r="2.0" fill="#4b0082"/><circle cx="602.6" cy="418.1" r="2.0" fill="#9acd32"/><circle cx="574.7" cy="428.7" r="2.0" fill="#4b0082"/><circle cx="544.1" cy="431" r="2.0" fill="#4b0082"/><circle cx="592.6" cy="428.3" r="2.0" fill="#008080"/><circle cx="582.2" cy="262.1" r="2.0" fill="#ffd700"/><circle cx="621.4" cy="400.4" r="2.0" fill="#008080"/><circle cx="612.6" cy="401.7" r="2.0" fill="#4b0082"/><circle cx="602.3" cy="404.5" r="2.0" fill="#008080"/><circle cx="568.8" cy="426.4" r="2.0" fill="#4b0082"/><circle cx="510.2" cy="289.6" r="2.0" fill="#b22222"/><circle cx="497.9" cy="328.2" r="2.0" fill="#ffd700"/><circle cx="513.2" cy="294.1" r="2.0" fill="#4b0082"/><circle cx="506.8" cy="426.5" r="2.0" fill="#b22222"/><circle cx="578.5" cy="430" r="2.0" fill="#008080"/><circle cx="610.7" cy="418.4" r="2.0" fill="#4b0082"/><circle cx="558.1" cy="404.6" r="2.0" fill="#b22222"/><circle cx="503.6" cy="245.2" r="2.0" fill="#b22222"/><circle cx="522" cy="389.5" r="2.0" fill="#ffd700"/><circle cx="591.3" cy="445.8" r="2.0" fill="#008080"/><circle cx="579.2" cy="440.5" r="2.0" fill="#9acd32"/><circle cx="506.1" cy="385.4" r="2.0" fill="#008080"/><circle cx="512.6" cy="317.3" r="2.0" fill="#b22222"/><circle cx="507" cy="408.9" r="2.0" fill="#4b0082"/><circle cx="533.8" cy="426.8" r="2.0" fill="#b22222"/><circle cx="596.5" cy="407.7" r="2.0" fill="#008080"/><circle cx="618.1" cy="383.7" r="2.0" fill="#008080"/><circle cx="629.2" cy="408.2" r="2.0" fill="#ffd700"/><circle cx="586.3" cy="414.5" r="2.0" fill="#9acd32"/><circle cx="543.4" cy="425" r="2.0" fill="#ffd700"/><circle cx="514.7" cy="264.8" r="2.0" fill="#ffd700"/><circle cx="545.8" cy="422.5" r="2.0" fill="#b22222"/><circle cx="525.3" cy="420.2" r="2.0" fill="#4b0082"/><circle cx="569" cy="413.9" r="2.0" fill="#ffd700"/><circle cx="499.7" cy="412.8" r="2.0" fill="#b22222"/><circle cx="569.6" cy="401.7" r="2.0" fill="#ffd700"/><circle cx="583.5" cy="402.4" r="2.0" fill="#ffd700"/><circle cx="515.3" cy="383.5" r="2.0" fill="#4b0082"/><circle cx="574.7" cy="446.6" r="2.0" fill="#4b0082"/><circle cx="526" cy="323.9" r="2.0" fill="#b22222"/><circle cx="572.4" cy="398" r="2.0" fill="#b22222"/><circle cx="560.7" cy="428.8" r="2.0" fill="#4b0082"/><circle cx="552.7" cy="415.2" r="2.0" fill="#ffd700"/><circle cx="503.3" cy="374.7" r="2.0" fill="#b22222"/><circle cx="513.8" cy="252.2" r="2.0" fill="#4b0082"/><circle cx="582.6" cy="399.2" r="2.0" fill="#9acd32"/><circle cx="512" cy="425.8" r="2.0" fill="#4b0082"/><circle cx="514" cy="396.3" r="2.0" fill="#4b0082"/><circle cx="507.3" cy="357.7" r="2.0" fill="#4b0082"/><circle cx="529.1" cy="406.2" r="2.0" fill="#b22222"/><circle cx="545.2" cy="390.4" r="2.0" fill="#ffd700"/><circle cx="578.8" cy="405.7" r="2.0" fill="#ffd700"/><circle cx="517.1" cy="438.6" r="2.0" fill="#4b0082"/><circle cx="553.8" cy="335" r="2.0" fill="#b22222"/><circle cx="511.5" cy="301.1" r="2.0" fill="#ffd700"/><circle cx="545.7" cy="429.1" r="2.0" fill="#b22222"/><circle cx="499.5" cy="409.6" r="2.0" fill="#9acd32"/><circle cx="499.8" cy="390.9" r="2.0" fill="#4b0082"/><circle cx="509.1" cy="391" r="2.0" fill="#4b0082"/><circle cx="554.8" cy="387.5" r="2.0" fill="#ffd700"/><circle cx="513.4" cy="306.7" r="2.0" fill="#b22222"/><circle cx="614.3" cy="411.5" r="2.0" fill="#008080"/><circle cx="574.1" cy="402.1" r="2.0" fill="#ffd700"/><circle cx="548.5" cy="402.8" r="2.0" fill="#b22222"/><circle cx="508.5" cy="406.7" r="2.0" fill="#b22222"/><circle cx="507.9" cy="344" r="2.0" fill="#ffd700"/><circle cx="532.6" cy="409.5" r="2.0" fill="#b22222"/><circle cx="565.7" cy="377.4" r="2.0" fill="#b22222"/><circle cx="508.1" cy="408.9" r="2.0" fill="#4b0082"/><circle cx="510.2" cy="395.6" r="2.0" fill="#b22222"/><circle cx="530.3" cy="414.5" r="2.0" fill="#ffd700"/><circle cx="532.1" cy="430.7" r="2.0" fill="#ffd700"/><circle cx="548" cy="278.9" r="2.0" fill="#9acd32"/><circle cx="510" cy="369.7" r="2.0" fill="#ffd700"/><circle cx="505.3" cy="397.3" r="2.0" fill="#b22222"/><circle cx="562.3" cy="425.3" r="2.0" fill="#4b0082"/><circle cx="606.8" cy="415" r="2.0" fill="#008080"/><circle cx="511.4" cy="369.9" r="2.0" fill="#b22222"/><circle cx="511.3" cy="416.4" r="2.0" fill="#ffd700"/><circle cx="626.5" cy="264" r="2.0" fill="#b22222"/><circle cx="506.8" cy="272.7" r="2.0" fill="#ffd700"/><circle cx="542.5" cy="428.7" r="2.0" fill="#ffd700"/><circle cx="539.5" cy="400" r="2.0" fill="#b22222"/><circle cx="516" cy="420.5" r="2.0" fill="#4b0082"/><circle cx="571.9" cy="391.4" r="2.0" fill="#ffd700"/><circle cx="583.6" cy="416.7" r="2.0" fill="#008080"/><circle cx="517.2" cy="417.3" r="2.0" fill="#b22222"/><circle cx="515.3" cy="425.2" r="2.0" fill="#b22222"/><circle cx="515.4" cy="422.8" r="2.0" fill="#4b0082"/><circle cx="537.8" cy="412" r="2.0" fill="#b22222"/><circle cx="617.4" cy="399" r="2.0" fill="#9acd32"/><circle cx="539.1" cy="400.2" r="2.0" fill="#b22222"/><circle cx="586.9" cy="391.1" r="2.0" fill="#9acd32"/><circle cx="605.3" cy="400.2" r="2.0" fill="#9acd32"/><circle cx="515.6" cy="354.6" r="2.0" fill="#9acd32"/><circle cx="549.7" cy="452.3" r="2.0" fill="#4b0082"/><circle cx="601.7" cy="422.5" r="2.0" fill="#4b0082"/><circle cx="561" cy="416.9" r="2.0" fill="#4b0082"/><circle cx="612.4" cy="425.2" r="2.0" fill="#008080"/><circle cx="511.3" cy="387" r="2.0" fill="#ffd700"/><circle cx="505.8" cy="317.5" r="2.0" fill="#ffd700"/><circle cx="557.8" cy="390.1" r="2.0" fill="#b22222"/><circle cx="510.5" cy="293.1" r="2.0" fill="#b22222"/><circle cx="570.7" cy="431.2" r="2.0" fill="#9acd32"/><circle cx="510.6" cy="267.4" r="2.0" fill="#4b0082"/><circle cx="579.3" cy="420.1" r="2.0" fill="#9acd32"/><circle cx="549.1" cy="424.1" r="2.0" fill="#b22222"/><circle cx="514.7" cy="240" r="2.0" fill="#4b0082"/><circle cx="549.2" cy="442.4" r="2.0" fill="#b22222"/><circle cx="556.4" cy="396" r="2.0" fill="#4b0082"/><circle cx="513.5" cy="402.8" r="2.0" fill="#4b0082"/><circle cx="512.8" cy="305.8" r="2.0" fill="#ffd700"/><circle cx="595.8" cy="416.1" r="2.0" fill="#4b0082"/><circle cx="510.2" cy="411.3" r="2.0" fill="#b22222"/><circle cx="536.6" cy="317.6" r="2.0" fill="#ffd700"/><circle cx="536.5" cy="424.6" r="2.0" fill="#b22222"/><circle cx="593.9" cy="411.3" r="2.0" fill="#ffd700"/><circle cx="510.5" cy="380.4" r="2.0" fill="#4b0082"/><circle cx="504.5" cy="408.3" r="2.0" fill="#008080"/><circle cx="504.1" cy="385" r="2.0" fill="#4b0082"/><circle cx="600.7" cy="322" r="2.0" fill="#ffd700"/><circle cx="503.3" cy="262.2" r="2.0" fill="#4b0082"/><circle cx="556.6" cy="431.4" r="2.0" fill="#b22222"/><circle cx="531.5" cy="421.2" r="2.0" fill="#4b0082"/><circle cx="564.7" cy="390.6" r="2.0" fill="#b22222"/><circle cx="554.5" cy="419.5" r="2.0" fill="#4b0082"/><circle cx="508.5" cy="260.4" r="2.0" fill="#ffd700"/><circle cx="598" cy="448.7" r="2.0" fill="#b22222"/><circle cx="577.8" cy="392.8" r="2.0" fill="#ffd700"/><circle cx="581.7" cy="409.7" r="2.0" fill="#ffd700"/><circle cx="548.3" cy="424.8" r="2.0" fill="#b22222"/><circle cx="574.6" cy="440.5" r="2.0" fill="#b22222"/><circle cx="519.9" cy="252.6" r="2.0" fill="#ffd700"/><circle cx="518" cy="423.8" r="2.0" fill="#b22222"/><circle cx="508.4" cy="370" r="2.0" fill="#4b0082"/><circle cx="578.5" cy="410.1" r="2.0" fill="#4b0082"/><circle cx="577.1" cy="449.8" r="2.0" fill="#b22222"/><circle cx="504.3" cy="423.9" r="2.0" fill="#b22222"/><circle cx="506.4" cy="345.5" r="2.0" fill="#b22222"/><circle cx="541.2" cy="419.1" r="2.0" fill="#4b0082"/><circle cx="520.5" cy="275.4" r="2.0" fill="#4b0082"/><circle cx="613" cy="410.7" r="2.0" fill="#008080"/><circle cx="515.5" cy="305.1" r="2.0" fill="#9acd32"/><circle cx="561.6" cy="314.7" r="2.0" fill="#008080"/><circle cx="506.6" cy="358" r="2.0" fill="#b22222"/><circle cx="559.1" cy="301.8" r="2.0" fill="#ffd700"/><circle cx="560.5" cy="392.3" r="2.0" fill="#ffd700"/><circle cx="562.9" cy="393.1" r="2.0" fill="#ffd700"/><circle cx="615.2" cy="408.3" r="2.0" fill="#9acd32"/><circle cx="593.7" cy="412.7" r="2.0" fill="#008080"/><circle cx="552.8" cy="376.6" r="2.0" fill="#ffd700"/><circle cx="506" cy="421" r="2.0" fill="#b22222"/><circle cx="605.4" cy="420.2" r="2.0" fill="#ffd700"/><circle cx="504" cy="288.3" r="2.0" fill="#9acd32"/><circle cx="504.8" cy="318.8" r="2.0" fill="#008080"/><circle cx="609.2" cy="398.4" r="2.0" fill="#4b0082"/><circle cx="572.9" cy="427.5" r="2.0" fill="#4b0082"/><circle cx="605.7" cy="417.9" r="2.0" fill="#9acd32"/><circle cx="524.1" cy="419.9" r="2.0" fill="#b22222"/><circle cx="505.1" cy="410.2" r="2.0" fill="#b22222"/><circle cx="510.6" cy="396" r="2.0" fill="#4b0082"/><circle cx="515.4" cy="402.3" r="2.0" fill="#b22222"/><circle cx="592.9" cy="440.6" r="2.0" fill="#b22222"/><circle cx="606.7" cy="422.6" r="2.0" fill="#008080"/><circle cx="508.1" cy="394.5" r="2.0" fill="#b22222"/><circle cx="558.8" cy="444.3" r="2.0" fill="#4b0082"/><circle cx="504.2" cy="329.1" r="2.0" fill="#ffd700"/><circle cx="507" cy="258.5" r="2.0" fill="#b22222"/><circle cx="594" cy="451.3" r="2.0" fill="#b22222"/><circle cx="569.8" cy="407.1" r="2.0" fill="#ffd700"/><circle cx="578.7" cy="425.4" r="2.0" fill="#b22222"/><circle cx="574.3" cy="441.5" r="2.0" fill="#9acd32"/><circle cx="508.5" cy="311.9" r="2.0" fill="#008080"/><circle cx="572" cy="439.5" r="2.0" fill="#b22222"/><circle cx="509.4" cy="383.2" r="2.0" fill="#4b0082"/><circle cx="618.5" cy="407.6" r="2.0" fill="#008080"/><circle cx="502.4" cy="271.8" r="2.0" fill="#4b0082"/><circle cx="579.7" cy="406.7" r="2.0" fill="#ffd700"/><circle cx="531.3" cy="279.7" r="2.0" fill="#b22222"/><circle cx="564.6" cy="455.7" r="2.0" fill="#4b0082"/><circle cx="509" cy="375.6" r="2.0" fill="#9acd32"/><circle cx="516" cy="424.1" r="2.0" fill="#ffd700"/><circle cx="509.3" cy="393.4" r="2.0" fill="#b22222"/><circle cx="603.6" cy="432.8" r="2.0" fill="#b22222"/><circle cx="579" cy="383.3" r="2.0" fill="#4b0082"/><circle cx="579.1" cy="338.3" r="2.0" fill="#b22222"/><circle cx="508.9" cy="258.7" r="2.0" fill="#ffd700"/><circle cx="572.2" cy="413" r="2.0" fill="#ffd700"/><circle cx="510.4" cy="420" r="2.0" fill="#ffd700"/><circle cx="503.5" cy="263.9" r="2.0" fill="#4b0082"/><circle cx="508.8" cy="314.4" r="2.0" fill="#9acd32"/><circle cx="517.3" cy="273.6" r="2.0" fill="#b22222"/><circle cx="634.1" cy="405.3" r="2.0" fill="#9acd32"/><circle cx="518.5" cy="388.6" r="2.0" fill="#4b0082"/><circle cx="564" cy="409" r="2.0" fill="#b22222"/><circle cx="597.1" cy="396.9" r="2.0" fill="#008080"/><circle cx="520.8" cy="250.8" r="2.0" fill="#ffd700"/><circle cx="623" cy="322.2" r="2.0" fill="#ffd700"/><circle cx="592.1" cy="447.2" r="2.0" fill="#008080"/><circle cx="600.3" cy="412.8" r="2.0" fill="#008080"/><circle cx="509.8" cy="276.8" r="2.0" fill="#4b0082"/><circle cx="501.3" cy="402.9" r="2.0" fill="#ffd700"/><circle cx="599.8" cy="417.9" r="2.0" fill="#9acd32"/><circle cx="587.3" cy="403" r="2.0" fill="#ffd700"/><circle cx="566.3" cy="399.3" r="2.0" fill="#ffd700"/><circle cx="517.6" cy="260.6" r="2.0" fill="#4b0082"/><circle cx="550.9" cy="433.4" r="2.0" fill="#b22222"/><circle cx="594.4" cy="400.6" r="2.0" fill="#008080"/><circle cx="539" cy="412.2" r="2.0" fill="#b22222"/><circle cx="607.1" cy="415.2" r="2.0" fill="#b22222"/><circle cx="559.6" cy="436.7" r="2.0" fill="#008080"/><circle cx="541.4" cy="417.8" r="2.0" fill="#b22222"/><circle cx="547" cy="416.1" r="2.0" fill="#4b0082"/><circle cx="514.1" cy="234.2" r="2.0" fill="#b22222"/><circle cx="513.3" cy="314.1" r="2.0" fill="#b22222"/><circle cx="504.2" cy="285.8" r="2.0" fill="#4b0082"/><circle cx="515.8" cy="220" r="2.0" fill="#b22222"/><circle cx="570.2" cy="396" r="2.0" fill="#ffd700"/><circle cx="563.5" cy="411.1" r="2.0" fill="#ffd700"/><circle cx="601.2" cy="410" r="2.0" fill="#008080"/><circle cx="502.9" cy="263.9" r="2.0" fill="#008080"/><circle cx="502.8" cy="274.3" r="2.0" fill="#4b0082"/><circle cx="618.5" cy="405.7" r="2.0" fill="#9acd32"/><circle cx="506" cy="410.1" r="2.0" fill="#b22222"/><circle cx="552.5" cy="430.9" r="2.0" fill="#4b0082"/><circle cx="556.8" cy="405.5" r="2.0" fill="#ffd700"/><circle cx="612.6" cy="439.6" r="2.0" fill="#9acd32"/><circle cx="548.9" cy="448.6" r="2.0" fill="#4b0082"/><circle cx="505.4" cy="311.8" r="2.0" fill="#4b0082"/><circle cx="503.8" cy="335.7" r="2.0" fill="#4b0082"/><circle cx="508" cy="410.7" r="2.0" fill="#4b0082"/><circle cx="514.7" cy="245.9" r="2.0" fill="#4b0082"/><circle cx="565.1" cy="434.8" r="2.0" fill="#4b0082"/><circle cx="558.6" cy="316.6" r="2.0" fill="#b22222"/><circle cx="504.5" cy="333.5" r="2.0" fill="#ffd700"/><circle cx="504.1" cy="368.2" r="2.0" fill="#b22222"/><circle cx="575.7" cy="410.2" r="2.0" fill="#ffd700"/><circle cx="514.8" cy="341.5" r="2.0" fill="#4b0082"/><circle cx="516.2" cy="405.4" r="2.0" fill="#4b0082"/><circle cx="520.8" cy="430.4" r="2.0" fill="#b22222"/><circle cx="563.2" cy="426.6" r="2.0" fill="#b22222"/><circle cx="516.1" cy="292" r="2.0" fill="#ffd700"/><circle cx="511" cy="337.1" r="2.0" fill="#ffd700"/><circle cx="546.1" cy="404.7" r="2.0" fill="#b22222"/><circle cx="569.7" cy="439.2" r="2.0" fill="#b22222"/><circle cx="564.9" cy="436.7" r="2.0" fill="#b22222"/><circle cx="499.5" cy="349.1" r="2.0" fill="#9acd32"/><circle cx="504.3" cy="386.5" r="2.0" fill="#4b0082"/><circle cx="576.9" cy="430.7" r="2.0" fill="#4b0082"/><circle cx="613.2" cy="405.8" r="2.0" fill="#4b0082"/><circle cx="536.8" cy="388.8" r="2.0" fill="#b22222"/><circle cx="570.2" cy="414.3" r="2.0" fill="#ffd700"/><circle cx="561.8" cy="281.3" r="2.0" fill="#b22222"/><circle cx="501.7" cy="321" r="2.0" fill="#9acd32"/><circle cx="525.5" cy="298.3" r="2.0" fill="#b22222"/><circle cx="655.4" cy="326.6" r="2.0" fill="#ffd700"/><circle cx="551.1" cy="435.3" r="2.0" fill="#4b0082"/><circle cx="599" cy="399.5" r="2.0" fill="#4b0082"/><circle cx="512.9" cy="257.8" r="2.0" fill="#b22222"/><circle cx="510.8" cy="243" r="2.0" fill="#4b0082"/><circle cx="524.2" cy="341.6" r="2.0" fill="#9acd32"/><circle cx="515.9" cy="300.1" r="2.0" fill="#b22222"/><circle cx="511.8" cy="426.8" r="2.0" fill="#b22222"/><circle cx="591" cy="412.9" r="2.0" fill="#9acd32"/><circle cx="521.1" cy="390.4" r="2.0" fill="#4b0082"/><circle cx="614.4" cy="441.3" r="2.0" fill="#4b0082"/><circle cx="510.8" cy="416" r="2.0" fill="#b22222"/><circle cx="513" cy="322.1" r="2.0" fill="#b22222"/><circle cx="531.3" cy="396.8" r="2.0" fill="#b22222"/><circle cx="571.5" cy="423.2" r="2.0" fill="#4b0082"/><circle cx="620.6" cy="417.6" r="2.0" fill="#9acd32"/><circle cx="496.3" cy="247.3" r="2.0" fill="#008080"/><circle cx="547" cy="439.1" r="2.0" fill="#4b0082"/><circle cx="527.4" cy="426" r="2.0" fill="#b22222"/><circle cx="575" cy="413.4" r="2.0" fill="#ffd700"/><circle cx="511.3" cy="394.8" r="2.0" fill="#b22222"/><circle cx="624.7" cy="402.9" r="2.0" fill="#9acd32"/><circle cx="504.3" cy="411.9" r="2.0" fill="#b22222"/><circle cx="544.9" cy="454.7" r="2.0" fill="#4b0082"/><circle cx="594.7" cy="428" r="2.0" fill="#4b0082"/><circle cx="502.1" cy="342.3" r="2.0" fill="#9acd32"/><circle cx="610.4" cy="401.9" r="2.0" fill="#ffd700"/><circle cx="507.7" cy="284.1" r="2.0" fill="#9acd32"/><circle cx="561.3" cy="399.3" r="2.0" fill="#ffd700"/><circle cx="516" cy="381.8" r="2.0" fill="#4b0082"/><circle cx="534.5" cy="404.1" r="2.0" fill="#ffd700"/><circle cx="645.8" cy="267.9" r="2.0" fill="#ffd700"/><circle cx="607.8" cy="393.7" r="2.0" fill="#9acd32"/><circle cx="564.6" cy="408.8" r="2.0" fill="#b22222"/><circle cx="620.2" cy="405.5" r="2.0" fill="#ffd700"/><circle cx="579.2" cy="443.1" r="2.0" fill="#4b0082"/><circle cx="530.6" cy="398" r="2.0" fill="#b22222"/><circle cx="590.8" cy="425.5" r="2.0" fill="#4b0082"/><circle cx="596.3" cy="418.5" r="2.0" fill="#9acd32"/><circle cx="511.2" cy="357.8" r="2.0" fill="#9acd32"/><circle cx="666.6" cy="326.3" r="2.0" fill="#ffd700"/><circle cx="557.4" cy="397.8" r="2.0" fill="#ffd700"/><circle cx="515" cy="407.2" r="2.0" fill="#b22222"/><circle cx="608.5" cy="405.6" r="2.0" fill="#ffd700"/><circle cx="560.6" cy="405.9" r="2.0" fill="#ffd700"/><circle cx="594.5" cy="377" r="2.0" fill="#008080"/><circle cx="610" cy="378.4" r="2.0" fill="#9acd32"/><circle cx="588" cy="327.7" r="2.0" fill="#b22222"/><circle cx="568.9" cy="413" r="2.0" fill="#ffd700"/><circle cx="519" cy="242" r="2.0" fill="#4b0082"/><circle cx="579" cy="439.2" r="2.0" fill="#4b0082"/><circle cx="613.1" cy="433.6" r="2.0" fill="#9acd32"/><circle cx="558.6" cy="397.2" r="2.0" fill="#b22222"/><circle cx="510.2" cy="393" r="2.0" fill="#b22222"/><circle cx="507.9" cy="430" r="2.0" fill="#b22222"/><circle cx="524.5" cy="414.7" r="2.0" fill="#b22222"/><circle cx="599" cy="389.2" r="2.0" fill="#4b0082"/><circle cx="514.5" cy="409.7" r="2.0" fill="#b22222"/><circle cx="580.1" cy="411.4" r="2.0" fill="#ffd700"/><circle cx="514.1" cy="427.5" r="2.0" fill="#ffd700"/><circle cx="560.3" cy="419.3" r="2.0" fill="#b22222"/><circle cx="601.6" cy="408.2" r="2.0" fill="#ffd700"/><circle cx="575.7" cy="402.2" r="2.0" fill="#b22222"/><circle cx="523.1" cy="405.9" r="2.0" fill="#ffd700"/><circle cx="598.2" cy="394.7" r="2.0" fill="#008080"/><circle cx="511.2" cy="328.9" r="2.0" fill="#ffd700"/><circle cx="515.2" cy="419" r="2.0" fill="#4b0082"/><circle cx="636.9" cy="417.7" r="2.0" fill="#9acd32"/><circle cx="503.1" cy="426.2" r="2.0" fill="#b22222"/><circle cx="513.8" cy="390.9" r="2.0" fill="#b22222"/><circle cx="514.2" cy="313.3" r="2.0" fill="#008080"/><circle cx="512.9" cy="280.2" r="2.0" fill="#4b0082"/><circle cx="579.9" cy="423" r="2.0" fill="#008080"/><circle cx="621.5" cy="406.6" r="2.0" fill="#9acd32"/><circle cx="581.4" cy="407.6" r="2.0" fill="#9acd32"/><circle cx="564.5" cy="418.4" r="2.0" fill="#ffd700"/><circle cx="568.9" cy="410.4" r="2.0" fill="#ffd700"/><circle cx="550.7" cy="396.8" r="2.0" fill="#ffd700"/><circle cx="505.5" cy="357.3" r="2.0" fill="#ffd700"/><circle cx="505.8" cy="312.2" r="2.0" fill="#b22222"/><circle cx="513.4" cy="367.7" r="2.0" fill="#b22222"/><circle cx="569" cy="425" r="2.0" fill="#4b0082"/><circle cx="524.3" cy="263.1" r="2.0" fill="#008080"/><circle cx="509.9" cy="312.6" r="2.0" fill="#b22222"/><circle cx="583.8" cy="433.7" r="2.0" fill="#b22222"/><circle cx="579.9" cy="342.9" r="2.0" fill="#9acd32"/><circle cx="562.8" cy="412.7" r="2.0" fill="#ffd700"/><circle cx="627.3" cy="421" r="2.0" fill="#9acd32"/><circle cx="511.2" cy="325.1" r="2.0" fill="#ffd700"/><circle cx="505.1" cy="347.4" r="2.0" fill="#4b0082"/><circle cx="558.5" cy="397.3" r="2.0" fill="#ffd700"/><circle cx="516.1" cy="399.3" r="2.0" fill="#4b0082"/><circle cx="614.8" cy="397.2" r="2.0" fill="#008080"/><circle cx="581.6" cy="443" r="2.0" fill="#9acd32"/><circle cx="523.9" cy="352.1" r="2.0" fill="#9acd32"/><circle cx="581.9" cy="433.4" r="2.0" fill="#4b0082"/><circle cx="598.5" cy="424.6" r="2.0" fill="#9acd32"/><circle cx="619.4" cy="406.2" r="2.0" fill="#008080"/><circle cx="537.4" cy="429.8" r="2.0" fill="#4b0082"/><circle cx="587.6" cy="308.2" r="2.0" fill="#ffd700"/><circle cx="615.3" cy="398.7" r="2.0" fill="#9acd32"/><circle cx="561.5" cy="433.6" r="2.0" fill="#008080"/><circle cx="513.1" cy="266" r="2.0" fill="#9acd32"/><circle cx="598.7" cy="392.6" r="2.0" fill="#008080"/><circle cx="511.5" cy="235.9" r="2.0" fill="#4b0082"/><circle cx="512" cy="247.3" r="2.0" fill="#9acd32"/><circle cx="623.5" cy="394.6" r="2.0" fill="#4b0082"/><circle cx="506.8" cy="402.1" r="2.0" fill="#b22222"/><circle cx="512.4" cy="412.2" r="2.0" fill="#b22222"/><circle cx="562.7" cy="391.4" r="2.0" fill="#ffd700"/><circle cx="519.5" cy="440.2" r="2.0" fill="#b22222"/><circle cx="509.4" cy="250.8" r="2.0" fill="#b22222"/><circle cx="522.2" cy="324" r="2.0" fill="#4b0082"/><circle cx="568.9" cy="397.2" r="2.0" fill="#4b0082"/><circle cx="621.4" cy="391.4" r="2.0" fill="#ffd700"/><circle cx="519.4" cy="263.9" r="2.0" fill="#b22222"/><circle cx="508.9" cy="293.1" r="2.0" fill="#008080"/><circle cx="551.7" cy="407.9" r="2.0" fill="#b22222"/><circle cx="580.6" cy="394.3" r="2.0" fill="#ffd700"/><circle cx="561.1" cy="427.9" r="2.0" fill="#4b0082"/><circle cx="511.5" cy="397.9" r="2.0" fill="#b22222"/><circle cx="512.9" cy="418.8" r="2.0" fill="#ffd700"/><circle cx="618" cy="430.5" r="2.0" fill="#4b0082"/><circle cx="512.4" cy="295.1" r="2.0" fill="#4b0082"/><circle cx="556.4" cy="415.2" r="2.0" fill="#9acd32"/><circle cx="498" cy="341.9" r="2.0" fill="#b22222"/><circle cx="506" cy="380.6" r="2.0" fill="#4b0082"/><circle cx="599.6" cy="407.9" r="2.0" fill="#ffd700"/><circle cx="568.9" cy="410.4" r="2.0" fill="#4b0082"/><circle cx="595.3" cy="437.3" r="2.0" fill="#b22222"/><circle cx="501.9" cy="353.3" r="2.0" fill="#4b0082"/><circle cx="504.2" cy="242" r="2.0" fill="#4b0082"/><circle cx="558.4" cy="434.7" r="2.0" fill="#4b0082"/><circle cx="519.5" cy="271.7" r="2.0" fill="#ffd700"/><circle cx="614.9" cy="395.9" r="2.0" fill="#9acd32"/><circle cx="593.7" cy="394.3" r="2.0" fill="#008080"/><circle cx="532" cy="417.2" r="2.0" fill="#b22222"/><circle cx="546.4" cy="433.3" r="2.0" fill="#4b0082"/><circle cx="626.6" cy="411.1" r="2.0" fill="#9acd32"/><circle cx="524" cy="232.9" r="2.0" fill="#4b0082"/><circle cx="551.7" cy="409.6" r="2.0" fill="#4b0082"/><circle cx="578.5" cy="447.5" r="2.0" fill="#4b0082"/><circle cx="610.8" cy="388.5" r="2.0" fill="#9acd32"/><circle cx="598.6" cy="405.8" r="2.0" fill="#9acd32"/><circle cx="547.4" cy="445.5" r="2.0" fill="#4b0082"/><circle cx="593.9" cy="403.8" r="2.0" fill="#008080"/><circle cx="593.1" cy="391.7" r="2.0" fill="#ffd700"/><circle cx="671.1" cy="286.4" r="2.0" fill="#008080"/><circle cx="623.5" cy="404.1" r="2.0" fill="#4b0082"/><circle cx="520.5" cy="408.7" r="2.0" fill="#b22222"/><circle cx="553.5" cy="390.5" r="2.0" fill="#ffd700"/><circle cx="516.8" cy="382.5" r="2.0" fill="#4b0082"/><circle cx="503.6" cy="360.6" r="2.0" fill="#b22222"/><circle cx="566.6" cy="439" r="2.0" fill="#4b0082"/><circle cx="521.7" cy="253.3" r="2.0" fill="#b22222"/><circle cx="574.2" cy="412.6" r="2.0" fill="#ffd700"/><circle cx="508.2" cy="353.2" r="2.0" fill="#b22222"/><circle cx="600.8" cy="403.7" r="2.0" fill="#008080"/><circle cx="524.8" cy="401.3" r="2.0" fill="#b22222"/><circle cx="568.5" cy="392.8" r="2.0" fill="#ffd700"/><circle cx="547.3" cy="413.2" r="2.0" fill="#4b0082"/><circle cx="575.8" cy="438.7" r="2.0" fill="#b22222"/><circle cx="630.6" cy="425.1" r="2.0" fill="#9acd32"/><circle cx="578.6" cy="393.7" r="2.0" fill="#ffd700"/><circle cx="527.1" cy="430.7" r="2.0" fill="#4b0082"/><circle cx="505.5" cy="409.1" r="2.0" fill="#b22222"/><circle cx="612.6" cy="389.8" r="2.0" fill="#008080"/><circle cx="576.8" cy="403.7" r="2.0" fill="#ffd700"/><circle cx="500.6" cy="329.3" r="2.0" fill="#4b0082"/><circle cx="569.5" cy="432" r="2.0" fill="#4b0082"/><circle cx="502.4" cy="247.7" r="2.0" fill="#4b0082"/><circle cx="570.4" cy="396.6" r="2.0" fill="#9acd32"/><circle cx="555.6" cy="393.1" r="2.0" fill="#9acd32"/><circle cx="516.3" cy="358.2" r="2.0" fill="#008080"/><circle cx="508.2" cy="255.2" r="2.0" fill="#b22222"/><circle cx="500.7" cy="414.1" r="2.0" fill="#ffd700"/><circle cx="512.9" cy="396.2" r="2.0" fill="#4b0082"/><circle cx="563.6" cy="420.6" r="2.0" fill="#b22222"/><circle cx="619.5" cy="269.3" r="2.0" fill="#9acd32"/><circle cx="576.5" cy="449.2" r="2.0" fill="#b22222"/><circle cx="519.9" cy="264" r="2.0" fill="#b22222"/><circle cx="506.3" cy="425.8" r="2.0" fill="#b22222"/><circle cx="504.2" cy="340.5" r="2.0" fill="#ffd700"/><circle cx="515.7" cy="298.5" r="2.0" fill="#ffd700"/><circle cx="503" cy="349.2" r="2.0" fill="#4b0082"/><circle cx="512.2" cy="248.3" r="2.0" fill="#9acd32"/><circle cx="574.1" cy="397.1" r="2.0" fill="#ffd700"/><circle cx="521.4" cy="444.4" r="2.0" fill="#b22222"/><circle cx="514.9" cy="386.3" r="2.0" fill="#4b0082"/><circle cx="599.3" cy="397" r="2.0" fill="#9acd32"/><circle cx="534.4" cy="426.2" r="2.0" fill="#4b0082"/><circle cx="568.9" cy="434.3" r="2.0" fill="#4b0082"/><circle cx="509.8" cy="339.9" r="2.0" fill="#b22222"/><circle cx="503.5" cy="279.4" r="2.0" fill="#b22222"/><circle cx="622.2" cy="404.2" r="2.0" fill="#9acd32"/><circle cx="505.9" cy="392" r="2.0" fill="#b22222"/><circle cx="580.6" cy="442" r="2.0" fill="#008080"/><circle cx="628.5" cy="406.6" r="2.0" fill="#9acd32"/><circle cx="597.1" cy="396.6" r="2.0" fill="#008080"/><circle cx="510.8" cy="395.7" r="2.0" fill="#b22222"/><circle cx="619.2" cy="416" r="2.0" fill="#008080"/><circle cx="528.2" cy="281.5" r="2.0" fill="#b22222"/><circle cx="501.6" cy="342.1" r="2.0" fill="#9acd32"/><circle cx="600.6" cy="387.6" r="2.0" fill="#008080"/><circle cx="661.9" cy="323.9" r="2.0" fill="#b22222"/><circle cx="565.6" cy="407.6" r="2.0" fill="#ffd700"/><circle cx="513.2" cy="390.5" r="2.0" fill="#4b0082"/><circle cx="521.3" cy="430.4" r="2.0" fill="#b22222"/><circle cx="562.9" cy="378.6" r="2.0" fill="#ffd700"/><circle cx="534.1" cy="403.1" r="2.0" fill="#b22222"/><circle cx="618.6" cy="417" r="2.0" fill="#008080"/><circle cx="500.8" cy="402.6" r="2.0" fill="#4b0082"/><circle cx="503.2" cy="347.7" r="2.0" fill="#4b0082"/><circle cx="571.2" cy="406.1" r="2.0" fill="#ffd700"/><circle cx="586.5" cy="424.9" r="2.0" fill="#9acd32"/><circle cx="512.5" cy="409.2" r="2.0" fill="#008080"/><circle cx="615.1" cy="393.3" r="2.0" fill="#4b0082"/><circle cx="661.5" cy="289.2" r="2.0" fill="#b22222"/><circle cx="609.3" cy="388" r="2.0" fill="#008080"/><circle cx="579.9" cy="392.6" r="2.0" fill="#b22222"/><circle cx="661.9" cy="339.4" r="2.0" fill="#ffd700"/><circle cx="504.6" cy="292.4" r="2.0" fill="#b22222"/><circle cx="524.8" cy="270.8" r="2.0" fill="#008080"/><circle cx="585.1" cy="343.6" r="2.0" fill="#b22222"/><circle cx="601.4" cy="409.5" r="2.0" fill="#008080"/><circle cx="542.3" cy="407.3" r="2.0" fill="#4b0082"/><circle cx="599.9" cy="270.6" r="2.0" fill="#ffd700"/><circle cx="499.8" cy="265.2" r="2.0" fill="#9acd32"/><circle cx="503.6" cy="354.7" r="2.0" fill="#4b0082"/><circle cx="521.7" cy="263.1" r="2.0" fill="#008080"/><circle cx="510.7" cy="402.4" r="2.0" fill="#ffd700"/><circle cx="538.7" cy="404.7" r="2.0" fill="#4b0082"/><circle cx="611.5" cy="403" r="2.0" fill="#008080"/><circle cx="594.3" cy="401" r="2.0" fill="#9acd32"/><circle cx="572.9" cy="430.2" r="2.0" fill="#b22222"/><circle cx="515.5" cy="370" r="2.0" fill="#4b0082"/><circle cx="508" cy="308.1" r="2.0" fill="#ffd700"/><circle cx="608.7" cy="404.8" r="2.0" fill="#9acd32"/><circle cx="509.8" cy="410.6" r="2.0" fill="#4b0082"/><circle cx="508" cy="352.4" r="2.0" fill="#b22222"/><circle cx="541.5" cy="423.3" r="2.0" fill="#4b0082"/><circle cx="559.4" cy="428.3" r="2.0" fill="#4b0082"/><circle cx="547" cy="403.8" r="2.0" fill="#ffd700"/><circle cx="508.8" cy="410.8" r="2.0" fill="#4b0082"/><circle cx="543.8" cy="297.9" r="2.0" fill="#b22222"/><circle cx="508.6" cy="406.1" r="2.0" fill="#4b0082"/><circle cx="512.3" cy="254.1" r="2.0" fill="#4b0082"/><circle cx="584.2" cy="396.3" r="2.0" fill="#ffd700"/><circle cx="501.5" cy="399.4" r="2.0" fill="#4b0082"/><circle cx="511.7" cy="322.4" r="2.0" fill="#b22222"/><circle cx="513.2" cy="354.4" r="2.0" fill="#ffd700"/><circle cx="564" cy="415.7" r="2.0" fill="#b22222"/><circle cx="512.9" cy="276.7" r="2.0" fill="#9acd32"/><circle cx="581.3" cy="417" r="2.0" fill="#4b0082"/><circle cx="577.4" cy="421.5" r="2.0" fill="#ffd700"/><circle cx="522.1" cy="422.5" r="2.0" fill="#b22222"/><circle cx="535.7" cy="404.3" r="2.0" fill="#4b0082"/><circle cx="548.6" cy="403.8" r="2.0" fill="#b22222"/><circle cx="565.9" cy="416.2" r="2.0" fill="#9acd32"/><circle cx="551" cy="391.2" r="2.0" fill="#ffd700"/><circle cx="512" cy="285.8" r="2.0" fill="#b22222"/><circle cx="498" cy="286.2" r="2.0" fill="#ffd700"/><circle cx="571.6" cy="403.3" r="2.0" fill="#4b0082"/><circle cx="543" cy="425.6" r="2.0" fill="#4b0082"/><circle cx="527.3" cy="420.2" r="2.0" fill="#b22222"/><circle cx="603.4" cy="423.5" r="2.0" fill="#4b0082"/><circle cx="586" cy="450.6" r="2.0" fill="#008080"/><circle cx="589" cy="420.9" r="2.0" fill="#ffd700"/><circle cx="594.6" cy="394.3" r="2.0" fill="#008080"/><circle cx="614.6" cy="402.9" r="2.0" fill="#4b0082"/><circle cx="501.2" cy="340.2" r="2.0" fill="#4b0082"/><circle cx="578.7" cy="330" r="2.0" fill="#9acd32"/><circle cx="573.6" cy="423.9" r="2.0" fill="#ffd700"/><circle cx="516.5" cy="321.6" r="2.0" fill="#b22222"/><circle cx="571.2" cy="406.2" r="2.0" fill="#b22222"/><circle cx="516.1" cy="289.3" r="2.0" fill="#ffd700"/><circle cx="555.3" cy="456.8" r="2.0" fill="#4b0082"/><circle cx="540.1" cy="442.4" r="2.0" fill="#4b0082"/><circle cx="508.1" cy="417.3" r="2.0" fill="#4b0082"/><circle cx="548" cy="421.1" r="2.0" fill="#4b0082"/><circle cx="542.7" cy="423.4" r="2.0" fill="#b22222"/><circle cx="599.1" cy="404.9" r="2.0" fill="#9acd32"/><circle cx="580" cy="278.5" r="2.0" fill="#ffd700"/><circle cx="565" cy="407.1" r="2.0" fill="#4b0082"/><circle cx="509.9" cy="260.2" r="2.0" fill="#4b0082"/><circle cx="513.8" cy="362.4" r="2.0" fill="#008080"/><circle cx="518.3" cy="404.7" r="2.0" fill="#b22222"/><circle cx="498.7" cy="401.2" r="2.0" fill="#ffd700"/><circle cx="661" cy="331.3" r="2.0" fill="#ffd700"/><circle cx="514.7" cy="394.9" r="2.0" fill="#4b0082"/><circle cx="545" cy="410.4" r="2.0" fill="#b22222"/><circle cx="613.2" cy="390.2" r="2.0" fill="#4b0082"/><circle cx="613.7" cy="285.1" r="2.0" fill="#b22222"/><circle cx="612.7" cy="417.1" r="2.0" fill="#008080"/><circle cx="508.3" cy="241.7" r="2.0" fill="#b22222"/><circle cx="501.3" cy="359.2" r="2.0" fill="#4b0082"/><circle cx="543.2" cy="391" r="2.0" fill="#b22222"/><circle cx="510.2" cy="406" r="2.0" fill="#b22222"/><circle cx="573.6" cy="432.8" r="2.0" fill="#4b0082"/><circle cx="535.1" cy="410.1" r="2.0" fill="#b22222"/><circle cx="564.2" cy="405.8" r="2.0" fill="#ffd700"/><circle cx="579.2" cy="404.7" r="2.0" fill="#9acd32"/><circle cx="513.4" cy="374.6" r="2.0" fill="#4b0082"/><circle cx="514.9" cy="296.1" r="2.0" fill="#ffd700"/><circle cx="499.2" cy="407.3" r="2.0" fill="#b22222"/><circle cx="595.8" cy="443.4" r="2.0" fill="#4b0082"/><circle cx="523.4" cy="260.4" r="2.0" fill="#b22222"/><circle cx="620.9" cy="408.6" r="2.0" fill="#008080"/><circle cx="582.7" cy="414.3" r="2.0" fill="#ffd700"/><circle cx="542.7" cy="406" r="2.0" fill="#b22222"/><circle cx="496.9" cy="327.5" r="2.0" fill="#9acd32"/><circle cx="515.6" cy="419.2" r="2.0" fill="#9acd32"/><circle cx="599.7" cy="404.4" r="2.0" fill="#008080"/><circle cx="499" cy="421.4" r="2.0" fill="#4b0082"/><circle cx="492.9" cy="387.7" r="2.0" fill="#4b0082"/><circle cx="502" cy="288.9" r="2.0" fill="#4b0082"/><circle cx="506.5" cy="313.1" r="2.0" fill="#4b0082"/><circle cx="617.4" cy="391.1" r="2.0" fill="#008080"/><circle cx="579.7" cy="439.2" r="2.0" fill="#4b0082"/><circle cx="513.3" cy="307.9" r="2.0" fill="#9acd32"/><circle cx="571.3" cy="373.7" r="2.0" fill="#4b0082"/><circle cx="559.3" cy="409.1" r="2.0" fill="#b22222"/><circle cx="544.8" cy="426.9" r="2.0" fill="#4b0082"/><circle cx="552.8" cy="399.5" r="2.0" fill="#b22222"/><circle cx="509.2" cy="403.9" r="2.0" fill="#ffd700"/><circle cx="522.6" cy="278.8" r="2.0" fill="#9acd32"/><circle cx="503.8" cy="333.5" r="2.0" fill="#4b0082"/><circle cx="511.9" cy="411.9" r="2.0" fill="#4b0082"/><circle cx="588.1" cy="410" r="2.0" fill="#ffd700"/><circle cx="595.3" cy="417.2" r="2.0" fill="#b22222"/><circle cx="505" cy="390.2" r="2.0" fill="#b22222"/><circle cx="514" cy="391.9" r="2.0" fill="#b22222"/><circle cx="625.5" cy="395" r="2.0" fill="#4b0082"/><circle cx="558.9" cy="440" r="2.0" fill="#4b0082"/><circle cx="597.7" cy="426.2" r="2.0" fill="#9acd32"/><circle cx="555.8" cy="423.3" r="2.0" fill="#4b0082"/><circle cx="553.2" cy="445.5" r="2.0" fill="#b22222"/><circle cx="659.3" cy="284.1" r="2.0" fill="#9acd32"/><circle cx="512.7" cy="241.5" r="2.0" fill="#4b0082"/><circle cx="511.2" cy="374.7" r="2.0" fill="#9acd32"/><circle cx="510.4" cy="397.6" r="2.0" fill="#4b0082"/><circle cx="545.9" cy="425.8" r="2.0" fill="#4b0082"/><circle cx="510.2" cy="408" r="2.0" fill="#b22222"/><circle cx="590.6" cy="445.6" r="2.0" fill="#4b0082"/><circle cx="510.9" cy="365.4" r="2.0" fill="#b22222"/><circle cx="573.1" cy="386.2" r="2.0" fill="#ffd700"/><circle cx="565.7" cy="441.3" r="2.0" fill="#4b0082"/><circle cx="510.4" cy="331.3" r="2.0" fill="#4b0082"/><circle cx="563.7" cy="322.8" r="2.0" fill="#4b0082"/><circle cx="579.2" cy="432.2" r="2.0" fill="#008080"/><circle cx="594.1" cy="416.8" r="2.0" fill="#ffd700"/><circle cx="602.2" cy="396.3" r="2.0" fill="#008080"/><circle cx="510.7" cy="369.4" r="2.0" fill="#4b0082"/><circle cx="514.9" cy="333.4" r="2.0" fill="#9acd32"/><circle cx="514.4" cy="397.4" r="2.0" fill="#b22222"/><circle cx="605.3" cy="399.7" r="2.0" fill="#9acd32"/><circle cx="614.1" cy="295.7" r="2.0" fill="#ffd700"/><circle cx="562.8" cy="433.3" r="2.0" fill="#4b0082"/><circle cx="499.6" cy="419.5" r="2.0" fill="#b22222"/><circle cx="612.3" cy="406.2" r="2.0" fill="#9acd32"/><circle cx="506.6" cy="372.9" r="2.0" fill="#9acd32"/><circle cx="568.2" cy="424.3" r="2.0" fill="#4b0082"/><circle cx="516.9" cy="279.1" r="2.0" fill="#b22222"/><circle cx="498.4" cy="364.1" r="2.0" fill="#008080"/><circle cx="552.3" cy="387.1" r="2.0" fill="#ffd700"/><circle cx="507.1" cy="267.4" r="2.0" fill="#ffd700"/><circle cx="515.2" cy="355.9" r="2.0" fill="#9acd32"/><circle cx="601.1" cy="422.1" r="2.0" fill="#008080"/><circle cx="514" cy="418.1" r="2.0" fill="#ffd700"/><circle cx="503.3" cy="336.7" r="2.0" fill="#4b0082"/><circle cx="511.4" cy="371" r="2.0" fill="#4b0082"/><circle cx="618.9" cy="407.3" r="2.0" fill="#9acd32"/><circle cx="572.4" cy="389.5" r="2.0" fill="#9acd32"/><circle cx="510.6" cy="349.1" r="2.0" fill="#9acd32"/><circle cx="539.3" cy="414.8" r="2.0" fill="#4b0082"/><circle cx="510.1" cy="319.2" r="2.0" fill="#9acd32"/><circle cx="628.9" cy="275.5" r="2.0" fill="#b22222"/><circle cx="508.5" cy="292.7" r="2.0" fill="#4b0082"/><circle cx="620.1" cy="405.3" r="2.0" fill="#008080"/><circle cx="604.9" cy="404.9" r="2.0" fill="#008080"/><circle cx="509" cy="344" r="2.0" fill="#008080"/><circle cx="565.5" cy="380.7" r="2.0" fill="#ffd700"/><circle cx="560.7" cy="271" r="2.0" fill="#b22222"/><circle cx="547.1" cy="345" r="2.0" fill="#9acd32"/><circle cx="548.4" cy="436" r="2.0" fill="#4b0082"/><circle cx="581" cy="443" r="2.0" fill="#4b0082"/><circle cx="607.7" cy="399.2" r="2.0" fill="#ffd700"/><circle cx="600.4" cy="338.9" r="2.0" fill="#b22222"/><circle cx="510.3" cy="271.8" r="2.0" fill="#b22222"/><circle cx="539" cy="417.5" r="2.0" fill="#b22222"/><circle cx="545.3" cy="419" r="2.0" fill="#b22222"/><circle cx="508.4" cy="336.4" r="2.0" fill="#b22222"/><circle cx="507.4" cy="337" r="2.0" fill="#008080"/><circle cx="555.9" cy="438.5" r="2.0" fill="#b22222"/><circle cx="552.7" cy="423.1" r="2.0" fill="#b22222"/><circle cx="591.3" cy="407.4" r="2.0" fill="#ffd700"/><circle cx="509.3" cy="385.3" r="2.0" fill="#4b0082"/><circle cx="668.3" cy="276.6" r="2.0" fill="#ffd700"/><circle cx="616.8" cy="395.5" r="2.0" fill="#4b0082"/><circle cx="509.3" cy="325.8" r="2.0" fill="#4b0082"/><circle cx="559.4" cy="417.8" r="2.0" fill="#ffd700"/><circle cx="503.9" cy="395.8" r="2.0" fill="#b22222"/><circle cx="588.4" cy="407.5" r="2.0" fill="#ffd700"/><circle cx="524.9" cy="413.7" r="2.0" fill="#b22222"/><circle cx="504.3" cy="416.4" r="2.0" fill="#b22222"/><circle cx="618.5" cy="422.2" r="2.0" fill="#9acd32"/><circle cx="543.3" cy="435.4" r="2.0" fill="#b22222"/><circle cx="512.2" cy="409.6" r="2.0" fill="#b22222"/><circle cx="575.2" cy="441.2" r="2.0" fill="#008080"/><circle cx="598.9" cy="419.6" r="2.0" fill="#008080"/><circle cx="522.5" cy="259.8" r="2.0" fill="#4b0082"/><circle cx="553.6" cy="427" r="2.0" fill="#b22222"/><circle cx="584.6" cy="392.5" r="2.0" fill="#4b0082"/><circle cx="587.6" cy="441" r="2.0" fill="#b22222"/><circle cx="509.2" cy="320.6" r="2.0" fill="#b22222"/><circle cx="515.3" cy="326" r="2.0" fill="#ffd700"/><circle cx="563.5" cy="441.8" r="2.0" fill="#008080"/><circle cx="548.1" cy="406.9" r="2.0" fill="#ffd700"/><circle cx="568.2" cy="429.6" r="2.0" fill="#4b0082"/><circle cx="517.2" cy="371.7" r="2.0" fill="#008080"/><circle cx="597.2" cy="379.4" r="2.0" fill="#4b0082"/><circle cx="499.1" cy="373" r="2.0" fill="#008080"/><circle cx="506.8" cy="249.1" r="2.0" fill="#4b0082"/><circle cx="521.9" cy="387.3" r="2.0" fill="#4b0082"/><circle cx="511.2" cy="263.1" r="2.0" fill="#b22222"/><circle cx="589.8" cy="383.2" r="2.0" fill="#008080"/><circle cx="556.9" cy="406.9" r="2.0" fill="#ffd700"/><circle cx="563.9" cy="445.9" r="2.0" fill="#4b0082"/><circle cx="545.5" cy="436.6" r="2.0" fill="#b22222"/><circle cx="668.7" cy="343.9" r="2.0" fill="#ffd700"/><circle cx="592.3" cy="432.7" r="2.0" fill="#4b0082"/><circle cx="620.7" cy="404.5" r="2.0" fill="#008080"/><circle cx="563.5" cy="404.8" r="2.0" fill="#ffd700"/><circle cx="568.1" cy="434.3" r="2.0" fill="#b22222"/><circle cx="577.9" cy="398.7" r="2.0" fill="#ffd700"/><circle cx="493.4" cy="404.2" r="2.0" fill="#b22222"/><circle cx="545.9" cy="440.2" r="2.0" fill="#4b0082"/><circle cx="498.9" cy="398.6" r="2.0" fill="#b22222"/><circle cx="506.1" cy="415.1" r="2.0" fill="#b22222"/><circle cx="597.3" cy="407.4" r="2.0" fill="#9acd32"/><circle cx="501.7" cy="402.9" r="2.0" fill="#4b0082"/><circle cx="506.8" cy="395.8" r="2.0" fill="#4b0082"/><circle cx="515" cy="410" r="2.0" fill="#b22222"/><circle cx="580.5" cy="379.8" r="2.0" fill="#b22222"/><circle cx="521.6" cy="349.2" r="2.0" fill="#4b0082"/><circle cx="532" cy="398.4" r="2.0" fill="#b22222"/><circle cx="549.5" cy="423.5" r="2.0" fill="#4b0082"/><circle cx="606.2" cy="443.8" r="2.0" fill="#b22222"/><circle cx="573.2" cy="432.9" r="2.0" fill="#4b0082"/><circle cx="574.9" cy="389.1" r="2.0" fill="#ffd700"/><circle cx="509.2" cy="281.9" r="2.0" fill="#b22222"/><circle cx="554.1" cy="451.8" r="2.0" fill="#4b0082"/><circle cx="542.2" cy="416.2" r="2.0" fill="#b22222"/><circle cx="562.6" cy="389.5" r="2.0" fill="#b22222"/><circle cx="514" cy="393.8" r="2.0" fill="#b22222"/><circle cx="552.2" cy="398.7" r="2.0" fill="#ffd700"/><circle cx="605.7" cy="402.7" r="2.0" fill="#9acd32"/><circle cx="624.4" cy="342.2" r="2.0" fill="#9acd32"/><circle cx="533.4" cy="278" r="2.0" fill="#b22222"/><circle cx="505" cy="281.5" r="2.0" fill="#008080"/><circle cx="494.2" cy="335.4" r="2.0" fill="#4b0082"/><circle cx="673.5" cy="338.6" r="2.0" fill="#ffd700"/><circle cx="501.5" cy="280.6" r="2.0" fill="#4b0082"/><circle cx="583.6" cy="401.7" r="2.0" fill="#ffd700"/><circle cx="588.7" cy="397.7" r="2.0" fill="#ffd700"/><circle cx="545.3" cy="412.2" r="2.0" fill="#4b0082"/><circle cx="575.7" cy="395" r="2.0" fill="#ffd700"/><circle cx="598.8" cy="408.6" r="2.0" fill="#ffd700"/><circle cx="606.4" cy="423.9" r="2.0" fill="#008080"/><circle cx="579.3" cy="412.5" r="2.0" fill="#b22222"/><circle cx="512.3" cy="425.5" r="2.0" fill="#4b0082"/><circle cx="580.5" cy="418.5" r="2.0" fill="#4b0082"/><circle cx="569.4" cy="411.8" r="2.0" fill="#b22222"/><circle cx="508.9" cy="393.4" r="2.0" fill="#4b0082"/><circle cx="603.4" cy="418.6" r="2.0" fill="#9acd32"/><circle cx="514.3" cy="292.7" r="2.0" fill="#9acd32"/><circle cx="540.1" cy="434" r="2.0" fill="#008080"/><circle cx="577.4" cy="418.2" r="2.0" fill="#ffd700"/><circle cx="502.3" cy="344.5" r="2.0" fill="#ffd700"/><circle cx="559.3" cy="438.9" r="2.0" fill="#b22222"/><circle cx="573.5" cy="403.2" r="2.0" fill="#ffd700"/><circle cx="501.3" cy="401.3" r="2.0" fill="#b22222"/></g><path d="M290.1 294.4L293.6 333.2L295.3 372L290.1 400.7L294.4 422.2" fill="none" stroke="#000" stroke-width="3.5" stroke-linejoin="round"/><circle cx="290.1" cy="294.4" r="3.9" fill="none" stroke="#000" stroke-width="1.1"/><circle cx="293.6" cy="333.2" r="3.9" fill="none" stroke="#000" stroke-width="1.1"/><circle cx="295.3" cy="372" r="3.9" fill="none" stroke="#000" stroke-width="1.1"/><circle cx="290.1" cy="400.7" r="3.9" fill="none" stroke="#000" stroke-width="1.1"/><circle cx="294.4" cy="422.2" r="3.9" fill="none" stroke="#000" stroke-width="1.1"/><path d="M386.9 326.9L383.7 358.1L383.7 378.2L377.4 396.5L358.2 407" fill="none" stroke="#000" stroke-width="3.5" stroke-linejoin="round"/><path d="M386.9 322.1l4.6 4.8l-4.6 4.8l-4.6-4.8z" fill="#000"/><path d="M383.7 353.3l4.6 4.8l-4.6 4.8l-4.6-4.8z" fill="#000"/><path d="M383.7 373.4l4.6 4.8l-4.6 4.8l-4.6-4.8z" fill="#000"/><path d="M377.4 391.7l4.6 4.8l-4.6 4.8l-4.6-4.8z" fill="#000"/><path d="M358.2 402.2l4.6 4.8l-4.6 4.8l-4.6-4.8z" fill="#000"/><path d="M513.6 340.3L502.7 364.4L515.2 412.6" fill="none" stroke="#000" stroke-width="3.5" stroke-linejoin="round"/><circle cx="513.6" cy="340.3" r="3.9" fill="none" stroke="#000" stroke-width="1.1"/><circle cx="502.7" cy="364.4" r="3.9" fill="none" stroke="#000" stroke-width="1.1"/><circle cx="515.2" cy="412.6" r="3.9" fill="none" stroke="#000" stroke-width="1.1"/><path d="M502.7 364.4L507.5 388.5L511.9 403.8L515.2 412.6" fill="none" stroke="#000" stroke-width="3.5" stroke-linejoin="round"/><path d="M621.4 340.8L595.5 357.8L589.6 383.7L603.4 417" fill="none" stroke="#000" stroke-width="3.5" stroke-linejoin="round"/><path d="M621.4 336l4.6 4.8l-4.6 4.8l-4.6-4.8z" fill="#000"/><path d="M595.5 353l4.6 4.8l-4.6 4.8l-4.6-4.8z" fill="#000"/><path d="M589.6 378.9l4.6 4.8l-4.6 4.8l-4.6-4.8z" fill="#000"/><path d="M603.4 412.2l4.6 4.8l-4.6 4.8l-4.6-4.8z" fill="#000"/><circle cx="378.9" cy="201.2" r="3.6" fill="#b22222"/><text x="385.5" y="204.1" font-size="8.2">G1/S</text><circle cx="378.9" cy="210.5" r="3.6" fill="#ffd700"/><text x="385.5" y="213.4" font-size="8.2">S</text><circle cx="378.9" cy="219.8" r="3.6" fill="#9acd32"/><text x="385.5" y="222.7" font-size="8.2">G2</text><circle cx="378.9" cy="229.1" r="3.6" fill="#008080"/><text x="385.5" y="232" font-size="8.2">G2/M</text><circle cx="378.9" cy="238.4" r="3.6" fill="#4b0082"/><text x="385.5" y="241.3" font-size="8.2">M/G1</text><circle cx="411.8" cy="201.2" r="3.4" fill="none" stroke="#000" stroke-width="1.2"/><path d="M411.8 206.5l4 4l-4 4l-4-4z" fill="#fff" stroke="#000" stroke-width="1.15"/><text x="418.2" y="204.1" font-size="8.2">G1 traj</text><text x="418.2" y="213.4" font-size="8.2">G2/M traj</text><circle cx="610.5" cy="200.9" r="3.6" fill="#b22222"/><text x="617.1" y="203.8" font-size="8.2">G1/S</text><circle cx="610.5" cy="210.2" r="3.6" fill="#ffd700"/><text x="617.1" y="213.1" font-size="8.2">S</text><circle cx="610.5" cy="219.5" r="3.6" fill="#9acd32"/><text x="617.1" y="222.4" font-size="8.2">G2</text><circle cx="610.5" cy="228.8" r="3.6" fill="#008080"/><text x="617.1" y="231.7" font-size="8.2">G2/M</text><circle cx="610.5" cy="238.1" r="3.6" fill="#4b0082"/><text x="617.1" y="241" font-size="8.2">M/G1</text><circle cx="643.8" cy="200.9" r="3.4" fill="none" stroke="#000" stroke-width="1.2"/><path d="M643.8 206.2l4 4l-4 4l-4-4z" fill="#fff" stroke="#000" stroke-width="1.15"/><text x="650.2" y="203.8" font-size="8.2">G1 traj</text><text x="650.2" y="213.1" font-size="8.2">G2/M traj</text><text x="246.7" y="344.4" font-size="9.6" text-anchor="middle">EMT</text><text x="294.6" y="484" font-size="9.6" text-anchor="middle">DC1</text><text x="397.2" y="480.3" font-size="9.6" text-anchor="middle">DC2</text><text x="467" y="344.4" font-size="9.6" text-anchor="middle">EMT</text><text x="514.9" y="484.8" font-size="9.6" text-anchor="middle">DC1</text><text x="629.8" y="477.1" font-size="9.6" text-anchor="middle">DC2</text><text x="231.4" y="186.6" font-size="16.5" font-weight="bold">f</text><text x="457.8" y="186.1" font-size="16.5" font-weight="bold">g</text><path d="M404 13.8L405.1 16.8L408.4 17L405.8 19L406.7 22.1L404 20.3L401.3 22.1L402.2 19L399.6 17L402.9 16.8Z" fill="#ffff00"/><path d="M404 24.6l3.4 6.6h-6.8z" fill="#111"/><text x="409.2" y="22.1" font-size="8.1">start point</text><text x="409.2" y="31" font-size="8.1">end point</text><text x="409.2" y="40" font-size="8.1">pseudotime</text><rect x="409.3" y="42.9" width="42" height="4.7" fill="url(#plasma)"/><path d="M635.4 12.8L636.5 15.8L639.8 16L637.2 18L638.1 21.1L635.4 19.3L632.7 21.1L633.6 18L631 16L634.3 15.8Z" fill="#ffff00"/><path d="M635.4 23.6l3.4 6.6h-6.8z" fill="#111"/><text x="641" y="21.2" font-size="8.1">start point</text><text x="641" y="30.1" font-size="8.1">end point</text><text x="641" y="39" font-size="8.1">pseudotime</text><rect x="641.1" y="41.9" width="41.9" height="4.7" fill="url(#plasma)"/><circle cx="168.7" cy="201.5" r="3.5" fill="none" stroke="#111" stroke-width="1.15"/><path d="M168.7 206.9l4.1 4.1l-4.1 4.1l-4.1-4.1z" fill="#fff" stroke="#111" stroke-width="1.1"/><text x="175.8" y="203.6" font-size="8.1">G1 traj</text><text x="175.8" y="213.1" font-size="8.1">G2/M traj</text><text x="176.9" y="221.3" font-size="8.1">pseudotime</text><rect x="176.9" y="225.1" width="41.8" height="4.7" fill="url(#plasma)"/><circle cx="170.4" cy="364.2" r="3.5" fill="none" stroke="#111" stroke-width="1.15"/><path d="M170.4 369.6l4.1 4.1l-4.1 4.1l-4.1-4.1z" fill="#fff" stroke="#111" stroke-width="1.1"/><text x="176.5" y="366.3" font-size="8.1">G1 traj</text><text x="176.5" y="375.8" font-size="8.1">G2/M traj</text><text x="177.6" y="384" font-size="8.1">pseudotime</text><rect x="177.6" y="387.8" width="41.8" height="4.7" fill="url(#plasma)"/><path d="M98.1 238.3L96.1 257.4L96.1 279.2L81.8 297.2L70 304.7" fill="none" stroke="#555" stroke-width="1.9" stroke-linejoin="round"/><path d="M98.1 234.3l4 4l-4 4l-4-4z" fill="#f0f921" stroke="#333" stroke-width=".5"/><path d="M96.1 253.4l4 4l-4 4l-4-4z" fill="#f89540" stroke="#333" stroke-width=".5"/><path d="M96.1 275.2l4 4l-4 4l-4-4z" fill="#cc4778" stroke="#333" stroke-width=".5"/><path d="M81.8 293.2l4 4l-4 4l-4-4z" fill="#7e03a8" stroke="#333" stroke-width=".5"/><path d="M70 300.7l4 4l-4 4l-4-4z" fill="#0d0887" stroke="#333" stroke-width=".5"/><path d="M164.1 260.4L168.3 276.4L175.6 284.1L184.3 292.3L182.9 303.2" fill="none" stroke="#555" stroke-width="1.9" stroke-linejoin="round"/><path d="M164.1 256.4l4 4l-4 4l-4-4z" fill="#f0f921" stroke="#333" stroke-width=".5"/><path d="M168.3 272.4l4 4l-4 4l-4-4z" fill="#f89540" stroke="#333" stroke-width=".5"/><path d="M175.6 280.1l4 4l-4 4l-4-4z" fill="#cc4778" stroke="#333" stroke-width=".5"/><path d="M184.3 288.3l4 4l-4 4l-4-4z" fill="#7e03a8" stroke="#333" stroke-width=".5"/><path d="M182.9 299.2l4 4l-4 4l-4-4z" fill="#0d0887" stroke="#333" stroke-width=".5"/><path d="M72.9 438.6L75.8 452.2L80.7 468.9L80.1 480" fill="none" stroke="#555" stroke-width="1.9" stroke-linejoin="round"/><path d="M72.9 434.6l4 4l-4 4l-4-4z" fill="#f0f921" stroke="#333" stroke-width=".5"/><path d="M75.8 448.2l4 4l-4 4l-4-4z" fill="#cc4778" stroke="#333" stroke-width=".5"/><path d="M80.7 464.9l4 4l-4 4l-4-4z" fill="#7e03a8" stroke="#333" stroke-width=".5"/><path d="M80.1 476l4 4l-4 4l-4-4z" fill="#0d0887" stroke="#333" stroke-width=".5"/><path d="M161.8 422.5L162.8 440.5L170 464.6L161.8 472.8" fill="none" stroke="#555" stroke-width="1.9" stroke-linejoin="round"/><path d="M161.8 418.5l4 4l-4 4l-4-4z" fill="#f0f921" stroke="#333" stroke-width=".5"/><path d="M162.8 436.5l4 4l-4 4l-4-4z" fill="#f89540" stroke="#333" stroke-width=".5"/><path d="M170 460.6l4 4l-4 4l-4-4z" fill="#cc4778" stroke="#333" stroke-width=".5"/><path d="M161.8 468.8l4 4l-4 4l-4-4z" fill="#0d0887" stroke="#333" stroke-width=".5"/></svg></body></html>
